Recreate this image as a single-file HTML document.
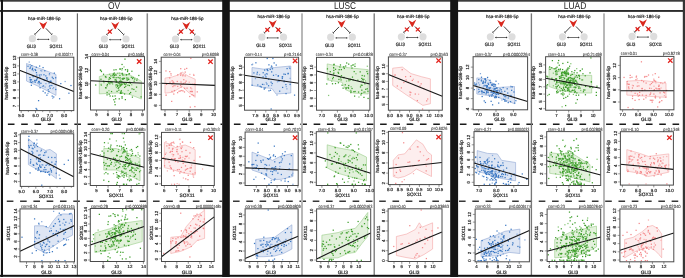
<!DOCTYPE html>
<html><head><meta charset="utf-8"><style>
html,body{margin:0;padding:0;background:#fff;}
svg{display:block;will-change:transform;}
text{font-family:"Liberation Sans",sans-serif;text-rendering:geometricPrecision;}
</style></head><body>
<svg width="685" height="278" viewBox="0 0 685 278" font-family="Liberation Sans, sans-serif">
<rect width="685" height="278" fill="#ffffff"/>
<text x="114.00" y="8.85" font-size="9.9" fill="#262626" text-anchor="middle" textLength="12.20" lengthAdjust="spacingAndGlyphs" >OV</text>
<text x="345.00" y="8.85" font-size="9.9" fill="#262626" text-anchor="middle" textLength="22.20" lengthAdjust="spacingAndGlyphs" >LUSC</text>
<text x="575.00" y="8.85" font-size="9.9" fill="#262626" text-anchor="middle" textLength="22.40" lengthAdjust="spacingAndGlyphs" >LUAD</text>
<rect x="0" y="10.1" width="685" height="1.7" fill="#151515"/>
<line x1="2.90" y1="124.3" x2="222.20" y2="124.3" stroke="#1a1a1a" stroke-width="1.5" stroke-dasharray="6.6 6.69" stroke-dashoffset="-5.0"/>
<line x1="2.90" y1="201.2" x2="222.20" y2="201.2" stroke="#383838" stroke-width="1.5" stroke-dasharray="6.6 6.69" stroke-dashoffset="-3.9"/>
<line x1="229.80" y1="124.3" x2="450.20" y2="124.3" stroke="#1a1a1a" stroke-width="1.5" stroke-dasharray="6.6 6.69" stroke-dashoffset="-4.1"/>
<line x1="229.80" y1="201.2" x2="450.20" y2="201.2" stroke="#383838" stroke-width="1.5" stroke-dasharray="6.6 6.69" stroke-dashoffset="-3.2"/>
<line x1="457.90" y1="124.3" x2="682.70" y2="124.3" stroke="#1a1a1a" stroke-width="1.5" stroke-dasharray="6.6 6.69" stroke-dashoffset="-2.0"/>
<line x1="457.90" y1="201.2" x2="682.70" y2="201.2" stroke="#383838" stroke-width="1.5" stroke-dasharray="6.6 6.69" stroke-dashoffset="-1.1"/>
<rect x="76.83" y="13.4" width="1.15" height="262" fill="#666"/>
<rect x="146.55" y="13.4" width="1.5" height="262" fill="#8c8c8c"/>
<rect x="301.00" y="13.4" width="2.0" height="262" fill="#b8b8b8"/>
<rect x="373.57" y="13.4" width="1.25" height="262" fill="#707070"/>
<rect x="530.73" y="13.4" width="1.35" height="262" fill="#777"/>
<rect x="603.00" y="13.4" width="2.0" height="262" fill="#b8b8b8"/>
<text x="44.30" y="19.80" font-size="4.5" fill="#222" text-anchor="middle" stroke="#222" stroke-width="0.18" textLength="32.50" lengthAdjust="spacingAndGlyphs" >hsa-miR-186-5p</text>
<path d="M39.20,22.00L43.30,24.10L47.30,21.50L43.90,28.40L43.30,29.00L42.70,28.40Z" fill="#d9281e"/>
<line x1="40.70" y1="28.40" x2="34.90" y2="34.40" stroke="#2a2a2a" stroke-width="0.9"/>
<line x1="35.69" y1="35.16" x2="34.11" y2="33.64" stroke="#333" stroke-width="0.8"/>
<line x1="45.90" y1="28.40" x2="51.70" y2="34.40" stroke="#2a2a2a" stroke-width="0.9"/>
<line x1="52.49" y1="33.64" x2="50.91" y2="35.16" stroke="#333" stroke-width="0.8"/>
<circle cx="32.40" cy="38.70" r="3.6" fill="#dddddd"/>
<circle cx="54.00" cy="38.70" r="3.6" fill="#dddddd"/>
<line x1="37.80" y1="39.40" x2="48.60" y2="39.40" stroke="#333" stroke-width="0.7"/>
<path d="M36.80,39.40l1.6,-0.9v1.8z M49.60,39.40l-1.6,-0.9v1.8z" fill="#333"/>
<text x="31.20" y="48.00" font-size="4.8" fill="#222" text-anchor="middle" stroke="#222" stroke-width="0.18" textLength="9.00" lengthAdjust="spacingAndGlyphs" >GLI3</text>
<text x="56.00" y="48.00" font-size="4.8" fill="#222" text-anchor="middle" stroke="#222" stroke-width="0.18" textLength="12.90" lengthAdjust="spacingAndGlyphs" >SOX11</text>
<text x="116.30" y="20.10" font-size="4.5" fill="#222" text-anchor="middle" stroke="#222" stroke-width="0.18" textLength="32.50" lengthAdjust="spacingAndGlyphs" >hsa-miR-186-5p</text>
<path d="M111.20,22.30L115.30,24.40L119.30,21.80L115.90,28.70L115.30,29.30L114.70,28.70Z" fill="#d9281e"/>
<line x1="112.70" y1="28.70" x2="106.90" y2="34.70" stroke="#2a2a2a" stroke-width="0.9"/>
<line x1="107.69" y1="35.46" x2="106.11" y2="33.94" stroke="#333" stroke-width="0.8"/>
<path d="M107.90,29.80L111.70,33.60M107.90,33.60L111.70,29.80" stroke="#e3211c" stroke-width="1.3" fill="none"/>
<line x1="117.90" y1="28.70" x2="123.70" y2="34.70" stroke="#2a2a2a" stroke-width="0.9"/>
<line x1="124.49" y1="33.94" x2="122.91" y2="35.46" stroke="#333" stroke-width="0.8"/>
<circle cx="104.40" cy="39.00" r="3.6" fill="#dddddd"/>
<circle cx="126.00" cy="39.00" r="3.6" fill="#dddddd"/>
<line x1="109.80" y1="39.70" x2="120.60" y2="39.70" stroke="#333" stroke-width="0.7"/>
<path d="M108.80,39.70l1.6,-0.9v1.8z M121.60,39.70l-1.6,-0.9v1.8z" fill="#333"/>
<text x="103.20" y="48.30" font-size="4.8" fill="#222" text-anchor="middle" stroke="#222" stroke-width="0.18" textLength="9.00" lengthAdjust="spacingAndGlyphs" >GLI3</text>
<text x="128.00" y="48.30" font-size="4.8" fill="#222" text-anchor="middle" stroke="#222" stroke-width="0.18" textLength="12.90" lengthAdjust="spacingAndGlyphs" >SOX11</text>
<text x="187.40" y="20.10" font-size="4.5" fill="#222" text-anchor="middle" stroke="#222" stroke-width="0.18" textLength="32.50" lengthAdjust="spacingAndGlyphs" >hsa-miR-186-5p</text>
<path d="M182.30,22.30L186.40,24.40L190.40,21.80L187.00,28.70L186.40,29.30L185.80,28.70Z" fill="#d9281e"/>
<line x1="183.80" y1="28.70" x2="178.00" y2="34.70" stroke="#2a2a2a" stroke-width="0.9"/>
<line x1="178.79" y1="35.46" x2="177.21" y2="33.94" stroke="#333" stroke-width="0.8"/>
<path d="M179.00,29.80L182.80,33.60M179.00,33.60L182.80,29.80" stroke="#e3211c" stroke-width="1.3" fill="none"/>
<line x1="189.00" y1="28.70" x2="194.80" y2="34.70" stroke="#2a2a2a" stroke-width="0.9"/>
<line x1="195.59" y1="33.94" x2="194.01" y2="35.46" stroke="#333" stroke-width="0.8"/>
<path d="M190.00,29.80L193.80,33.60M190.00,33.60L193.80,29.80" stroke="#e3211c" stroke-width="1.3" fill="none"/>
<circle cx="175.50" cy="39.00" r="3.6" fill="#dddddd"/>
<circle cx="197.10" cy="39.00" r="3.6" fill="#dddddd"/>
<line x1="180.90" y1="39.70" x2="191.70" y2="39.70" stroke="#333" stroke-width="0.7"/>
<path d="M179.90,39.70l1.6,-0.9v1.8z M192.70,39.70l-1.6,-0.9v1.8z" fill="#333"/>
<text x="174.30" y="48.30" font-size="4.8" fill="#222" text-anchor="middle" stroke="#222" stroke-width="0.18" textLength="9.00" lengthAdjust="spacingAndGlyphs" >GLI3</text>
<text x="199.10" y="48.30" font-size="4.8" fill="#222" text-anchor="middle" stroke="#222" stroke-width="0.18" textLength="12.90" lengthAdjust="spacingAndGlyphs" >SOX11</text>
<text x="273.80" y="18.30" font-size="4.5" fill="#222" text-anchor="middle" stroke="#222" stroke-width="0.18" textLength="32.50" lengthAdjust="spacingAndGlyphs" >hsa-miR-186-5p</text>
<path d="M268.70,20.50L272.80,22.60L276.80,20.00L273.40,26.90L272.80,27.50L272.20,26.90Z" fill="#d9281e"/>
<line x1="270.20" y1="26.90" x2="264.40" y2="32.90" stroke="#2a2a2a" stroke-width="0.9"/>
<line x1="265.19" y1="33.66" x2="263.61" y2="32.14" stroke="#333" stroke-width="0.8"/>
<path d="M265.40,28.00L269.20,31.80M265.40,31.80L269.20,28.00" stroke="#e3211c" stroke-width="1.3" fill="none"/>
<line x1="275.40" y1="26.90" x2="281.20" y2="32.90" stroke="#2a2a2a" stroke-width="0.9"/>
<line x1="281.99" y1="32.14" x2="280.41" y2="33.66" stroke="#333" stroke-width="0.8"/>
<path d="M276.40,28.00L280.20,31.80M276.40,31.80L280.20,28.00" stroke="#e3211c" stroke-width="1.3" fill="none"/>
<circle cx="261.90" cy="37.20" r="3.6" fill="#dddddd"/>
<circle cx="283.50" cy="37.20" r="3.6" fill="#dddddd"/>
<line x1="267.30" y1="37.90" x2="278.10" y2="37.90" stroke="#333" stroke-width="0.7"/>
<path d="M266.30,37.90l1.6,-0.9v1.8z M279.10,37.90l-1.6,-0.9v1.8z" fill="#333"/>
<text x="260.70" y="46.50" font-size="4.8" fill="#222" text-anchor="middle" stroke="#222" stroke-width="0.18" textLength="9.00" lengthAdjust="spacingAndGlyphs" >GLI3</text>
<text x="285.50" y="46.50" font-size="4.8" fill="#222" text-anchor="middle" stroke="#222" stroke-width="0.18" textLength="12.90" lengthAdjust="spacingAndGlyphs" >SOX11</text>
<text x="342.60" y="18.30" font-size="4.5" fill="#222" text-anchor="middle" stroke="#222" stroke-width="0.18" textLength="32.50" lengthAdjust="spacingAndGlyphs" >hsa-miR-186-5p</text>
<path d="M337.50,20.50L341.60,22.60L345.60,20.00L342.20,26.90L341.60,27.50L341.00,26.90Z" fill="#d9281e"/>
<line x1="339.00" y1="26.90" x2="333.20" y2="32.90" stroke="#2a2a2a" stroke-width="0.9"/>
<line x1="333.99" y1="33.66" x2="332.41" y2="32.14" stroke="#333" stroke-width="0.8"/>
<line x1="344.20" y1="26.90" x2="350.00" y2="32.90" stroke="#2a2a2a" stroke-width="0.9"/>
<line x1="350.79" y1="32.14" x2="349.21" y2="33.66" stroke="#333" stroke-width="0.8"/>
<circle cx="330.70" cy="37.20" r="3.6" fill="#dddddd"/>
<circle cx="352.30" cy="37.20" r="3.6" fill="#dddddd"/>
<line x1="336.10" y1="37.90" x2="346.90" y2="37.90" stroke="#333" stroke-width="0.7"/>
<path d="M335.10,37.90l1.6,-0.9v1.8z M347.90,37.90l-1.6,-0.9v1.8z" fill="#333"/>
<text x="329.50" y="46.50" font-size="4.8" fill="#222" text-anchor="middle" stroke="#222" stroke-width="0.18" textLength="9.00" lengthAdjust="spacingAndGlyphs" >GLI3</text>
<text x="354.30" y="46.50" font-size="4.8" fill="#222" text-anchor="middle" stroke="#222" stroke-width="0.18" textLength="12.90" lengthAdjust="spacingAndGlyphs" >SOX11</text>
<text x="413.30" y="17.90" font-size="4.5" fill="#222" text-anchor="middle" stroke="#222" stroke-width="0.18" textLength="32.50" lengthAdjust="spacingAndGlyphs" >hsa-miR-186-5p</text>
<path d="M408.20,20.10L412.30,22.20L416.30,19.60L412.90,26.50L412.30,27.10L411.70,26.50Z" fill="#d9281e"/>
<line x1="409.70" y1="26.50" x2="403.90" y2="32.50" stroke="#2a2a2a" stroke-width="0.9"/>
<line x1="404.69" y1="33.26" x2="403.11" y2="31.74" stroke="#333" stroke-width="0.8"/>
<path d="M404.90,27.60L408.70,31.40M404.90,31.40L408.70,27.60" stroke="#e3211c" stroke-width="1.3" fill="none"/>
<line x1="414.90" y1="26.50" x2="420.70" y2="32.50" stroke="#2a2a2a" stroke-width="0.9"/>
<line x1="421.49" y1="31.74" x2="419.91" y2="33.26" stroke="#333" stroke-width="0.8"/>
<path d="M415.90,27.60L419.70,31.40M415.90,31.40L419.70,27.60" stroke="#e3211c" stroke-width="1.3" fill="none"/>
<circle cx="401.40" cy="36.80" r="3.6" fill="#dddddd"/>
<circle cx="423.00" cy="36.80" r="3.6" fill="#dddddd"/>
<line x1="406.80" y1="37.50" x2="417.60" y2="37.50" stroke="#333" stroke-width="0.7"/>
<path d="M405.80,37.50l1.6,-0.9v1.8z M418.60,37.50l-1.6,-0.9v1.8z" fill="#333"/>
<text x="400.20" y="46.10" font-size="4.8" fill="#222" text-anchor="middle" stroke="#222" stroke-width="0.18" textLength="9.00" lengthAdjust="spacingAndGlyphs" >GLI3</text>
<text x="425.00" y="46.10" font-size="4.8" fill="#222" text-anchor="middle" stroke="#222" stroke-width="0.18" textLength="12.90" lengthAdjust="spacingAndGlyphs" >SOX11</text>
<text x="502.30" y="17.90" font-size="4.5" fill="#222" text-anchor="middle" stroke="#222" stroke-width="0.18" textLength="32.50" lengthAdjust="spacingAndGlyphs" >hsa-miR-186-5p</text>
<path d="M497.20,20.10L501.30,22.20L505.30,19.60L501.90,26.50L501.30,27.10L500.70,26.50Z" fill="#d9281e"/>
<line x1="498.70" y1="26.50" x2="492.90" y2="32.50" stroke="#2a2a2a" stroke-width="0.9"/>
<line x1="493.69" y1="33.26" x2="492.11" y2="31.74" stroke="#333" stroke-width="0.8"/>
<line x1="503.90" y1="26.50" x2="509.70" y2="32.50" stroke="#2a2a2a" stroke-width="0.9"/>
<line x1="510.49" y1="31.74" x2="508.91" y2="33.26" stroke="#333" stroke-width="0.8"/>
<circle cx="490.40" cy="36.80" r="3.6" fill="#dddddd"/>
<circle cx="512.00" cy="36.80" r="3.6" fill="#dddddd"/>
<line x1="495.80" y1="37.50" x2="506.60" y2="37.50" stroke="#333" stroke-width="0.7"/>
<path d="M494.80,37.50l1.6,-0.9v1.8z M507.60,37.50l-1.6,-0.9v1.8z" fill="#333"/>
<text x="489.20" y="46.10" font-size="4.8" fill="#222" text-anchor="middle" stroke="#222" stroke-width="0.18" textLength="9.00" lengthAdjust="spacingAndGlyphs" >GLI3</text>
<text x="514.00" y="46.10" font-size="4.8" fill="#222" text-anchor="middle" stroke="#222" stroke-width="0.18" textLength="12.90" lengthAdjust="spacingAndGlyphs" >SOX11</text>
<text x="574.40" y="17.90" font-size="4.5" fill="#222" text-anchor="middle" stroke="#222" stroke-width="0.18" textLength="32.50" lengthAdjust="spacingAndGlyphs" >hsa-miR-186-5p</text>
<path d="M569.30,20.10L573.40,22.20L577.40,19.60L574.00,26.50L573.40,27.10L572.80,26.50Z" fill="#d9281e"/>
<line x1="570.80" y1="26.50" x2="565.00" y2="32.50" stroke="#2a2a2a" stroke-width="0.9"/>
<line x1="565.79" y1="33.26" x2="564.21" y2="31.74" stroke="#333" stroke-width="0.8"/>
<line x1="576.00" y1="26.50" x2="581.80" y2="32.50" stroke="#2a2a2a" stroke-width="0.9"/>
<line x1="582.59" y1="31.74" x2="581.01" y2="33.26" stroke="#333" stroke-width="0.8"/>
<circle cx="562.50" cy="36.80" r="3.6" fill="#dddddd"/>
<circle cx="584.10" cy="36.80" r="3.6" fill="#dddddd"/>
<line x1="567.90" y1="37.50" x2="578.70" y2="37.50" stroke="#333" stroke-width="0.7"/>
<path d="M566.90,37.50l1.6,-0.9v1.8z M579.70,37.50l-1.6,-0.9v1.8z" fill="#333"/>
<text x="561.30" y="46.10" font-size="4.8" fill="#222" text-anchor="middle" stroke="#222" stroke-width="0.18" textLength="9.00" lengthAdjust="spacingAndGlyphs" >GLI3</text>
<text x="586.10" y="46.10" font-size="4.8" fill="#222" text-anchor="middle" stroke="#222" stroke-width="0.18" textLength="12.90" lengthAdjust="spacingAndGlyphs" >SOX11</text>
<text x="644.00" y="17.50" font-size="4.5" fill="#222" text-anchor="middle" stroke="#222" stroke-width="0.18" textLength="32.50" lengthAdjust="spacingAndGlyphs" >hsa-miR-186-5p</text>
<path d="M638.90,19.70L643.00,21.80L647.00,19.20L643.60,26.10L643.00,26.70L642.40,26.10Z" fill="#d9281e"/>
<line x1="640.40" y1="26.10" x2="634.60" y2="32.10" stroke="#2a2a2a" stroke-width="0.9"/>
<line x1="635.39" y1="32.86" x2="633.81" y2="31.34" stroke="#333" stroke-width="0.8"/>
<path d="M635.60,27.20L639.40,31.00M635.60,31.00L639.40,27.20" stroke="#e3211c" stroke-width="1.3" fill="none"/>
<line x1="645.60" y1="26.10" x2="651.40" y2="32.10" stroke="#2a2a2a" stroke-width="0.9"/>
<line x1="652.19" y1="31.34" x2="650.61" y2="32.86" stroke="#333" stroke-width="0.8"/>
<path d="M646.60,27.20L650.40,31.00M646.60,31.00L650.40,27.20" stroke="#e3211c" stroke-width="1.3" fill="none"/>
<circle cx="632.10" cy="36.40" r="3.6" fill="#dddddd"/>
<circle cx="653.70" cy="36.40" r="3.6" fill="#dddddd"/>
<line x1="637.50" y1="37.10" x2="648.30" y2="37.10" stroke="#333" stroke-width="0.7"/>
<path d="M636.50,37.10l1.6,-0.9v1.8z M649.30,37.10l-1.6,-0.9v1.8z" fill="#333"/>
<text x="630.90" y="45.70" font-size="4.8" fill="#222" text-anchor="middle" stroke="#222" stroke-width="0.18" textLength="9.00" lengthAdjust="spacingAndGlyphs" >GLI3</text>
<text x="655.70" y="45.70" font-size="4.8" fill="#222" text-anchor="middle" stroke="#222" stroke-width="0.18" textLength="12.90" lengthAdjust="spacingAndGlyphs" >SOX11</text>
<polygon points="26.50,63.50 40.00,68.50 56.00,74.50 56.00,95.40 40.00,87.00 26.50,81.00" fill="#dee6f4" stroke="#8ea6d3" stroke-width="0.6"/>
<rect x="39.18" y="76.43" width="1.25" height="1.25" fill="#3b78c3"/>
<rect x="38.01" y="81.01" width="1.25" height="1.25" fill="#3b78c3"/>
<rect x="31.87" y="67.68" width="1.25" height="1.25" fill="#3b78c3"/>
<rect x="70.36" y="84.91" width="1.25" height="1.25" fill="#3b78c3"/>
<rect x="52.08" y="97.54" width="1.25" height="1.25" fill="#86a9da"/>
<rect x="34.25" y="80.33" width="1.25" height="1.25" fill="#3b78c3"/>
<rect x="28.62" y="61.42" width="1.25" height="1.25" fill="#86a9da"/>
<rect x="48.89" y="73.20" width="1.25" height="1.25" fill="#3b78c3"/>
<rect x="45.31" y="83.00" width="1.25" height="1.25" fill="#86a9da"/>
<rect x="49.71" y="80.65" width="1.25" height="1.25" fill="#3b78c3"/>
<rect x="35.58" y="79.86" width="1.25" height="1.25" fill="#3b78c3"/>
<rect x="34.50" y="75.65" width="1.25" height="1.25" fill="#86a9da"/>
<rect x="31.94" y="68.52" width="1.25" height="1.25" fill="#3b78c3"/>
<rect x="34.51" y="68.91" width="1.25" height="1.25" fill="#3b78c3"/>
<rect x="51.59" y="95.46" width="1.25" height="1.25" fill="#3b78c3"/>
<rect x="29.38" y="67.81" width="1.25" height="1.25" fill="#3b78c3"/>
<rect x="30.76" y="84.66" width="1.25" height="1.25" fill="#3b78c3"/>
<rect x="52.98" y="86.95" width="1.25" height="1.25" fill="#86a9da"/>
<rect x="64.52" y="80.89" width="1.25" height="1.25" fill="#86a9da"/>
<rect x="29.81" y="66.47" width="1.25" height="1.25" fill="#3b78c3"/>
<rect x="44.52" y="86.46" width="1.25" height="1.25" fill="#86a9da"/>
<rect x="30.85" y="79.14" width="1.25" height="1.25" fill="#3b78c3"/>
<rect x="44.18" y="70.15" width="1.25" height="1.25" fill="#3b78c3"/>
<rect x="38.82" y="84.16" width="1.25" height="1.25" fill="#86a9da"/>
<rect x="48.72" y="85.97" width="1.25" height="1.25" fill="#86a9da"/>
<rect x="39.47" y="87.07" width="1.25" height="1.25" fill="#3b78c3"/>
<rect x="46.54" y="79.29" width="1.25" height="1.25" fill="#3b78c3"/>
<rect x="36.12" y="79.06" width="1.25" height="1.25" fill="#3b78c3"/>
<rect x="68.30" y="92.58" width="1.25" height="1.25" fill="#3b78c3"/>
<rect x="53.13" y="96.35" width="1.25" height="1.25" fill="#3b78c3"/>
<rect x="46.28" y="94.59" width="1.25" height="1.25" fill="#3b78c3"/>
<rect x="32.84" y="70.12" width="1.25" height="1.25" fill="#86a9da"/>
<rect x="31.59" y="69.09" width="1.25" height="1.25" fill="#3b78c3"/>
<rect x="48.45" y="82.25" width="1.25" height="1.25" fill="#3b78c3"/>
<rect x="30.88" y="81.75" width="1.25" height="1.25" fill="#3b78c3"/>
<rect x="47.64" y="89.20" width="1.25" height="1.25" fill="#3b78c3"/>
<rect x="38.83" y="82.17" width="1.25" height="1.25" fill="#3b78c3"/>
<rect x="53.74" y="72.52" width="1.25" height="1.25" fill="#3b78c3"/>
<rect x="50.47" y="80.62" width="1.25" height="1.25" fill="#3b78c3"/>
<rect x="32.20" y="81.19" width="1.25" height="1.25" fill="#3b78c3"/>
<rect x="46.42" y="77.27" width="1.25" height="1.25" fill="#3b78c3"/>
<rect x="36.61" y="77.73" width="1.25" height="1.25" fill="#3b78c3"/>
<rect x="49.55" y="87.62" width="1.25" height="1.25" fill="#3b78c3"/>
<rect x="58.96" y="98.11" width="1.25" height="1.25" fill="#3b78c3"/>
<rect x="42.51" y="90.59" width="1.25" height="1.25" fill="#3b78c3"/>
<rect x="40.46" y="74.24" width="1.25" height="1.25" fill="#3b78c3"/>
<rect x="42.44" y="66.96" width="1.25" height="1.25" fill="#3b78c3"/>
<rect x="36.19" y="74.41" width="1.25" height="1.25" fill="#3b78c3"/>
<rect x="47.28" y="92.85" width="1.25" height="1.25" fill="#86a9da"/>
<rect x="29.33" y="77.03" width="1.25" height="1.25" fill="#3b78c3"/>
<rect x="39.01" y="65.44" width="1.25" height="1.25" fill="#3b78c3"/>
<rect x="44.10" y="79.77" width="1.25" height="1.25" fill="#3b78c3"/>
<rect x="29.75" y="79.39" width="1.25" height="1.25" fill="#3b78c3"/>
<rect x="38.75" y="74.49" width="1.25" height="1.25" fill="#3b78c3"/>
<rect x="60.18" y="82.97" width="1.25" height="1.25" fill="#3b78c3"/>
<rect x="48.78" y="74.11" width="1.25" height="1.25" fill="#86a9da"/>
<rect x="52.61" y="77.87" width="1.25" height="1.25" fill="#3b78c3"/>
<rect x="38.55" y="80.79" width="1.25" height="1.25" fill="#3b78c3"/>
<rect x="44.54" y="92.22" width="1.25" height="1.25" fill="#3b78c3"/>
<rect x="29.72" y="78.99" width="1.25" height="1.25" fill="#3b78c3"/>
<rect x="49.37" y="84.95" width="1.25" height="1.25" fill="#3b78c3"/>
<rect x="51.16" y="84.90" width="1.25" height="1.25" fill="#3b78c3"/>
<rect x="34.19" y="79.77" width="1.25" height="1.25" fill="#3b78c3"/>
<rect x="42.91" y="79.32" width="1.25" height="1.25" fill="#86a9da"/>
<rect x="29.81" y="81.29" width="1.25" height="1.25" fill="#3b78c3"/>
<rect x="52.25" y="87.99" width="1.25" height="1.25" fill="#86a9da"/>
<rect x="55.03" y="77.15" width="1.25" height="1.25" fill="#3b78c3"/>
<rect x="35.83" y="72.00" width="1.25" height="1.25" fill="#3b78c3"/>
<rect x="40.16" y="69.92" width="1.25" height="1.25" fill="#86a9da"/>
<rect x="41.08" y="70.31" width="1.25" height="1.25" fill="#86a9da"/>
<rect x="41.83" y="85.79" width="1.25" height="1.25" fill="#86a9da"/>
<rect x="45.96" y="77.55" width="1.25" height="1.25" fill="#3b78c3"/>
<rect x="37.95" y="100.02" width="1.25" height="1.25" fill="#3b78c3"/>
<rect x="35.73" y="66.63" width="1.25" height="1.25" fill="#3b78c3"/>
<rect x="32.48" y="75.99" width="1.25" height="1.25" fill="#3b78c3"/>
<rect x="35.51" y="107.87" width="1.25" height="1.25" fill="#3b78c3"/>
<rect x="37.46" y="82.27" width="1.25" height="1.25" fill="#3b78c3"/>
<rect x="27.37" y="65.62" width="1.25" height="1.25" fill="#3b78c3"/>
<rect x="40.32" y="82.67" width="1.25" height="1.25" fill="#3b78c3"/>
<rect x="51.66" y="76.63" width="1.25" height="1.25" fill="#3b78c3"/>
<rect x="31.18" y="65.09" width="1.25" height="1.25" fill="#3b78c3"/>
<rect x="35.03" y="69.88" width="1.25" height="1.25" fill="#3b78c3"/>
<rect x="45.21" y="75.27" width="1.25" height="1.25" fill="#3b78c3"/>
<rect x="34.55" y="81.67" width="1.25" height="1.25" fill="#3b78c3"/>
<rect x="36.20" y="108.78" width="1.25" height="1.25" fill="#3b78c3"/>
<rect x="43.32" y="74.13" width="1.25" height="1.25" fill="#3b78c3"/>
<rect x="29.55" y="64.01" width="1.25" height="1.25" fill="#86a9da"/>
<rect x="48.29" y="90.94" width="1.25" height="1.25" fill="#3b78c3"/>
<rect x="55.15" y="88.88" width="1.25" height="1.25" fill="#3b78c3"/>
<rect x="42.87" y="85.31" width="1.25" height="1.25" fill="#3b78c3"/>
<line x1="19.50" y1="70.30" x2="73.80" y2="91.60" stroke="#161616" stroke-width="1.08"/>
<rect x="19.50" y="57.20" width="54.30" height="53.40" fill="none" stroke="#4a4a4a" stroke-width="1.0"/>
<line x1="21.20" y1="110.60" x2="21.20" y2="112.90" stroke="#444" stroke-width="0.6"/>
<text x="21.20" y="117.00" font-size="4.4" fill="#222" text-anchor="middle" stroke="#222" stroke-width="0.18" >5.0</text>
<line x1="35.53" y1="110.60" x2="35.53" y2="112.90" stroke="#444" stroke-width="0.6"/>
<text x="35.53" y="117.00" font-size="4.4" fill="#222" text-anchor="middle" stroke="#222" stroke-width="0.18" >6.0</text>
<line x1="49.86" y1="110.60" x2="49.86" y2="112.90" stroke="#444" stroke-width="0.6"/>
<text x="49.86" y="117.00" font-size="4.4" fill="#222" text-anchor="middle" stroke="#222" stroke-width="0.18" >7.0</text>
<line x1="64.19" y1="110.60" x2="64.19" y2="112.90" stroke="#444" stroke-width="0.6"/>
<text x="64.19" y="117.00" font-size="4.4" fill="#222" text-anchor="middle" stroke="#222" stroke-width="0.18" >8.0</text>
<line x1="28.37" y1="110.60" x2="28.37" y2="112.10" stroke="#555" stroke-width="0.6"/>
<line x1="42.70" y1="110.60" x2="42.70" y2="112.10" stroke="#555" stroke-width="0.6"/>
<line x1="57.02" y1="110.60" x2="57.02" y2="112.10" stroke="#555" stroke-width="0.6"/>
<line x1="71.35" y1="110.60" x2="71.35" y2="112.10" stroke="#555" stroke-width="0.6"/>
<line x1="17.20" y1="105.90" x2="19.50" y2="105.90" stroke="#555" stroke-width="0.6"/>
<text x="16.08" y="105.90" font-size="4.4" fill="#222" text-anchor="middle" stroke="#222" stroke-width="0.18" transform="rotate(-90 16.08 105.90)" >7</text>
<line x1="17.20" y1="97.90" x2="19.50" y2="97.90" stroke="#555" stroke-width="0.6"/>
<text x="16.08" y="97.90" font-size="4.4" fill="#222" text-anchor="middle" stroke="#222" stroke-width="0.18" transform="rotate(-90 16.08 97.90)" >8</text>
<line x1="17.20" y1="89.90" x2="19.50" y2="89.90" stroke="#555" stroke-width="0.6"/>
<text x="16.08" y="89.90" font-size="4.4" fill="#222" text-anchor="middle" stroke="#222" stroke-width="0.18" transform="rotate(-90 16.08 89.90)" >9</text>
<line x1="17.20" y1="81.90" x2="19.50" y2="81.90" stroke="#555" stroke-width="0.6"/>
<text x="16.08" y="81.90" font-size="4.4" fill="#222" text-anchor="middle" stroke="#222" stroke-width="0.18" transform="rotate(-90 16.08 81.90)" >10</text>
<line x1="17.20" y1="73.90" x2="19.50" y2="73.90" stroke="#555" stroke-width="0.6"/>
<text x="16.08" y="73.90" font-size="4.4" fill="#222" text-anchor="middle" stroke="#222" stroke-width="0.18" transform="rotate(-90 16.08 73.90)" >11</text>
<line x1="17.20" y1="65.90" x2="19.50" y2="65.90" stroke="#555" stroke-width="0.6"/>
<text x="16.08" y="65.90" font-size="4.4" fill="#222" text-anchor="middle" stroke="#222" stroke-width="0.18" transform="rotate(-90 16.08 65.90)" >12</text>
<line x1="17.20" y1="57.90" x2="19.50" y2="57.90" stroke="#555" stroke-width="0.6"/>
<text x="16.08" y="57.90" font-size="4.4" fill="#222" text-anchor="middle" stroke="#222" stroke-width="0.18" transform="rotate(-90 16.08 57.90)" >13</text>
<text x="45.85" y="121.30" font-size="4.8" fill="#222" text-anchor="middle" stroke="#222" stroke-width="0.18" >GLI3</text>
<text x="8.15" y="83.10" font-size="4.6" fill="#111" text-anchor="middle" stroke="#111" stroke-width="0.18" transform="rotate(-90 8.15 83.10)" >hsa-miR-186-5p</text>
<text x="21.10" y="56.20" font-size="4.5" fill="#2a2a2a" text-anchor="start" stroke="#2a2a2a" stroke-width="0.06" textLength="16.70" lengthAdjust="spacingAndGlyphs" >corr=-0.38</text>
<text x="55.30" y="56.20" font-size="4.5" fill="#2a2a2a" text-anchor="start" stroke="#2a2a2a" stroke-width="0.06" textLength="17.80" lengthAdjust="spacingAndGlyphs" >p=0.000277</text>
<polygon points="99.30,76.50 110.00,74.00 118.80,73.00 130.00,75.00 141.40,81.20 141.40,99.00 130.00,94.50 118.80,92.90 110.00,93.30 99.30,93.90" fill="#e3f1dc" stroke="#99cc88" stroke-width="0.6"/>
<rect x="131.78" y="96.52" width="1.25" height="1.25" fill="#3d9e2b"/>
<rect x="128.33" y="73.39" width="1.25" height="1.25" fill="#3d9e2b"/>
<rect x="128.97" y="93.08" width="1.25" height="1.25" fill="#3d9e2b"/>
<rect x="112.05" y="95.55" width="1.25" height="1.25" fill="#3d9e2b"/>
<rect x="106.48" y="91.79" width="1.25" height="1.25" fill="#3d9e2b"/>
<rect x="130.70" y="76.64" width="1.25" height="1.25" fill="#3d9e2b"/>
<rect x="135.92" y="86.51" width="1.25" height="1.25" fill="#3d9e2b"/>
<rect x="124.36" y="58.51" width="1.25" height="1.25" fill="#3d9e2b"/>
<rect x="110.27" y="75.28" width="1.25" height="1.25" fill="#3d9e2b"/>
<rect x="119.99" y="79.72" width="1.25" height="1.25" fill="#3d9e2b"/>
<rect x="125.58" y="83.15" width="1.25" height="1.25" fill="#3d9e2b"/>
<rect x="114.47" y="95.34" width="1.25" height="1.25" fill="#3d9e2b"/>
<rect x="128.76" y="84.91" width="1.25" height="1.25" fill="#3d9e2b"/>
<rect x="115.90" y="81.07" width="1.25" height="1.25" fill="#3d9e2b"/>
<rect x="136.67" y="78.24" width="1.25" height="1.25" fill="#86c777"/>
<rect x="103.31" y="82.00" width="1.25" height="1.25" fill="#86c777"/>
<rect x="112.03" y="83.47" width="1.25" height="1.25" fill="#86c777"/>
<rect x="118.61" y="98.23" width="1.25" height="1.25" fill="#3d9e2b"/>
<rect x="120.53" y="83.37" width="1.25" height="1.25" fill="#3d9e2b"/>
<rect x="108.56" y="93.64" width="1.25" height="1.25" fill="#3d9e2b"/>
<rect x="120.33" y="83.71" width="1.25" height="1.25" fill="#3d9e2b"/>
<rect x="127.13" y="77.69" width="1.25" height="1.25" fill="#86c777"/>
<rect x="125.95" y="76.99" width="1.25" height="1.25" fill="#86c777"/>
<rect x="119.26" y="74.80" width="1.25" height="1.25" fill="#3d9e2b"/>
<rect x="109.29" y="81.51" width="1.25" height="1.25" fill="#3d9e2b"/>
<rect x="115.00" y="98.14" width="1.25" height="1.25" fill="#3d9e2b"/>
<rect x="125.62" y="74.38" width="1.25" height="1.25" fill="#3d9e2b"/>
<rect x="126.07" y="74.13" width="1.25" height="1.25" fill="#3d9e2b"/>
<rect x="121.20" y="80.92" width="1.25" height="1.25" fill="#3d9e2b"/>
<rect x="112.84" y="73.70" width="1.25" height="1.25" fill="#3d9e2b"/>
<rect x="127.52" y="89.85" width="1.25" height="1.25" fill="#86c777"/>
<rect x="126.93" y="70.91" width="1.25" height="1.25" fill="#3d9e2b"/>
<rect x="100.83" y="70.91" width="1.25" height="1.25" fill="#3d9e2b"/>
<rect x="140.44" y="96.26" width="1.25" height="1.25" fill="#3d9e2b"/>
<rect x="128.78" y="73.12" width="1.25" height="1.25" fill="#3d9e2b"/>
<rect x="113.64" y="72.41" width="1.25" height="1.25" fill="#3d9e2b"/>
<rect x="119.01" y="83.30" width="1.25" height="1.25" fill="#3d9e2b"/>
<rect x="119.32" y="68.39" width="1.25" height="1.25" fill="#3d9e2b"/>
<rect x="121.75" y="81.96" width="1.25" height="1.25" fill="#86c777"/>
<rect x="133.54" y="80.59" width="1.25" height="1.25" fill="#3d9e2b"/>
<rect x="117.40" y="82.05" width="1.25" height="1.25" fill="#3d9e2b"/>
<rect x="121.67" y="77.98" width="1.25" height="1.25" fill="#3d9e2b"/>
<rect x="119.75" y="92.77" width="1.25" height="1.25" fill="#3d9e2b"/>
<rect x="127.85" y="78.90" width="1.25" height="1.25" fill="#3d9e2b"/>
<rect x="134.08" y="78.43" width="1.25" height="1.25" fill="#3d9e2b"/>
<rect x="131.44" y="88.26" width="1.25" height="1.25" fill="#3d9e2b"/>
<rect x="131.90" y="77.93" width="1.25" height="1.25" fill="#3d9e2b"/>
<rect x="107.92" y="80.76" width="1.25" height="1.25" fill="#3d9e2b"/>
<rect x="121.63" y="67.94" width="1.25" height="1.25" fill="#3d9e2b"/>
<rect x="120.67" y="92.72" width="1.25" height="1.25" fill="#3d9e2b"/>
<rect x="103.03" y="80.66" width="1.25" height="1.25" fill="#3d9e2b"/>
<rect x="112.82" y="73.38" width="1.25" height="1.25" fill="#3d9e2b"/>
<rect x="105.38" y="76.56" width="1.25" height="1.25" fill="#3d9e2b"/>
<rect x="95.07" y="84.38" width="1.25" height="1.25" fill="#3d9e2b"/>
<rect x="120.18" y="81.02" width="1.25" height="1.25" fill="#3d9e2b"/>
<rect x="122.03" y="92.23" width="1.25" height="1.25" fill="#86c777"/>
<rect x="109.23" y="83.14" width="1.25" height="1.25" fill="#3d9e2b"/>
<rect x="126.31" y="78.22" width="1.25" height="1.25" fill="#3d9e2b"/>
<rect x="119.42" y="85.20" width="1.25" height="1.25" fill="#3d9e2b"/>
<rect x="123.87" y="77.69" width="1.25" height="1.25" fill="#3d9e2b"/>
<rect x="106.43" y="85.22" width="1.25" height="1.25" fill="#3d9e2b"/>
<rect x="118.76" y="77.62" width="1.25" height="1.25" fill="#86c777"/>
<rect x="118.21" y="89.56" width="1.25" height="1.25" fill="#3d9e2b"/>
<rect x="108.95" y="73.72" width="1.25" height="1.25" fill="#86c777"/>
<rect x="119.28" y="85.82" width="1.25" height="1.25" fill="#86c777"/>
<rect x="121.22" y="69.37" width="1.25" height="1.25" fill="#86c777"/>
<rect x="122.57" y="82.11" width="1.25" height="1.25" fill="#86c777"/>
<rect x="112.26" y="74.72" width="1.25" height="1.25" fill="#3d9e2b"/>
<rect x="123.06" y="81.99" width="1.25" height="1.25" fill="#3d9e2b"/>
<rect x="106.43" y="94.25" width="1.25" height="1.25" fill="#3d9e2b"/>
<rect x="126.81" y="68.95" width="1.25" height="1.25" fill="#86c777"/>
<rect x="128.10" y="78.62" width="1.25" height="1.25" fill="#3d9e2b"/>
<rect x="129.03" y="81.29" width="1.25" height="1.25" fill="#86c777"/>
<rect x="121.63" y="73.50" width="1.25" height="1.25" fill="#3d9e2b"/>
<rect x="126.56" y="79.51" width="1.25" height="1.25" fill="#3d9e2b"/>
<rect x="113.38" y="75.44" width="1.25" height="1.25" fill="#86c777"/>
<rect x="120.85" y="84.38" width="1.25" height="1.25" fill="#3d9e2b"/>
<rect x="132.49" y="76.98" width="1.25" height="1.25" fill="#3d9e2b"/>
<rect x="114.56" y="79.04" width="1.25" height="1.25" fill="#3d9e2b"/>
<rect x="131.26" y="70.63" width="1.25" height="1.25" fill="#3d9e2b"/>
<rect x="125.10" y="85.64" width="1.25" height="1.25" fill="#3d9e2b"/>
<rect x="124.76" y="99.00" width="1.25" height="1.25" fill="#3d9e2b"/>
<rect x="115.52" y="77.11" width="1.25" height="1.25" fill="#3d9e2b"/>
<rect x="100.14" y="69.73" width="1.25" height="1.25" fill="#3d9e2b"/>
<rect x="100.67" y="84.39" width="1.25" height="1.25" fill="#3d9e2b"/>
<rect x="108.89" y="77.03" width="1.25" height="1.25" fill="#3d9e2b"/>
<rect x="127.28" y="84.55" width="1.25" height="1.25" fill="#3d9e2b"/>
<rect x="105.38" y="76.89" width="1.25" height="1.25" fill="#86c777"/>
<rect x="117.61" y="87.75" width="1.25" height="1.25" fill="#3d9e2b"/>
<rect x="138.19" y="74.86" width="1.25" height="1.25" fill="#3d9e2b"/>
<rect x="129.99" y="91.89" width="1.25" height="1.25" fill="#3d9e2b"/>
<rect x="119.06" y="72.53" width="1.25" height="1.25" fill="#86c777"/>
<rect x="113.31" y="76.98" width="1.25" height="1.25" fill="#3d9e2b"/>
<rect x="135.18" y="90.76" width="1.25" height="1.25" fill="#86c777"/>
<rect x="115.84" y="86.86" width="1.25" height="1.25" fill="#86c777"/>
<rect x="129.75" y="82.58" width="1.25" height="1.25" fill="#3d9e2b"/>
<rect x="112.43" y="76.58" width="1.25" height="1.25" fill="#3d9e2b"/>
<rect x="117.05" y="72.77" width="1.25" height="1.25" fill="#86c777"/>
<rect x="111.39" y="82.20" width="1.25" height="1.25" fill="#3d9e2b"/>
<rect x="116.61" y="84.48" width="1.25" height="1.25" fill="#3d9e2b"/>
<rect x="115.39" y="69.07" width="1.25" height="1.25" fill="#3d9e2b"/>
<rect x="120.05" y="91.68" width="1.25" height="1.25" fill="#3d9e2b"/>
<rect x="121.62" y="72.71" width="1.25" height="1.25" fill="#3d9e2b"/>
<rect x="123.96" y="86.79" width="1.25" height="1.25" fill="#3d9e2b"/>
<rect x="123.40" y="66.30" width="1.25" height="1.25" fill="#86c777"/>
<rect x="121.42" y="96.10" width="1.25" height="1.25" fill="#3d9e2b"/>
<rect x="123.32" y="74.48" width="1.25" height="1.25" fill="#86c777"/>
<rect x="116.43" y="90.70" width="1.25" height="1.25" fill="#3d9e2b"/>
<rect x="123.62" y="82.45" width="1.25" height="1.25" fill="#86c777"/>
<rect x="121.48" y="97.50" width="1.25" height="1.25" fill="#3d9e2b"/>
<rect x="107.52" y="81.11" width="1.25" height="1.25" fill="#3d9e2b"/>
<rect x="136.16" y="79.55" width="1.25" height="1.25" fill="#3d9e2b"/>
<rect x="108.01" y="82.31" width="1.25" height="1.25" fill="#3d9e2b"/>
<rect x="115.58" y="84.13" width="1.25" height="1.25" fill="#3d9e2b"/>
<rect x="114.48" y="74.16" width="1.25" height="1.25" fill="#3d9e2b"/>
<rect x="116.93" y="85.86" width="1.25" height="1.25" fill="#3d9e2b"/>
<rect x="100.53" y="83.67" width="1.25" height="1.25" fill="#86c777"/>
<rect x="123.95" y="93.35" width="1.25" height="1.25" fill="#3d9e2b"/>
<rect x="117.50" y="76.87" width="1.25" height="1.25" fill="#3d9e2b"/>
<rect x="121.55" y="83.58" width="1.25" height="1.25" fill="#3d9e2b"/>
<rect x="123.78" y="82.67" width="1.25" height="1.25" fill="#86c777"/>
<rect x="114.03" y="101.34" width="1.25" height="1.25" fill="#3d9e2b"/>
<rect x="123.73" y="83.36" width="1.25" height="1.25" fill="#3d9e2b"/>
<rect x="113.35" y="69.34" width="1.25" height="1.25" fill="#3d9e2b"/>
<rect x="119.53" y="77.14" width="1.25" height="1.25" fill="#3d9e2b"/>
<rect x="104.81" y="76.04" width="1.25" height="1.25" fill="#3d9e2b"/>
<rect x="121.43" y="63.85" width="1.25" height="1.25" fill="#3d9e2b"/>
<rect x="108.31" y="90.13" width="1.25" height="1.25" fill="#86c777"/>
<rect x="109.78" y="77.86" width="1.25" height="1.25" fill="#3d9e2b"/>
<rect x="121.88" y="78.08" width="1.25" height="1.25" fill="#86c777"/>
<rect x="114.62" y="80.01" width="1.25" height="1.25" fill="#86c777"/>
<rect x="128.49" y="82.42" width="1.25" height="1.25" fill="#86c777"/>
<rect x="115.69" y="79.55" width="1.25" height="1.25" fill="#3d9e2b"/>
<rect x="113.92" y="74.83" width="1.25" height="1.25" fill="#3d9e2b"/>
<rect x="127.23" y="77.30" width="1.25" height="1.25" fill="#86c777"/>
<rect x="118.28" y="86.88" width="1.25" height="1.25" fill="#3d9e2b"/>
<rect x="119.03" y="80.88" width="1.25" height="1.25" fill="#3d9e2b"/>
<rect x="113.24" y="99.11" width="1.25" height="1.25" fill="#3d9e2b"/>
<rect x="121.96" y="78.45" width="1.25" height="1.25" fill="#3d9e2b"/>
<rect x="119.57" y="68.42" width="1.25" height="1.25" fill="#3d9e2b"/>
<rect x="110.13" y="81.46" width="1.25" height="1.25" fill="#3d9e2b"/>
<rect x="133.23" y="88.81" width="1.25" height="1.25" fill="#3d9e2b"/>
<rect x="119.65" y="77.12" width="1.25" height="1.25" fill="#86c777"/>
<rect x="124.84" y="69.10" width="1.25" height="1.25" fill="#3d9e2b"/>
<rect x="115.03" y="85.22" width="1.25" height="1.25" fill="#86c777"/>
<rect x="119.71" y="79.58" width="1.25" height="1.25" fill="#86c777"/>
<rect x="115.57" y="74.45" width="1.25" height="1.25" fill="#3d9e2b"/>
<rect x="114.50" y="104.08" width="1.25" height="1.25" fill="#3d9e2b"/>
<rect x="100.34" y="78.65" width="1.25" height="1.25" fill="#3d9e2b"/>
<rect x="105.43" y="87.29" width="1.25" height="1.25" fill="#3d9e2b"/>
<rect x="108.42" y="78.65" width="1.25" height="1.25" fill="#3d9e2b"/>
<rect x="131.07" y="84.17" width="1.25" height="1.25" fill="#86c777"/>
<rect x="122.59" y="77.62" width="1.25" height="1.25" fill="#3d9e2b"/>
<rect x="127.03" y="69.55" width="1.25" height="1.25" fill="#3d9e2b"/>
<rect x="119.80" y="85.16" width="1.25" height="1.25" fill="#3d9e2b"/>
<rect x="110.92" y="90.91" width="1.25" height="1.25" fill="#3d9e2b"/>
<rect x="124.48" y="83.75" width="1.25" height="1.25" fill="#3d9e2b"/>
<rect x="122.91" y="78.35" width="1.25" height="1.25" fill="#3d9e2b"/>
<rect x="102.91" y="73.64" width="1.25" height="1.25" fill="#3d9e2b"/>
<rect x="111.19" y="81.46" width="1.25" height="1.25" fill="#3d9e2b"/>
<rect x="104.99" y="87.05" width="1.25" height="1.25" fill="#3d9e2b"/>
<rect x="120.69" y="90.18" width="1.25" height="1.25" fill="#3d9e2b"/>
<rect x="118.46" y="82.85" width="1.25" height="1.25" fill="#3d9e2b"/>
<rect x="115.58" y="81.81" width="1.25" height="1.25" fill="#3d9e2b"/>
<rect x="117.27" y="84.83" width="1.25" height="1.25" fill="#3d9e2b"/>
<rect x="109.52" y="95.38" width="1.25" height="1.25" fill="#3d9e2b"/>
<rect x="122.19" y="74.46" width="1.25" height="1.25" fill="#3d9e2b"/>
<rect x="99.75" y="69.48" width="1.25" height="1.25" fill="#3d9e2b"/>
<rect x="120.42" y="91.39" width="1.25" height="1.25" fill="#3d9e2b"/>
<rect x="106.79" y="83.84" width="1.25" height="1.25" fill="#3d9e2b"/>
<line x1="90.50" y1="80.70" x2="144.50" y2="83.20" stroke="#161616" stroke-width="1.08"/>
<rect x="90.50" y="56.60" width="54.00" height="53.40" fill="none" stroke="#4a4a4a" stroke-width="1.0"/>
<line x1="96.50" y1="110.00" x2="96.50" y2="112.30" stroke="#444" stroke-width="0.6"/>
<text x="96.50" y="116.40" font-size="4.4" fill="#222" text-anchor="middle" stroke="#222" stroke-width="0.18" >5</text>
<line x1="108.00" y1="110.00" x2="108.00" y2="112.30" stroke="#444" stroke-width="0.6"/>
<text x="108.00" y="116.40" font-size="4.4" fill="#222" text-anchor="middle" stroke="#222" stroke-width="0.18" >6</text>
<line x1="119.50" y1="110.00" x2="119.50" y2="112.30" stroke="#444" stroke-width="0.6"/>
<text x="119.50" y="116.40" font-size="4.4" fill="#222" text-anchor="middle" stroke="#222" stroke-width="0.18" >7</text>
<line x1="131.00" y1="110.00" x2="131.00" y2="112.30" stroke="#444" stroke-width="0.6"/>
<text x="131.00" y="116.40" font-size="4.4" fill="#222" text-anchor="middle" stroke="#222" stroke-width="0.18" >8</text>
<line x1="142.50" y1="110.00" x2="142.50" y2="112.30" stroke="#444" stroke-width="0.6"/>
<text x="142.50" y="116.40" font-size="4.4" fill="#222" text-anchor="middle" stroke="#222" stroke-width="0.18" >9</text>
<line x1="88.20" y1="97.60" x2="90.50" y2="97.60" stroke="#555" stroke-width="0.6"/>
<text x="87.58" y="97.60" font-size="4.4" fill="#222" text-anchor="middle" stroke="#222" stroke-width="0.18" transform="rotate(-90 87.58 97.60)" >8</text>
<line x1="88.20" y1="83.90" x2="90.50" y2="83.90" stroke="#555" stroke-width="0.6"/>
<text x="87.58" y="83.90" font-size="4.4" fill="#222" text-anchor="middle" stroke="#222" stroke-width="0.18" transform="rotate(-90 87.58 83.90)" >10</text>
<line x1="88.20" y1="70.20" x2="90.50" y2="70.20" stroke="#555" stroke-width="0.6"/>
<text x="87.58" y="70.20" font-size="4.4" fill="#222" text-anchor="middle" stroke="#222" stroke-width="0.18" transform="rotate(-90 87.58 70.20)" >12</text>
<line x1="88.20" y1="56.50" x2="90.50" y2="56.50" stroke="#555" stroke-width="0.6"/>
<text x="87.58" y="56.50" font-size="4.4" fill="#222" text-anchor="middle" stroke="#222" stroke-width="0.18" transform="rotate(-90 87.58 56.50)" >14</text>
<text x="116.70" y="120.70" font-size="4.8" fill="#222" text-anchor="middle" stroke="#222" stroke-width="0.18" >GLI3</text>
<text x="82.40" y="82.50" font-size="4.6" fill="#111" text-anchor="middle" stroke="#111" stroke-width="0.18" transform="rotate(-90 82.40 82.50)" >hsa-miR-186-5p</text>
<text x="91.60" y="55.60" font-size="4.5" fill="#2a2a2a" text-anchor="start" stroke="#2a2a2a" stroke-width="0.06" textLength="17.50" lengthAdjust="spacingAndGlyphs" >corr=-0.04</text>
<text x="128.10" y="55.60" font-size="4.5" fill="#2a2a2a" text-anchor="start" stroke="#2a2a2a" stroke-width="0.06" textLength="16.40" lengthAdjust="spacingAndGlyphs" >p=0.5584</text>
<path d="M137.00,59.30L141.40,63.70M137.00,63.70L141.40,59.30" stroke="#e3211c" stroke-width="1.3" fill="none"/>
<polygon points="165.00,78.10 172.00,77.00 178.00,75.00 182.20,72.10 188.20,76.10 195.20,79.20 195.20,97.30 188.00,92.00 182.20,86.50 178.00,89.00 173.00,92.20 165.00,93.20" fill="#fdeeee" stroke="#f4a6a6" stroke-width="0.6"/>
<rect x="177.10" y="74.23" width="1.25" height="1.25" fill="#f4898b"/>
<rect x="183.14" y="79.08" width="1.25" height="1.25" fill="#f4898b"/>
<rect x="177.10" y="85.77" width="1.25" height="1.25" fill="#f4898b"/>
<rect x="178.46" y="90.67" width="1.25" height="1.25" fill="#f4898b"/>
<rect x="180.31" y="72.31" width="1.25" height="1.25" fill="#f8b4b4"/>
<rect x="173.12" y="81.96" width="1.25" height="1.25" fill="#f4898b"/>
<rect x="183.86" y="91.33" width="1.25" height="1.25" fill="#f4898b"/>
<rect x="176.97" y="92.05" width="1.25" height="1.25" fill="#f4898b"/>
<rect x="192.20" y="83.62" width="1.25" height="1.25" fill="#f4898b"/>
<rect x="189.69" y="106.52" width="1.25" height="1.25" fill="#f4898b"/>
<rect x="189.15" y="95.89" width="1.25" height="1.25" fill="#f4898b"/>
<rect x="171.35" y="90.80" width="1.25" height="1.25" fill="#f4898b"/>
<rect x="169.12" y="71.02" width="1.25" height="1.25" fill="#f4898b"/>
<rect x="165.58" y="94.60" width="1.25" height="1.25" fill="#f4898b"/>
<rect x="181.15" y="89.92" width="1.25" height="1.25" fill="#f4898b"/>
<rect x="185.45" y="80.56" width="1.25" height="1.25" fill="#f4898b"/>
<rect x="190.54" y="90.91" width="1.25" height="1.25" fill="#f4898b"/>
<rect x="165.33" y="94.58" width="1.25" height="1.25" fill="#f8b4b4"/>
<rect x="189.72" y="90.88" width="1.25" height="1.25" fill="#f4898b"/>
<rect x="188.59" y="81.58" width="1.25" height="1.25" fill="#f8b4b4"/>
<rect x="191.69" y="90.98" width="1.25" height="1.25" fill="#f4898b"/>
<rect x="180.57" y="86.36" width="1.25" height="1.25" fill="#f4898b"/>
<rect x="189.24" y="73.80" width="1.25" height="1.25" fill="#f8b4b4"/>
<rect x="179.92" y="84.71" width="1.25" height="1.25" fill="#f4898b"/>
<rect x="172.27" y="85.97" width="1.25" height="1.25" fill="#f4898b"/>
<rect x="184.55" y="75.27" width="1.25" height="1.25" fill="#f4898b"/>
<rect x="193.10" y="94.84" width="1.25" height="1.25" fill="#f4898b"/>
<rect x="172.43" y="82.03" width="1.25" height="1.25" fill="#f4898b"/>
<rect x="196.64" y="91.26" width="1.25" height="1.25" fill="#f4898b"/>
<rect x="173.44" y="85.04" width="1.25" height="1.25" fill="#f4898b"/>
<rect x="176.66" y="80.86" width="1.25" height="1.25" fill="#f4898b"/>
<rect x="180.37" y="73.22" width="1.25" height="1.25" fill="#f4898b"/>
<rect x="171.08" y="100.75" width="1.25" height="1.25" fill="#f4898b"/>
<rect x="174.92" y="85.09" width="1.25" height="1.25" fill="#f8b4b4"/>
<rect x="190.09" y="87.23" width="1.25" height="1.25" fill="#f4898b"/>
<rect x="179.72" y="90.32" width="1.25" height="1.25" fill="#f4898b"/>
<rect x="172.69" y="80.82" width="1.25" height="1.25" fill="#f8b4b4"/>
<rect x="171.48" y="83.94" width="1.25" height="1.25" fill="#f8b4b4"/>
<rect x="182.46" y="74.23" width="1.25" height="1.25" fill="#f4898b"/>
<rect x="182.37" y="90.29" width="1.25" height="1.25" fill="#f4898b"/>
<rect x="180.11" y="68.06" width="1.25" height="1.25" fill="#f4898b"/>
<rect x="182.07" y="74.97" width="1.25" height="1.25" fill="#f4898b"/>
<rect x="165.32" y="70.33" width="1.25" height="1.25" fill="#f4898b"/>
<rect x="166.01" y="83.76" width="1.25" height="1.25" fill="#f4898b"/>
<rect x="186.08" y="67.80" width="1.25" height="1.25" fill="#f4898b"/>
<rect x="191.42" y="94.01" width="1.25" height="1.25" fill="#f4898b"/>
<rect x="190.21" y="57.78" width="1.25" height="1.25" fill="#f4898b"/>
<rect x="184.12" y="68.64" width="1.25" height="1.25" fill="#f4898b"/>
<rect x="180.40" y="81.46" width="1.25" height="1.25" fill="#f4898b"/>
<rect x="184.61" y="82.15" width="1.25" height="1.25" fill="#f4898b"/>
<rect x="170.50" y="74.69" width="1.25" height="1.25" fill="#f8b4b4"/>
<rect x="183.01" y="82.80" width="1.25" height="1.25" fill="#f4898b"/>
<rect x="184.01" y="87.66" width="1.25" height="1.25" fill="#f4898b"/>
<rect x="193.25" y="74.71" width="1.25" height="1.25" fill="#f4898b"/>
<rect x="173.72" y="89.93" width="1.25" height="1.25" fill="#f4898b"/>
<rect x="192.95" y="73.83" width="1.25" height="1.25" fill="#f8b4b4"/>
<rect x="180.01" y="74.57" width="1.25" height="1.25" fill="#f4898b"/>
<rect x="173.17" y="93.43" width="1.25" height="1.25" fill="#f4898b"/>
<rect x="171.53" y="80.19" width="1.25" height="1.25" fill="#f4898b"/>
<rect x="194.25" y="105.97" width="1.25" height="1.25" fill="#f4898b"/>
<rect x="181.34" y="83.63" width="1.25" height="1.25" fill="#f4898b"/>
<rect x="194.04" y="83.35" width="1.25" height="1.25" fill="#f4898b"/>
<rect x="170.33" y="73.14" width="1.25" height="1.25" fill="#f4898b"/>
<rect x="191.08" y="88.15" width="1.25" height="1.25" fill="#f8b4b4"/>
<rect x="191.29" y="90.75" width="1.25" height="1.25" fill="#f4898b"/>
<rect x="182.19" y="75.10" width="1.25" height="1.25" fill="#f8b4b4"/>
<rect x="169.35" y="81.60" width="1.25" height="1.25" fill="#f4898b"/>
<rect x="184.60" y="71.49" width="1.25" height="1.25" fill="#f4898b"/>
<rect x="186.42" y="87.54" width="1.25" height="1.25" fill="#f4898b"/>
<rect x="169.07" y="77.30" width="1.25" height="1.25" fill="#f4898b"/>
<line x1="161.20" y1="83.20" x2="215.00" y2="85.40" stroke="#161616" stroke-width="1.08"/>
<rect x="161.20" y="57.20" width="53.80" height="52.60" fill="none" stroke="#4a4a4a" stroke-width="1.0"/>
<line x1="165.00" y1="109.80" x2="165.00" y2="112.10" stroke="#444" stroke-width="0.6"/>
<text x="165.00" y="116.20" font-size="4.4" fill="#222" text-anchor="middle" stroke="#222" stroke-width="0.18" >6</text>
<line x1="177.10" y1="109.80" x2="177.10" y2="112.10" stroke="#444" stroke-width="0.6"/>
<text x="177.10" y="116.20" font-size="4.4" fill="#222" text-anchor="middle" stroke="#222" stroke-width="0.18" >7</text>
<line x1="189.20" y1="109.80" x2="189.20" y2="112.10" stroke="#444" stroke-width="0.6"/>
<text x="189.20" y="116.20" font-size="4.4" fill="#222" text-anchor="middle" stroke="#222" stroke-width="0.18" >8</text>
<line x1="201.30" y1="109.80" x2="201.30" y2="112.10" stroke="#444" stroke-width="0.6"/>
<text x="201.30" y="116.20" font-size="4.4" fill="#222" text-anchor="middle" stroke="#222" stroke-width="0.18" >9</text>
<line x1="213.40" y1="109.80" x2="213.40" y2="112.10" stroke="#444" stroke-width="0.6"/>
<text x="213.40" y="116.20" font-size="4.4" fill="#222" text-anchor="middle" stroke="#222" stroke-width="0.18" >10</text>
<line x1="158.90" y1="105.40" x2="161.20" y2="105.40" stroke="#555" stroke-width="0.6"/>
<text x="157.38" y="105.40" font-size="4.4" fill="#222" text-anchor="middle" stroke="#222" stroke-width="0.18" transform="rotate(-90 157.38 105.40)" >6</text>
<line x1="158.90" y1="94.40" x2="161.20" y2="94.40" stroke="#555" stroke-width="0.6"/>
<text x="157.38" y="94.40" font-size="4.4" fill="#222" text-anchor="middle" stroke="#222" stroke-width="0.18" transform="rotate(-90 157.38 94.40)" >8</text>
<line x1="158.90" y1="83.40" x2="161.20" y2="83.40" stroke="#555" stroke-width="0.6"/>
<text x="157.38" y="83.40" font-size="4.4" fill="#222" text-anchor="middle" stroke="#222" stroke-width="0.18" transform="rotate(-90 157.38 83.40)" >10</text>
<line x1="158.90" y1="72.40" x2="161.20" y2="72.40" stroke="#555" stroke-width="0.6"/>
<text x="157.38" y="72.40" font-size="4.4" fill="#222" text-anchor="middle" stroke="#222" stroke-width="0.18" transform="rotate(-90 157.38 72.40)" >12</text>
<line x1="158.90" y1="61.40" x2="161.20" y2="61.40" stroke="#555" stroke-width="0.6"/>
<text x="157.38" y="61.40" font-size="4.4" fill="#222" text-anchor="middle" stroke="#222" stroke-width="0.18" transform="rotate(-90 157.38 61.40)" >14</text>
<text x="187.30" y="120.50" font-size="4.8" fill="#222" text-anchor="middle" stroke="#222" stroke-width="0.18" >GLI3</text>
<text x="152.05" y="82.70" font-size="4.6" fill="#111" text-anchor="middle" stroke="#111" stroke-width="0.18" transform="rotate(-90 152.05 82.70)" >hsa-miR-186-5p</text>
<text x="163.50" y="56.20" font-size="4.5" fill="#2a2a2a" text-anchor="start" stroke="#2a2a2a" stroke-width="0.06" textLength="17.20" lengthAdjust="spacingAndGlyphs" >corr=-0.04</text>
<text x="201.80" y="56.20" font-size="4.5" fill="#2a2a2a" text-anchor="start" stroke="#2a2a2a" stroke-width="0.06" textLength="17.00" lengthAdjust="spacingAndGlyphs" >p=0.6098</text>
<path d="M208.30,59.50L212.70,63.90M208.30,63.90L212.70,59.50" stroke="#e3211c" stroke-width="1.3" fill="none"/>
<polygon points="252.00,67.50 264.00,69.20 274.60,67.50 290.80,66.00 290.80,93.00 276.00,94.00 272.00,88.50 264.00,87.60 252.00,85.40" fill="#dee6f4" stroke="#8ea6d3" stroke-width="0.6"/>
<rect x="265.35" y="76.36" width="1.25" height="1.25" fill="#3b78c3"/>
<rect x="262.49" y="76.32" width="1.25" height="1.25" fill="#3b78c3"/>
<rect x="264.52" y="74.32" width="1.25" height="1.25" fill="#3b78c3"/>
<rect x="272.26" y="57.88" width="1.25" height="1.25" fill="#3b78c3"/>
<rect x="251.41" y="64.08" width="1.25" height="1.25" fill="#3b78c3"/>
<rect x="265.63" y="81.90" width="1.25" height="1.25" fill="#86a9da"/>
<rect x="267.95" y="85.12" width="1.25" height="1.25" fill="#3b78c3"/>
<rect x="270.91" y="84.86" width="1.25" height="1.25" fill="#86a9da"/>
<rect x="284.68" y="73.76" width="1.25" height="1.25" fill="#3b78c3"/>
<rect x="271.20" y="66.36" width="1.25" height="1.25" fill="#3b78c3"/>
<rect x="270.88" y="65.44" width="1.25" height="1.25" fill="#3b78c3"/>
<rect x="266.18" y="73.06" width="1.25" height="1.25" fill="#3b78c3"/>
<rect x="273.50" y="62.32" width="1.25" height="1.25" fill="#3b78c3"/>
<rect x="253.27" y="72.27" width="1.25" height="1.25" fill="#3b78c3"/>
<rect x="266.25" y="83.38" width="1.25" height="1.25" fill="#3b78c3"/>
<rect x="263.50" y="87.37" width="1.25" height="1.25" fill="#86a9da"/>
<rect x="283.52" y="81.05" width="1.25" height="1.25" fill="#3b78c3"/>
<rect x="270.47" y="66.91" width="1.25" height="1.25" fill="#86a9da"/>
<rect x="286.47" y="67.93" width="1.25" height="1.25" fill="#3b78c3"/>
<rect x="271.04" y="71.25" width="1.25" height="1.25" fill="#3b78c3"/>
<rect x="289.46" y="83.80" width="1.25" height="1.25" fill="#3b78c3"/>
<rect x="279.06" y="90.55" width="1.25" height="1.25" fill="#3b78c3"/>
<rect x="255.28" y="62.17" width="1.25" height="1.25" fill="#3b78c3"/>
<rect x="266.60" y="57.88" width="1.25" height="1.25" fill="#3b78c3"/>
<rect x="272.88" y="74.74" width="1.25" height="1.25" fill="#3b78c3"/>
<rect x="260.70" y="86.41" width="1.25" height="1.25" fill="#3b78c3"/>
<rect x="293.94" y="94.50" width="1.25" height="1.25" fill="#3b78c3"/>
<rect x="266.54" y="68.85" width="1.25" height="1.25" fill="#3b78c3"/>
<rect x="266.76" y="69.35" width="1.25" height="1.25" fill="#3b78c3"/>
<rect x="289.08" y="67.67" width="1.25" height="1.25" fill="#3b78c3"/>
<rect x="282.00" y="86.80" width="1.25" height="1.25" fill="#3b78c3"/>
<rect x="267.19" y="69.93" width="1.25" height="1.25" fill="#3b78c3"/>
<rect x="251.43" y="84.60" width="1.25" height="1.25" fill="#3b78c3"/>
<rect x="275.40" y="74.01" width="1.25" height="1.25" fill="#86a9da"/>
<rect x="262.57" y="72.09" width="1.25" height="1.25" fill="#3b78c3"/>
<rect x="258.92" y="74.05" width="1.25" height="1.25" fill="#86a9da"/>
<rect x="276.84" y="81.14" width="1.25" height="1.25" fill="#86a9da"/>
<rect x="265.14" y="75.94" width="1.25" height="1.25" fill="#86a9da"/>
<rect x="281.92" y="76.13" width="1.25" height="1.25" fill="#3b78c3"/>
<rect x="286.27" y="88.20" width="1.25" height="1.25" fill="#86a9da"/>
<rect x="271.82" y="68.16" width="1.25" height="1.25" fill="#3b78c3"/>
<rect x="269.89" y="89.67" width="1.25" height="1.25" fill="#3b78c3"/>
<rect x="263.66" y="88.46" width="1.25" height="1.25" fill="#3b78c3"/>
<rect x="277.58" y="75.56" width="1.25" height="1.25" fill="#3b78c3"/>
<rect x="256.41" y="73.44" width="1.25" height="1.25" fill="#3b78c3"/>
<rect x="278.06" y="79.82" width="1.25" height="1.25" fill="#3b78c3"/>
<rect x="263.36" y="83.88" width="1.25" height="1.25" fill="#86a9da"/>
<rect x="264.48" y="87.35" width="1.25" height="1.25" fill="#3b78c3"/>
<rect x="281.68" y="77.90" width="1.25" height="1.25" fill="#3b78c3"/>
<rect x="289.53" y="77.79" width="1.25" height="1.25" fill="#86a9da"/>
<rect x="270.56" y="108.38" width="1.25" height="1.25" fill="#3b78c3"/>
<rect x="289.45" y="67.97" width="1.25" height="1.25" fill="#86a9da"/>
<rect x="285.42" y="92.97" width="1.25" height="1.25" fill="#3b78c3"/>
<rect x="269.62" y="68.79" width="1.25" height="1.25" fill="#3b78c3"/>
<rect x="283.53" y="80.18" width="1.25" height="1.25" fill="#86a9da"/>
<rect x="276.39" y="94.40" width="1.25" height="1.25" fill="#86a9da"/>
<rect x="285.63" y="86.03" width="1.25" height="1.25" fill="#86a9da"/>
<rect x="281.66" y="76.33" width="1.25" height="1.25" fill="#3b78c3"/>
<rect x="259.51" y="85.70" width="1.25" height="1.25" fill="#3b78c3"/>
<rect x="271.61" y="82.91" width="1.25" height="1.25" fill="#3b78c3"/>
<rect x="277.80" y="75.12" width="1.25" height="1.25" fill="#3b78c3"/>
<rect x="268.00" y="78.57" width="1.25" height="1.25" fill="#3b78c3"/>
<rect x="283.26" y="73.49" width="1.25" height="1.25" fill="#3b78c3"/>
<rect x="268.31" y="64.22" width="1.25" height="1.25" fill="#3b78c3"/>
<rect x="268.34" y="90.16" width="1.25" height="1.25" fill="#3b78c3"/>
<rect x="270.48" y="81.56" width="1.25" height="1.25" fill="#3b78c3"/>
<rect x="254.81" y="77.98" width="1.25" height="1.25" fill="#86a9da"/>
<rect x="278.39" y="80.45" width="1.25" height="1.25" fill="#3b78c3"/>
<rect x="261.85" y="83.76" width="1.25" height="1.25" fill="#3b78c3"/>
<rect x="285.26" y="83.97" width="1.25" height="1.25" fill="#3b78c3"/>
<rect x="252.00" y="63.59" width="1.25" height="1.25" fill="#86a9da"/>
<rect x="264.75" y="73.71" width="1.25" height="1.25" fill="#86a9da"/>
<rect x="256.77" y="71.64" width="1.25" height="1.25" fill="#3b78c3"/>
<rect x="288.58" y="66.32" width="1.25" height="1.25" fill="#86a9da"/>
<rect x="287.45" y="73.20" width="1.25" height="1.25" fill="#3b78c3"/>
<rect x="275.60" y="64.43" width="1.25" height="1.25" fill="#3b78c3"/>
<rect x="266.69" y="73.72" width="1.25" height="1.25" fill="#86a9da"/>
<rect x="257.17" y="84.40" width="1.25" height="1.25" fill="#3b78c3"/>
<rect x="264.02" y="69.44" width="1.25" height="1.25" fill="#3b78c3"/>
<rect x="287.57" y="72.73" width="1.25" height="1.25" fill="#3b78c3"/>
<line x1="244.50" y1="75.30" x2="298.60" y2="83.30" stroke="#161616" stroke-width="1.08"/>
<rect x="244.50" y="57.30" width="54.10" height="52.90" fill="none" stroke="#4a4a4a" stroke-width="1.0"/>
<line x1="255.40" y1="110.20" x2="255.40" y2="112.50" stroke="#444" stroke-width="0.6"/>
<text x="255.40" y="116.60" font-size="4.4" fill="#222" text-anchor="middle" stroke="#222" stroke-width="0.18" >7.5</text>
<line x1="265.80" y1="110.20" x2="265.80" y2="112.50" stroke="#444" stroke-width="0.6"/>
<text x="265.80" y="116.60" font-size="4.4" fill="#222" text-anchor="middle" stroke="#222" stroke-width="0.18" >8.0</text>
<line x1="276.20" y1="110.20" x2="276.20" y2="112.50" stroke="#444" stroke-width="0.6"/>
<text x="276.20" y="116.60" font-size="4.4" fill="#222" text-anchor="middle" stroke="#222" stroke-width="0.18" >8.5</text>
<line x1="286.60" y1="110.20" x2="286.60" y2="112.50" stroke="#444" stroke-width="0.6"/>
<text x="286.60" y="116.60" font-size="4.4" fill="#222" text-anchor="middle" stroke="#222" stroke-width="0.18" >9.0</text>
<line x1="297.00" y1="110.20" x2="297.00" y2="112.50" stroke="#444" stroke-width="0.6"/>
<text x="297.00" y="116.60" font-size="4.4" fill="#222" text-anchor="middle" stroke="#222" stroke-width="0.18" >9.5</text>
<line x1="242.20" y1="105.60" x2="244.50" y2="105.60" stroke="#555" stroke-width="0.6"/>
<text x="241.78" y="105.60" font-size="4.4" fill="#222" text-anchor="middle" stroke="#222" stroke-width="0.18" transform="rotate(-90 241.78 105.60)" >5</text>
<line x1="242.20" y1="97.90" x2="244.50" y2="97.90" stroke="#555" stroke-width="0.6"/>
<text x="241.78" y="97.90" font-size="4.4" fill="#222" text-anchor="middle" stroke="#222" stroke-width="0.18" transform="rotate(-90 241.78 97.90)" >6</text>
<line x1="242.20" y1="90.20" x2="244.50" y2="90.20" stroke="#555" stroke-width="0.6"/>
<text x="241.78" y="90.20" font-size="4.4" fill="#222" text-anchor="middle" stroke="#222" stroke-width="0.18" transform="rotate(-90 241.78 90.20)" >7</text>
<line x1="242.20" y1="82.50" x2="244.50" y2="82.50" stroke="#555" stroke-width="0.6"/>
<text x="241.78" y="82.50" font-size="4.4" fill="#222" text-anchor="middle" stroke="#222" stroke-width="0.18" transform="rotate(-90 241.78 82.50)" >8</text>
<line x1="242.20" y1="74.80" x2="244.50" y2="74.80" stroke="#555" stroke-width="0.6"/>
<text x="241.78" y="74.80" font-size="4.4" fill="#222" text-anchor="middle" stroke="#222" stroke-width="0.18" transform="rotate(-90 241.78 74.80)" >9</text>
<line x1="242.20" y1="67.10" x2="244.50" y2="67.10" stroke="#555" stroke-width="0.6"/>
<text x="241.78" y="67.10" font-size="4.4" fill="#222" text-anchor="middle" stroke="#222" stroke-width="0.18" transform="rotate(-90 241.78 67.10)" >10</text>
<text x="270.75" y="120.90" font-size="4.8" fill="#222" text-anchor="middle" stroke="#222" stroke-width="0.18" >GLI3</text>
<text x="233.95" y="82.95" font-size="4.6" fill="#111" text-anchor="middle" stroke="#111" stroke-width="0.18" transform="rotate(-90 233.95 82.95)" >hsa-miR-186-5p</text>
<text x="245.40" y="56.30" font-size="4.5" fill="#2a2a2a" text-anchor="start" stroke="#2a2a2a" stroke-width="0.06" textLength="16.40" lengthAdjust="spacingAndGlyphs" >corr=-0.14</text>
<text x="284.10" y="56.30" font-size="4.5" fill="#2a2a2a" text-anchor="start" stroke="#2a2a2a" stroke-width="0.06" textLength="17.40" lengthAdjust="spacingAndGlyphs" >p=0.2164</text>
<path d="M292.90,58.60L297.30,63.00M292.90,63.00L297.30,58.60" stroke="#e3211c" stroke-width="1.3" fill="none"/>
<polygon points="327.20,63.90 342.30,67.10 368.20,69.70 368.20,94.00 353.10,93.00 345.60,89.70 342.00,82.20 327.20,80.00" fill="#e3f1dc" stroke="#99cc88" stroke-width="0.6"/>
<rect x="366.60" y="88.17" width="1.25" height="1.25" fill="#3d9e2b"/>
<rect x="360.61" y="84.56" width="1.25" height="1.25" fill="#3d9e2b"/>
<rect x="359.87" y="86.29" width="1.25" height="1.25" fill="#3d9e2b"/>
<rect x="339.85" y="64.34" width="1.25" height="1.25" fill="#3d9e2b"/>
<rect x="343.58" y="66.27" width="1.25" height="1.25" fill="#86c777"/>
<rect x="366.96" y="73.04" width="1.25" height="1.25" fill="#3d9e2b"/>
<rect x="353.98" y="95.49" width="1.25" height="1.25" fill="#3d9e2b"/>
<rect x="338.28" y="78.84" width="1.25" height="1.25" fill="#3d9e2b"/>
<rect x="331.98" y="78.11" width="1.25" height="1.25" fill="#3d9e2b"/>
<rect x="364.24" y="83.15" width="1.25" height="1.25" fill="#3d9e2b"/>
<rect x="344.64" y="84.18" width="1.25" height="1.25" fill="#3d9e2b"/>
<rect x="364.25" y="91.45" width="1.25" height="1.25" fill="#3d9e2b"/>
<rect x="333.04" y="67.58" width="1.25" height="1.25" fill="#86c777"/>
<rect x="352.41" y="64.24" width="1.25" height="1.25" fill="#3d9e2b"/>
<rect x="331.10" y="80.57" width="1.25" height="1.25" fill="#86c777"/>
<rect x="340.45" y="79.30" width="1.25" height="1.25" fill="#3d9e2b"/>
<rect x="341.49" y="84.62" width="1.25" height="1.25" fill="#3d9e2b"/>
<rect x="348.11" y="84.92" width="1.25" height="1.25" fill="#3d9e2b"/>
<rect x="348.07" y="63.52" width="1.25" height="1.25" fill="#3d9e2b"/>
<rect x="360.74" y="80.43" width="1.25" height="1.25" fill="#86c777"/>
<rect x="350.51" y="86.13" width="1.25" height="1.25" fill="#86c777"/>
<rect x="348.31" y="80.40" width="1.25" height="1.25" fill="#86c777"/>
<rect x="351.42" y="87.88" width="1.25" height="1.25" fill="#3d9e2b"/>
<rect x="363.80" y="75.37" width="1.25" height="1.25" fill="#3d9e2b"/>
<rect x="362.91" y="91.63" width="1.25" height="1.25" fill="#86c777"/>
<rect x="354.44" y="90.90" width="1.25" height="1.25" fill="#3d9e2b"/>
<rect x="345.06" y="65.42" width="1.25" height="1.25" fill="#3d9e2b"/>
<rect x="351.86" y="76.46" width="1.25" height="1.25" fill="#3d9e2b"/>
<rect x="366.71" y="65.64" width="1.25" height="1.25" fill="#86c777"/>
<rect x="361.46" y="84.68" width="1.25" height="1.25" fill="#3d9e2b"/>
<rect x="340.85" y="75.05" width="1.25" height="1.25" fill="#3d9e2b"/>
<rect x="340.72" y="68.98" width="1.25" height="1.25" fill="#3d9e2b"/>
<rect x="339.31" y="66.44" width="1.25" height="1.25" fill="#3d9e2b"/>
<rect x="349.65" y="78.51" width="1.25" height="1.25" fill="#86c777"/>
<rect x="338.55" y="69.04" width="1.25" height="1.25" fill="#3d9e2b"/>
<rect x="326.82" y="68.26" width="1.25" height="1.25" fill="#3d9e2b"/>
<rect x="354.56" y="63.23" width="1.25" height="1.25" fill="#86c777"/>
<rect x="350.38" y="90.55" width="1.25" height="1.25" fill="#3d9e2b"/>
<rect x="327.74" y="78.28" width="1.25" height="1.25" fill="#86c777"/>
<rect x="354.31" y="65.75" width="1.25" height="1.25" fill="#3d9e2b"/>
<rect x="349.49" y="79.27" width="1.25" height="1.25" fill="#3d9e2b"/>
<rect x="364.99" y="80.34" width="1.25" height="1.25" fill="#86c777"/>
<rect x="327.97" y="94.82" width="1.25" height="1.25" fill="#86c777"/>
<rect x="342.48" y="87.53" width="1.25" height="1.25" fill="#3d9e2b"/>
<rect x="334.91" y="68.69" width="1.25" height="1.25" fill="#3d9e2b"/>
<rect x="357.95" y="91.44" width="1.25" height="1.25" fill="#3d9e2b"/>
<rect x="367.31" y="90.67" width="1.25" height="1.25" fill="#3d9e2b"/>
<rect x="349.86" y="89.78" width="1.25" height="1.25" fill="#86c777"/>
<rect x="357.20" y="79.63" width="1.25" height="1.25" fill="#3d9e2b"/>
<rect x="366.30" y="70.91" width="1.25" height="1.25" fill="#3d9e2b"/>
<rect x="345.45" y="87.01" width="1.25" height="1.25" fill="#3d9e2b"/>
<rect x="329.68" y="71.07" width="1.25" height="1.25" fill="#3d9e2b"/>
<rect x="350.61" y="65.28" width="1.25" height="1.25" fill="#3d9e2b"/>
<rect x="353.57" y="70.94" width="1.25" height="1.25" fill="#3d9e2b"/>
<rect x="360.99" y="92.77" width="1.25" height="1.25" fill="#3d9e2b"/>
<rect x="347.47" y="86.93" width="1.25" height="1.25" fill="#3d9e2b"/>
<rect x="345.94" y="80.50" width="1.25" height="1.25" fill="#86c777"/>
<rect x="345.51" y="87.91" width="1.25" height="1.25" fill="#3d9e2b"/>
<rect x="362.12" y="78.73" width="1.25" height="1.25" fill="#3d9e2b"/>
<rect x="342.81" y="76.99" width="1.25" height="1.25" fill="#3d9e2b"/>
<rect x="360.35" y="94.29" width="1.25" height="1.25" fill="#3d9e2b"/>
<rect x="333.20" y="69.82" width="1.25" height="1.25" fill="#3d9e2b"/>
<rect x="338.41" y="76.13" width="1.25" height="1.25" fill="#86c777"/>
<rect x="326.14" y="83.33" width="1.25" height="1.25" fill="#3d9e2b"/>
<rect x="343.67" y="67.82" width="1.25" height="1.25" fill="#3d9e2b"/>
<rect x="332.85" y="73.34" width="1.25" height="1.25" fill="#3d9e2b"/>
<rect x="340.09" y="77.19" width="1.25" height="1.25" fill="#3d9e2b"/>
<rect x="348.25" y="79.17" width="1.25" height="1.25" fill="#3d9e2b"/>
<rect x="333.21" y="64.20" width="1.25" height="1.25" fill="#3d9e2b"/>
<rect x="337.54" y="71.72" width="1.25" height="1.25" fill="#3d9e2b"/>
<rect x="342.85" y="66.32" width="1.25" height="1.25" fill="#3d9e2b"/>
<rect x="333.25" y="72.42" width="1.25" height="1.25" fill="#3d9e2b"/>
<rect x="363.32" y="96.75" width="1.25" height="1.25" fill="#3d9e2b"/>
<rect x="361.11" y="77.79" width="1.25" height="1.25" fill="#3d9e2b"/>
<rect x="337.91" y="72.65" width="1.25" height="1.25" fill="#3d9e2b"/>
<rect x="337.79" y="82.12" width="1.25" height="1.25" fill="#3d9e2b"/>
<rect x="365.13" y="88.73" width="1.25" height="1.25" fill="#3d9e2b"/>
<rect x="333.44" y="63.66" width="1.25" height="1.25" fill="#3d9e2b"/>
<rect x="346.07" y="62.38" width="1.25" height="1.25" fill="#3d9e2b"/>
<rect x="347.92" y="87.59" width="1.25" height="1.25" fill="#3d9e2b"/>
<rect x="331.88" y="83.13" width="1.25" height="1.25" fill="#3d9e2b"/>
<rect x="349.01" y="79.05" width="1.25" height="1.25" fill="#86c777"/>
<rect x="362.53" y="80.44" width="1.25" height="1.25" fill="#3d9e2b"/>
<rect x="361.18" y="89.55" width="1.25" height="1.25" fill="#3d9e2b"/>
<rect x="332.99" y="66.93" width="1.25" height="1.25" fill="#3d9e2b"/>
<rect x="353.22" y="64.16" width="1.25" height="1.25" fill="#86c777"/>
<rect x="361.57" y="74.89" width="1.25" height="1.25" fill="#3d9e2b"/>
<rect x="352.52" y="79.23" width="1.25" height="1.25" fill="#3d9e2b"/>
<rect x="334.87" y="82.92" width="1.25" height="1.25" fill="#3d9e2b"/>
<rect x="363.27" y="78.77" width="1.25" height="1.25" fill="#3d9e2b"/>
<rect x="332.75" y="76.77" width="1.25" height="1.25" fill="#3d9e2b"/>
<rect x="367.46" y="97.83" width="1.25" height="1.25" fill="#3d9e2b"/>
<rect x="353.24" y="91.03" width="1.25" height="1.25" fill="#3d9e2b"/>
<rect x="355.34" y="73.11" width="1.25" height="1.25" fill="#86c777"/>
<rect x="359.57" y="71.25" width="1.25" height="1.25" fill="#3d9e2b"/>
<rect x="351.35" y="67.43" width="1.25" height="1.25" fill="#3d9e2b"/>
<rect x="352.01" y="64.69" width="1.25" height="1.25" fill="#86c777"/>
<rect x="358.34" y="96.40" width="1.25" height="1.25" fill="#86c777"/>
<rect x="350.29" y="92.00" width="1.25" height="1.25" fill="#3d9e2b"/>
<rect x="343.42" y="76.81" width="1.25" height="1.25" fill="#3d9e2b"/>
<line x1="316.50" y1="71.00" x2="369.90" y2="83.90" stroke="#161616" stroke-width="1.08"/>
<rect x="316.50" y="57.40" width="53.40" height="52.80" fill="none" stroke="#4a4a4a" stroke-width="1.0"/>
<line x1="321.80" y1="110.20" x2="321.80" y2="112.50" stroke="#444" stroke-width="0.6"/>
<text x="321.80" y="116.60" font-size="4.4" fill="#222" text-anchor="middle" stroke="#222" stroke-width="0.18" >7.0</text>
<line x1="337.40" y1="110.20" x2="337.40" y2="112.50" stroke="#444" stroke-width="0.6"/>
<text x="337.40" y="116.60" font-size="4.4" fill="#222" text-anchor="middle" stroke="#222" stroke-width="0.18" >8.0</text>
<line x1="353.00" y1="110.20" x2="353.00" y2="112.50" stroke="#444" stroke-width="0.6"/>
<text x="353.00" y="116.60" font-size="4.4" fill="#222" text-anchor="middle" stroke="#222" stroke-width="0.18" >9.0</text>
<line x1="368.60" y1="110.20" x2="368.60" y2="112.50" stroke="#444" stroke-width="0.6"/>
<text x="368.60" y="116.60" font-size="4.4" fill="#222" text-anchor="middle" stroke="#222" stroke-width="0.18" >10.0</text>
<line x1="314.20" y1="106.10" x2="316.50" y2="106.10" stroke="#555" stroke-width="0.6"/>
<text x="313.18" y="106.10" font-size="4.4" fill="#222" text-anchor="middle" stroke="#222" stroke-width="0.18" transform="rotate(-90 313.18 106.10)" >5</text>
<line x1="314.20" y1="98.30" x2="316.50" y2="98.30" stroke="#555" stroke-width="0.6"/>
<text x="313.18" y="98.30" font-size="4.4" fill="#222" text-anchor="middle" stroke="#222" stroke-width="0.18" transform="rotate(-90 313.18 98.30)" >6</text>
<line x1="314.20" y1="90.50" x2="316.50" y2="90.50" stroke="#555" stroke-width="0.6"/>
<text x="313.18" y="90.50" font-size="4.4" fill="#222" text-anchor="middle" stroke="#222" stroke-width="0.18" transform="rotate(-90 313.18 90.50)" >7</text>
<line x1="314.20" y1="82.70" x2="316.50" y2="82.70" stroke="#555" stroke-width="0.6"/>
<text x="313.18" y="82.70" font-size="4.4" fill="#222" text-anchor="middle" stroke="#222" stroke-width="0.18" transform="rotate(-90 313.18 82.70)" >8</text>
<line x1="314.20" y1="74.90" x2="316.50" y2="74.90" stroke="#555" stroke-width="0.6"/>
<text x="313.18" y="74.90" font-size="4.4" fill="#222" text-anchor="middle" stroke="#222" stroke-width="0.18" transform="rotate(-90 313.18 74.90)" >9</text>
<line x1="314.20" y1="67.10" x2="316.50" y2="67.10" stroke="#555" stroke-width="0.6"/>
<text x="313.18" y="67.10" font-size="4.4" fill="#222" text-anchor="middle" stroke="#222" stroke-width="0.18" transform="rotate(-90 313.18 67.10)" >10</text>
<text x="342.40" y="120.90" font-size="4.8" fill="#222" text-anchor="middle" stroke="#222" stroke-width="0.18" >GLI3</text>
<text x="306.15" y="83.00" font-size="4.6" fill="#111" text-anchor="middle" stroke="#111" stroke-width="0.18" transform="rotate(-90 306.15 83.00)" >hsa-miR-186-5p</text>
<text x="315.80" y="56.40" font-size="4.5" fill="#2a2a2a" text-anchor="start" stroke="#2a2a2a" stroke-width="0.06" textLength="17.10" lengthAdjust="spacingAndGlyphs" >corr=-0.34</text>
<text x="353.20" y="56.40" font-size="4.5" fill="#2a2a2a" text-anchor="start" stroke="#2a2a2a" stroke-width="0.06" textLength="19.70" lengthAdjust="spacingAndGlyphs" >p=0.01828</text>
<polygon points="392.70,68.20 402.40,67.10 411.00,73.60 421.80,76.80 430.40,78.90 430.40,103.70 422.90,105.40 415.30,100.50 406.70,95.10 392.70,85.40" fill="#fdeeee" stroke="#f4a6a6" stroke-width="0.6"/>
<rect x="426.09" y="100.23" width="1.25" height="1.25" fill="#f4898b"/>
<rect x="403.22" y="81.89" width="1.25" height="1.25" fill="#f4898b"/>
<rect x="420.56" y="83.21" width="1.25" height="1.25" fill="#f4898b"/>
<rect x="401.58" y="69.04" width="1.25" height="1.25" fill="#f4898b"/>
<rect x="396.71" y="85.36" width="1.25" height="1.25" fill="#f4898b"/>
<rect x="405.51" y="79.42" width="1.25" height="1.25" fill="#f4898b"/>
<rect x="400.74" y="87.25" width="1.25" height="1.25" fill="#f4898b"/>
<rect x="409.31" y="91.43" width="1.25" height="1.25" fill="#f4898b"/>
<rect x="411.70" y="79.82" width="1.25" height="1.25" fill="#f4898b"/>
<rect x="409.51" y="94.28" width="1.25" height="1.25" fill="#f4898b"/>
<rect x="407.68" y="81.81" width="1.25" height="1.25" fill="#f4898b"/>
<rect x="394.56" y="74.40" width="1.25" height="1.25" fill="#f4898b"/>
<rect x="404.99" y="76.06" width="1.25" height="1.25" fill="#f4898b"/>
<rect x="410.16" y="91.93" width="1.25" height="1.25" fill="#f4898b"/>
<rect x="412.75" y="78.62" width="1.25" height="1.25" fill="#f8b4b4"/>
<rect x="414.67" y="93.42" width="1.25" height="1.25" fill="#f4898b"/>
<rect x="393.85" y="74.49" width="1.25" height="1.25" fill="#f8b4b4"/>
<rect x="421.94" y="108.38" width="1.25" height="1.25" fill="#f4898b"/>
<rect x="416.74" y="99.95" width="1.25" height="1.25" fill="#f4898b"/>
<rect x="423.15" y="87.95" width="1.25" height="1.25" fill="#f8b4b4"/>
<rect x="417.98" y="93.62" width="1.25" height="1.25" fill="#f8b4b4"/>
<rect x="419.34" y="85.40" width="1.25" height="1.25" fill="#f4898b"/>
<rect x="409.88" y="75.80" width="1.25" height="1.25" fill="#f4898b"/>
<rect x="427.10" y="98.39" width="1.25" height="1.25" fill="#f4898b"/>
<rect x="417.61" y="81.33" width="1.25" height="1.25" fill="#f4898b"/>
<line x1="388.40" y1="74.60" x2="442.30" y2="96.20" stroke="#161616" stroke-width="1.08"/>
<rect x="388.40" y="56.90" width="53.90" height="53.30" fill="none" stroke="#4a4a4a" stroke-width="1.0"/>
<line x1="390.00" y1="110.20" x2="390.00" y2="112.50" stroke="#444" stroke-width="0.6"/>
<text x="390.00" y="116.60" font-size="4.4" fill="#222" text-anchor="middle" stroke="#222" stroke-width="0.18" >8.0</text>
<line x1="399.76" y1="110.20" x2="399.76" y2="112.50" stroke="#444" stroke-width="0.6"/>
<text x="399.76" y="116.60" font-size="4.4" fill="#222" text-anchor="middle" stroke="#222" stroke-width="0.18" >8.5</text>
<line x1="409.52" y1="110.20" x2="409.52" y2="112.50" stroke="#444" stroke-width="0.6"/>
<text x="409.52" y="116.60" font-size="4.4" fill="#222" text-anchor="middle" stroke="#222" stroke-width="0.18" >9.0</text>
<line x1="419.28" y1="110.20" x2="419.28" y2="112.50" stroke="#444" stroke-width="0.6"/>
<text x="419.28" y="116.60" font-size="4.4" fill="#222" text-anchor="middle" stroke="#222" stroke-width="0.18" >9.5</text>
<line x1="429.04" y1="110.20" x2="429.04" y2="112.50" stroke="#444" stroke-width="0.6"/>
<text x="429.04" y="116.60" font-size="4.4" fill="#222" text-anchor="middle" stroke="#222" stroke-width="0.18" >10</text>
<line x1="438.80" y1="110.20" x2="438.80" y2="112.50" stroke="#444" stroke-width="0.6"/>
<text x="438.80" y="116.60" font-size="4.4" fill="#222" text-anchor="middle" stroke="#222" stroke-width="0.18" >10.5</text>
<line x1="386.10" y1="104.50" x2="388.40" y2="104.50" stroke="#555" stroke-width="0.6"/>
<text x="384.98" y="104.50" font-size="4.4" fill="#222" text-anchor="middle" stroke="#222" stroke-width="0.18" transform="rotate(-90 384.98 104.50)" >5</text>
<line x1="386.10" y1="96.80" x2="388.40" y2="96.80" stroke="#555" stroke-width="0.6"/>
<text x="384.98" y="96.80" font-size="4.4" fill="#222" text-anchor="middle" stroke="#222" stroke-width="0.18" transform="rotate(-90 384.98 96.80)" >6</text>
<line x1="386.10" y1="89.10" x2="388.40" y2="89.10" stroke="#555" stroke-width="0.6"/>
<text x="384.98" y="89.10" font-size="4.4" fill="#222" text-anchor="middle" stroke="#222" stroke-width="0.18" transform="rotate(-90 384.98 89.10)" >7</text>
<line x1="386.10" y1="81.40" x2="388.40" y2="81.40" stroke="#555" stroke-width="0.6"/>
<text x="384.98" y="81.40" font-size="4.4" fill="#222" text-anchor="middle" stroke="#222" stroke-width="0.18" transform="rotate(-90 384.98 81.40)" >8</text>
<line x1="386.10" y1="73.70" x2="388.40" y2="73.70" stroke="#555" stroke-width="0.6"/>
<text x="384.98" y="73.70" font-size="4.4" fill="#222" text-anchor="middle" stroke="#222" stroke-width="0.18" transform="rotate(-90 384.98 73.70)" >9</text>
<line x1="386.10" y1="66.00" x2="388.40" y2="66.00" stroke="#555" stroke-width="0.6"/>
<text x="384.98" y="66.00" font-size="4.4" fill="#222" text-anchor="middle" stroke="#222" stroke-width="0.18" transform="rotate(-90 384.98 66.00)" >10</text>
<text x="414.55" y="120.90" font-size="4.8" fill="#222" text-anchor="middle" stroke="#222" stroke-width="0.18" >GLI3</text>
<text x="378.85" y="82.75" font-size="4.6" fill="#111" text-anchor="middle" stroke="#111" stroke-width="0.18" transform="rotate(-90 378.85 82.75)" >hsa-miR-186-5p</text>
<text x="389.20" y="55.90" font-size="4.5" fill="#2a2a2a" text-anchor="start" stroke="#2a2a2a" stroke-width="0.06" textLength="17.70" lengthAdjust="spacingAndGlyphs" >corr=-0.37</text>
<text x="430.60" y="55.90" font-size="4.5" fill="#2a2a2a" text-anchor="start" stroke="#2a2a2a" stroke-width="0.06" textLength="17.50" lengthAdjust="spacingAndGlyphs" >p=0.0563</text>
<path d="M436.40,58.40L440.80,62.80M436.40,62.80L440.80,58.40" stroke="#e3211c" stroke-width="1.3" fill="none"/>
<polygon points="476.80,77.90 487.50,79.00 494.00,84.30 496.00,87.60 514.50,86.50 514.50,103.70 496.00,96.50 476.80,94.00" fill="#dee6f4" stroke="#8ea6d3" stroke-width="0.6"/>
<rect x="484.80" y="101.86" width="1.25" height="1.25" fill="#3b78c3"/>
<rect x="495.71" y="90.31" width="1.25" height="1.25" fill="#3b78c3"/>
<rect x="478.84" y="84.30" width="1.25" height="1.25" fill="#86a9da"/>
<rect x="496.35" y="91.56" width="1.25" height="1.25" fill="#3b78c3"/>
<rect x="488.10" y="94.33" width="1.25" height="1.25" fill="#86a9da"/>
<rect x="496.41" y="90.03" width="1.25" height="1.25" fill="#3b78c3"/>
<rect x="480.70" y="90.52" width="1.25" height="1.25" fill="#3b78c3"/>
<rect x="496.46" y="91.91" width="1.25" height="1.25" fill="#86a9da"/>
<rect x="482.17" y="82.58" width="1.25" height="1.25" fill="#3b78c3"/>
<rect x="489.76" y="94.39" width="1.25" height="1.25" fill="#86a9da"/>
<rect x="478.53" y="90.79" width="1.25" height="1.25" fill="#3b78c3"/>
<rect x="510.21" y="85.97" width="1.25" height="1.25" fill="#3b78c3"/>
<rect x="497.23" y="89.66" width="1.25" height="1.25" fill="#3b78c3"/>
<rect x="490.82" y="91.25" width="1.25" height="1.25" fill="#3b78c3"/>
<rect x="498.95" y="90.40" width="1.25" height="1.25" fill="#3b78c3"/>
<rect x="496.37" y="87.51" width="1.25" height="1.25" fill="#3b78c3"/>
<rect x="504.20" y="100.17" width="1.25" height="1.25" fill="#86a9da"/>
<rect x="505.57" y="100.50" width="1.25" height="1.25" fill="#3b78c3"/>
<rect x="486.03" y="86.46" width="1.25" height="1.25" fill="#3b78c3"/>
<rect x="481.54" y="95.90" width="1.25" height="1.25" fill="#3b78c3"/>
<rect x="492.85" y="89.73" width="1.25" height="1.25" fill="#3b78c3"/>
<rect x="497.89" y="83.13" width="1.25" height="1.25" fill="#86a9da"/>
<rect x="494.98" y="96.09" width="1.25" height="1.25" fill="#3b78c3"/>
<rect x="505.22" y="97.24" width="1.25" height="1.25" fill="#86a9da"/>
<rect x="495.75" y="96.32" width="1.25" height="1.25" fill="#3b78c3"/>
<rect x="494.21" y="87.88" width="1.25" height="1.25" fill="#3b78c3"/>
<rect x="484.65" y="78.76" width="1.25" height="1.25" fill="#3b78c3"/>
<rect x="493.43" y="89.52" width="1.25" height="1.25" fill="#86a9da"/>
<rect x="474.34" y="83.99" width="1.25" height="1.25" fill="#3b78c3"/>
<rect x="488.95" y="88.06" width="1.25" height="1.25" fill="#3b78c3"/>
<rect x="489.94" y="87.24" width="1.25" height="1.25" fill="#3b78c3"/>
<rect x="485.65" y="85.34" width="1.25" height="1.25" fill="#3b78c3"/>
<rect x="474.04" y="82.38" width="1.25" height="1.25" fill="#3b78c3"/>
<rect x="483.65" y="91.91" width="1.25" height="1.25" fill="#3b78c3"/>
<rect x="494.93" y="87.90" width="1.25" height="1.25" fill="#3b78c3"/>
<rect x="481.50" y="90.57" width="1.25" height="1.25" fill="#3b78c3"/>
<rect x="484.83" y="84.92" width="1.25" height="1.25" fill="#86a9da"/>
<rect x="482.79" y="80.61" width="1.25" height="1.25" fill="#3b78c3"/>
<rect x="485.93" y="91.07" width="1.25" height="1.25" fill="#3b78c3"/>
<rect x="499.82" y="92.00" width="1.25" height="1.25" fill="#86a9da"/>
<rect x="495.96" y="92.25" width="1.25" height="1.25" fill="#3b78c3"/>
<rect x="493.94" y="96.62" width="1.25" height="1.25" fill="#3b78c3"/>
<rect x="491.34" y="91.88" width="1.25" height="1.25" fill="#3b78c3"/>
<rect x="497.98" y="93.58" width="1.25" height="1.25" fill="#3b78c3"/>
<rect x="482.61" y="86.51" width="1.25" height="1.25" fill="#86a9da"/>
<rect x="491.46" y="94.44" width="1.25" height="1.25" fill="#3b78c3"/>
<rect x="483.63" y="84.81" width="1.25" height="1.25" fill="#3b78c3"/>
<rect x="493.66" y="88.42" width="1.25" height="1.25" fill="#3b78c3"/>
<rect x="510.05" y="85.73" width="1.25" height="1.25" fill="#86a9da"/>
<rect x="492.73" y="95.01" width="1.25" height="1.25" fill="#86a9da"/>
<rect x="482.44" y="82.64" width="1.25" height="1.25" fill="#3b78c3"/>
<rect x="486.36" y="89.60" width="1.25" height="1.25" fill="#3b78c3"/>
<rect x="484.58" y="82.05" width="1.25" height="1.25" fill="#3b78c3"/>
<rect x="494.91" y="85.56" width="1.25" height="1.25" fill="#86a9da"/>
<rect x="505.19" y="95.57" width="1.25" height="1.25" fill="#3b78c3"/>
<rect x="480.82" y="79.48" width="1.25" height="1.25" fill="#3b78c3"/>
<rect x="485.83" y="92.15" width="1.25" height="1.25" fill="#3b78c3"/>
<rect x="495.39" y="80.58" width="1.25" height="1.25" fill="#3b78c3"/>
<rect x="484.50" y="89.38" width="1.25" height="1.25" fill="#3b78c3"/>
<rect x="487.58" y="92.04" width="1.25" height="1.25" fill="#3b78c3"/>
<rect x="507.62" y="97.39" width="1.25" height="1.25" fill="#3b78c3"/>
<rect x="491.42" y="83.35" width="1.25" height="1.25" fill="#86a9da"/>
<rect x="496.77" y="93.23" width="1.25" height="1.25" fill="#3b78c3"/>
<rect x="490.11" y="91.68" width="1.25" height="1.25" fill="#86a9da"/>
<rect x="475.64" y="83.41" width="1.25" height="1.25" fill="#3b78c3"/>
<rect x="491.61" y="93.93" width="1.25" height="1.25" fill="#3b78c3"/>
<rect x="490.13" y="81.98" width="1.25" height="1.25" fill="#86a9da"/>
<rect x="487.89" y="87.02" width="1.25" height="1.25" fill="#86a9da"/>
<rect x="487.50" y="82.66" width="1.25" height="1.25" fill="#3b78c3"/>
<rect x="494.87" y="84.11" width="1.25" height="1.25" fill="#3b78c3"/>
<rect x="495.61" y="90.30" width="1.25" height="1.25" fill="#3b78c3"/>
<rect x="473.68" y="88.99" width="1.25" height="1.25" fill="#3b78c3"/>
<rect x="495.69" y="93.89" width="1.25" height="1.25" fill="#3b78c3"/>
<rect x="486.36" y="91.72" width="1.25" height="1.25" fill="#3b78c3"/>
<rect x="483.62" y="100.30" width="1.25" height="1.25" fill="#3b78c3"/>
<rect x="488.47" y="87.54" width="1.25" height="1.25" fill="#3b78c3"/>
<rect x="492.13" y="84.77" width="1.25" height="1.25" fill="#3b78c3"/>
<rect x="503.65" y="96.13" width="1.25" height="1.25" fill="#86a9da"/>
<rect x="480.79" y="80.25" width="1.25" height="1.25" fill="#3b78c3"/>
<rect x="486.44" y="87.39" width="1.25" height="1.25" fill="#3b78c3"/>
<rect x="491.04" y="95.48" width="1.25" height="1.25" fill="#3b78c3"/>
<rect x="492.71" y="92.36" width="1.25" height="1.25" fill="#3b78c3"/>
<rect x="495.70" y="96.91" width="1.25" height="1.25" fill="#3b78c3"/>
<rect x="502.52" y="86.97" width="1.25" height="1.25" fill="#3b78c3"/>
<rect x="481.22" y="90.83" width="1.25" height="1.25" fill="#3b78c3"/>
<rect x="514.15" y="102.48" width="1.25" height="1.25" fill="#3b78c3"/>
<rect x="480.88" y="76.62" width="1.25" height="1.25" fill="#3b78c3"/>
<rect x="482.58" y="81.68" width="1.25" height="1.25" fill="#3b78c3"/>
<rect x="492.71" y="92.78" width="1.25" height="1.25" fill="#3b78c3"/>
<rect x="494.23" y="85.55" width="1.25" height="1.25" fill="#86a9da"/>
<rect x="494.39" y="97.12" width="1.25" height="1.25" fill="#3b78c3"/>
<rect x="495.97" y="87.48" width="1.25" height="1.25" fill="#3b78c3"/>
<rect x="496.91" y="91.41" width="1.25" height="1.25" fill="#3b78c3"/>
<rect x="504.17" y="98.99" width="1.25" height="1.25" fill="#3b78c3"/>
<rect x="501.16" y="91.25" width="1.25" height="1.25" fill="#3b78c3"/>
<rect x="497.24" y="92.51" width="1.25" height="1.25" fill="#3b78c3"/>
<rect x="492.53" y="87.85" width="1.25" height="1.25" fill="#86a9da"/>
<rect x="491.47" y="84.11" width="1.25" height="1.25" fill="#3b78c3"/>
<rect x="504.34" y="100.51" width="1.25" height="1.25" fill="#3b78c3"/>
<rect x="494.42" y="89.44" width="1.25" height="1.25" fill="#3b78c3"/>
<rect x="494.85" y="95.52" width="1.25" height="1.25" fill="#3b78c3"/>
<rect x="487.64" y="87.62" width="1.25" height="1.25" fill="#86a9da"/>
<rect x="504.17" y="90.72" width="1.25" height="1.25" fill="#3b78c3"/>
<rect x="485.44" y="93.29" width="1.25" height="1.25" fill="#3b78c3"/>
<rect x="498.07" y="102.44" width="1.25" height="1.25" fill="#3b78c3"/>
<rect x="475.17" y="84.52" width="1.25" height="1.25" fill="#3b78c3"/>
<rect x="513.30" y="91.36" width="1.25" height="1.25" fill="#3b78c3"/>
<rect x="484.78" y="81.37" width="1.25" height="1.25" fill="#3b78c3"/>
<rect x="485.59" y="89.05" width="1.25" height="1.25" fill="#3b78c3"/>
<rect x="492.68" y="83.54" width="1.25" height="1.25" fill="#3b78c3"/>
<rect x="485.27" y="80.07" width="1.25" height="1.25" fill="#3b78c3"/>
<rect x="486.82" y="85.84" width="1.25" height="1.25" fill="#3b78c3"/>
<rect x="485.40" y="84.85" width="1.25" height="1.25" fill="#3b78c3"/>
<rect x="484.66" y="78.61" width="1.25" height="1.25" fill="#3b78c3"/>
<rect x="502.94" y="98.59" width="1.25" height="1.25" fill="#3b78c3"/>
<rect x="487.17" y="90.44" width="1.25" height="1.25" fill="#3b78c3"/>
<rect x="490.51" y="100.70" width="1.25" height="1.25" fill="#3b78c3"/>
<rect x="498.12" y="96.83" width="1.25" height="1.25" fill="#3b78c3"/>
<rect x="481.36" y="92.37" width="1.25" height="1.25" fill="#3b78c3"/>
<rect x="487.29" y="90.75" width="1.25" height="1.25" fill="#86a9da"/>
<rect x="479.82" y="73.01" width="1.25" height="1.25" fill="#86a9da"/>
<rect x="504.39" y="95.57" width="1.25" height="1.25" fill="#3b78c3"/>
<rect x="488.93" y="95.53" width="1.25" height="1.25" fill="#3b78c3"/>
<rect x="483.68" y="85.32" width="1.25" height="1.25" fill="#86a9da"/>
<rect x="510.35" y="94.85" width="1.25" height="1.25" fill="#3b78c3"/>
<rect x="489.89" y="87.41" width="1.25" height="1.25" fill="#86a9da"/>
<rect x="496.50" y="92.36" width="1.25" height="1.25" fill="#86a9da"/>
<rect x="493.70" y="92.06" width="1.25" height="1.25" fill="#3b78c3"/>
<rect x="489.74" y="82.01" width="1.25" height="1.25" fill="#3b78c3"/>
<rect x="493.20" y="85.94" width="1.25" height="1.25" fill="#3b78c3"/>
<rect x="511.62" y="86.26" width="1.25" height="1.25" fill="#3b78c3"/>
<rect x="490.50" y="89.73" width="1.25" height="1.25" fill="#3b78c3"/>
<rect x="507.60" y="101.94" width="1.25" height="1.25" fill="#3b78c3"/>
<rect x="507.10" y="92.41" width="1.25" height="1.25" fill="#3b78c3"/>
<rect x="515.23" y="100.08" width="1.25" height="1.25" fill="#3b78c3"/>
<rect x="491.97" y="104.18" width="1.25" height="1.25" fill="#3b78c3"/>
<rect x="503.19" y="94.73" width="1.25" height="1.25" fill="#3b78c3"/>
<rect x="501.27" y="99.39" width="1.25" height="1.25" fill="#86a9da"/>
<rect x="478.00" y="82.28" width="1.25" height="1.25" fill="#86a9da"/>
<rect x="486.51" y="84.95" width="1.25" height="1.25" fill="#3b78c3"/>
<rect x="490.94" y="84.39" width="1.25" height="1.25" fill="#3b78c3"/>
<rect x="478.17" y="88.71" width="1.25" height="1.25" fill="#3b78c3"/>
<rect x="477.87" y="91.84" width="1.25" height="1.25" fill="#86a9da"/>
<rect x="489.35" y="86.95" width="1.25" height="1.25" fill="#3b78c3"/>
<rect x="500.68" y="89.20" width="1.25" height="1.25" fill="#3b78c3"/>
<rect x="507.77" y="95.18" width="1.25" height="1.25" fill="#3b78c3"/>
<rect x="494.56" y="93.06" width="1.25" height="1.25" fill="#3b78c3"/>
<rect x="487.89" y="83.80" width="1.25" height="1.25" fill="#3b78c3"/>
<rect x="482.67" y="91.74" width="1.25" height="1.25" fill="#3b78c3"/>
<rect x="486.44" y="85.31" width="1.25" height="1.25" fill="#3b78c3"/>
<rect x="484.44" y="78.16" width="1.25" height="1.25" fill="#3b78c3"/>
<rect x="511.01" y="89.69" width="1.25" height="1.25" fill="#3b78c3"/>
<rect x="499.46" y="88.25" width="1.25" height="1.25" fill="#3b78c3"/>
<rect x="486.95" y="76.82" width="1.25" height="1.25" fill="#3b78c3"/>
<rect x="509.95" y="100.98" width="1.25" height="1.25" fill="#3b78c3"/>
<rect x="489.32" y="79.71" width="1.25" height="1.25" fill="#3b78c3"/>
<rect x="506.57" y="88.17" width="1.25" height="1.25" fill="#3b78c3"/>
<rect x="493.93" y="83.59" width="1.25" height="1.25" fill="#3b78c3"/>
<rect x="478.17" y="78.98" width="1.25" height="1.25" fill="#3b78c3"/>
<rect x="483.38" y="91.88" width="1.25" height="1.25" fill="#3b78c3"/>
<line x1="473.10" y1="85.40" x2="527.60" y2="101.40" stroke="#161616" stroke-width="1.08"/>
<rect x="473.10" y="56.70" width="54.50" height="53.10" fill="none" stroke="#4a4a4a" stroke-width="1.0"/>
<line x1="478.60" y1="109.80" x2="478.60" y2="112.10" stroke="#444" stroke-width="0.6"/>
<text x="478.60" y="116.20" font-size="4.4" fill="#222" text-anchor="middle" stroke="#222" stroke-width="0.18" >7.0</text>
<line x1="496.00" y1="109.80" x2="496.00" y2="112.10" stroke="#444" stroke-width="0.6"/>
<text x="496.00" y="116.20" font-size="4.4" fill="#222" text-anchor="middle" stroke="#222" stroke-width="0.18" >8.0</text>
<line x1="513.40" y1="109.80" x2="513.40" y2="112.10" stroke="#444" stroke-width="0.6"/>
<text x="513.40" y="116.20" font-size="4.4" fill="#222" text-anchor="middle" stroke="#222" stroke-width="0.18" >9.0</text>
<line x1="470.80" y1="109.10" x2="473.10" y2="109.10" stroke="#555" stroke-width="0.6"/>
<text x="469.08" y="109.10" font-size="4.4" fill="#222" text-anchor="middle" stroke="#222" stroke-width="0.18" transform="rotate(-90 469.08 109.10)" >4</text>
<line x1="470.80" y1="98.60" x2="473.10" y2="98.60" stroke="#555" stroke-width="0.6"/>
<text x="469.08" y="98.60" font-size="4.4" fill="#222" text-anchor="middle" stroke="#222" stroke-width="0.18" transform="rotate(-90 469.08 98.60)" >6</text>
<line x1="470.80" y1="88.10" x2="473.10" y2="88.10" stroke="#555" stroke-width="0.6"/>
<text x="469.08" y="88.10" font-size="4.4" fill="#222" text-anchor="middle" stroke="#222" stroke-width="0.18" transform="rotate(-90 469.08 88.10)" >8</text>
<line x1="470.80" y1="77.60" x2="473.10" y2="77.60" stroke="#555" stroke-width="0.6"/>
<text x="469.08" y="77.60" font-size="4.4" fill="#222" text-anchor="middle" stroke="#222" stroke-width="0.18" transform="rotate(-90 469.08 77.60)" >10</text>
<line x1="470.80" y1="67.10" x2="473.10" y2="67.10" stroke="#555" stroke-width="0.6"/>
<text x="469.08" y="67.10" font-size="4.4" fill="#222" text-anchor="middle" stroke="#222" stroke-width="0.18" transform="rotate(-90 469.08 67.10)" >12</text>
<text x="499.55" y="120.50" font-size="4.8" fill="#222" text-anchor="middle" stroke="#222" stroke-width="0.18" >GLI3</text>
<text x="462.15" y="82.45" font-size="4.6" fill="#111" text-anchor="middle" stroke="#111" stroke-width="0.18" transform="rotate(-90 462.15 82.45)" >hsa-miR-186-5p</text>
<text x="474.90" y="55.70" font-size="4.5" fill="#2a2a2a" text-anchor="start" stroke="#2a2a2a" stroke-width="0.06" textLength="17.00" lengthAdjust="spacingAndGlyphs" >corr=-0.37</text>
<text x="503.10" y="55.70" font-size="4.5" fill="#2a2a2a" text-anchor="start" stroke="#2a2a2a" stroke-width="0.06" textLength="26.90" lengthAdjust="spacingAndGlyphs" >p=0.00002264</text>
<polygon points="549.00,67.10 568.00,73.60 578.80,75.30 591.70,75.30 591.70,93.00 578.80,93.00 561.60,90.80 549.00,86.50" fill="#e3f1dc" stroke="#99cc88" stroke-width="0.6"/>
<rect x="569.52" y="81.27" width="1.25" height="1.25" fill="#3d9e2b"/>
<rect x="552.74" y="72.53" width="1.25" height="1.25" fill="#86c777"/>
<rect x="569.21" y="84.33" width="1.25" height="1.25" fill="#86c777"/>
<rect x="575.61" y="94.67" width="1.25" height="1.25" fill="#3d9e2b"/>
<rect x="562.57" y="79.24" width="1.25" height="1.25" fill="#86c777"/>
<rect x="589.01" y="86.06" width="1.25" height="1.25" fill="#3d9e2b"/>
<rect x="560.48" y="76.78" width="1.25" height="1.25" fill="#3d9e2b"/>
<rect x="556.12" y="81.75" width="1.25" height="1.25" fill="#3d9e2b"/>
<rect x="561.99" y="68.93" width="1.25" height="1.25" fill="#3d9e2b"/>
<rect x="565.03" y="86.18" width="1.25" height="1.25" fill="#3d9e2b"/>
<rect x="561.97" y="82.42" width="1.25" height="1.25" fill="#3d9e2b"/>
<rect x="564.62" y="83.39" width="1.25" height="1.25" fill="#3d9e2b"/>
<rect x="568.79" y="93.54" width="1.25" height="1.25" fill="#86c777"/>
<rect x="575.67" y="84.50" width="1.25" height="1.25" fill="#3d9e2b"/>
<rect x="555.02" y="78.06" width="1.25" height="1.25" fill="#3d9e2b"/>
<rect x="562.10" y="71.55" width="1.25" height="1.25" fill="#3d9e2b"/>
<rect x="569.55" y="76.78" width="1.25" height="1.25" fill="#3d9e2b"/>
<rect x="573.87" y="81.27" width="1.25" height="1.25" fill="#3d9e2b"/>
<rect x="565.88" y="84.56" width="1.25" height="1.25" fill="#3d9e2b"/>
<rect x="574.76" y="80.26" width="1.25" height="1.25" fill="#86c777"/>
<rect x="570.17" y="86.42" width="1.25" height="1.25" fill="#3d9e2b"/>
<rect x="565.98" y="79.05" width="1.25" height="1.25" fill="#86c777"/>
<rect x="568.16" y="88.95" width="1.25" height="1.25" fill="#86c777"/>
<rect x="555.21" y="83.53" width="1.25" height="1.25" fill="#3d9e2b"/>
<rect x="570.05" y="79.68" width="1.25" height="1.25" fill="#3d9e2b"/>
<rect x="572.77" y="93.77" width="1.25" height="1.25" fill="#86c777"/>
<rect x="584.22" y="89.35" width="1.25" height="1.25" fill="#3d9e2b"/>
<rect x="578.00" y="94.51" width="1.25" height="1.25" fill="#3d9e2b"/>
<rect x="579.40" y="87.51" width="1.25" height="1.25" fill="#3d9e2b"/>
<rect x="565.91" y="79.88" width="1.25" height="1.25" fill="#3d9e2b"/>
<rect x="556.54" y="73.57" width="1.25" height="1.25" fill="#3d9e2b"/>
<rect x="567.42" y="72.24" width="1.25" height="1.25" fill="#3d9e2b"/>
<rect x="555.41" y="67.19" width="1.25" height="1.25" fill="#86c777"/>
<rect x="567.75" y="77.47" width="1.25" height="1.25" fill="#3d9e2b"/>
<rect x="589.36" y="72.26" width="1.25" height="1.25" fill="#3d9e2b"/>
<rect x="572.32" y="81.31" width="1.25" height="1.25" fill="#3d9e2b"/>
<rect x="568.33" y="90.22" width="1.25" height="1.25" fill="#86c777"/>
<rect x="553.85" y="80.25" width="1.25" height="1.25" fill="#3d9e2b"/>
<rect x="563.88" y="78.09" width="1.25" height="1.25" fill="#3d9e2b"/>
<rect x="547.01" y="94.86" width="1.25" height="1.25" fill="#86c777"/>
<rect x="564.44" y="83.62" width="1.25" height="1.25" fill="#3d9e2b"/>
<rect x="565.22" y="73.20" width="1.25" height="1.25" fill="#3d9e2b"/>
<rect x="563.95" y="77.52" width="1.25" height="1.25" fill="#3d9e2b"/>
<rect x="568.73" y="82.74" width="1.25" height="1.25" fill="#3d9e2b"/>
<rect x="574.09" y="80.17" width="1.25" height="1.25" fill="#86c777"/>
<rect x="562.26" y="74.71" width="1.25" height="1.25" fill="#3d9e2b"/>
<rect x="573.68" y="77.68" width="1.25" height="1.25" fill="#3d9e2b"/>
<rect x="558.41" y="81.72" width="1.25" height="1.25" fill="#3d9e2b"/>
<rect x="562.47" y="94.89" width="1.25" height="1.25" fill="#86c777"/>
<rect x="552.75" y="85.18" width="1.25" height="1.25" fill="#86c777"/>
<rect x="590.72" y="81.31" width="1.25" height="1.25" fill="#3d9e2b"/>
<rect x="567.76" y="88.97" width="1.25" height="1.25" fill="#3d9e2b"/>
<rect x="572.01" y="89.61" width="1.25" height="1.25" fill="#3d9e2b"/>
<rect x="574.53" y="76.42" width="1.25" height="1.25" fill="#3d9e2b"/>
<rect x="567.80" y="77.76" width="1.25" height="1.25" fill="#3d9e2b"/>
<rect x="565.81" y="75.56" width="1.25" height="1.25" fill="#3d9e2b"/>
<rect x="571.42" y="83.26" width="1.25" height="1.25" fill="#3d9e2b"/>
<rect x="551.29" y="77.68" width="1.25" height="1.25" fill="#3d9e2b"/>
<rect x="562.19" y="89.86" width="1.25" height="1.25" fill="#3d9e2b"/>
<rect x="555.77" y="78.20" width="1.25" height="1.25" fill="#3d9e2b"/>
<rect x="576.62" y="76.64" width="1.25" height="1.25" fill="#3d9e2b"/>
<rect x="569.20" y="84.11" width="1.25" height="1.25" fill="#3d9e2b"/>
<rect x="546.85" y="84.05" width="1.25" height="1.25" fill="#3d9e2b"/>
<rect x="567.30" y="67.37" width="1.25" height="1.25" fill="#3d9e2b"/>
<rect x="571.32" y="84.58" width="1.25" height="1.25" fill="#3d9e2b"/>
<rect x="554.89" y="70.76" width="1.25" height="1.25" fill="#3d9e2b"/>
<rect x="562.56" y="81.29" width="1.25" height="1.25" fill="#3d9e2b"/>
<rect x="566.68" y="84.59" width="1.25" height="1.25" fill="#3d9e2b"/>
<rect x="565.01" y="104.93" width="1.25" height="1.25" fill="#3d9e2b"/>
<rect x="589.47" y="86.77" width="1.25" height="1.25" fill="#3d9e2b"/>
<rect x="570.24" y="80.06" width="1.25" height="1.25" fill="#3d9e2b"/>
<rect x="596.33" y="85.61" width="1.25" height="1.25" fill="#3d9e2b"/>
<rect x="578.37" y="85.69" width="1.25" height="1.25" fill="#3d9e2b"/>
<rect x="560.42" y="80.28" width="1.25" height="1.25" fill="#3d9e2b"/>
<rect x="567.06" y="95.62" width="1.25" height="1.25" fill="#3d9e2b"/>
<rect x="561.07" y="72.22" width="1.25" height="1.25" fill="#3d9e2b"/>
<rect x="562.96" y="86.60" width="1.25" height="1.25" fill="#3d9e2b"/>
<rect x="568.52" y="86.13" width="1.25" height="1.25" fill="#86c777"/>
<rect x="558.66" y="64.62" width="1.25" height="1.25" fill="#3d9e2b"/>
<rect x="568.97" y="83.62" width="1.25" height="1.25" fill="#86c777"/>
<rect x="563.14" y="72.14" width="1.25" height="1.25" fill="#3d9e2b"/>
<rect x="567.65" y="71.79" width="1.25" height="1.25" fill="#86c777"/>
<rect x="566.20" y="72.41" width="1.25" height="1.25" fill="#3d9e2b"/>
<rect x="546.18" y="85.30" width="1.25" height="1.25" fill="#3d9e2b"/>
<rect x="560.37" y="77.39" width="1.25" height="1.25" fill="#3d9e2b"/>
<rect x="577.16" y="83.33" width="1.25" height="1.25" fill="#3d9e2b"/>
<rect x="578.03" y="74.74" width="1.25" height="1.25" fill="#3d9e2b"/>
<rect x="567.13" y="61.71" width="1.25" height="1.25" fill="#3d9e2b"/>
<rect x="575.56" y="80.60" width="1.25" height="1.25" fill="#3d9e2b"/>
<rect x="573.90" y="86.50" width="1.25" height="1.25" fill="#3d9e2b"/>
<rect x="578.42" y="86.62" width="1.25" height="1.25" fill="#86c777"/>
<rect x="551.15" y="67.08" width="1.25" height="1.25" fill="#3d9e2b"/>
<rect x="556.28" y="80.47" width="1.25" height="1.25" fill="#3d9e2b"/>
<rect x="557.98" y="59.90" width="1.25" height="1.25" fill="#3d9e2b"/>
<rect x="559.76" y="82.75" width="1.25" height="1.25" fill="#86c777"/>
<rect x="556.71" y="70.95" width="1.25" height="1.25" fill="#3d9e2b"/>
<rect x="556.68" y="85.81" width="1.25" height="1.25" fill="#3d9e2b"/>
<rect x="571.43" y="89.91" width="1.25" height="1.25" fill="#3d9e2b"/>
<rect x="555.92" y="87.41" width="1.25" height="1.25" fill="#3d9e2b"/>
<rect x="557.29" y="91.82" width="1.25" height="1.25" fill="#3d9e2b"/>
<rect x="568.31" y="87.10" width="1.25" height="1.25" fill="#3d9e2b"/>
<rect x="569.94" y="83.50" width="1.25" height="1.25" fill="#3d9e2b"/>
<rect x="564.98" y="70.76" width="1.25" height="1.25" fill="#86c777"/>
<rect x="556.84" y="89.91" width="1.25" height="1.25" fill="#86c777"/>
<rect x="565.81" y="74.27" width="1.25" height="1.25" fill="#3d9e2b"/>
<rect x="567.88" y="79.26" width="1.25" height="1.25" fill="#3d9e2b"/>
<rect x="566.50" y="78.47" width="1.25" height="1.25" fill="#3d9e2b"/>
<rect x="567.57" y="69.22" width="1.25" height="1.25" fill="#86c777"/>
<rect x="578.71" y="76.13" width="1.25" height="1.25" fill="#3d9e2b"/>
<rect x="564.25" y="83.30" width="1.25" height="1.25" fill="#3d9e2b"/>
<rect x="573.60" y="78.14" width="1.25" height="1.25" fill="#3d9e2b"/>
<rect x="561.22" y="74.32" width="1.25" height="1.25" fill="#3d9e2b"/>
<rect x="569.87" y="77.28" width="1.25" height="1.25" fill="#3d9e2b"/>
<rect x="561.72" y="82.15" width="1.25" height="1.25" fill="#86c777"/>
<rect x="567.45" y="87.39" width="1.25" height="1.25" fill="#3d9e2b"/>
<rect x="568.85" y="91.12" width="1.25" height="1.25" fill="#86c777"/>
<rect x="564.75" y="74.73" width="1.25" height="1.25" fill="#3d9e2b"/>
<rect x="559.02" y="77.85" width="1.25" height="1.25" fill="#3d9e2b"/>
<rect x="573.02" y="81.78" width="1.25" height="1.25" fill="#3d9e2b"/>
<rect x="560.38" y="81.98" width="1.25" height="1.25" fill="#3d9e2b"/>
<rect x="568.42" y="77.32" width="1.25" height="1.25" fill="#3d9e2b"/>
<rect x="566.13" y="70.96" width="1.25" height="1.25" fill="#3d9e2b"/>
<rect x="590.28" y="57.28" width="1.25" height="1.25" fill="#3d9e2b"/>
<rect x="568.97" y="90.49" width="1.25" height="1.25" fill="#3d9e2b"/>
<rect x="576.73" y="98.95" width="1.25" height="1.25" fill="#3d9e2b"/>
<rect x="559.12" y="75.89" width="1.25" height="1.25" fill="#86c777"/>
<rect x="559.81" y="68.45" width="1.25" height="1.25" fill="#3d9e2b"/>
<rect x="564.28" y="80.65" width="1.25" height="1.25" fill="#3d9e2b"/>
<rect x="595.70" y="94.77" width="1.25" height="1.25" fill="#3d9e2b"/>
<rect x="556.03" y="90.91" width="1.25" height="1.25" fill="#3d9e2b"/>
<rect x="557.67" y="90.99" width="1.25" height="1.25" fill="#86c777"/>
<rect x="566.06" y="83.83" width="1.25" height="1.25" fill="#3d9e2b"/>
<rect x="579.03" y="78.00" width="1.25" height="1.25" fill="#3d9e2b"/>
<rect x="561.46" y="82.82" width="1.25" height="1.25" fill="#86c777"/>
<rect x="570.35" y="79.44" width="1.25" height="1.25" fill="#3d9e2b"/>
<rect x="561.75" y="89.88" width="1.25" height="1.25" fill="#3d9e2b"/>
<rect x="567.35" y="79.15" width="1.25" height="1.25" fill="#3d9e2b"/>
<rect x="568.27" y="84.22" width="1.25" height="1.25" fill="#3d9e2b"/>
<rect x="569.16" y="81.89" width="1.25" height="1.25" fill="#3d9e2b"/>
<rect x="556.76" y="71.02" width="1.25" height="1.25" fill="#86c777"/>
<rect x="562.80" y="83.01" width="1.25" height="1.25" fill="#3d9e2b"/>
<rect x="555.40" y="86.09" width="1.25" height="1.25" fill="#3d9e2b"/>
<rect x="570.17" y="74.76" width="1.25" height="1.25" fill="#3d9e2b"/>
<rect x="564.89" y="74.90" width="1.25" height="1.25" fill="#3d9e2b"/>
<rect x="562.23" y="93.85" width="1.25" height="1.25" fill="#3d9e2b"/>
<rect x="576.30" y="81.68" width="1.25" height="1.25" fill="#3d9e2b"/>
<rect x="565.24" y="75.25" width="1.25" height="1.25" fill="#86c777"/>
<rect x="574.19" y="69.92" width="1.25" height="1.25" fill="#3d9e2b"/>
<rect x="561.44" y="72.18" width="1.25" height="1.25" fill="#3d9e2b"/>
<rect x="574.63" y="90.69" width="1.25" height="1.25" fill="#86c777"/>
<rect x="549.02" y="66.31" width="1.25" height="1.25" fill="#3d9e2b"/>
<rect x="576.42" y="72.19" width="1.25" height="1.25" fill="#3d9e2b"/>
<rect x="548.58" y="93.80" width="1.25" height="1.25" fill="#3d9e2b"/>
<rect x="564.47" y="73.14" width="1.25" height="1.25" fill="#3d9e2b"/>
<rect x="563.59" y="71.92" width="1.25" height="1.25" fill="#3d9e2b"/>
<rect x="565.68" y="69.67" width="1.25" height="1.25" fill="#3d9e2b"/>
<rect x="567.85" y="89.43" width="1.25" height="1.25" fill="#3d9e2b"/>
<rect x="583.06" y="89.38" width="1.25" height="1.25" fill="#3d9e2b"/>
<rect x="563.81" y="88.97" width="1.25" height="1.25" fill="#3d9e2b"/>
<rect x="575.07" y="86.92" width="1.25" height="1.25" fill="#86c777"/>
<rect x="569.53" y="85.02" width="1.25" height="1.25" fill="#3d9e2b"/>
<rect x="570.31" y="91.23" width="1.25" height="1.25" fill="#3d9e2b"/>
<rect x="580.63" y="84.20" width="1.25" height="1.25" fill="#86c777"/>
<rect x="575.85" y="75.03" width="1.25" height="1.25" fill="#3d9e2b"/>
<rect x="565.43" y="83.84" width="1.25" height="1.25" fill="#86c777"/>
<rect x="556.27" y="82.20" width="1.25" height="1.25" fill="#3d9e2b"/>
<rect x="565.79" y="81.92" width="1.25" height="1.25" fill="#3d9e2b"/>
<rect x="573.52" y="72.18" width="1.25" height="1.25" fill="#3d9e2b"/>
<rect x="567.72" y="82.41" width="1.25" height="1.25" fill="#3d9e2b"/>
<rect x="568.37" y="67.57" width="1.25" height="1.25" fill="#3d9e2b"/>
<rect x="566.85" y="88.02" width="1.25" height="1.25" fill="#3d9e2b"/>
<rect x="568.61" y="80.64" width="1.25" height="1.25" fill="#3d9e2b"/>
<rect x="559.06" y="86.49" width="1.25" height="1.25" fill="#3d9e2b"/>
<rect x="580.11" y="89.85" width="1.25" height="1.25" fill="#86c777"/>
<rect x="569.00" y="65.64" width="1.25" height="1.25" fill="#3d9e2b"/>
<rect x="584.93" y="85.79" width="1.25" height="1.25" fill="#3d9e2b"/>
<rect x="572.20" y="77.85" width="1.25" height="1.25" fill="#3d9e2b"/>
<rect x="560.38" y="83.22" width="1.25" height="1.25" fill="#3d9e2b"/>
<rect x="557.68" y="84.68" width="1.25" height="1.25" fill="#3d9e2b"/>
<rect x="571.01" y="77.65" width="1.25" height="1.25" fill="#3d9e2b"/>
<rect x="556.25" y="92.21" width="1.25" height="1.25" fill="#3d9e2b"/>
<rect x="570.18" y="63.08" width="1.25" height="1.25" fill="#86c777"/>
<rect x="563.08" y="97.77" width="1.25" height="1.25" fill="#3d9e2b"/>
<rect x="555.20" y="67.90" width="1.25" height="1.25" fill="#3d9e2b"/>
<rect x="562.27" y="92.30" width="1.25" height="1.25" fill="#3d9e2b"/>
<rect x="555.49" y="78.26" width="1.25" height="1.25" fill="#86c777"/>
<rect x="546.18" y="87.41" width="1.25" height="1.25" fill="#3d9e2b"/>
<rect x="576.22" y="92.33" width="1.25" height="1.25" fill="#3d9e2b"/>
<rect x="579.29" y="70.25" width="1.25" height="1.25" fill="#86c777"/>
<rect x="564.58" y="72.10" width="1.25" height="1.25" fill="#3d9e2b"/>
<rect x="557.40" y="62.34" width="1.25" height="1.25" fill="#3d9e2b"/>
<rect x="576.09" y="68.02" width="1.25" height="1.25" fill="#86c777"/>
<rect x="565.84" y="72.58" width="1.25" height="1.25" fill="#3d9e2b"/>
<rect x="579.81" y="70.02" width="1.25" height="1.25" fill="#3d9e2b"/>
<rect x="578.48" y="74.76" width="1.25" height="1.25" fill="#3d9e2b"/>
<rect x="582.09" y="79.24" width="1.25" height="1.25" fill="#86c777"/>
<rect x="582.83" y="91.10" width="1.25" height="1.25" fill="#3d9e2b"/>
<rect x="572.04" y="79.44" width="1.25" height="1.25" fill="#3d9e2b"/>
<rect x="573.99" y="88.80" width="1.25" height="1.25" fill="#86c777"/>
<rect x="564.04" y="72.77" width="1.25" height="1.25" fill="#3d9e2b"/>
<rect x="569.82" y="81.49" width="1.25" height="1.25" fill="#3d9e2b"/>
<rect x="560.35" y="75.45" width="1.25" height="1.25" fill="#3d9e2b"/>
<rect x="564.91" y="72.37" width="1.25" height="1.25" fill="#3d9e2b"/>
<rect x="561.44" y="78.99" width="1.25" height="1.25" fill="#86c777"/>
<rect x="565.04" y="86.77" width="1.25" height="1.25" fill="#3d9e2b"/>
<rect x="571.21" y="71.09" width="1.25" height="1.25" fill="#3d9e2b"/>
<rect x="563.77" y="93.39" width="1.25" height="1.25" fill="#86c777"/>
<rect x="556.40" y="66.60" width="1.25" height="1.25" fill="#3d9e2b"/>
<rect x="547.05" y="76.32" width="1.25" height="1.25" fill="#3d9e2b"/>
<rect x="566.05" y="80.41" width="1.25" height="1.25" fill="#3d9e2b"/>
<rect x="573.60" y="81.93" width="1.25" height="1.25" fill="#3d9e2b"/>
<rect x="563.81" y="70.73" width="1.25" height="1.25" fill="#3d9e2b"/>
<rect x="564.55" y="90.43" width="1.25" height="1.25" fill="#3d9e2b"/>
<rect x="556.48" y="70.85" width="1.25" height="1.25" fill="#86c777"/>
<rect x="566.68" y="69.54" width="1.25" height="1.25" fill="#86c777"/>
<rect x="567.76" y="73.76" width="1.25" height="1.25" fill="#3d9e2b"/>
<rect x="556.03" y="80.60" width="1.25" height="1.25" fill="#3d9e2b"/>
<rect x="573.09" y="82.20" width="1.25" height="1.25" fill="#3d9e2b"/>
<rect x="574.17" y="91.95" width="1.25" height="1.25" fill="#3d9e2b"/>
<rect x="581.33" y="79.33" width="1.25" height="1.25" fill="#3d9e2b"/>
<rect x="574.54" y="90.91" width="1.25" height="1.25" fill="#3d9e2b"/>
<rect x="561.50" y="106.15" width="1.25" height="1.25" fill="#86c777"/>
<rect x="568.54" y="88.68" width="1.25" height="1.25" fill="#86c777"/>
<rect x="575.30" y="102.50" width="1.25" height="1.25" fill="#3d9e2b"/>
<rect x="553.57" y="68.10" width="1.25" height="1.25" fill="#3d9e2b"/>
<rect x="573.18" y="79.38" width="1.25" height="1.25" fill="#3d9e2b"/>
<rect x="567.38" y="73.18" width="1.25" height="1.25" fill="#3d9e2b"/>
<rect x="584.62" y="75.15" width="1.25" height="1.25" fill="#3d9e2b"/>
<rect x="555.68" y="70.10" width="1.25" height="1.25" fill="#3d9e2b"/>
<rect x="566.48" y="84.56" width="1.25" height="1.25" fill="#3d9e2b"/>
<rect x="573.38" y="89.91" width="1.25" height="1.25" fill="#3d9e2b"/>
<rect x="560.70" y="87.95" width="1.25" height="1.25" fill="#3d9e2b"/>
<rect x="562.01" y="74.67" width="1.25" height="1.25" fill="#3d9e2b"/>
<rect x="575.07" y="79.43" width="1.25" height="1.25" fill="#86c777"/>
<rect x="546.18" y="75.60" width="1.25" height="1.25" fill="#3d9e2b"/>
<rect x="592.16" y="86.90" width="1.25" height="1.25" fill="#3d9e2b"/>
<rect x="575.07" y="86.61" width="1.25" height="1.25" fill="#3d9e2b"/>
<rect x="582.32" y="73.12" width="1.25" height="1.25" fill="#3d9e2b"/>
<rect x="559.15" y="77.63" width="1.25" height="1.25" fill="#3d9e2b"/>
<rect x="549.42" y="68.75" width="1.25" height="1.25" fill="#3d9e2b"/>
<rect x="565.34" y="81.52" width="1.25" height="1.25" fill="#3d9e2b"/>
<rect x="560.95" y="72.89" width="1.25" height="1.25" fill="#3d9e2b"/>
<rect x="566.68" y="68.50" width="1.25" height="1.25" fill="#3d9e2b"/>
<rect x="558.82" y="76.00" width="1.25" height="1.25" fill="#3d9e2b"/>
<rect x="595.72" y="91.80" width="1.25" height="1.25" fill="#3d9e2b"/>
<rect x="584.82" y="94.15" width="1.25" height="1.25" fill="#3d9e2b"/>
<rect x="562.90" y="87.57" width="1.25" height="1.25" fill="#3d9e2b"/>
<rect x="560.66" y="93.24" width="1.25" height="1.25" fill="#3d9e2b"/>
<rect x="567.57" y="73.25" width="1.25" height="1.25" fill="#3d9e2b"/>
<rect x="561.89" y="80.89" width="1.25" height="1.25" fill="#3d9e2b"/>
<rect x="557.92" y="68.75" width="1.25" height="1.25" fill="#3d9e2b"/>
<rect x="567.14" y="88.08" width="1.25" height="1.25" fill="#3d9e2b"/>
<rect x="576.71" y="85.37" width="1.25" height="1.25" fill="#86c777"/>
<rect x="571.39" y="73.74" width="1.25" height="1.25" fill="#86c777"/>
<rect x="572.72" y="86.68" width="1.25" height="1.25" fill="#86c777"/>
<rect x="558.88" y="80.13" width="1.25" height="1.25" fill="#3d9e2b"/>
<rect x="562.47" y="83.78" width="1.25" height="1.25" fill="#86c777"/>
<rect x="575.01" y="80.03" width="1.25" height="1.25" fill="#3d9e2b"/>
<rect x="566.14" y="86.57" width="1.25" height="1.25" fill="#3d9e2b"/>
<rect x="562.23" y="62.83" width="1.25" height="1.25" fill="#3d9e2b"/>
<rect x="562.34" y="93.04" width="1.25" height="1.25" fill="#86c777"/>
<rect x="590.78" y="81.16" width="1.25" height="1.25" fill="#3d9e2b"/>
<rect x="574.89" y="83.45" width="1.25" height="1.25" fill="#86c777"/>
<rect x="581.71" y="68.42" width="1.25" height="1.25" fill="#3d9e2b"/>
<rect x="559.56" y="68.94" width="1.25" height="1.25" fill="#3d9e2b"/>
<rect x="555.43" y="74.11" width="1.25" height="1.25" fill="#3d9e2b"/>
<rect x="561.03" y="74.76" width="1.25" height="1.25" fill="#3d9e2b"/>
<rect x="562.01" y="89.31" width="1.25" height="1.25" fill="#3d9e2b"/>
<rect x="564.42" y="82.56" width="1.25" height="1.25" fill="#3d9e2b"/>
<rect x="574.94" y="87.03" width="1.25" height="1.25" fill="#3d9e2b"/>
<rect x="555.38" y="72.43" width="1.25" height="1.25" fill="#3d9e2b"/>
<rect x="572.60" y="79.21" width="1.25" height="1.25" fill="#3d9e2b"/>
<rect x="567.29" y="81.63" width="1.25" height="1.25" fill="#3d9e2b"/>
<rect x="572.48" y="81.44" width="1.25" height="1.25" fill="#3d9e2b"/>
<rect x="566.78" y="89.87" width="1.25" height="1.25" fill="#3d9e2b"/>
<rect x="559.53" y="90.41" width="1.25" height="1.25" fill="#3d9e2b"/>
<rect x="558.07" y="70.52" width="1.25" height="1.25" fill="#86c777"/>
<rect x="571.66" y="73.77" width="1.25" height="1.25" fill="#3d9e2b"/>
<rect x="563.59" y="84.82" width="1.25" height="1.25" fill="#86c777"/>
<rect x="551.77" y="60.00" width="1.25" height="1.25" fill="#3d9e2b"/>
<rect x="555.80" y="78.05" width="1.25" height="1.25" fill="#3d9e2b"/>
<rect x="562.43" y="76.81" width="1.25" height="1.25" fill="#3d9e2b"/>
<rect x="574.14" y="83.75" width="1.25" height="1.25" fill="#3d9e2b"/>
<rect x="577.96" y="87.51" width="1.25" height="1.25" fill="#3d9e2b"/>
<rect x="562.91" y="82.26" width="1.25" height="1.25" fill="#3d9e2b"/>
<rect x="563.92" y="81.27" width="1.25" height="1.25" fill="#3d9e2b"/>
<rect x="571.27" y="81.91" width="1.25" height="1.25" fill="#3d9e2b"/>
<rect x="567.29" y="79.02" width="1.25" height="1.25" fill="#3d9e2b"/>
<rect x="569.11" y="80.20" width="1.25" height="1.25" fill="#3d9e2b"/>
<rect x="565.18" y="96.83" width="1.25" height="1.25" fill="#3d9e2b"/>
<line x1="545.60" y1="78.30" x2="600.70" y2="88.20" stroke="#161616" stroke-width="1.08"/>
<rect x="545.60" y="56.70" width="55.10" height="53.50" fill="none" stroke="#4a4a4a" stroke-width="1.0"/>
<line x1="556.50" y1="110.20" x2="556.50" y2="112.50" stroke="#444" stroke-width="0.6"/>
<text x="556.50" y="116.60" font-size="4.4" fill="#222" text-anchor="middle" stroke="#222" stroke-width="0.18" >7</text>
<line x1="568.70" y1="110.20" x2="568.70" y2="112.50" stroke="#444" stroke-width="0.6"/>
<text x="568.70" y="116.60" font-size="4.4" fill="#222" text-anchor="middle" stroke="#222" stroke-width="0.18" >8</text>
<line x1="580.90" y1="110.20" x2="580.90" y2="112.50" stroke="#444" stroke-width="0.6"/>
<text x="580.90" y="116.60" font-size="4.4" fill="#222" text-anchor="middle" stroke="#222" stroke-width="0.18" >9</text>
<line x1="593.10" y1="110.20" x2="593.10" y2="112.50" stroke="#444" stroke-width="0.6"/>
<text x="593.10" y="116.60" font-size="4.4" fill="#222" text-anchor="middle" stroke="#222" stroke-width="0.18" >10</text>
<line x1="543.30" y1="108.70" x2="545.60" y2="108.70" stroke="#555" stroke-width="0.6"/>
<text x="541.88" y="108.70" font-size="4.4" fill="#222" text-anchor="middle" stroke="#222" stroke-width="0.18" transform="rotate(-90 541.88 108.70)" >4</text>
<line x1="543.30" y1="101.40" x2="545.60" y2="101.40" stroke="#555" stroke-width="0.6"/>
<text x="541.88" y="101.40" font-size="4.4" fill="#222" text-anchor="middle" stroke="#222" stroke-width="0.18" transform="rotate(-90 541.88 101.40)" >5</text>
<line x1="543.30" y1="94.10" x2="545.60" y2="94.10" stroke="#555" stroke-width="0.6"/>
<text x="541.88" y="94.10" font-size="4.4" fill="#222" text-anchor="middle" stroke="#222" stroke-width="0.18" transform="rotate(-90 541.88 94.10)" >6</text>
<line x1="543.30" y1="86.80" x2="545.60" y2="86.80" stroke="#555" stroke-width="0.6"/>
<text x="541.88" y="86.80" font-size="4.4" fill="#222" text-anchor="middle" stroke="#222" stroke-width="0.18" transform="rotate(-90 541.88 86.80)" >7</text>
<line x1="543.30" y1="79.50" x2="545.60" y2="79.50" stroke="#555" stroke-width="0.6"/>
<text x="541.88" y="79.50" font-size="4.4" fill="#222" text-anchor="middle" stroke="#222" stroke-width="0.18" transform="rotate(-90 541.88 79.50)" >8</text>
<line x1="543.30" y1="72.20" x2="545.60" y2="72.20" stroke="#555" stroke-width="0.6"/>
<text x="541.88" y="72.20" font-size="4.4" fill="#222" text-anchor="middle" stroke="#222" stroke-width="0.18" transform="rotate(-90 541.88 72.20)" >9</text>
<line x1="543.30" y1="64.90" x2="545.60" y2="64.90" stroke="#555" stroke-width="0.6"/>
<text x="541.88" y="64.90" font-size="4.4" fill="#222" text-anchor="middle" stroke="#222" stroke-width="0.18" transform="rotate(-90 541.88 64.90)" >10</text>
<text x="572.35" y="120.90" font-size="4.8" fill="#222" text-anchor="middle" stroke="#222" stroke-width="0.18" >GLI3</text>
<text x="535.05" y="82.65" font-size="4.6" fill="#111" text-anchor="middle" stroke="#111" stroke-width="0.18" transform="rotate(-90 535.05 82.65)" >hsa-miR-186-5p</text>
<text x="547.90" y="55.70" font-size="4.5" fill="#2a2a2a" text-anchor="start" stroke="#2a2a2a" stroke-width="0.06" textLength="17.10" lengthAdjust="spacingAndGlyphs" >corr=-0.15</text>
<text x="582.70" y="55.70" font-size="4.5" fill="#2a2a2a" text-anchor="start" stroke="#2a2a2a" stroke-width="0.06" textLength="19.10" lengthAdjust="spacingAndGlyphs" >p=0.21498</text>
<polygon points="626.80,81.10 641.90,80.40 666.00,83.20 666.00,97.30 626.80,95.10" fill="#fdeeee" stroke="#f4a6a6" stroke-width="0.6"/>
<rect x="663.75" y="95.02" width="1.25" height="1.25" fill="#f8b4b4"/>
<rect x="654.61" y="96.61" width="1.25" height="1.25" fill="#f4898b"/>
<rect x="626.63" y="81.05" width="1.25" height="1.25" fill="#f4898b"/>
<rect x="631.93" y="95.56" width="1.25" height="1.25" fill="#f4898b"/>
<rect x="660.16" y="82.32" width="1.25" height="1.25" fill="#f4898b"/>
<rect x="658.69" y="88.08" width="1.25" height="1.25" fill="#f4898b"/>
<rect x="648.97" y="87.65" width="1.25" height="1.25" fill="#f4898b"/>
<rect x="652.04" y="81.60" width="1.25" height="1.25" fill="#f4898b"/>
<rect x="635.64" y="76.45" width="1.25" height="1.25" fill="#f4898b"/>
<rect x="656.36" y="88.27" width="1.25" height="1.25" fill="#f4898b"/>
<rect x="641.60" y="87.86" width="1.25" height="1.25" fill="#f4898b"/>
<rect x="629.52" y="77.04" width="1.25" height="1.25" fill="#f4898b"/>
<rect x="651.00" y="99.67" width="1.25" height="1.25" fill="#f4898b"/>
<rect x="632.67" y="85.11" width="1.25" height="1.25" fill="#f4898b"/>
<rect x="653.41" y="79.56" width="1.25" height="1.25" fill="#f4898b"/>
<rect x="659.20" y="101.15" width="1.25" height="1.25" fill="#f4898b"/>
<rect x="649.05" y="94.34" width="1.25" height="1.25" fill="#f8b4b4"/>
<rect x="654.84" y="97.27" width="1.25" height="1.25" fill="#f4898b"/>
<rect x="658.10" y="76.61" width="1.25" height="1.25" fill="#f4898b"/>
<rect x="642.96" y="81.10" width="1.25" height="1.25" fill="#f4898b"/>
<rect x="632.31" y="107.98" width="1.25" height="1.25" fill="#f8b4b4"/>
<rect x="653.26" y="93.43" width="1.25" height="1.25" fill="#f4898b"/>
<rect x="657.86" y="88.20" width="1.25" height="1.25" fill="#f8b4b4"/>
<rect x="649.69" y="99.62" width="1.25" height="1.25" fill="#f4898b"/>
<rect x="630.69" y="90.94" width="1.25" height="1.25" fill="#f8b4b4"/>
<rect x="649.51" y="84.05" width="1.25" height="1.25" fill="#f4898b"/>
<rect x="641.85" y="94.46" width="1.25" height="1.25" fill="#f4898b"/>
<rect x="646.16" y="75.86" width="1.25" height="1.25" fill="#f4898b"/>
<rect x="666.00" y="89.83" width="1.25" height="1.25" fill="#f4898b"/>
<rect x="636.62" y="78.23" width="1.25" height="1.25" fill="#f8b4b4"/>
<rect x="658.08" y="85.76" width="1.25" height="1.25" fill="#f8b4b4"/>
<rect x="664.30" y="81.62" width="1.25" height="1.25" fill="#f4898b"/>
<rect x="652.20" y="99.68" width="1.25" height="1.25" fill="#f4898b"/>
<rect x="636.63" y="85.56" width="1.25" height="1.25" fill="#f4898b"/>
<rect x="631.34" y="76.64" width="1.25" height="1.25" fill="#f4898b"/>
<rect x="643.94" y="76.43" width="1.25" height="1.25" fill="#f4898b"/>
<rect x="631.81" y="87.37" width="1.25" height="1.25" fill="#f4898b"/>
<rect x="634.49" y="92.71" width="1.25" height="1.25" fill="#f4898b"/>
<rect x="628.31" y="88.12" width="1.25" height="1.25" fill="#f4898b"/>
<rect x="638.47" y="98.92" width="1.25" height="1.25" fill="#f4898b"/>
<rect x="637.63" y="95.44" width="1.25" height="1.25" fill="#f4898b"/>
<rect x="655.37" y="87.64" width="1.25" height="1.25" fill="#f4898b"/>
<rect x="627.93" y="86.59" width="1.25" height="1.25" fill="#f8b4b4"/>
<rect x="628.08" y="83.66" width="1.25" height="1.25" fill="#f4898b"/>
<rect x="655.24" y="82.22" width="1.25" height="1.25" fill="#f8b4b4"/>
<rect x="658.24" y="88.22" width="1.25" height="1.25" fill="#f4898b"/>
<rect x="659.26" y="97.30" width="1.25" height="1.25" fill="#f4898b"/>
<rect x="654.84" y="95.51" width="1.25" height="1.25" fill="#f4898b"/>
<rect x="628.48" y="83.78" width="1.25" height="1.25" fill="#f4898b"/>
<rect x="653.78" y="89.13" width="1.25" height="1.25" fill="#f4898b"/>
<rect x="635.32" y="79.08" width="1.25" height="1.25" fill="#f4898b"/>
<rect x="628.02" y="86.46" width="1.25" height="1.25" fill="#f4898b"/>
<rect x="637.17" y="81.96" width="1.25" height="1.25" fill="#f8b4b4"/>
<rect x="653.13" y="78.49" width="1.25" height="1.25" fill="#f8b4b4"/>
<rect x="636.87" y="93.42" width="1.25" height="1.25" fill="#f4898b"/>
<rect x="649.62" y="93.70" width="1.25" height="1.25" fill="#f4898b"/>
<rect x="660.51" y="87.35" width="1.25" height="1.25" fill="#f8b4b4"/>
<rect x="651.57" y="101.48" width="1.25" height="1.25" fill="#f4898b"/>
<rect x="655.03" y="80.67" width="1.25" height="1.25" fill="#f4898b"/>
<rect x="665.27" y="96.55" width="1.25" height="1.25" fill="#f4898b"/>
<rect x="650.84" y="82.87" width="1.25" height="1.25" fill="#f4898b"/>
<rect x="641.10" y="79.91" width="1.25" height="1.25" fill="#f4898b"/>
<rect x="645.50" y="82.44" width="1.25" height="1.25" fill="#f4898b"/>
<rect x="659.20" y="88.43" width="1.25" height="1.25" fill="#f4898b"/>
<rect x="626.75" y="83.32" width="1.25" height="1.25" fill="#f4898b"/>
<rect x="658.15" y="85.81" width="1.25" height="1.25" fill="#f4898b"/>
<rect x="639.05" y="91.74" width="1.25" height="1.25" fill="#f4898b"/>
<rect x="631.89" y="97.91" width="1.25" height="1.25" fill="#f4898b"/>
<rect x="653.36" y="85.61" width="1.25" height="1.25" fill="#f8b4b4"/>
<rect x="650.09" y="92.41" width="1.25" height="1.25" fill="#f4898b"/>
<rect x="653.91" y="80.20" width="1.25" height="1.25" fill="#f4898b"/>
<rect x="644.22" y="89.28" width="1.25" height="1.25" fill="#f4898b"/>
<rect x="654.62" y="73.04" width="1.25" height="1.25" fill="#f4898b"/>
<rect x="644.43" y="75.85" width="1.25" height="1.25" fill="#f4898b"/>
<rect x="623.43" y="76.82" width="1.25" height="1.25" fill="#f4898b"/>
<rect x="631.83" y="84.70" width="1.25" height="1.25" fill="#f8b4b4"/>
<rect x="641.38" y="87.95" width="1.25" height="1.25" fill="#f4898b"/>
<rect x="661.16" y="100.02" width="1.25" height="1.25" fill="#f4898b"/>
<rect x="659.42" y="92.24" width="1.25" height="1.25" fill="#f4898b"/>
<rect x="641.55" y="89.90" width="1.25" height="1.25" fill="#f4898b"/>
<rect x="635.84" y="75.54" width="1.25" height="1.25" fill="#f4898b"/>
<rect x="627.46" y="106.88" width="1.25" height="1.25" fill="#f4898b"/>
<rect x="638.85" y="94.70" width="1.25" height="1.25" fill="#f4898b"/>
<rect x="640.80" y="61.19" width="1.25" height="1.25" fill="#f4898b"/>
<rect x="629.58" y="74.74" width="1.25" height="1.25" fill="#f4898b"/>
<rect x="634.44" y="99.73" width="1.25" height="1.25" fill="#f4898b"/>
<rect x="658.43" y="84.62" width="1.25" height="1.25" fill="#f4898b"/>
<rect x="647.89" y="74.38" width="1.25" height="1.25" fill="#f4898b"/>
<rect x="663.02" y="91.61" width="1.25" height="1.25" fill="#f4898b"/>
<rect x="662.10" y="82.92" width="1.25" height="1.25" fill="#f8b4b4"/>
<rect x="638.27" y="85.29" width="1.25" height="1.25" fill="#f4898b"/>
<rect x="643.14" y="98.62" width="1.25" height="1.25" fill="#f4898b"/>
<rect x="652.06" y="74.31" width="1.25" height="1.25" fill="#f8b4b4"/>
<rect x="645.56" y="94.74" width="1.25" height="1.25" fill="#f4898b"/>
<rect x="650.79" y="87.82" width="1.25" height="1.25" fill="#f8b4b4"/>
<rect x="657.07" y="106.32" width="1.25" height="1.25" fill="#f4898b"/>
<rect x="658.71" y="101.84" width="1.25" height="1.25" fill="#f4898b"/>
<rect x="663.95" y="92.20" width="1.25" height="1.25" fill="#f4898b"/>
<rect x="645.29" y="97.11" width="1.25" height="1.25" fill="#f4898b"/>
<rect x="653.54" y="89.72" width="1.25" height="1.25" fill="#f4898b"/>
<line x1="620.20" y1="90.80" x2="673.90" y2="90.80" stroke="#161616" stroke-width="1.08"/>
<rect x="620.20" y="56.40" width="53.70" height="53.40" fill="none" stroke="#4a4a4a" stroke-width="1.0"/>
<line x1="622.60" y1="109.80" x2="622.60" y2="112.10" stroke="#444" stroke-width="0.6"/>
<text x="622.60" y="116.20" font-size="4.4" fill="#222" text-anchor="middle" stroke="#222" stroke-width="0.18" >7.0</text>
<line x1="638.10" y1="109.80" x2="638.10" y2="112.10" stroke="#444" stroke-width="0.6"/>
<text x="638.10" y="116.20" font-size="4.4" fill="#222" text-anchor="middle" stroke="#222" stroke-width="0.18" >8.0</text>
<line x1="653.60" y1="109.80" x2="653.60" y2="112.10" stroke="#444" stroke-width="0.6"/>
<text x="653.60" y="116.20" font-size="4.4" fill="#222" text-anchor="middle" stroke="#222" stroke-width="0.18" >9.0</text>
<line x1="669.10" y1="109.80" x2="669.10" y2="112.10" stroke="#444" stroke-width="0.6"/>
<text x="669.10" y="116.20" font-size="4.4" fill="#222" text-anchor="middle" stroke="#222" stroke-width="0.18" >10.0</text>
<line x1="617.90" y1="102.00" x2="620.20" y2="102.00" stroke="#555" stroke-width="0.6"/>
<text x="616.48" y="102.00" font-size="4.4" fill="#222" text-anchor="middle" stroke="#222" stroke-width="0.18" transform="rotate(-90 616.48 102.00)" >6</text>
<line x1="617.90" y1="89.80" x2="620.20" y2="89.80" stroke="#555" stroke-width="0.6"/>
<text x="616.48" y="89.80" font-size="4.4" fill="#222" text-anchor="middle" stroke="#222" stroke-width="0.18" transform="rotate(-90 616.48 89.80)" >8</text>
<line x1="617.90" y1="77.60" x2="620.20" y2="77.60" stroke="#555" stroke-width="0.6"/>
<text x="616.48" y="77.60" font-size="4.4" fill="#222" text-anchor="middle" stroke="#222" stroke-width="0.18" transform="rotate(-90 616.48 77.60)" >10</text>
<line x1="617.90" y1="65.40" x2="620.20" y2="65.40" stroke="#555" stroke-width="0.6"/>
<text x="616.48" y="65.40" font-size="4.4" fill="#222" text-anchor="middle" stroke="#222" stroke-width="0.18" transform="rotate(-90 616.48 65.40)" >12</text>
<text x="646.25" y="120.50" font-size="4.8" fill="#222" text-anchor="middle" stroke="#222" stroke-width="0.18" >GLI3</text>
<text x="609.55" y="82.30" font-size="4.6" fill="#111" text-anchor="middle" stroke="#111" stroke-width="0.18" transform="rotate(-90 609.55 82.30)" >hsa-miR-186-5p</text>
<text x="620.80" y="55.40" font-size="4.5" fill="#2a2a2a" text-anchor="start" stroke="#2a2a2a" stroke-width="0.06" textLength="16.30" lengthAdjust="spacingAndGlyphs" >corr=0.01</text>
<text x="662.80" y="55.40" font-size="4.5" fill="#2a2a2a" text-anchor="start" stroke="#2a2a2a" stroke-width="0.06" textLength="17.00" lengthAdjust="spacingAndGlyphs" >p=0.9278</text>
<path d="M668.10,58.40L672.50,62.80M668.10,62.80L672.50,58.40" stroke="#e3211c" stroke-width="1.3" fill="none"/>
<polygon points="28.40,138.60 37.00,146.20 45.60,150.50 50.00,149.40 56.40,153.80 56.40,178.60 47.80,172.10 38.10,170.00 28.40,164.60" fill="#dee6f4" stroke="#8ea6d3" stroke-width="0.6"/>
<rect x="41.43" y="159.84" width="1.25" height="1.25" fill="#86a9da"/>
<rect x="30.33" y="144.80" width="1.25" height="1.25" fill="#3b78c3"/>
<rect x="44.12" y="152.03" width="1.25" height="1.25" fill="#3b78c3"/>
<rect x="40.77" y="149.61" width="1.25" height="1.25" fill="#3b78c3"/>
<rect x="41.57" y="164.19" width="1.25" height="1.25" fill="#3b78c3"/>
<rect x="39.79" y="157.39" width="1.25" height="1.25" fill="#3b78c3"/>
<rect x="39.37" y="154.22" width="1.25" height="1.25" fill="#3b78c3"/>
<rect x="33.13" y="144.59" width="1.25" height="1.25" fill="#3b78c3"/>
<rect x="36.55" y="163.77" width="1.25" height="1.25" fill="#3b78c3"/>
<rect x="59.39" y="177.89" width="1.25" height="1.25" fill="#3b78c3"/>
<rect x="33.08" y="164.71" width="1.25" height="1.25" fill="#3b78c3"/>
<rect x="38.11" y="168.83" width="1.25" height="1.25" fill="#3b78c3"/>
<rect x="50.64" y="169.90" width="1.25" height="1.25" fill="#86a9da"/>
<rect x="47.81" y="156.65" width="1.25" height="1.25" fill="#3b78c3"/>
<rect x="42.47" y="170.92" width="1.25" height="1.25" fill="#3b78c3"/>
<rect x="29.47" y="172.26" width="1.25" height="1.25" fill="#3b78c3"/>
<rect x="40.50" y="170.78" width="1.25" height="1.25" fill="#3b78c3"/>
<rect x="36.21" y="139.26" width="1.25" height="1.25" fill="#86a9da"/>
<rect x="67.72" y="159.60" width="1.25" height="1.25" fill="#3b78c3"/>
<rect x="28.81" y="147.00" width="1.25" height="1.25" fill="#86a9da"/>
<rect x="41.14" y="184.58" width="1.25" height="1.25" fill="#3b78c3"/>
<rect x="58.64" y="174.42" width="1.25" height="1.25" fill="#86a9da"/>
<rect x="45.46" y="164.72" width="1.25" height="1.25" fill="#3b78c3"/>
<rect x="38.47" y="160.63" width="1.25" height="1.25" fill="#3b78c3"/>
<rect x="43.40" y="169.12" width="1.25" height="1.25" fill="#3b78c3"/>
<rect x="45.41" y="151.33" width="1.25" height="1.25" fill="#3b78c3"/>
<rect x="51.13" y="156.86" width="1.25" height="1.25" fill="#3b78c3"/>
<rect x="35.66" y="144.35" width="1.25" height="1.25" fill="#3b78c3"/>
<rect x="37.71" y="167.76" width="1.25" height="1.25" fill="#3b78c3"/>
<rect x="28.15" y="145.12" width="1.25" height="1.25" fill="#3b78c3"/>
<rect x="36.49" y="150.33" width="1.25" height="1.25" fill="#3b78c3"/>
<rect x="44.13" y="154.60" width="1.25" height="1.25" fill="#86a9da"/>
<rect x="35.91" y="162.62" width="1.25" height="1.25" fill="#3b78c3"/>
<rect x="31.83" y="153.40" width="1.25" height="1.25" fill="#3b78c3"/>
<rect x="54.35" y="156.91" width="1.25" height="1.25" fill="#3b78c3"/>
<rect x="31.37" y="150.81" width="1.25" height="1.25" fill="#3b78c3"/>
<rect x="46.99" y="171.79" width="1.25" height="1.25" fill="#3b78c3"/>
<rect x="54.40" y="163.48" width="1.25" height="1.25" fill="#86a9da"/>
<rect x="38.09" y="159.21" width="1.25" height="1.25" fill="#3b78c3"/>
<rect x="48.60" y="164.43" width="1.25" height="1.25" fill="#3b78c3"/>
<rect x="50.77" y="170.10" width="1.25" height="1.25" fill="#3b78c3"/>
<rect x="44.37" y="171.45" width="1.25" height="1.25" fill="#3b78c3"/>
<rect x="39.60" y="161.00" width="1.25" height="1.25" fill="#3b78c3"/>
<rect x="48.43" y="173.83" width="1.25" height="1.25" fill="#3b78c3"/>
<rect x="33.68" y="142.74" width="1.25" height="1.25" fill="#3b78c3"/>
<rect x="40.03" y="170.94" width="1.25" height="1.25" fill="#3b78c3"/>
<rect x="28.08" y="139.54" width="1.25" height="1.25" fill="#3b78c3"/>
<rect x="51.19" y="161.56" width="1.25" height="1.25" fill="#3b78c3"/>
<rect x="63.62" y="163.78" width="1.25" height="1.25" fill="#3b78c3"/>
<rect x="35.89" y="158.22" width="1.25" height="1.25" fill="#3b78c3"/>
<rect x="35.20" y="168.31" width="1.25" height="1.25" fill="#3b78c3"/>
<rect x="48.30" y="170.90" width="1.25" height="1.25" fill="#3b78c3"/>
<rect x="36.83" y="145.89" width="1.25" height="1.25" fill="#3b78c3"/>
<rect x="46.62" y="163.35" width="1.25" height="1.25" fill="#3b78c3"/>
<rect x="42.26" y="164.33" width="1.25" height="1.25" fill="#86a9da"/>
<rect x="39.15" y="165.57" width="1.25" height="1.25" fill="#3b78c3"/>
<rect x="28.78" y="152.47" width="1.25" height="1.25" fill="#86a9da"/>
<rect x="45.03" y="171.71" width="1.25" height="1.25" fill="#3b78c3"/>
<rect x="29.76" y="162.48" width="1.25" height="1.25" fill="#3b78c3"/>
<rect x="42.90" y="154.70" width="1.25" height="1.25" fill="#3b78c3"/>
<rect x="40.29" y="166.44" width="1.25" height="1.25" fill="#3b78c3"/>
<rect x="32.55" y="164.14" width="1.25" height="1.25" fill="#3b78c3"/>
<rect x="37.38" y="169.79" width="1.25" height="1.25" fill="#3b78c3"/>
<rect x="50.85" y="171.41" width="1.25" height="1.25" fill="#3b78c3"/>
<rect x="52.88" y="166.58" width="1.25" height="1.25" fill="#3b78c3"/>
<rect x="28.29" y="135.78" width="1.25" height="1.25" fill="#3b78c3"/>
<rect x="37.98" y="166.99" width="1.25" height="1.25" fill="#3b78c3"/>
<rect x="32.44" y="148.14" width="1.25" height="1.25" fill="#3b78c3"/>
<rect x="29.98" y="161.31" width="1.25" height="1.25" fill="#3b78c3"/>
<rect x="38.11" y="154.62" width="1.25" height="1.25" fill="#3b78c3"/>
<rect x="40.11" y="166.67" width="1.25" height="1.25" fill="#3b78c3"/>
<rect x="39.01" y="164.54" width="1.25" height="1.25" fill="#3b78c3"/>
<rect x="55.59" y="172.60" width="1.25" height="1.25" fill="#3b78c3"/>
<rect x="45.27" y="169.01" width="1.25" height="1.25" fill="#3b78c3"/>
<rect x="28.75" y="146.58" width="1.25" height="1.25" fill="#3b78c3"/>
<rect x="34.08" y="146.41" width="1.25" height="1.25" fill="#3b78c3"/>
<rect x="30.00" y="159.07" width="1.25" height="1.25" fill="#3b78c3"/>
<rect x="38.35" y="169.62" width="1.25" height="1.25" fill="#86a9da"/>
<rect x="37.99" y="160.57" width="1.25" height="1.25" fill="#3b78c3"/>
<rect x="31.67" y="147.64" width="1.25" height="1.25" fill="#3b78c3"/>
<rect x="49.93" y="168.37" width="1.25" height="1.25" fill="#3b78c3"/>
<rect x="44.06" y="166.90" width="1.25" height="1.25" fill="#3b78c3"/>
<rect x="33.60" y="142.63" width="1.25" height="1.25" fill="#3b78c3"/>
<rect x="40.11" y="150.68" width="1.25" height="1.25" fill="#86a9da"/>
<rect x="36.37" y="142.77" width="1.25" height="1.25" fill="#86a9da"/>
<rect x="55.46" y="161.11" width="1.25" height="1.25" fill="#3b78c3"/>
<rect x="42.04" y="159.82" width="1.25" height="1.25" fill="#3b78c3"/>
<rect x="32.18" y="152.21" width="1.25" height="1.25" fill="#3b78c3"/>
<rect x="54.60" y="163.64" width="1.25" height="1.25" fill="#3b78c3"/>
<rect x="48.98" y="174.43" width="1.25" height="1.25" fill="#3b78c3"/>
<line x1="20.30" y1="148.70" x2="73.70" y2="176.70" stroke="#161616" stroke-width="1.08"/>
<rect x="20.30" y="133.80" width="53.40" height="52.60" fill="none" stroke="#4a4a4a" stroke-width="1.0"/>
<line x1="21.60" y1="186.40" x2="21.60" y2="188.70" stroke="#444" stroke-width="0.6"/>
<text x="21.60" y="192.80" font-size="4.4" fill="#222" text-anchor="middle" stroke="#222" stroke-width="0.18" >5.0</text>
<line x1="35.80" y1="186.40" x2="35.80" y2="188.70" stroke="#444" stroke-width="0.6"/>
<text x="35.80" y="192.80" font-size="4.4" fill="#222" text-anchor="middle" stroke="#222" stroke-width="0.18" >6.0</text>
<line x1="50.00" y1="186.40" x2="50.00" y2="188.70" stroke="#444" stroke-width="0.6"/>
<text x="50.00" y="192.80" font-size="4.4" fill="#222" text-anchor="middle" stroke="#222" stroke-width="0.18" >7.0</text>
<line x1="64.20" y1="186.40" x2="64.20" y2="188.70" stroke="#444" stroke-width="0.6"/>
<text x="64.20" y="192.80" font-size="4.4" fill="#222" text-anchor="middle" stroke="#222" stroke-width="0.18" >8.0</text>
<line x1="28.70" y1="186.40" x2="28.70" y2="187.90" stroke="#555" stroke-width="0.6"/>
<line x1="42.90" y1="186.40" x2="42.90" y2="187.90" stroke="#555" stroke-width="0.6"/>
<line x1="57.10" y1="186.40" x2="57.10" y2="187.90" stroke="#555" stroke-width="0.6"/>
<line x1="71.30" y1="186.40" x2="71.30" y2="187.90" stroke="#555" stroke-width="0.6"/>
<line x1="18.00" y1="181.60" x2="20.30" y2="181.60" stroke="#555" stroke-width="0.6"/>
<text x="16.88" y="181.60" font-size="4.4" fill="#222" text-anchor="middle" stroke="#222" stroke-width="0.18" transform="rotate(-90 16.88 181.60)" >2</text>
<line x1="18.00" y1="173.80" x2="20.30" y2="173.80" stroke="#555" stroke-width="0.6"/>
<text x="16.88" y="173.80" font-size="4.4" fill="#222" text-anchor="middle" stroke="#222" stroke-width="0.18" transform="rotate(-90 16.88 173.80)" >4</text>
<line x1="18.00" y1="166.00" x2="20.30" y2="166.00" stroke="#555" stroke-width="0.6"/>
<text x="16.88" y="166.00" font-size="4.4" fill="#222" text-anchor="middle" stroke="#222" stroke-width="0.18" transform="rotate(-90 16.88 166.00)" >6</text>
<line x1="18.00" y1="158.20" x2="20.30" y2="158.20" stroke="#555" stroke-width="0.6"/>
<text x="16.88" y="158.20" font-size="4.4" fill="#222" text-anchor="middle" stroke="#222" stroke-width="0.18" transform="rotate(-90 16.88 158.20)" >8</text>
<line x1="18.00" y1="150.40" x2="20.30" y2="150.40" stroke="#555" stroke-width="0.6"/>
<text x="16.88" y="150.40" font-size="4.4" fill="#222" text-anchor="middle" stroke="#222" stroke-width="0.18" transform="rotate(-90 16.88 150.40)" >10</text>
<line x1="18.00" y1="142.60" x2="20.30" y2="142.60" stroke="#555" stroke-width="0.6"/>
<text x="16.88" y="142.60" font-size="4.4" fill="#222" text-anchor="middle" stroke="#222" stroke-width="0.18" transform="rotate(-90 16.88 142.60)" >12</text>
<line x1="18.00" y1="134.80" x2="20.30" y2="134.80" stroke="#555" stroke-width="0.6"/>
<text x="16.88" y="134.80" font-size="4.4" fill="#222" text-anchor="middle" stroke="#222" stroke-width="0.18" transform="rotate(-90 16.88 134.80)" >14</text>
<text x="46.20" y="197.60" font-size="4.8" fill="#222" text-anchor="middle" stroke="#222" stroke-width="0.18" >SOX11</text>
<text x="8.95" y="158.10" font-size="4.6" fill="#111" text-anchor="middle" stroke="#111" stroke-width="0.18" transform="rotate(-90 8.95 158.10)" >hsa-miR-186-5p</text>
<text x="21.00" y="132.80" font-size="4.5" fill="#2a2a2a" text-anchor="start" stroke="#2a2a2a" stroke-width="0.06" textLength="17.10" lengthAdjust="spacingAndGlyphs" >corr=-0.37</text>
<text x="50.60" y="132.80" font-size="4.5" fill="#2a2a2a" text-anchor="start" stroke="#2a2a2a" stroke-width="0.06" textLength="23.60" lengthAdjust="spacingAndGlyphs" >p=0.0005084</text>
<polygon points="103.80,148.50 116.30,148.50 127.10,152.80 140.00,158.20 140.00,180.80 127.10,174.30 116.30,170.00 103.80,170.00" fill="#e3f1dc" stroke="#99cc88" stroke-width="0.6"/>
<rect x="125.04" y="160.01" width="1.25" height="1.25" fill="#3d9e2b"/>
<rect x="129.56" y="175.22" width="1.25" height="1.25" fill="#3d9e2b"/>
<rect x="139.26" y="155.44" width="1.25" height="1.25" fill="#3d9e2b"/>
<rect x="116.53" y="145.06" width="1.25" height="1.25" fill="#3d9e2b"/>
<rect x="113.51" y="165.79" width="1.25" height="1.25" fill="#86c777"/>
<rect x="128.94" y="180.13" width="1.25" height="1.25" fill="#3d9e2b"/>
<rect x="128.53" y="163.19" width="1.25" height="1.25" fill="#86c777"/>
<rect x="131.17" y="166.93" width="1.25" height="1.25" fill="#3d9e2b"/>
<rect x="123.04" y="146.93" width="1.25" height="1.25" fill="#3d9e2b"/>
<rect x="111.80" y="148.72" width="1.25" height="1.25" fill="#3d9e2b"/>
<rect x="129.08" y="169.89" width="1.25" height="1.25" fill="#3d9e2b"/>
<rect x="125.79" y="174.46" width="1.25" height="1.25" fill="#3d9e2b"/>
<rect x="122.76" y="173.60" width="1.25" height="1.25" fill="#86c777"/>
<rect x="108.10" y="180.89" width="1.25" height="1.25" fill="#3d9e2b"/>
<rect x="136.15" y="183.68" width="1.25" height="1.25" fill="#3d9e2b"/>
<rect x="103.18" y="179.56" width="1.25" height="1.25" fill="#3d9e2b"/>
<rect x="103.86" y="142.05" width="1.25" height="1.25" fill="#3d9e2b"/>
<rect x="126.10" y="175.85" width="1.25" height="1.25" fill="#86c777"/>
<rect x="122.73" y="161.13" width="1.25" height="1.25" fill="#3d9e2b"/>
<rect x="125.98" y="156.97" width="1.25" height="1.25" fill="#3d9e2b"/>
<rect x="135.75" y="169.76" width="1.25" height="1.25" fill="#3d9e2b"/>
<rect x="123.28" y="176.62" width="1.25" height="1.25" fill="#3d9e2b"/>
<rect x="112.97" y="157.53" width="1.25" height="1.25" fill="#3d9e2b"/>
<rect x="126.39" y="150.48" width="1.25" height="1.25" fill="#86c777"/>
<rect x="119.98" y="160.51" width="1.25" height="1.25" fill="#3d9e2b"/>
<rect x="130.43" y="169.70" width="1.25" height="1.25" fill="#3d9e2b"/>
<rect x="136.43" y="163.53" width="1.25" height="1.25" fill="#3d9e2b"/>
<rect x="106.77" y="158.59" width="1.25" height="1.25" fill="#3d9e2b"/>
<rect x="123.65" y="167.84" width="1.25" height="1.25" fill="#3d9e2b"/>
<rect x="112.82" y="149.55" width="1.25" height="1.25" fill="#3d9e2b"/>
<rect x="128.54" y="163.46" width="1.25" height="1.25" fill="#3d9e2b"/>
<rect x="126.08" y="151.27" width="1.25" height="1.25" fill="#86c777"/>
<rect x="130.20" y="178.66" width="1.25" height="1.25" fill="#3d9e2b"/>
<rect x="110.54" y="151.27" width="1.25" height="1.25" fill="#86c777"/>
<rect x="125.34" y="168.09" width="1.25" height="1.25" fill="#3d9e2b"/>
<rect x="102.65" y="155.70" width="1.25" height="1.25" fill="#3d9e2b"/>
<rect x="122.24" y="165.95" width="1.25" height="1.25" fill="#3d9e2b"/>
<rect x="112.91" y="173.02" width="1.25" height="1.25" fill="#86c777"/>
<rect x="123.40" y="183.68" width="1.25" height="1.25" fill="#3d9e2b"/>
<rect x="132.51" y="167.48" width="1.25" height="1.25" fill="#3d9e2b"/>
<rect x="110.10" y="163.27" width="1.25" height="1.25" fill="#86c777"/>
<rect x="137.64" y="154.21" width="1.25" height="1.25" fill="#86c777"/>
<rect x="103.14" y="161.92" width="1.25" height="1.25" fill="#3d9e2b"/>
<rect x="114.27" y="162.14" width="1.25" height="1.25" fill="#86c777"/>
<rect x="127.06" y="179.15" width="1.25" height="1.25" fill="#3d9e2b"/>
<rect x="124.96" y="156.23" width="1.25" height="1.25" fill="#3d9e2b"/>
<rect x="128.42" y="176.36" width="1.25" height="1.25" fill="#86c777"/>
<rect x="138.47" y="164.41" width="1.25" height="1.25" fill="#3d9e2b"/>
<rect x="139.96" y="169.92" width="1.25" height="1.25" fill="#86c777"/>
<rect x="134.27" y="167.77" width="1.25" height="1.25" fill="#86c777"/>
<rect x="107.24" y="150.47" width="1.25" height="1.25" fill="#3d9e2b"/>
<rect x="131.53" y="150.50" width="1.25" height="1.25" fill="#3d9e2b"/>
<rect x="129.07" y="164.38" width="1.25" height="1.25" fill="#3d9e2b"/>
<rect x="124.02" y="151.75" width="1.25" height="1.25" fill="#86c777"/>
<rect x="121.09" y="170.49" width="1.25" height="1.25" fill="#3d9e2b"/>
<rect x="124.09" y="172.95" width="1.25" height="1.25" fill="#3d9e2b"/>
<rect x="105.27" y="171.95" width="1.25" height="1.25" fill="#3d9e2b"/>
<rect x="122.34" y="171.41" width="1.25" height="1.25" fill="#3d9e2b"/>
<rect x="138.48" y="133.24" width="1.25" height="1.25" fill="#86c777"/>
<rect x="122.44" y="151.93" width="1.25" height="1.25" fill="#3d9e2b"/>
<rect x="121.65" y="132.98" width="1.25" height="1.25" fill="#86c777"/>
<rect x="137.37" y="167.91" width="1.25" height="1.25" fill="#3d9e2b"/>
<rect x="133.44" y="175.90" width="1.25" height="1.25" fill="#86c777"/>
<rect x="114.61" y="159.93" width="1.25" height="1.25" fill="#3d9e2b"/>
<rect x="117.85" y="150.92" width="1.25" height="1.25" fill="#3d9e2b"/>
<rect x="124.72" y="144.30" width="1.25" height="1.25" fill="#3d9e2b"/>
<rect x="121.34" y="147.51" width="1.25" height="1.25" fill="#3d9e2b"/>
<rect x="130.25" y="155.58" width="1.25" height="1.25" fill="#86c777"/>
<rect x="106.21" y="165.27" width="1.25" height="1.25" fill="#86c777"/>
<rect x="111.32" y="150.55" width="1.25" height="1.25" fill="#3d9e2b"/>
<rect x="124.93" y="157.15" width="1.25" height="1.25" fill="#3d9e2b"/>
<rect x="107.28" y="173.21" width="1.25" height="1.25" fill="#3d9e2b"/>
<rect x="125.91" y="183.68" width="1.25" height="1.25" fill="#3d9e2b"/>
<rect x="128.52" y="178.40" width="1.25" height="1.25" fill="#86c777"/>
<rect x="136.03" y="178.01" width="1.25" height="1.25" fill="#86c777"/>
<rect x="121.55" y="175.23" width="1.25" height="1.25" fill="#3d9e2b"/>
<rect x="107.62" y="142.50" width="1.25" height="1.25" fill="#86c777"/>
<rect x="129.46" y="161.90" width="1.25" height="1.25" fill="#3d9e2b"/>
<rect x="123.11" y="150.64" width="1.25" height="1.25" fill="#3d9e2b"/>
<rect x="120.96" y="155.62" width="1.25" height="1.25" fill="#3d9e2b"/>
<rect x="116.02" y="168.05" width="1.25" height="1.25" fill="#3d9e2b"/>
<rect x="123.94" y="149.42" width="1.25" height="1.25" fill="#3d9e2b"/>
<rect x="134.33" y="169.45" width="1.25" height="1.25" fill="#3d9e2b"/>
<rect x="109.92" y="146.36" width="1.25" height="1.25" fill="#3d9e2b"/>
<rect x="131.48" y="167.72" width="1.25" height="1.25" fill="#3d9e2b"/>
<rect x="127.36" y="166.02" width="1.25" height="1.25" fill="#3d9e2b"/>
<rect x="116.49" y="174.04" width="1.25" height="1.25" fill="#86c777"/>
<rect x="123.46" y="166.10" width="1.25" height="1.25" fill="#86c777"/>
<rect x="116.01" y="183.68" width="1.25" height="1.25" fill="#3d9e2b"/>
<rect x="120.45" y="173.10" width="1.25" height="1.25" fill="#86c777"/>
<rect x="131.06" y="163.81" width="1.25" height="1.25" fill="#3d9e2b"/>
<rect x="110.27" y="132.98" width="1.25" height="1.25" fill="#3d9e2b"/>
<rect x="117.61" y="174.97" width="1.25" height="1.25" fill="#3d9e2b"/>
<rect x="127.16" y="162.55" width="1.25" height="1.25" fill="#3d9e2b"/>
<rect x="101.53" y="150.52" width="1.25" height="1.25" fill="#3d9e2b"/>
<rect x="105.82" y="168.23" width="1.25" height="1.25" fill="#3d9e2b"/>
<rect x="130.80" y="162.05" width="1.25" height="1.25" fill="#3d9e2b"/>
<rect x="128.26" y="159.00" width="1.25" height="1.25" fill="#3d9e2b"/>
<rect x="110.40" y="163.66" width="1.25" height="1.25" fill="#3d9e2b"/>
<rect x="115.94" y="154.96" width="1.25" height="1.25" fill="#3d9e2b"/>
<rect x="139.12" y="164.54" width="1.25" height="1.25" fill="#3d9e2b"/>
<rect x="116.54" y="155.03" width="1.25" height="1.25" fill="#3d9e2b"/>
<rect x="138.31" y="161.47" width="1.25" height="1.25" fill="#86c777"/>
<rect x="116.14" y="154.63" width="1.25" height="1.25" fill="#3d9e2b"/>
<rect x="129.40" y="161.78" width="1.25" height="1.25" fill="#3d9e2b"/>
<rect x="131.17" y="160.87" width="1.25" height="1.25" fill="#86c777"/>
<rect x="123.53" y="141.31" width="1.25" height="1.25" fill="#86c777"/>
<rect x="125.83" y="158.83" width="1.25" height="1.25" fill="#86c777"/>
<rect x="115.77" y="140.28" width="1.25" height="1.25" fill="#86c777"/>
<rect x="131.92" y="152.90" width="1.25" height="1.25" fill="#3d9e2b"/>
<rect x="110.91" y="161.76" width="1.25" height="1.25" fill="#3d9e2b"/>
<rect x="104.06" y="164.70" width="1.25" height="1.25" fill="#3d9e2b"/>
<rect x="124.74" y="150.59" width="1.25" height="1.25" fill="#3d9e2b"/>
<rect x="134.61" y="162.31" width="1.25" height="1.25" fill="#86c777"/>
<rect x="137.40" y="152.13" width="1.25" height="1.25" fill="#86c777"/>
<rect x="131.48" y="171.23" width="1.25" height="1.25" fill="#3d9e2b"/>
<rect x="107.08" y="165.29" width="1.25" height="1.25" fill="#3d9e2b"/>
<rect x="128.04" y="160.44" width="1.25" height="1.25" fill="#86c777"/>
<rect x="121.10" y="148.90" width="1.25" height="1.25" fill="#86c777"/>
<rect x="109.68" y="148.77" width="1.25" height="1.25" fill="#3d9e2b"/>
<rect x="117.98" y="148.83" width="1.25" height="1.25" fill="#86c777"/>
<rect x="131.22" y="166.59" width="1.25" height="1.25" fill="#3d9e2b"/>
<rect x="124.60" y="168.72" width="1.25" height="1.25" fill="#86c777"/>
<rect x="126.43" y="153.33" width="1.25" height="1.25" fill="#3d9e2b"/>
<rect x="139.35" y="132.98" width="1.25" height="1.25" fill="#86c777"/>
<rect x="103.44" y="152.43" width="1.25" height="1.25" fill="#3d9e2b"/>
<rect x="121.43" y="171.82" width="1.25" height="1.25" fill="#3d9e2b"/>
<rect x="109.82" y="159.65" width="1.25" height="1.25" fill="#3d9e2b"/>
<rect x="126.92" y="157.97" width="1.25" height="1.25" fill="#3d9e2b"/>
<rect x="116.50" y="176.58" width="1.25" height="1.25" fill="#3d9e2b"/>
<rect x="127.77" y="155.12" width="1.25" height="1.25" fill="#3d9e2b"/>
<rect x="115.08" y="164.44" width="1.25" height="1.25" fill="#3d9e2b"/>
<rect x="133.37" y="172.21" width="1.25" height="1.25" fill="#3d9e2b"/>
<rect x="123.83" y="150.35" width="1.25" height="1.25" fill="#3d9e2b"/>
<rect x="130.60" y="169.18" width="1.25" height="1.25" fill="#3d9e2b"/>
<rect x="138.26" y="182.92" width="1.25" height="1.25" fill="#3d9e2b"/>
<rect x="123.04" y="171.60" width="1.25" height="1.25" fill="#86c777"/>
<rect x="116.73" y="181.83" width="1.25" height="1.25" fill="#3d9e2b"/>
<rect x="124.21" y="164.49" width="1.25" height="1.25" fill="#3d9e2b"/>
<rect x="126.53" y="154.92" width="1.25" height="1.25" fill="#3d9e2b"/>
<rect x="115.92" y="171.88" width="1.25" height="1.25" fill="#3d9e2b"/>
<rect x="117.73" y="175.50" width="1.25" height="1.25" fill="#3d9e2b"/>
<rect x="109.15" y="138.42" width="1.25" height="1.25" fill="#3d9e2b"/>
<rect x="132.21" y="163.34" width="1.25" height="1.25" fill="#3d9e2b"/>
<rect x="129.31" y="158.30" width="1.25" height="1.25" fill="#3d9e2b"/>
<rect x="130.00" y="160.34" width="1.25" height="1.25" fill="#3d9e2b"/>
<rect x="117.75" y="167.10" width="1.25" height="1.25" fill="#3d9e2b"/>
<rect x="114.62" y="157.99" width="1.25" height="1.25" fill="#3d9e2b"/>
<rect x="136.33" y="167.05" width="1.25" height="1.25" fill="#3d9e2b"/>
<rect x="116.90" y="161.21" width="1.25" height="1.25" fill="#86c777"/>
<rect x="107.95" y="147.55" width="1.25" height="1.25" fill="#3d9e2b"/>
<rect x="125.95" y="147.92" width="1.25" height="1.25" fill="#3d9e2b"/>
<rect x="118.19" y="162.13" width="1.25" height="1.25" fill="#3d9e2b"/>
<rect x="124.81" y="165.79" width="1.25" height="1.25" fill="#3d9e2b"/>
<rect x="99.69" y="154.06" width="1.25" height="1.25" fill="#86c777"/>
<rect x="122.82" y="137.58" width="1.25" height="1.25" fill="#3d9e2b"/>
<rect x="126.23" y="162.79" width="1.25" height="1.25" fill="#3d9e2b"/>
<rect x="118.98" y="166.27" width="1.25" height="1.25" fill="#3d9e2b"/>
<rect x="122.85" y="146.96" width="1.25" height="1.25" fill="#3d9e2b"/>
<rect x="126.86" y="159.58" width="1.25" height="1.25" fill="#3d9e2b"/>
<rect x="137.03" y="145.92" width="1.25" height="1.25" fill="#3d9e2b"/>
<rect x="131.05" y="154.88" width="1.25" height="1.25" fill="#3d9e2b"/>
<rect x="110.34" y="144.52" width="1.25" height="1.25" fill="#3d9e2b"/>
<rect x="115.72" y="161.62" width="1.25" height="1.25" fill="#86c777"/>
<rect x="118.88" y="145.50" width="1.25" height="1.25" fill="#3d9e2b"/>
<rect x="117.84" y="177.59" width="1.25" height="1.25" fill="#3d9e2b"/>
<rect x="119.56" y="163.49" width="1.25" height="1.25" fill="#3d9e2b"/>
<rect x="125.05" y="163.71" width="1.25" height="1.25" fill="#3d9e2b"/>
<rect x="116.39" y="161.08" width="1.25" height="1.25" fill="#3d9e2b"/>
<rect x="122.84" y="183.68" width="1.25" height="1.25" fill="#3d9e2b"/>
<rect x="105.34" y="162.87" width="1.25" height="1.25" fill="#3d9e2b"/>
<rect x="129.50" y="149.71" width="1.25" height="1.25" fill="#86c777"/>
<rect x="134.87" y="174.09" width="1.25" height="1.25" fill="#3d9e2b"/>
<rect x="121.84" y="152.76" width="1.25" height="1.25" fill="#86c777"/>
<rect x="120.76" y="145.78" width="1.25" height="1.25" fill="#3d9e2b"/>
<rect x="138.83" y="165.56" width="1.25" height="1.25" fill="#3d9e2b"/>
<rect x="123.53" y="174.98" width="1.25" height="1.25" fill="#3d9e2b"/>
<rect x="111.69" y="132.98" width="1.25" height="1.25" fill="#3d9e2b"/>
<rect x="127.94" y="164.68" width="1.25" height="1.25" fill="#3d9e2b"/>
<rect x="133.90" y="175.72" width="1.25" height="1.25" fill="#3d9e2b"/>
<rect x="134.76" y="163.49" width="1.25" height="1.25" fill="#3d9e2b"/>
<rect x="108.57" y="165.15" width="1.25" height="1.25" fill="#3d9e2b"/>
<rect x="119.29" y="176.10" width="1.25" height="1.25" fill="#3d9e2b"/>
<rect x="135.81" y="146.86" width="1.25" height="1.25" fill="#3d9e2b"/>
<rect x="130.51" y="179.52" width="1.25" height="1.25" fill="#3d9e2b"/>
<rect x="130.87" y="148.89" width="1.25" height="1.25" fill="#3d9e2b"/>
<rect x="123.68" y="132.98" width="1.25" height="1.25" fill="#3d9e2b"/>
<rect x="138.94" y="171.09" width="1.25" height="1.25" fill="#3d9e2b"/>
<rect x="119.44" y="156.15" width="1.25" height="1.25" fill="#3d9e2b"/>
<rect x="116.26" y="160.20" width="1.25" height="1.25" fill="#3d9e2b"/>
<rect x="103.63" y="154.53" width="1.25" height="1.25" fill="#86c777"/>
<rect x="125.42" y="172.33" width="1.25" height="1.25" fill="#3d9e2b"/>
<rect x="123.34" y="164.27" width="1.25" height="1.25" fill="#3d9e2b"/>
<rect x="118.75" y="158.85" width="1.25" height="1.25" fill="#86c777"/>
<rect x="123.22" y="148.68" width="1.25" height="1.25" fill="#3d9e2b"/>
<rect x="135.08" y="154.86" width="1.25" height="1.25" fill="#3d9e2b"/>
<rect x="103.75" y="173.16" width="1.25" height="1.25" fill="#86c777"/>
<rect x="103.63" y="146.11" width="1.25" height="1.25" fill="#86c777"/>
<rect x="118.77" y="175.52" width="1.25" height="1.25" fill="#3d9e2b"/>
<rect x="108.77" y="165.13" width="1.25" height="1.25" fill="#3d9e2b"/>
<line x1="90.30" y1="153.40" x2="144.10" y2="167.20" stroke="#161616" stroke-width="1.08"/>
<rect x="90.30" y="132.40" width="53.80" height="53.10" fill="none" stroke="#4a4a4a" stroke-width="1.0"/>
<line x1="96.50" y1="185.50" x2="96.50" y2="187.80" stroke="#444" stroke-width="0.6"/>
<text x="96.50" y="191.90" font-size="4.4" fill="#222" text-anchor="middle" stroke="#222" stroke-width="0.18" >5</text>
<line x1="108.10" y1="185.50" x2="108.10" y2="187.80" stroke="#444" stroke-width="0.6"/>
<text x="108.10" y="191.90" font-size="4.4" fill="#222" text-anchor="middle" stroke="#222" stroke-width="0.18" >6</text>
<line x1="119.70" y1="185.50" x2="119.70" y2="187.80" stroke="#444" stroke-width="0.6"/>
<text x="119.70" y="191.90" font-size="4.4" fill="#222" text-anchor="middle" stroke="#222" stroke-width="0.18" >7</text>
<line x1="131.30" y1="185.50" x2="131.30" y2="187.80" stroke="#444" stroke-width="0.6"/>
<text x="131.30" y="191.90" font-size="4.4" fill="#222" text-anchor="middle" stroke="#222" stroke-width="0.18" >8</text>
<line x1="142.90" y1="185.50" x2="142.90" y2="187.80" stroke="#444" stroke-width="0.6"/>
<text x="142.90" y="191.90" font-size="4.4" fill="#222" text-anchor="middle" stroke="#222" stroke-width="0.18" >9</text>
<line x1="88.00" y1="183.70" x2="90.30" y2="183.70" stroke="#555" stroke-width="0.6"/>
<text x="87.38" y="183.70" font-size="4.4" fill="#222" text-anchor="middle" stroke="#222" stroke-width="0.18" transform="rotate(-90 87.38 183.70)" >0</text>
<line x1="88.00" y1="176.67" x2="90.30" y2="176.67" stroke="#555" stroke-width="0.6"/>
<text x="87.38" y="176.67" font-size="4.4" fill="#222" text-anchor="middle" stroke="#222" stroke-width="0.18" transform="rotate(-90 87.38 176.67)" >2</text>
<line x1="88.00" y1="169.64" x2="90.30" y2="169.64" stroke="#555" stroke-width="0.6"/>
<text x="87.38" y="169.64" font-size="4.4" fill="#222" text-anchor="middle" stroke="#222" stroke-width="0.18" transform="rotate(-90 87.38 169.64)" >4</text>
<line x1="88.00" y1="162.61" x2="90.30" y2="162.61" stroke="#555" stroke-width="0.6"/>
<text x="87.38" y="162.61" font-size="4.4" fill="#222" text-anchor="middle" stroke="#222" stroke-width="0.18" transform="rotate(-90 87.38 162.61)" >6</text>
<line x1="88.00" y1="155.58" x2="90.30" y2="155.58" stroke="#555" stroke-width="0.6"/>
<text x="87.38" y="155.58" font-size="4.4" fill="#222" text-anchor="middle" stroke="#222" stroke-width="0.18" transform="rotate(-90 87.38 155.58)" >8</text>
<line x1="88.00" y1="148.55" x2="90.30" y2="148.55" stroke="#555" stroke-width="0.6"/>
<text x="87.38" y="148.55" font-size="4.4" fill="#222" text-anchor="middle" stroke="#222" stroke-width="0.18" transform="rotate(-90 87.38 148.55)" >10</text>
<line x1="88.00" y1="141.52" x2="90.30" y2="141.52" stroke="#555" stroke-width="0.6"/>
<text x="87.38" y="141.52" font-size="4.4" fill="#222" text-anchor="middle" stroke="#222" stroke-width="0.18" transform="rotate(-90 87.38 141.52)" >12</text>
<line x1="88.00" y1="134.49" x2="90.30" y2="134.49" stroke="#555" stroke-width="0.6"/>
<text x="87.38" y="134.49" font-size="4.4" fill="#222" text-anchor="middle" stroke="#222" stroke-width="0.18" transform="rotate(-90 87.38 134.49)" >14</text>
<text x="116.40" y="196.70" font-size="4.8" fill="#222" text-anchor="middle" stroke="#222" stroke-width="0.18" >SOX11</text>
<text x="82.20" y="156.95" font-size="4.6" fill="#111" text-anchor="middle" stroke="#111" stroke-width="0.18" transform="rotate(-90 82.20 156.95)" >hsa-miR-186-5p</text>
<text x="91.60" y="131.40" font-size="4.5" fill="#2a2a2a" text-anchor="start" stroke="#2a2a2a" stroke-width="0.06" textLength="17.70" lengthAdjust="spacingAndGlyphs" >corr=-0.20</text>
<text x="125.70" y="131.40" font-size="4.5" fill="#2a2a2a" text-anchor="start" stroke="#2a2a2a" stroke-width="0.06" textLength="20.00" lengthAdjust="spacingAndGlyphs" >p=0.00685</text>
<polygon points="164.40,142.50 170.60,144.20 175.80,147.70 181.00,145.70 185.20,145.00 190.00,147.00 195.20,149.80 195.20,174.90 183.10,172.80 172.70,169.70 164.40,167.60" fill="#fdeeee" stroke="#f4a6a6" stroke-width="0.6"/>
<rect x="164.73" y="153.62" width="1.25" height="1.25" fill="#f4898b"/>
<rect x="179.34" y="157.69" width="1.25" height="1.25" fill="#f4898b"/>
<rect x="172.27" y="147.76" width="1.25" height="1.25" fill="#f4898b"/>
<rect x="178.49" y="183.68" width="1.25" height="1.25" fill="#f8b4b4"/>
<rect x="169.05" y="144.60" width="1.25" height="1.25" fill="#f4898b"/>
<rect x="192.58" y="175.23" width="1.25" height="1.25" fill="#f8b4b4"/>
<rect x="185.70" y="155.98" width="1.25" height="1.25" fill="#f4898b"/>
<rect x="179.56" y="155.23" width="1.25" height="1.25" fill="#f4898b"/>
<rect x="170.64" y="144.48" width="1.25" height="1.25" fill="#f4898b"/>
<rect x="180.09" y="147.17" width="1.25" height="1.25" fill="#f8b4b4"/>
<rect x="184.81" y="169.44" width="1.25" height="1.25" fill="#f4898b"/>
<rect x="177.42" y="153.34" width="1.25" height="1.25" fill="#f4898b"/>
<rect x="187.33" y="179.06" width="1.25" height="1.25" fill="#f4898b"/>
<rect x="166.20" y="145.29" width="1.25" height="1.25" fill="#f4898b"/>
<rect x="184.78" y="155.73" width="1.25" height="1.25" fill="#f4898b"/>
<rect x="179.88" y="156.93" width="1.25" height="1.25" fill="#f4898b"/>
<rect x="189.57" y="170.65" width="1.25" height="1.25" fill="#f4898b"/>
<rect x="168.47" y="144.47" width="1.25" height="1.25" fill="#f4898b"/>
<rect x="193.08" y="147.09" width="1.25" height="1.25" fill="#f4898b"/>
<rect x="181.68" y="141.44" width="1.25" height="1.25" fill="#f8b4b4"/>
<rect x="172.90" y="141.56" width="1.25" height="1.25" fill="#f4898b"/>
<rect x="176.53" y="183.04" width="1.25" height="1.25" fill="#f8b4b4"/>
<rect x="169.41" y="165.29" width="1.25" height="1.25" fill="#f4898b"/>
<rect x="173.67" y="158.42" width="1.25" height="1.25" fill="#f4898b"/>
<rect x="182.76" y="177.37" width="1.25" height="1.25" fill="#f8b4b4"/>
<rect x="184.44" y="160.94" width="1.25" height="1.25" fill="#f8b4b4"/>
<rect x="182.01" y="141.50" width="1.25" height="1.25" fill="#f4898b"/>
<rect x="172.35" y="155.45" width="1.25" height="1.25" fill="#f8b4b4"/>
<rect x="179.36" y="138.58" width="1.25" height="1.25" fill="#f8b4b4"/>
<rect x="168.50" y="147.40" width="1.25" height="1.25" fill="#f4898b"/>
<rect x="162.83" y="157.19" width="1.25" height="1.25" fill="#f4898b"/>
<rect x="183.56" y="171.89" width="1.25" height="1.25" fill="#f4898b"/>
<rect x="182.21" y="156.75" width="1.25" height="1.25" fill="#f8b4b4"/>
<rect x="185.88" y="168.60" width="1.25" height="1.25" fill="#f4898b"/>
<rect x="186.61" y="155.54" width="1.25" height="1.25" fill="#f4898b"/>
<rect x="181.37" y="151.11" width="1.25" height="1.25" fill="#f4898b"/>
<rect x="163.94" y="165.18" width="1.25" height="1.25" fill="#f4898b"/>
<rect x="171.40" y="141.95" width="1.25" height="1.25" fill="#f4898b"/>
<rect x="181.36" y="146.39" width="1.25" height="1.25" fill="#f4898b"/>
<rect x="183.13" y="160.04" width="1.25" height="1.25" fill="#f4898b"/>
<rect x="166.77" y="170.28" width="1.25" height="1.25" fill="#f8b4b4"/>
<rect x="189.85" y="141.83" width="1.25" height="1.25" fill="#f4898b"/>
<rect x="178.26" y="157.78" width="1.25" height="1.25" fill="#f4898b"/>
<rect x="182.54" y="162.81" width="1.25" height="1.25" fill="#f4898b"/>
<rect x="193.45" y="159.86" width="1.25" height="1.25" fill="#f4898b"/>
<rect x="176.57" y="151.35" width="1.25" height="1.25" fill="#f8b4b4"/>
<rect x="179.15" y="172.44" width="1.25" height="1.25" fill="#f4898b"/>
<rect x="184.27" y="158.19" width="1.25" height="1.25" fill="#f4898b"/>
<rect x="184.88" y="165.25" width="1.25" height="1.25" fill="#f4898b"/>
<rect x="190.62" y="167.29" width="1.25" height="1.25" fill="#f4898b"/>
<rect x="187.09" y="167.99" width="1.25" height="1.25" fill="#f4898b"/>
<rect x="173.56" y="175.05" width="1.25" height="1.25" fill="#f4898b"/>
<rect x="185.36" y="149.78" width="1.25" height="1.25" fill="#f4898b"/>
<rect x="190.44" y="166.78" width="1.25" height="1.25" fill="#f4898b"/>
<rect x="167.55" y="158.98" width="1.25" height="1.25" fill="#f4898b"/>
<rect x="171.59" y="153.63" width="1.25" height="1.25" fill="#f8b4b4"/>
<rect x="199.24" y="156.29" width="1.25" height="1.25" fill="#f4898b"/>
<rect x="173.87" y="183.68" width="1.25" height="1.25" fill="#f4898b"/>
<rect x="176.18" y="150.78" width="1.25" height="1.25" fill="#f4898b"/>
<rect x="192.23" y="173.27" width="1.25" height="1.25" fill="#f4898b"/>
<rect x="173.71" y="158.58" width="1.25" height="1.25" fill="#f4898b"/>
<rect x="176.66" y="145.84" width="1.25" height="1.25" fill="#f4898b"/>
<rect x="187.60" y="174.69" width="1.25" height="1.25" fill="#f4898b"/>
<rect x="164.83" y="158.96" width="1.25" height="1.25" fill="#f4898b"/>
<rect x="172.88" y="170.30" width="1.25" height="1.25" fill="#f4898b"/>
<rect x="189.29" y="152.34" width="1.25" height="1.25" fill="#f4898b"/>
<rect x="171.92" y="148.53" width="1.25" height="1.25" fill="#f4898b"/>
<rect x="176.86" y="169.14" width="1.25" height="1.25" fill="#f4898b"/>
<rect x="185.11" y="178.23" width="1.25" height="1.25" fill="#f4898b"/>
<rect x="171.37" y="158.36" width="1.25" height="1.25" fill="#f4898b"/>
<rect x="189.43" y="167.37" width="1.25" height="1.25" fill="#f4898b"/>
<rect x="170.37" y="142.74" width="1.25" height="1.25" fill="#f4898b"/>
<rect x="170.75" y="167.90" width="1.25" height="1.25" fill="#f4898b"/>
<rect x="177.32" y="161.39" width="1.25" height="1.25" fill="#f4898b"/>
<rect x="191.00" y="164.50" width="1.25" height="1.25" fill="#f8b4b4"/>
<rect x="194.53" y="172.27" width="1.25" height="1.25" fill="#f4898b"/>
<rect x="188.37" y="157.46" width="1.25" height="1.25" fill="#f8b4b4"/>
<rect x="181.76" y="159.60" width="1.25" height="1.25" fill="#f4898b"/>
<rect x="176.45" y="148.86" width="1.25" height="1.25" fill="#f4898b"/>
<rect x="171.75" y="150.77" width="1.25" height="1.25" fill="#f4898b"/>
<rect x="173.43" y="142.77" width="1.25" height="1.25" fill="#f8b4b4"/>
<rect x="192.94" y="176.58" width="1.25" height="1.25" fill="#f8b4b4"/>
<rect x="179.66" y="143.28" width="1.25" height="1.25" fill="#f4898b"/>
<rect x="172.97" y="154.09" width="1.25" height="1.25" fill="#f4898b"/>
<rect x="170.89" y="158.24" width="1.25" height="1.25" fill="#f4898b"/>
<rect x="178.57" y="168.92" width="1.25" height="1.25" fill="#f4898b"/>
<rect x="180.70" y="147.92" width="1.25" height="1.25" fill="#f4898b"/>
<rect x="170.96" y="183.68" width="1.25" height="1.25" fill="#f8b4b4"/>
<rect x="201.91" y="168.37" width="1.25" height="1.25" fill="#f8b4b4"/>
<rect x="178.93" y="138.90" width="1.25" height="1.25" fill="#f8b4b4"/>
<rect x="168.46" y="161.54" width="1.25" height="1.25" fill="#f4898b"/>
<rect x="165.38" y="141.08" width="1.25" height="1.25" fill="#f8b4b4"/>
<rect x="180.22" y="170.90" width="1.25" height="1.25" fill="#f4898b"/>
<rect x="180.85" y="166.81" width="1.25" height="1.25" fill="#f4898b"/>
<rect x="174.58" y="158.07" width="1.25" height="1.25" fill="#f4898b"/>
<rect x="170.18" y="150.82" width="1.25" height="1.25" fill="#f4898b"/>
<rect x="174.91" y="160.76" width="1.25" height="1.25" fill="#f4898b"/>
<rect x="165.55" y="152.35" width="1.25" height="1.25" fill="#f8b4b4"/>
<rect x="169.44" y="151.76" width="1.25" height="1.25" fill="#f4898b"/>
<rect x="170.16" y="166.99" width="1.25" height="1.25" fill="#f4898b"/>
<line x1="161.50" y1="158.20" x2="214.30" y2="166.40" stroke="#161616" stroke-width="1.08"/>
<rect x="161.50" y="132.40" width="52.80" height="53.10" fill="none" stroke="#4a4a4a" stroke-width="1.0"/>
<line x1="164.30" y1="185.50" x2="164.30" y2="187.80" stroke="#444" stroke-width="0.6"/>
<text x="164.30" y="191.90" font-size="4.4" fill="#222" text-anchor="middle" stroke="#222" stroke-width="0.18" >6</text>
<line x1="176.60" y1="185.50" x2="176.60" y2="187.80" stroke="#444" stroke-width="0.6"/>
<text x="176.60" y="191.90" font-size="4.4" fill="#222" text-anchor="middle" stroke="#222" stroke-width="0.18" >7</text>
<line x1="188.90" y1="185.50" x2="188.90" y2="187.80" stroke="#444" stroke-width="0.6"/>
<text x="188.90" y="191.90" font-size="4.4" fill="#222" text-anchor="middle" stroke="#222" stroke-width="0.18" >8</text>
<line x1="201.20" y1="185.50" x2="201.20" y2="187.80" stroke="#444" stroke-width="0.6"/>
<text x="201.20" y="191.90" font-size="4.4" fill="#222" text-anchor="middle" stroke="#222" stroke-width="0.18" >9</text>
<line x1="213.50" y1="185.50" x2="213.50" y2="187.80" stroke="#444" stroke-width="0.6"/>
<text x="213.50" y="191.90" font-size="4.4" fill="#222" text-anchor="middle" stroke="#222" stroke-width="0.18" >10</text>
<line x1="159.20" y1="183.80" x2="161.50" y2="183.80" stroke="#555" stroke-width="0.6"/>
<text x="157.68" y="183.80" font-size="4.4" fill="#222" text-anchor="middle" stroke="#222" stroke-width="0.18" transform="rotate(-90 157.68 183.80)" >0</text>
<line x1="159.20" y1="176.00" x2="161.50" y2="176.00" stroke="#555" stroke-width="0.6"/>
<text x="157.68" y="176.00" font-size="4.4" fill="#222" text-anchor="middle" stroke="#222" stroke-width="0.18" transform="rotate(-90 157.68 176.00)" >2</text>
<line x1="159.20" y1="168.20" x2="161.50" y2="168.20" stroke="#555" stroke-width="0.6"/>
<text x="157.68" y="168.20" font-size="4.4" fill="#222" text-anchor="middle" stroke="#222" stroke-width="0.18" transform="rotate(-90 157.68 168.20)" >4</text>
<line x1="159.20" y1="160.40" x2="161.50" y2="160.40" stroke="#555" stroke-width="0.6"/>
<text x="157.68" y="160.40" font-size="4.4" fill="#222" text-anchor="middle" stroke="#222" stroke-width="0.18" transform="rotate(-90 157.68 160.40)" >6</text>
<line x1="159.20" y1="152.60" x2="161.50" y2="152.60" stroke="#555" stroke-width="0.6"/>
<text x="157.68" y="152.60" font-size="4.4" fill="#222" text-anchor="middle" stroke="#222" stroke-width="0.18" transform="rotate(-90 157.68 152.60)" >8</text>
<line x1="159.20" y1="144.80" x2="161.50" y2="144.80" stroke="#555" stroke-width="0.6"/>
<text x="157.68" y="144.80" font-size="4.4" fill="#222" text-anchor="middle" stroke="#222" stroke-width="0.18" transform="rotate(-90 157.68 144.80)" >10</text>
<line x1="159.20" y1="137.00" x2="161.50" y2="137.00" stroke="#555" stroke-width="0.6"/>
<text x="157.68" y="137.00" font-size="4.4" fill="#222" text-anchor="middle" stroke="#222" stroke-width="0.18" transform="rotate(-90 157.68 137.00)" >12</text>
<text x="187.10" y="196.70" font-size="4.8" fill="#222" text-anchor="middle" stroke="#222" stroke-width="0.18" >SOX11</text>
<text x="152.35" y="156.95" font-size="4.6" fill="#111" text-anchor="middle" stroke="#111" stroke-width="0.18" transform="rotate(-90 152.35 156.95)" >hsa-miR-186-5p</text>
<text x="164.90" y="131.40" font-size="4.5" fill="#2a2a2a" text-anchor="start" stroke="#2a2a2a" stroke-width="0.06" textLength="17.00" lengthAdjust="spacingAndGlyphs" >corr=-0.11</text>
<text x="203.00" y="131.40" font-size="4.5" fill="#2a2a2a" text-anchor="start" stroke="#2a2a2a" stroke-width="0.06" textLength="16.70" lengthAdjust="spacingAndGlyphs" >p=0.3053</text>
<path d="M208.30,135.50L212.70,139.90M208.30,139.90L212.70,135.50" stroke="#e3211c" stroke-width="1.3" fill="none"/>
<polygon points="252.00,152.10 261.70,156.00 272.50,160.30 281.10,156.00 293.00,153.40 293.00,176.50 281.10,179.30 272.50,179.70 261.70,173.30 252.00,170.00" fill="#dee6f4" stroke="#8ea6d3" stroke-width="0.6"/>
<rect x="257.32" y="151.81" width="1.25" height="1.25" fill="#3b78c3"/>
<rect x="265.95" y="164.64" width="1.25" height="1.25" fill="#3b78c3"/>
<rect x="270.63" y="179.87" width="1.25" height="1.25" fill="#86a9da"/>
<rect x="266.16" y="170.13" width="1.25" height="1.25" fill="#86a9da"/>
<rect x="256.55" y="165.10" width="1.25" height="1.25" fill="#3b78c3"/>
<rect x="292.30" y="183.68" width="1.25" height="1.25" fill="#86a9da"/>
<rect x="260.63" y="161.58" width="1.25" height="1.25" fill="#3b78c3"/>
<rect x="266.21" y="168.41" width="1.25" height="1.25" fill="#3b78c3"/>
<rect x="255.97" y="164.44" width="1.25" height="1.25" fill="#86a9da"/>
<rect x="278.92" y="168.32" width="1.25" height="1.25" fill="#3b78c3"/>
<rect x="283.78" y="154.94" width="1.25" height="1.25" fill="#3b78c3"/>
<rect x="252.53" y="167.74" width="1.25" height="1.25" fill="#3b78c3"/>
<rect x="268.34" y="183.68" width="1.25" height="1.25" fill="#3b78c3"/>
<rect x="281.27" y="159.96" width="1.25" height="1.25" fill="#86a9da"/>
<rect x="254.40" y="167.15" width="1.25" height="1.25" fill="#3b78c3"/>
<rect x="256.54" y="154.99" width="1.25" height="1.25" fill="#3b78c3"/>
<rect x="281.73" y="158.31" width="1.25" height="1.25" fill="#3b78c3"/>
<rect x="248.23" y="161.18" width="1.25" height="1.25" fill="#3b78c3"/>
<rect x="292.11" y="172.64" width="1.25" height="1.25" fill="#86a9da"/>
<rect x="275.08" y="167.84" width="1.25" height="1.25" fill="#3b78c3"/>
<rect x="265.96" y="174.53" width="1.25" height="1.25" fill="#3b78c3"/>
<rect x="271.14" y="167.77" width="1.25" height="1.25" fill="#3b78c3"/>
<rect x="278.86" y="162.14" width="1.25" height="1.25" fill="#3b78c3"/>
<rect x="262.54" y="159.43" width="1.25" height="1.25" fill="#3b78c3"/>
<rect x="291.28" y="174.37" width="1.25" height="1.25" fill="#3b78c3"/>
<rect x="290.68" y="154.98" width="1.25" height="1.25" fill="#3b78c3"/>
<rect x="287.61" y="180.95" width="1.25" height="1.25" fill="#3b78c3"/>
<rect x="251.69" y="163.86" width="1.25" height="1.25" fill="#3b78c3"/>
<rect x="274.11" y="161.16" width="1.25" height="1.25" fill="#3b78c3"/>
<rect x="271.80" y="173.82" width="1.25" height="1.25" fill="#3b78c3"/>
<rect x="251.44" y="164.16" width="1.25" height="1.25" fill="#3b78c3"/>
<rect x="271.97" y="171.12" width="1.25" height="1.25" fill="#3b78c3"/>
<rect x="273.33" y="168.31" width="1.25" height="1.25" fill="#3b78c3"/>
<rect x="268.84" y="154.13" width="1.25" height="1.25" fill="#86a9da"/>
<rect x="277.27" y="172.54" width="1.25" height="1.25" fill="#3b78c3"/>
<rect x="270.56" y="181.94" width="1.25" height="1.25" fill="#3b78c3"/>
<rect x="288.63" y="168.39" width="1.25" height="1.25" fill="#3b78c3"/>
<rect x="260.14" y="160.07" width="1.25" height="1.25" fill="#3b78c3"/>
<rect x="264.50" y="163.89" width="1.25" height="1.25" fill="#3b78c3"/>
<rect x="280.53" y="180.03" width="1.25" height="1.25" fill="#86a9da"/>
<rect x="266.98" y="157.99" width="1.25" height="1.25" fill="#3b78c3"/>
<rect x="284.51" y="151.12" width="1.25" height="1.25" fill="#3b78c3"/>
<rect x="289.08" y="163.36" width="1.25" height="1.25" fill="#3b78c3"/>
<rect x="263.74" y="167.46" width="1.25" height="1.25" fill="#86a9da"/>
<rect x="281.88" y="153.21" width="1.25" height="1.25" fill="#3b78c3"/>
<rect x="271.59" y="167.15" width="1.25" height="1.25" fill="#3b78c3"/>
<rect x="265.56" y="173.57" width="1.25" height="1.25" fill="#3b78c3"/>
<rect x="280.44" y="161.62" width="1.25" height="1.25" fill="#3b78c3"/>
<rect x="273.02" y="154.29" width="1.25" height="1.25" fill="#3b78c3"/>
<rect x="253.11" y="163.83" width="1.25" height="1.25" fill="#3b78c3"/>
<rect x="275.44" y="170.13" width="1.25" height="1.25" fill="#3b78c3"/>
<rect x="273.63" y="179.39" width="1.25" height="1.25" fill="#3b78c3"/>
<rect x="265.31" y="173.23" width="1.25" height="1.25" fill="#3b78c3"/>
<rect x="253.28" y="178.78" width="1.25" height="1.25" fill="#3b78c3"/>
<rect x="268.73" y="164.53" width="1.25" height="1.25" fill="#86a9da"/>
<rect x="288.59" y="176.04" width="1.25" height="1.25" fill="#3b78c3"/>
<rect x="280.58" y="156.34" width="1.25" height="1.25" fill="#3b78c3"/>
<rect x="274.93" y="166.03" width="1.25" height="1.25" fill="#3b78c3"/>
<rect x="268.00" y="158.68" width="1.25" height="1.25" fill="#3b78c3"/>
<rect x="274.33" y="178.30" width="1.25" height="1.25" fill="#3b78c3"/>
<rect x="258.05" y="169.17" width="1.25" height="1.25" fill="#3b78c3"/>
<rect x="273.48" y="167.25" width="1.25" height="1.25" fill="#3b78c3"/>
<rect x="273.72" y="145.55" width="1.25" height="1.25" fill="#3b78c3"/>
<rect x="279.28" y="165.88" width="1.25" height="1.25" fill="#86a9da"/>
<rect x="273.46" y="169.83" width="1.25" height="1.25" fill="#3b78c3"/>
<rect x="270.21" y="170.74" width="1.25" height="1.25" fill="#3b78c3"/>
<rect x="255.19" y="159.85" width="1.25" height="1.25" fill="#3b78c3"/>
<rect x="263.90" y="178.10" width="1.25" height="1.25" fill="#3b78c3"/>
<rect x="280.75" y="173.87" width="1.25" height="1.25" fill="#3b78c3"/>
<rect x="284.52" y="178.11" width="1.25" height="1.25" fill="#3b78c3"/>
<rect x="260.94" y="172.62" width="1.25" height="1.25" fill="#3b78c3"/>
<rect x="269.90" y="156.67" width="1.25" height="1.25" fill="#3b78c3"/>
<rect x="284.42" y="180.49" width="1.25" height="1.25" fill="#3b78c3"/>
<rect x="255.21" y="176.43" width="1.25" height="1.25" fill="#86a9da"/>
<rect x="264.30" y="167.69" width="1.25" height="1.25" fill="#3b78c3"/>
<rect x="274.75" y="155.91" width="1.25" height="1.25" fill="#3b78c3"/>
<rect x="257.57" y="142.45" width="1.25" height="1.25" fill="#3b78c3"/>
<rect x="255.74" y="166.95" width="1.25" height="1.25" fill="#3b78c3"/>
<rect x="269.30" y="157.79" width="1.25" height="1.25" fill="#3b78c3"/>
<rect x="272.70" y="155.22" width="1.25" height="1.25" fill="#3b78c3"/>
<line x1="245.10" y1="167.90" x2="298.20" y2="170.00" stroke="#161616" stroke-width="1.08"/>
<rect x="245.10" y="132.00" width="53.10" height="53.50" fill="none" stroke="#4a4a4a" stroke-width="1.0"/>
<line x1="256.30" y1="185.50" x2="256.30" y2="187.80" stroke="#444" stroke-width="0.6"/>
<text x="256.30" y="191.90" font-size="4.4" fill="#222" text-anchor="middle" stroke="#222" stroke-width="0.18" >7.5</text>
<line x1="266.70" y1="185.50" x2="266.70" y2="187.80" stroke="#444" stroke-width="0.6"/>
<text x="266.70" y="191.90" font-size="4.4" fill="#222" text-anchor="middle" stroke="#222" stroke-width="0.18" >8.0</text>
<line x1="277.10" y1="185.50" x2="277.10" y2="187.80" stroke="#444" stroke-width="0.6"/>
<text x="277.10" y="191.90" font-size="4.4" fill="#222" text-anchor="middle" stroke="#222" stroke-width="0.18" >8.5</text>
<line x1="287.50" y1="185.50" x2="287.50" y2="187.80" stroke="#444" stroke-width="0.6"/>
<text x="287.50" y="191.90" font-size="4.4" fill="#222" text-anchor="middle" stroke="#222" stroke-width="0.18" >9.0</text>
<line x1="297.90" y1="185.50" x2="297.90" y2="187.80" stroke="#444" stroke-width="0.6"/>
<text x="297.90" y="191.90" font-size="4.4" fill="#222" text-anchor="middle" stroke="#222" stroke-width="0.18" >9.5</text>
<line x1="242.80" y1="183.00" x2="245.10" y2="183.00" stroke="#555" stroke-width="0.6"/>
<text x="242.38" y="183.00" font-size="4.4" fill="#222" text-anchor="middle" stroke="#222" stroke-width="0.18" transform="rotate(-90 242.38 183.00)" >0</text>
<line x1="242.80" y1="174.10" x2="245.10" y2="174.10" stroke="#555" stroke-width="0.6"/>
<text x="242.38" y="174.10" font-size="4.4" fill="#222" text-anchor="middle" stroke="#222" stroke-width="0.18" transform="rotate(-90 242.38 174.10)" >2</text>
<line x1="242.80" y1="165.20" x2="245.10" y2="165.20" stroke="#555" stroke-width="0.6"/>
<text x="242.38" y="165.20" font-size="4.4" fill="#222" text-anchor="middle" stroke="#222" stroke-width="0.18" transform="rotate(-90 242.38 165.20)" >4</text>
<line x1="242.80" y1="156.30" x2="245.10" y2="156.30" stroke="#555" stroke-width="0.6"/>
<text x="242.38" y="156.30" font-size="4.4" fill="#222" text-anchor="middle" stroke="#222" stroke-width="0.18" transform="rotate(-90 242.38 156.30)" >6</text>
<line x1="242.80" y1="147.40" x2="245.10" y2="147.40" stroke="#555" stroke-width="0.6"/>
<text x="242.38" y="147.40" font-size="4.4" fill="#222" text-anchor="middle" stroke="#222" stroke-width="0.18" transform="rotate(-90 242.38 147.40)" >8</text>
<line x1="242.80" y1="138.50" x2="245.10" y2="138.50" stroke="#555" stroke-width="0.6"/>
<text x="242.38" y="138.50" font-size="4.4" fill="#222" text-anchor="middle" stroke="#222" stroke-width="0.18" transform="rotate(-90 242.38 138.50)" >10</text>
<text x="270.85" y="196.70" font-size="4.8" fill="#222" text-anchor="middle" stroke="#222" stroke-width="0.18" >SOX11</text>
<text x="234.55" y="156.75" font-size="4.6" fill="#111" text-anchor="middle" stroke="#111" stroke-width="0.18" transform="rotate(-90 234.55 156.75)" >hsa-miR-186-5p</text>
<text x="245.50" y="131.00" font-size="4.5" fill="#2a2a2a" text-anchor="start" stroke="#2a2a2a" stroke-width="0.06" textLength="17.80" lengthAdjust="spacingAndGlyphs" >corr=-0.04</text>
<text x="283.60" y="131.00" font-size="4.5" fill="#2a2a2a" text-anchor="start" stroke="#2a2a2a" stroke-width="0.06" textLength="17.10" lengthAdjust="spacingAndGlyphs" >p=0.7070</text>
<path d="M292.90,135.50L297.30,139.90M292.90,139.90L297.30,135.50" stroke="#e3211c" stroke-width="1.3" fill="none"/>
<polygon points="327.20,144.80 338.00,147.80 353.10,150.60 366.50,157.10 366.50,180.80 353.10,177.60 338.00,173.30 327.20,167.90" fill="#e3f1dc" stroke="#99cc88" stroke-width="0.6"/>
<rect x="347.53" y="145.15" width="1.25" height="1.25" fill="#86c777"/>
<rect x="348.90" y="172.15" width="1.25" height="1.25" fill="#3d9e2b"/>
<rect x="351.60" y="162.15" width="1.25" height="1.25" fill="#3d9e2b"/>
<rect x="338.23" y="157.94" width="1.25" height="1.25" fill="#3d9e2b"/>
<rect x="336.67" y="183.68" width="1.25" height="1.25" fill="#3d9e2b"/>
<rect x="341.97" y="178.49" width="1.25" height="1.25" fill="#3d9e2b"/>
<rect x="329.35" y="153.86" width="1.25" height="1.25" fill="#3d9e2b"/>
<rect x="339.24" y="167.60" width="1.25" height="1.25" fill="#3d9e2b"/>
<rect x="344.12" y="155.47" width="1.25" height="1.25" fill="#3d9e2b"/>
<rect x="345.16" y="154.38" width="1.25" height="1.25" fill="#3d9e2b"/>
<rect x="355.62" y="132.28" width="1.25" height="1.25" fill="#3d9e2b"/>
<rect x="333.62" y="155.82" width="1.25" height="1.25" fill="#3d9e2b"/>
<rect x="344.68" y="170.45" width="1.25" height="1.25" fill="#3d9e2b"/>
<rect x="338.37" y="162.57" width="1.25" height="1.25" fill="#86c777"/>
<rect x="361.33" y="174.83" width="1.25" height="1.25" fill="#3d9e2b"/>
<rect x="349.28" y="169.20" width="1.25" height="1.25" fill="#3d9e2b"/>
<rect x="349.38" y="154.82" width="1.25" height="1.25" fill="#86c777"/>
<rect x="343.73" y="181.73" width="1.25" height="1.25" fill="#3d9e2b"/>
<rect x="354.75" y="183.68" width="1.25" height="1.25" fill="#3d9e2b"/>
<rect x="358.03" y="172.15" width="1.25" height="1.25" fill="#3d9e2b"/>
<rect x="348.36" y="177.75" width="1.25" height="1.25" fill="#3d9e2b"/>
<rect x="351.52" y="183.68" width="1.25" height="1.25" fill="#3d9e2b"/>
<rect x="343.14" y="144.76" width="1.25" height="1.25" fill="#3d9e2b"/>
<rect x="355.75" y="156.97" width="1.25" height="1.25" fill="#3d9e2b"/>
<rect x="343.09" y="163.37" width="1.25" height="1.25" fill="#3d9e2b"/>
<rect x="361.72" y="183.26" width="1.25" height="1.25" fill="#3d9e2b"/>
<rect x="363.02" y="180.01" width="1.25" height="1.25" fill="#3d9e2b"/>
<rect x="333.60" y="176.05" width="1.25" height="1.25" fill="#3d9e2b"/>
<rect x="351.40" y="158.20" width="1.25" height="1.25" fill="#3d9e2b"/>
<rect x="347.19" y="146.90" width="1.25" height="1.25" fill="#3d9e2b"/>
<rect x="362.84" y="164.30" width="1.25" height="1.25" fill="#3d9e2b"/>
<rect x="347.68" y="161.66" width="1.25" height="1.25" fill="#3d9e2b"/>
<rect x="340.50" y="160.96" width="1.25" height="1.25" fill="#86c777"/>
<rect x="339.59" y="142.29" width="1.25" height="1.25" fill="#3d9e2b"/>
<rect x="336.00" y="162.64" width="1.25" height="1.25" fill="#3d9e2b"/>
<rect x="363.93" y="183.68" width="1.25" height="1.25" fill="#3d9e2b"/>
<rect x="344.71" y="167.78" width="1.25" height="1.25" fill="#86c777"/>
<rect x="334.87" y="151.79" width="1.25" height="1.25" fill="#3d9e2b"/>
<rect x="336.03" y="183.07" width="1.25" height="1.25" fill="#3d9e2b"/>
<rect x="337.95" y="159.39" width="1.25" height="1.25" fill="#3d9e2b"/>
<rect x="345.60" y="146.42" width="1.25" height="1.25" fill="#3d9e2b"/>
<rect x="343.32" y="164.78" width="1.25" height="1.25" fill="#3d9e2b"/>
<rect x="347.39" y="167.35" width="1.25" height="1.25" fill="#3d9e2b"/>
<rect x="357.94" y="181.69" width="1.25" height="1.25" fill="#3d9e2b"/>
<rect x="351.59" y="168.80" width="1.25" height="1.25" fill="#3d9e2b"/>
<rect x="333.93" y="175.38" width="1.25" height="1.25" fill="#3d9e2b"/>
<rect x="356.61" y="159.16" width="1.25" height="1.25" fill="#3d9e2b"/>
<rect x="349.58" y="160.44" width="1.25" height="1.25" fill="#3d9e2b"/>
<rect x="355.22" y="165.11" width="1.25" height="1.25" fill="#3d9e2b"/>
<rect x="337.99" y="162.37" width="1.25" height="1.25" fill="#3d9e2b"/>
<rect x="350.18" y="143.85" width="1.25" height="1.25" fill="#3d9e2b"/>
<rect x="330.88" y="163.54" width="1.25" height="1.25" fill="#3d9e2b"/>
<rect x="334.67" y="147.04" width="1.25" height="1.25" fill="#3d9e2b"/>
<rect x="363.83" y="178.83" width="1.25" height="1.25" fill="#3d9e2b"/>
<rect x="353.96" y="151.09" width="1.25" height="1.25" fill="#3d9e2b"/>
<rect x="360.98" y="168.09" width="1.25" height="1.25" fill="#3d9e2b"/>
<rect x="360.35" y="169.29" width="1.25" height="1.25" fill="#86c777"/>
<rect x="364.51" y="171.20" width="1.25" height="1.25" fill="#3d9e2b"/>
<rect x="355.33" y="167.16" width="1.25" height="1.25" fill="#3d9e2b"/>
<rect x="348.61" y="145.53" width="1.25" height="1.25" fill="#3d9e2b"/>
<rect x="325.67" y="166.69" width="1.25" height="1.25" fill="#3d9e2b"/>
<rect x="336.54" y="153.16" width="1.25" height="1.25" fill="#3d9e2b"/>
<rect x="353.65" y="157.73" width="1.25" height="1.25" fill="#3d9e2b"/>
<rect x="344.24" y="166.55" width="1.25" height="1.25" fill="#86c777"/>
<rect x="344.96" y="162.87" width="1.25" height="1.25" fill="#3d9e2b"/>
<rect x="352.42" y="156.78" width="1.25" height="1.25" fill="#86c777"/>
<rect x="335.07" y="171.31" width="1.25" height="1.25" fill="#3d9e2b"/>
<rect x="352.78" y="149.78" width="1.25" height="1.25" fill="#3d9e2b"/>
<rect x="334.06" y="146.80" width="1.25" height="1.25" fill="#86c777"/>
<rect x="352.56" y="171.30" width="1.25" height="1.25" fill="#86c777"/>
<rect x="358.09" y="148.35" width="1.25" height="1.25" fill="#3d9e2b"/>
<rect x="342.64" y="162.57" width="1.25" height="1.25" fill="#86c777"/>
<rect x="331.87" y="163.21" width="1.25" height="1.25" fill="#3d9e2b"/>
<rect x="348.41" y="159.89" width="1.25" height="1.25" fill="#3d9e2b"/>
<rect x="354.06" y="177.37" width="1.25" height="1.25" fill="#3d9e2b"/>
<rect x="357.69" y="144.20" width="1.25" height="1.25" fill="#3d9e2b"/>
<rect x="353.32" y="180.39" width="1.25" height="1.25" fill="#86c777"/>
<rect x="351.47" y="149.30" width="1.25" height="1.25" fill="#3d9e2b"/>
<rect x="356.17" y="177.73" width="1.25" height="1.25" fill="#3d9e2b"/>
<rect x="327.01" y="183.68" width="1.25" height="1.25" fill="#3d9e2b"/>
<rect x="359.77" y="173.24" width="1.25" height="1.25" fill="#3d9e2b"/>
<rect x="364.78" y="164.33" width="1.25" height="1.25" fill="#3d9e2b"/>
<rect x="351.98" y="183.68" width="1.25" height="1.25" fill="#3d9e2b"/>
<rect x="324.74" y="160.28" width="1.25" height="1.25" fill="#3d9e2b"/>
<rect x="364.72" y="183.68" width="1.25" height="1.25" fill="#3d9e2b"/>
<rect x="347.46" y="159.35" width="1.25" height="1.25" fill="#3d9e2b"/>
<rect x="351.88" y="176.91" width="1.25" height="1.25" fill="#86c777"/>
<rect x="347.35" y="181.14" width="1.25" height="1.25" fill="#86c777"/>
<rect x="356.85" y="171.06" width="1.25" height="1.25" fill="#3d9e2b"/>
<rect x="347.73" y="175.55" width="1.25" height="1.25" fill="#3d9e2b"/>
<rect x="348.01" y="156.06" width="1.25" height="1.25" fill="#86c777"/>
<rect x="356.97" y="154.26" width="1.25" height="1.25" fill="#3d9e2b"/>
<rect x="340.14" y="142.57" width="1.25" height="1.25" fill="#3d9e2b"/>
<rect x="337.69" y="172.60" width="1.25" height="1.25" fill="#3d9e2b"/>
<rect x="338.81" y="155.54" width="1.25" height="1.25" fill="#86c777"/>
<rect x="331.21" y="157.29" width="1.25" height="1.25" fill="#3d9e2b"/>
<rect x="327.15" y="132.28" width="1.25" height="1.25" fill="#3d9e2b"/>
<rect x="343.34" y="156.08" width="1.25" height="1.25" fill="#3d9e2b"/>
<rect x="358.12" y="167.59" width="1.25" height="1.25" fill="#3d9e2b"/>
<rect x="355.44" y="170.26" width="1.25" height="1.25" fill="#3d9e2b"/>
<line x1="316.30" y1="156.00" x2="370.70" y2="173.30" stroke="#161616" stroke-width="1.08"/>
<rect x="316.30" y="131.70" width="54.40" height="53.80" fill="none" stroke="#4a4a4a" stroke-width="1.0"/>
<line x1="321.90" y1="185.50" x2="321.90" y2="187.80" stroke="#444" stroke-width="0.6"/>
<text x="321.90" y="191.90" font-size="4.4" fill="#222" text-anchor="middle" stroke="#222" stroke-width="0.18" >7.0</text>
<line x1="337.80" y1="185.50" x2="337.80" y2="187.80" stroke="#444" stroke-width="0.6"/>
<text x="337.80" y="191.90" font-size="4.4" fill="#222" text-anchor="middle" stroke="#222" stroke-width="0.18" >8.0</text>
<line x1="353.70" y1="185.50" x2="353.70" y2="187.80" stroke="#444" stroke-width="0.6"/>
<text x="353.70" y="191.90" font-size="4.4" fill="#222" text-anchor="middle" stroke="#222" stroke-width="0.18" >9.0</text>
<line x1="369.60" y1="185.50" x2="369.60" y2="187.80" stroke="#444" stroke-width="0.6"/>
<text x="369.60" y="191.90" font-size="4.4" fill="#222" text-anchor="middle" stroke="#222" stroke-width="0.18" >10.0</text>
<line x1="314.00" y1="182.30" x2="316.30" y2="182.30" stroke="#555" stroke-width="0.6"/>
<text x="312.98" y="182.30" font-size="4.4" fill="#222" text-anchor="middle" stroke="#222" stroke-width="0.18" transform="rotate(-90 312.98 182.30)" >2</text>
<line x1="314.00" y1="172.50" x2="316.30" y2="172.50" stroke="#555" stroke-width="0.6"/>
<text x="312.98" y="172.50" font-size="4.4" fill="#222" text-anchor="middle" stroke="#222" stroke-width="0.18" transform="rotate(-90 312.98 172.50)" >4</text>
<line x1="314.00" y1="162.70" x2="316.30" y2="162.70" stroke="#555" stroke-width="0.6"/>
<text x="312.98" y="162.70" font-size="4.4" fill="#222" text-anchor="middle" stroke="#222" stroke-width="0.18" transform="rotate(-90 312.98 162.70)" >6</text>
<line x1="314.00" y1="152.90" x2="316.30" y2="152.90" stroke="#555" stroke-width="0.6"/>
<text x="312.98" y="152.90" font-size="4.4" fill="#222" text-anchor="middle" stroke="#222" stroke-width="0.18" transform="rotate(-90 312.98 152.90)" >8</text>
<line x1="314.00" y1="143.10" x2="316.30" y2="143.10" stroke="#555" stroke-width="0.6"/>
<text x="312.98" y="143.10" font-size="4.4" fill="#222" text-anchor="middle" stroke="#222" stroke-width="0.18" transform="rotate(-90 312.98 143.10)" >10</text>
<line x1="314.00" y1="133.30" x2="316.30" y2="133.30" stroke="#555" stroke-width="0.6"/>
<text x="312.98" y="133.30" font-size="4.4" fill="#222" text-anchor="middle" stroke="#222" stroke-width="0.18" transform="rotate(-90 312.98 133.30)" >12</text>
<text x="342.70" y="196.70" font-size="4.8" fill="#222" text-anchor="middle" stroke="#222" stroke-width="0.18" >SOX11</text>
<text x="305.95" y="156.60" font-size="4.6" fill="#111" text-anchor="middle" stroke="#111" stroke-width="0.18" transform="rotate(-90 305.95 156.60)" >hsa-miR-186-5p</text>
<text x="317.90" y="130.70" font-size="4.5" fill="#2a2a2a" text-anchor="start" stroke="#2a2a2a" stroke-width="0.06" textLength="17.70" lengthAdjust="spacingAndGlyphs" >corr=-0.35</text>
<text x="354.00" y="130.70" font-size="4.5" fill="#2a2a2a" text-anchor="start" stroke="#2a2a2a" stroke-width="0.06" textLength="19.10" lengthAdjust="spacingAndGlyphs" >p=0.01307</text>
<polygon points="393.30,160.30 398.10,154.90 404.60,153.90 411.00,146.30 416.40,139.90 422.90,144.20 427.20,151.70 431.50,154.90 431.50,176.50 422.90,172.20 416.40,169.00 411.00,173.30 404.60,176.50 398.10,178.00 393.30,176.50" fill="#fdeeee" stroke="#f4a6a6" stroke-width="0.6"/>
<rect x="401.82" y="131.98" width="1.25" height="1.25" fill="#f4898b"/>
<rect x="412.27" y="165.22" width="1.25" height="1.25" fill="#f4898b"/>
<rect x="425.57" y="170.27" width="1.25" height="1.25" fill="#f4898b"/>
<rect x="426.53" y="158.87" width="1.25" height="1.25" fill="#f4898b"/>
<rect x="427.84" y="158.03" width="1.25" height="1.25" fill="#f4898b"/>
<rect x="393.98" y="174.83" width="1.25" height="1.25" fill="#f8b4b4"/>
<rect x="416.82" y="146.23" width="1.25" height="1.25" fill="#f4898b"/>
<rect x="395.12" y="182.78" width="1.25" height="1.25" fill="#f4898b"/>
<rect x="425.74" y="165.65" width="1.25" height="1.25" fill="#f8b4b4"/>
<rect x="409.64" y="165.34" width="1.25" height="1.25" fill="#f8b4b4"/>
<rect x="403.08" y="142.17" width="1.25" height="1.25" fill="#f4898b"/>
<rect x="395.49" y="163.89" width="1.25" height="1.25" fill="#f4898b"/>
<rect x="409.56" y="148.55" width="1.25" height="1.25" fill="#f4898b"/>
<rect x="399.31" y="169.29" width="1.25" height="1.25" fill="#f4898b"/>
<rect x="414.17" y="164.79" width="1.25" height="1.25" fill="#f4898b"/>
<rect x="418.74" y="159.90" width="1.25" height="1.25" fill="#f4898b"/>
<rect x="397.86" y="157.43" width="1.25" height="1.25" fill="#f4898b"/>
<rect x="399.92" y="170.69" width="1.25" height="1.25" fill="#f4898b"/>
<rect x="419.62" y="151.19" width="1.25" height="1.25" fill="#f4898b"/>
<rect x="407.44" y="161.75" width="1.25" height="1.25" fill="#f4898b"/>
<rect x="424.95" y="163.88" width="1.25" height="1.25" fill="#f4898b"/>
<rect x="401.48" y="181.15" width="1.25" height="1.25" fill="#f4898b"/>
<rect x="417.72" y="146.30" width="1.25" height="1.25" fill="#f8b4b4"/>
<rect x="425.80" y="159.61" width="1.25" height="1.25" fill="#f8b4b4"/>
<rect x="422.94" y="154.91" width="1.25" height="1.25" fill="#f8b4b4"/>
<rect x="395.79" y="171.85" width="1.25" height="1.25" fill="#f4898b"/>
<rect x="409.05" y="161.35" width="1.25" height="1.25" fill="#f4898b"/>
<rect x="412.89" y="173.04" width="1.25" height="1.25" fill="#f8b4b4"/>
<rect x="417.78" y="160.23" width="1.25" height="1.25" fill="#f4898b"/>
<rect x="403.74" y="179.00" width="1.25" height="1.25" fill="#f8b4b4"/>
<line x1="388.40" y1="168.50" x2="441.90" y2="162.50" stroke="#161616" stroke-width="1.08"/>
<rect x="388.40" y="131.40" width="53.50" height="53.20" fill="none" stroke="#4a4a4a" stroke-width="1.0"/>
<line x1="390.00" y1="184.60" x2="390.00" y2="186.90" stroke="#444" stroke-width="0.6"/>
<text x="390.00" y="191.00" font-size="4.4" fill="#222" text-anchor="middle" stroke="#222" stroke-width="0.18" >8.0</text>
<line x1="399.80" y1="184.60" x2="399.80" y2="186.90" stroke="#444" stroke-width="0.6"/>
<text x="399.80" y="191.00" font-size="4.4" fill="#222" text-anchor="middle" stroke="#222" stroke-width="0.18" >8.5</text>
<line x1="409.60" y1="184.60" x2="409.60" y2="186.90" stroke="#444" stroke-width="0.6"/>
<text x="409.60" y="191.00" font-size="4.4" fill="#222" text-anchor="middle" stroke="#222" stroke-width="0.18" >9.0</text>
<line x1="419.40" y1="184.60" x2="419.40" y2="186.90" stroke="#444" stroke-width="0.6"/>
<text x="419.40" y="191.00" font-size="4.4" fill="#222" text-anchor="middle" stroke="#222" stroke-width="0.18" >9.5</text>
<line x1="429.20" y1="184.60" x2="429.20" y2="186.90" stroke="#444" stroke-width="0.6"/>
<text x="429.20" y="191.00" font-size="4.4" fill="#222" text-anchor="middle" stroke="#222" stroke-width="0.18" >10</text>
<line x1="439.00" y1="184.60" x2="439.00" y2="186.90" stroke="#444" stroke-width="0.6"/>
<text x="439.00" y="191.00" font-size="4.4" fill="#222" text-anchor="middle" stroke="#222" stroke-width="0.18" >10.5</text>
<line x1="386.10" y1="183.30" x2="388.40" y2="183.30" stroke="#555" stroke-width="0.6"/>
<text x="384.98" y="183.30" font-size="4.4" fill="#222" text-anchor="middle" stroke="#222" stroke-width="0.18" transform="rotate(-90 384.98 183.30)" >2</text>
<line x1="386.10" y1="173.10" x2="388.40" y2="173.10" stroke="#555" stroke-width="0.6"/>
<text x="384.98" y="173.10" font-size="4.4" fill="#222" text-anchor="middle" stroke="#222" stroke-width="0.18" transform="rotate(-90 384.98 173.10)" >4</text>
<line x1="386.10" y1="162.90" x2="388.40" y2="162.90" stroke="#555" stroke-width="0.6"/>
<text x="384.98" y="162.90" font-size="4.4" fill="#222" text-anchor="middle" stroke="#222" stroke-width="0.18" transform="rotate(-90 384.98 162.90)" >6</text>
<line x1="386.10" y1="152.70" x2="388.40" y2="152.70" stroke="#555" stroke-width="0.6"/>
<text x="384.98" y="152.70" font-size="4.4" fill="#222" text-anchor="middle" stroke="#222" stroke-width="0.18" transform="rotate(-90 384.98 152.70)" >8</text>
<line x1="386.10" y1="142.50" x2="388.40" y2="142.50" stroke="#555" stroke-width="0.6"/>
<text x="384.98" y="142.50" font-size="4.4" fill="#222" text-anchor="middle" stroke="#222" stroke-width="0.18" transform="rotate(-90 384.98 142.50)" >10</text>
<line x1="386.10" y1="132.30" x2="388.40" y2="132.30" stroke="#555" stroke-width="0.6"/>
<text x="384.98" y="132.30" font-size="4.4" fill="#222" text-anchor="middle" stroke="#222" stroke-width="0.18" transform="rotate(-90 384.98 132.30)" >12</text>
<text x="414.35" y="195.80" font-size="4.8" fill="#222" text-anchor="middle" stroke="#222" stroke-width="0.18" >SOX11</text>
<text x="378.85" y="156.00" font-size="4.6" fill="#111" text-anchor="middle" stroke="#111" stroke-width="0.18" transform="rotate(-90 378.85 156.00)" >hsa-miR-186-5p</text>
<text x="390.20" y="130.40" font-size="4.5" fill="#2a2a2a" text-anchor="start" stroke="#2a2a2a" stroke-width="0.06" textLength="16.10" lengthAdjust="spacingAndGlyphs" >corr=0.09</text>
<text x="431.20" y="130.40" font-size="4.5" fill="#2a2a2a" text-anchor="start" stroke="#2a2a2a" stroke-width="0.06" textLength="16.10" lengthAdjust="spacingAndGlyphs" >p=0.6026</text>
<path d="M436.40,134.90L440.80,139.30M436.40,139.30L440.80,134.90" stroke="#e3211c" stroke-width="1.3" fill="none"/>
<polygon points="477.20,150.60 487.60,153.40 497.30,153.90 501.60,160.30 515.60,162.50 515.60,180.80 501.60,178.60 487.60,174.30 477.20,171.10" fill="#dee6f4" stroke="#8ea6d3" stroke-width="0.6"/>
<rect x="488.14" y="171.00" width="1.25" height="1.25" fill="#3b78c3"/>
<rect x="479.15" y="171.21" width="1.25" height="1.25" fill="#3b78c3"/>
<rect x="521.66" y="173.33" width="1.25" height="1.25" fill="#3b78c3"/>
<rect x="491.64" y="179.74" width="1.25" height="1.25" fill="#86a9da"/>
<rect x="494.86" y="176.05" width="1.25" height="1.25" fill="#86a9da"/>
<rect x="488.08" y="173.33" width="1.25" height="1.25" fill="#3b78c3"/>
<rect x="494.90" y="172.97" width="1.25" height="1.25" fill="#3b78c3"/>
<rect x="498.06" y="174.75" width="1.25" height="1.25" fill="#3b78c3"/>
<rect x="487.65" y="168.32" width="1.25" height="1.25" fill="#3b78c3"/>
<rect x="491.10" y="170.67" width="1.25" height="1.25" fill="#3b78c3"/>
<rect x="491.59" y="164.30" width="1.25" height="1.25" fill="#86a9da"/>
<rect x="491.53" y="170.15" width="1.25" height="1.25" fill="#3b78c3"/>
<rect x="492.41" y="176.30" width="1.25" height="1.25" fill="#3b78c3"/>
<rect x="502.88" y="173.88" width="1.25" height="1.25" fill="#3b78c3"/>
<rect x="496.01" y="176.11" width="1.25" height="1.25" fill="#3b78c3"/>
<rect x="492.17" y="170.44" width="1.25" height="1.25" fill="#3b78c3"/>
<rect x="502.23" y="162.29" width="1.25" height="1.25" fill="#3b78c3"/>
<rect x="480.03" y="162.80" width="1.25" height="1.25" fill="#3b78c3"/>
<rect x="495.53" y="181.59" width="1.25" height="1.25" fill="#3b78c3"/>
<rect x="486.21" y="159.58" width="1.25" height="1.25" fill="#3b78c3"/>
<rect x="486.10" y="173.40" width="1.25" height="1.25" fill="#3b78c3"/>
<rect x="476.42" y="166.05" width="1.25" height="1.25" fill="#3b78c3"/>
<rect x="510.79" y="175.42" width="1.25" height="1.25" fill="#3b78c3"/>
<rect x="474.58" y="167.82" width="1.25" height="1.25" fill="#86a9da"/>
<rect x="484.62" y="167.95" width="1.25" height="1.25" fill="#3b78c3"/>
<rect x="489.54" y="170.87" width="1.25" height="1.25" fill="#3b78c3"/>
<rect x="499.17" y="176.70" width="1.25" height="1.25" fill="#86a9da"/>
<rect x="489.36" y="171.80" width="1.25" height="1.25" fill="#3b78c3"/>
<rect x="501.96" y="176.08" width="1.25" height="1.25" fill="#3b78c3"/>
<rect x="501.17" y="176.20" width="1.25" height="1.25" fill="#86a9da"/>
<rect x="484.10" y="171.52" width="1.25" height="1.25" fill="#86a9da"/>
<rect x="486.24" y="163.39" width="1.25" height="1.25" fill="#3b78c3"/>
<rect x="499.93" y="165.02" width="1.25" height="1.25" fill="#3b78c3"/>
<rect x="494.31" y="166.83" width="1.25" height="1.25" fill="#3b78c3"/>
<rect x="502.79" y="182.85" width="1.25" height="1.25" fill="#3b78c3"/>
<rect x="479.74" y="160.96" width="1.25" height="1.25" fill="#3b78c3"/>
<rect x="485.23" y="173.27" width="1.25" height="1.25" fill="#86a9da"/>
<rect x="497.02" y="164.49" width="1.25" height="1.25" fill="#3b78c3"/>
<rect x="490.65" y="175.57" width="1.25" height="1.25" fill="#3b78c3"/>
<rect x="502.52" y="164.81" width="1.25" height="1.25" fill="#3b78c3"/>
<rect x="494.17" y="183.68" width="1.25" height="1.25" fill="#3b78c3"/>
<rect x="482.62" y="163.33" width="1.25" height="1.25" fill="#3b78c3"/>
<rect x="497.61" y="161.65" width="1.25" height="1.25" fill="#3b78c3"/>
<rect x="495.57" y="170.56" width="1.25" height="1.25" fill="#86a9da"/>
<rect x="509.97" y="181.96" width="1.25" height="1.25" fill="#3b78c3"/>
<rect x="491.72" y="173.33" width="1.25" height="1.25" fill="#3b78c3"/>
<rect x="513.50" y="173.36" width="1.25" height="1.25" fill="#3b78c3"/>
<rect x="497.64" y="177.01" width="1.25" height="1.25" fill="#3b78c3"/>
<rect x="517.43" y="183.68" width="1.25" height="1.25" fill="#86a9da"/>
<rect x="505.98" y="167.47" width="1.25" height="1.25" fill="#3b78c3"/>
<rect x="483.38" y="170.24" width="1.25" height="1.25" fill="#86a9da"/>
<rect x="491.19" y="164.74" width="1.25" height="1.25" fill="#3b78c3"/>
<rect x="482.23" y="167.01" width="1.25" height="1.25" fill="#3b78c3"/>
<rect x="502.97" y="169.62" width="1.25" height="1.25" fill="#3b78c3"/>
<rect x="481.84" y="175.37" width="1.25" height="1.25" fill="#86a9da"/>
<rect x="487.56" y="168.61" width="1.25" height="1.25" fill="#3b78c3"/>
<rect x="485.12" y="164.94" width="1.25" height="1.25" fill="#86a9da"/>
<rect x="495.07" y="178.97" width="1.25" height="1.25" fill="#3b78c3"/>
<rect x="474.58" y="167.91" width="1.25" height="1.25" fill="#3b78c3"/>
<rect x="486.85" y="171.27" width="1.25" height="1.25" fill="#86a9da"/>
<rect x="474.58" y="162.63" width="1.25" height="1.25" fill="#3b78c3"/>
<rect x="492.80" y="174.99" width="1.25" height="1.25" fill="#3b78c3"/>
<rect x="490.47" y="172.93" width="1.25" height="1.25" fill="#3b78c3"/>
<rect x="495.70" y="175.15" width="1.25" height="1.25" fill="#3b78c3"/>
<rect x="495.33" y="173.95" width="1.25" height="1.25" fill="#86a9da"/>
<rect x="475.96" y="172.20" width="1.25" height="1.25" fill="#3b78c3"/>
<rect x="500.45" y="164.75" width="1.25" height="1.25" fill="#3b78c3"/>
<rect x="491.63" y="182.40" width="1.25" height="1.25" fill="#86a9da"/>
<rect x="494.34" y="183.14" width="1.25" height="1.25" fill="#3b78c3"/>
<rect x="491.30" y="161.20" width="1.25" height="1.25" fill="#3b78c3"/>
<rect x="499.05" y="170.78" width="1.25" height="1.25" fill="#3b78c3"/>
<rect x="488.34" y="157.25" width="1.25" height="1.25" fill="#86a9da"/>
<rect x="488.71" y="166.96" width="1.25" height="1.25" fill="#3b78c3"/>
<rect x="492.18" y="175.79" width="1.25" height="1.25" fill="#3b78c3"/>
<rect x="491.18" y="167.26" width="1.25" height="1.25" fill="#3b78c3"/>
<rect x="485.94" y="173.81" width="1.25" height="1.25" fill="#3b78c3"/>
<rect x="505.27" y="183.68" width="1.25" height="1.25" fill="#3b78c3"/>
<rect x="480.72" y="165.52" width="1.25" height="1.25" fill="#3b78c3"/>
<rect x="489.47" y="179.29" width="1.25" height="1.25" fill="#3b78c3"/>
<rect x="526.08" y="178.65" width="1.25" height="1.25" fill="#3b78c3"/>
<rect x="481.26" y="167.43" width="1.25" height="1.25" fill="#86a9da"/>
<rect x="493.58" y="166.75" width="1.25" height="1.25" fill="#86a9da"/>
<rect x="475.79" y="164.91" width="1.25" height="1.25" fill="#3b78c3"/>
<rect x="504.47" y="183.68" width="1.25" height="1.25" fill="#86a9da"/>
<rect x="481.40" y="165.15" width="1.25" height="1.25" fill="#3b78c3"/>
<rect x="504.83" y="172.32" width="1.25" height="1.25" fill="#3b78c3"/>
<rect x="474.58" y="161.44" width="1.25" height="1.25" fill="#86a9da"/>
<rect x="518.43" y="181.91" width="1.25" height="1.25" fill="#3b78c3"/>
<rect x="480.14" y="163.21" width="1.25" height="1.25" fill="#3b78c3"/>
<rect x="488.40" y="170.80" width="1.25" height="1.25" fill="#86a9da"/>
<rect x="495.75" y="180.07" width="1.25" height="1.25" fill="#86a9da"/>
<rect x="506.92" y="174.61" width="1.25" height="1.25" fill="#86a9da"/>
<rect x="475.22" y="171.64" width="1.25" height="1.25" fill="#3b78c3"/>
<rect x="500.00" y="175.86" width="1.25" height="1.25" fill="#3b78c3"/>
<rect x="491.19" y="170.99" width="1.25" height="1.25" fill="#3b78c3"/>
<rect x="486.24" y="179.16" width="1.25" height="1.25" fill="#3b78c3"/>
<rect x="488.24" y="165.30" width="1.25" height="1.25" fill="#3b78c3"/>
<rect x="495.67" y="174.55" width="1.25" height="1.25" fill="#3b78c3"/>
<rect x="487.33" y="171.04" width="1.25" height="1.25" fill="#3b78c3"/>
<rect x="481.29" y="166.62" width="1.25" height="1.25" fill="#86a9da"/>
<rect x="491.84" y="167.94" width="1.25" height="1.25" fill="#3b78c3"/>
<rect x="504.96" y="174.02" width="1.25" height="1.25" fill="#3b78c3"/>
<rect x="491.52" y="172.33" width="1.25" height="1.25" fill="#3b78c3"/>
<rect x="505.92" y="183.68" width="1.25" height="1.25" fill="#3b78c3"/>
<rect x="493.46" y="173.56" width="1.25" height="1.25" fill="#3b78c3"/>
<rect x="501.57" y="172.87" width="1.25" height="1.25" fill="#3b78c3"/>
<rect x="484.84" y="170.54" width="1.25" height="1.25" fill="#3b78c3"/>
<rect x="507.70" y="180.98" width="1.25" height="1.25" fill="#3b78c3"/>
<rect x="494.40" y="171.34" width="1.25" height="1.25" fill="#3b78c3"/>
<rect x="509.47" y="178.33" width="1.25" height="1.25" fill="#3b78c3"/>
<rect x="485.10" y="172.87" width="1.25" height="1.25" fill="#3b78c3"/>
<rect x="496.54" y="172.51" width="1.25" height="1.25" fill="#86a9da"/>
<rect x="489.10" y="183.68" width="1.25" height="1.25" fill="#3b78c3"/>
<rect x="484.65" y="162.67" width="1.25" height="1.25" fill="#3b78c3"/>
<rect x="495.86" y="174.98" width="1.25" height="1.25" fill="#3b78c3"/>
<rect x="483.21" y="169.60" width="1.25" height="1.25" fill="#3b78c3"/>
<rect x="498.35" y="171.47" width="1.25" height="1.25" fill="#3b78c3"/>
<rect x="488.75" y="173.89" width="1.25" height="1.25" fill="#3b78c3"/>
<rect x="483.59" y="161.12" width="1.25" height="1.25" fill="#3b78c3"/>
<rect x="487.01" y="158.57" width="1.25" height="1.25" fill="#3b78c3"/>
<rect x="490.82" y="177.88" width="1.25" height="1.25" fill="#3b78c3"/>
<rect x="477.63" y="166.30" width="1.25" height="1.25" fill="#3b78c3"/>
<rect x="492.24" y="178.79" width="1.25" height="1.25" fill="#3b78c3"/>
<rect x="475.11" y="156.33" width="1.25" height="1.25" fill="#3b78c3"/>
<rect x="498.57" y="166.54" width="1.25" height="1.25" fill="#3b78c3"/>
<rect x="495.84" y="179.22" width="1.25" height="1.25" fill="#86a9da"/>
<rect x="497.72" y="175.89" width="1.25" height="1.25" fill="#3b78c3"/>
<rect x="494.73" y="169.20" width="1.25" height="1.25" fill="#86a9da"/>
<rect x="495.56" y="181.86" width="1.25" height="1.25" fill="#86a9da"/>
<rect x="487.21" y="177.57" width="1.25" height="1.25" fill="#86a9da"/>
<rect x="508.46" y="178.96" width="1.25" height="1.25" fill="#86a9da"/>
<rect x="483.93" y="171.21" width="1.25" height="1.25" fill="#3b78c3"/>
<rect x="488.46" y="160.77" width="1.25" height="1.25" fill="#3b78c3"/>
<rect x="489.30" y="168.07" width="1.25" height="1.25" fill="#3b78c3"/>
<rect x="484.19" y="161.37" width="1.25" height="1.25" fill="#3b78c3"/>
<rect x="486.32" y="171.95" width="1.25" height="1.25" fill="#3b78c3"/>
<rect x="483.13" y="175.97" width="1.25" height="1.25" fill="#3b78c3"/>
<rect x="495.46" y="174.02" width="1.25" height="1.25" fill="#3b78c3"/>
<rect x="508.11" y="183.68" width="1.25" height="1.25" fill="#3b78c3"/>
<rect x="484.37" y="160.96" width="1.25" height="1.25" fill="#3b78c3"/>
<rect x="493.40" y="179.82" width="1.25" height="1.25" fill="#86a9da"/>
<rect x="491.01" y="165.30" width="1.25" height="1.25" fill="#3b78c3"/>
<rect x="495.46" y="181.97" width="1.25" height="1.25" fill="#3b78c3"/>
<rect x="510.26" y="177.91" width="1.25" height="1.25" fill="#3b78c3"/>
<rect x="485.40" y="168.08" width="1.25" height="1.25" fill="#3b78c3"/>
<rect x="486.77" y="160.35" width="1.25" height="1.25" fill="#3b78c3"/>
<rect x="483.59" y="167.43" width="1.25" height="1.25" fill="#3b78c3"/>
<rect x="501.10" y="173.99" width="1.25" height="1.25" fill="#3b78c3"/>
<rect x="474.92" y="156.89" width="1.25" height="1.25" fill="#3b78c3"/>
<rect x="487.07" y="161.95" width="1.25" height="1.25" fill="#3b78c3"/>
<rect x="495.56" y="175.51" width="1.25" height="1.25" fill="#3b78c3"/>
<rect x="497.17" y="165.80" width="1.25" height="1.25" fill="#3b78c3"/>
<rect x="493.89" y="177.51" width="1.25" height="1.25" fill="#3b78c3"/>
<rect x="497.52" y="165.89" width="1.25" height="1.25" fill="#3b78c3"/>
<rect x="494.61" y="177.05" width="1.25" height="1.25" fill="#3b78c3"/>
<rect x="510.87" y="179.19" width="1.25" height="1.25" fill="#86a9da"/>
<rect x="483.62" y="183.68" width="1.25" height="1.25" fill="#3b78c3"/>
<rect x="479.37" y="156.80" width="1.25" height="1.25" fill="#3b78c3"/>
<rect x="494.02" y="158.11" width="1.25" height="1.25" fill="#3b78c3"/>
<rect x="486.00" y="176.85" width="1.25" height="1.25" fill="#3b78c3"/>
<rect x="491.50" y="170.32" width="1.25" height="1.25" fill="#3b78c3"/>
<rect x="491.90" y="154.88" width="1.25" height="1.25" fill="#86a9da"/>
<rect x="481.11" y="169.67" width="1.25" height="1.25" fill="#3b78c3"/>
<rect x="490.71" y="171.12" width="1.25" height="1.25" fill="#3b78c3"/>
<rect x="493.23" y="174.60" width="1.25" height="1.25" fill="#3b78c3"/>
<rect x="498.26" y="169.80" width="1.25" height="1.25" fill="#3b78c3"/>
<rect x="478.17" y="173.39" width="1.25" height="1.25" fill="#3b78c3"/>
<rect x="491.65" y="167.60" width="1.25" height="1.25" fill="#3b78c3"/>
<rect x="485.37" y="172.03" width="1.25" height="1.25" fill="#3b78c3"/>
<rect x="504.47" y="176.90" width="1.25" height="1.25" fill="#3b78c3"/>
<line x1="474.00" y1="162.90" x2="528.60" y2="179.00" stroke="#161616" stroke-width="1.08"/>
<rect x="474.00" y="131.60" width="54.60" height="53.90" fill="none" stroke="#4a4a4a" stroke-width="1.0"/>
<line x1="479.00" y1="185.50" x2="479.00" y2="187.80" stroke="#444" stroke-width="0.6"/>
<text x="479.00" y="191.90" font-size="4.4" fill="#222" text-anchor="middle" stroke="#222" stroke-width="0.18" >7.0</text>
<line x1="496.40" y1="185.50" x2="496.40" y2="187.80" stroke="#444" stroke-width="0.6"/>
<text x="496.40" y="191.90" font-size="4.4" fill="#222" text-anchor="middle" stroke="#222" stroke-width="0.18" >8.0</text>
<line x1="513.80" y1="185.50" x2="513.80" y2="187.80" stroke="#444" stroke-width="0.6"/>
<text x="513.80" y="191.90" font-size="4.4" fill="#222" text-anchor="middle" stroke="#222" stroke-width="0.18" >9.0</text>
<line x1="471.70" y1="182.30" x2="474.00" y2="182.30" stroke="#555" stroke-width="0.6"/>
<text x="469.98" y="182.30" font-size="4.4" fill="#222" text-anchor="middle" stroke="#222" stroke-width="0.18" transform="rotate(-90 469.98 182.30)" >0</text>
<line x1="471.70" y1="174.80" x2="474.00" y2="174.80" stroke="#555" stroke-width="0.6"/>
<text x="469.98" y="174.80" font-size="4.4" fill="#222" text-anchor="middle" stroke="#222" stroke-width="0.18" transform="rotate(-90 469.98 174.80)" >2</text>
<line x1="471.70" y1="167.30" x2="474.00" y2="167.30" stroke="#555" stroke-width="0.6"/>
<text x="469.98" y="167.30" font-size="4.4" fill="#222" text-anchor="middle" stroke="#222" stroke-width="0.18" transform="rotate(-90 469.98 167.30)" >4</text>
<line x1="471.70" y1="159.80" x2="474.00" y2="159.80" stroke="#555" stroke-width="0.6"/>
<text x="469.98" y="159.80" font-size="4.4" fill="#222" text-anchor="middle" stroke="#222" stroke-width="0.18" transform="rotate(-90 469.98 159.80)" >6</text>
<line x1="471.70" y1="152.30" x2="474.00" y2="152.30" stroke="#555" stroke-width="0.6"/>
<text x="469.98" y="152.30" font-size="4.4" fill="#222" text-anchor="middle" stroke="#222" stroke-width="0.18" transform="rotate(-90 469.98 152.30)" >8</text>
<line x1="471.70" y1="144.80" x2="474.00" y2="144.80" stroke="#555" stroke-width="0.6"/>
<text x="469.98" y="144.80" font-size="4.4" fill="#222" text-anchor="middle" stroke="#222" stroke-width="0.18" transform="rotate(-90 469.98 144.80)" >10</text>
<line x1="471.70" y1="137.30" x2="474.00" y2="137.30" stroke="#555" stroke-width="0.6"/>
<text x="469.98" y="137.30" font-size="4.4" fill="#222" text-anchor="middle" stroke="#222" stroke-width="0.18" transform="rotate(-90 469.98 137.30)" >12</text>
<text x="500.50" y="196.70" font-size="4.8" fill="#222" text-anchor="middle" stroke="#222" stroke-width="0.18" >SOX11</text>
<text x="463.05" y="156.55" font-size="4.6" fill="#111" text-anchor="middle" stroke="#111" stroke-width="0.18" transform="rotate(-90 463.05 156.55)" >hsa-miR-186-5p</text>
<text x="474.20" y="130.60" font-size="4.5" fill="#2a2a2a" text-anchor="start" stroke="#2a2a2a" stroke-width="0.06" textLength="17.10" lengthAdjust="spacingAndGlyphs" >corr=-0.27</text>
<text x="507.70" y="130.60" font-size="4.5" fill="#2a2a2a" text-anchor="start" stroke="#2a2a2a" stroke-width="0.06" textLength="21.70" lengthAdjust="spacingAndGlyphs" >p=0.0000033</text>
<polygon points="549.70,152.80 561.60,153.90 572.30,153.40 590.00,164.60 590.00,181.90 561.60,175.00 549.70,173.30" fill="#e3f1dc" stroke="#99cc88" stroke-width="0.6"/>
<rect x="563.66" y="170.39" width="1.25" height="1.25" fill="#3d9e2b"/>
<rect x="560.39" y="152.74" width="1.25" height="1.25" fill="#3d9e2b"/>
<rect x="570.73" y="162.57" width="1.25" height="1.25" fill="#86c777"/>
<rect x="576.13" y="174.08" width="1.25" height="1.25" fill="#3d9e2b"/>
<rect x="557.21" y="153.97" width="1.25" height="1.25" fill="#3d9e2b"/>
<rect x="580.61" y="182.55" width="1.25" height="1.25" fill="#3d9e2b"/>
<rect x="557.68" y="155.12" width="1.25" height="1.25" fill="#3d9e2b"/>
<rect x="587.33" y="165.82" width="1.25" height="1.25" fill="#3d9e2b"/>
<rect x="571.25" y="170.39" width="1.25" height="1.25" fill="#3d9e2b"/>
<rect x="555.00" y="164.83" width="1.25" height="1.25" fill="#3d9e2b"/>
<rect x="550.43" y="154.30" width="1.25" height="1.25" fill="#3d9e2b"/>
<rect x="572.74" y="173.24" width="1.25" height="1.25" fill="#3d9e2b"/>
<rect x="561.86" y="175.30" width="1.25" height="1.25" fill="#3d9e2b"/>
<rect x="568.44" y="154.91" width="1.25" height="1.25" fill="#86c777"/>
<rect x="562.47" y="172.87" width="1.25" height="1.25" fill="#3d9e2b"/>
<rect x="562.94" y="153.32" width="1.25" height="1.25" fill="#3d9e2b"/>
<rect x="579.42" y="181.41" width="1.25" height="1.25" fill="#86c777"/>
<rect x="551.74" y="156.12" width="1.25" height="1.25" fill="#3d9e2b"/>
<rect x="571.66" y="168.62" width="1.25" height="1.25" fill="#3d9e2b"/>
<rect x="559.60" y="162.34" width="1.25" height="1.25" fill="#3d9e2b"/>
<rect x="554.51" y="162.21" width="1.25" height="1.25" fill="#3d9e2b"/>
<rect x="572.65" y="163.47" width="1.25" height="1.25" fill="#3d9e2b"/>
<rect x="547.64" y="166.05" width="1.25" height="1.25" fill="#3d9e2b"/>
<rect x="574.10" y="169.81" width="1.25" height="1.25" fill="#3d9e2b"/>
<rect x="583.02" y="168.15" width="1.25" height="1.25" fill="#3d9e2b"/>
<rect x="562.01" y="171.64" width="1.25" height="1.25" fill="#3d9e2b"/>
<rect x="586.76" y="166.70" width="1.25" height="1.25" fill="#3d9e2b"/>
<rect x="549.99" y="165.82" width="1.25" height="1.25" fill="#3d9e2b"/>
<rect x="567.61" y="168.34" width="1.25" height="1.25" fill="#3d9e2b"/>
<rect x="575.70" y="168.42" width="1.25" height="1.25" fill="#3d9e2b"/>
<rect x="555.77" y="176.81" width="1.25" height="1.25" fill="#86c777"/>
<rect x="565.02" y="160.61" width="1.25" height="1.25" fill="#3d9e2b"/>
<rect x="568.28" y="169.57" width="1.25" height="1.25" fill="#3d9e2b"/>
<rect x="572.35" y="153.63" width="1.25" height="1.25" fill="#3d9e2b"/>
<rect x="573.60" y="180.39" width="1.25" height="1.25" fill="#86c777"/>
<rect x="573.79" y="168.51" width="1.25" height="1.25" fill="#3d9e2b"/>
<rect x="573.97" y="169.22" width="1.25" height="1.25" fill="#3d9e2b"/>
<rect x="575.97" y="170.57" width="1.25" height="1.25" fill="#86c777"/>
<rect x="577.99" y="159.65" width="1.25" height="1.25" fill="#3d9e2b"/>
<rect x="570.27" y="146.79" width="1.25" height="1.25" fill="#3d9e2b"/>
<rect x="559.69" y="176.71" width="1.25" height="1.25" fill="#3d9e2b"/>
<rect x="569.97" y="179.22" width="1.25" height="1.25" fill="#86c777"/>
<rect x="577.53" y="144.73" width="1.25" height="1.25" fill="#3d9e2b"/>
<rect x="591.73" y="182.14" width="1.25" height="1.25" fill="#3d9e2b"/>
<rect x="560.08" y="151.34" width="1.25" height="1.25" fill="#3d9e2b"/>
<rect x="562.96" y="168.50" width="1.25" height="1.25" fill="#3d9e2b"/>
<rect x="581.56" y="178.99" width="1.25" height="1.25" fill="#3d9e2b"/>
<rect x="576.33" y="177.89" width="1.25" height="1.25" fill="#3d9e2b"/>
<rect x="575.01" y="162.87" width="1.25" height="1.25" fill="#3d9e2b"/>
<rect x="556.15" y="161.43" width="1.25" height="1.25" fill="#3d9e2b"/>
<rect x="558.71" y="167.55" width="1.25" height="1.25" fill="#3d9e2b"/>
<rect x="577.19" y="166.83" width="1.25" height="1.25" fill="#3d9e2b"/>
<rect x="586.53" y="156.74" width="1.25" height="1.25" fill="#3d9e2b"/>
<rect x="550.81" y="151.72" width="1.25" height="1.25" fill="#3d9e2b"/>
<rect x="580.96" y="168.76" width="1.25" height="1.25" fill="#3d9e2b"/>
<rect x="555.73" y="157.00" width="1.25" height="1.25" fill="#3d9e2b"/>
<rect x="572.41" y="163.47" width="1.25" height="1.25" fill="#3d9e2b"/>
<rect x="573.16" y="183.68" width="1.25" height="1.25" fill="#3d9e2b"/>
<rect x="565.69" y="175.10" width="1.25" height="1.25" fill="#3d9e2b"/>
<rect x="572.49" y="180.79" width="1.25" height="1.25" fill="#3d9e2b"/>
<rect x="567.15" y="160.97" width="1.25" height="1.25" fill="#3d9e2b"/>
<rect x="569.38" y="160.94" width="1.25" height="1.25" fill="#3d9e2b"/>
<rect x="560.95" y="159.57" width="1.25" height="1.25" fill="#3d9e2b"/>
<rect x="564.08" y="163.88" width="1.25" height="1.25" fill="#3d9e2b"/>
<rect x="575.49" y="147.09" width="1.25" height="1.25" fill="#3d9e2b"/>
<rect x="573.22" y="170.28" width="1.25" height="1.25" fill="#3d9e2b"/>
<rect x="555.32" y="164.41" width="1.25" height="1.25" fill="#3d9e2b"/>
<rect x="579.83" y="175.83" width="1.25" height="1.25" fill="#3d9e2b"/>
<rect x="562.80" y="168.73" width="1.25" height="1.25" fill="#3d9e2b"/>
<rect x="564.61" y="157.90" width="1.25" height="1.25" fill="#3d9e2b"/>
<rect x="571.12" y="181.86" width="1.25" height="1.25" fill="#3d9e2b"/>
<rect x="579.38" y="177.08" width="1.25" height="1.25" fill="#3d9e2b"/>
<rect x="570.88" y="168.80" width="1.25" height="1.25" fill="#3d9e2b"/>
<rect x="568.18" y="157.24" width="1.25" height="1.25" fill="#86c777"/>
<rect x="559.46" y="158.54" width="1.25" height="1.25" fill="#3d9e2b"/>
<rect x="570.89" y="155.31" width="1.25" height="1.25" fill="#3d9e2b"/>
<rect x="580.38" y="183.68" width="1.25" height="1.25" fill="#3d9e2b"/>
<rect x="571.49" y="167.68" width="1.25" height="1.25" fill="#3d9e2b"/>
<rect x="565.53" y="161.95" width="1.25" height="1.25" fill="#3d9e2b"/>
<rect x="562.04" y="170.91" width="1.25" height="1.25" fill="#3d9e2b"/>
<rect x="569.25" y="178.21" width="1.25" height="1.25" fill="#3d9e2b"/>
<rect x="567.09" y="155.49" width="1.25" height="1.25" fill="#3d9e2b"/>
<rect x="595.53" y="169.06" width="1.25" height="1.25" fill="#3d9e2b"/>
<rect x="577.35" y="183.68" width="1.25" height="1.25" fill="#3d9e2b"/>
<rect x="561.81" y="182.04" width="1.25" height="1.25" fill="#3d9e2b"/>
<rect x="569.45" y="156.36" width="1.25" height="1.25" fill="#86c777"/>
<rect x="574.50" y="183.53" width="1.25" height="1.25" fill="#3d9e2b"/>
<rect x="564.48" y="155.99" width="1.25" height="1.25" fill="#3d9e2b"/>
<rect x="572.53" y="158.01" width="1.25" height="1.25" fill="#3d9e2b"/>
<rect x="582.63" y="166.23" width="1.25" height="1.25" fill="#3d9e2b"/>
<rect x="558.91" y="158.10" width="1.25" height="1.25" fill="#3d9e2b"/>
<rect x="578.19" y="171.72" width="1.25" height="1.25" fill="#3d9e2b"/>
<rect x="571.57" y="164.26" width="1.25" height="1.25" fill="#3d9e2b"/>
<rect x="572.32" y="156.83" width="1.25" height="1.25" fill="#3d9e2b"/>
<rect x="558.10" y="159.58" width="1.25" height="1.25" fill="#3d9e2b"/>
<rect x="568.41" y="163.27" width="1.25" height="1.25" fill="#3d9e2b"/>
<rect x="561.91" y="158.23" width="1.25" height="1.25" fill="#3d9e2b"/>
<rect x="570.50" y="175.45" width="1.25" height="1.25" fill="#3d9e2b"/>
<rect x="576.88" y="169.24" width="1.25" height="1.25" fill="#3d9e2b"/>
<rect x="574.76" y="164.93" width="1.25" height="1.25" fill="#3d9e2b"/>
<rect x="570.26" y="166.61" width="1.25" height="1.25" fill="#3d9e2b"/>
<rect x="568.69" y="166.52" width="1.25" height="1.25" fill="#3d9e2b"/>
<rect x="578.99" y="159.87" width="1.25" height="1.25" fill="#3d9e2b"/>
<rect x="574.41" y="158.02" width="1.25" height="1.25" fill="#3d9e2b"/>
<rect x="578.33" y="183.68" width="1.25" height="1.25" fill="#3d9e2b"/>
<rect x="573.10" y="164.85" width="1.25" height="1.25" fill="#86c777"/>
<rect x="566.42" y="164.30" width="1.25" height="1.25" fill="#3d9e2b"/>
<rect x="576.06" y="167.09" width="1.25" height="1.25" fill="#86c777"/>
<rect x="573.89" y="165.15" width="1.25" height="1.25" fill="#3d9e2b"/>
<rect x="576.29" y="180.83" width="1.25" height="1.25" fill="#3d9e2b"/>
<rect x="567.72" y="154.57" width="1.25" height="1.25" fill="#3d9e2b"/>
<rect x="566.46" y="165.62" width="1.25" height="1.25" fill="#3d9e2b"/>
<rect x="577.96" y="172.82" width="1.25" height="1.25" fill="#3d9e2b"/>
<rect x="580.37" y="178.89" width="1.25" height="1.25" fill="#3d9e2b"/>
<rect x="560.65" y="164.28" width="1.25" height="1.25" fill="#86c777"/>
<rect x="579.22" y="162.27" width="1.25" height="1.25" fill="#3d9e2b"/>
<rect x="581.65" y="162.67" width="1.25" height="1.25" fill="#86c777"/>
<rect x="567.70" y="180.07" width="1.25" height="1.25" fill="#3d9e2b"/>
<rect x="574.35" y="159.13" width="1.25" height="1.25" fill="#86c777"/>
<rect x="576.59" y="164.15" width="1.25" height="1.25" fill="#3d9e2b"/>
<rect x="570.99" y="172.34" width="1.25" height="1.25" fill="#3d9e2b"/>
<rect x="570.65" y="148.16" width="1.25" height="1.25" fill="#3d9e2b"/>
<rect x="568.36" y="150.41" width="1.25" height="1.25" fill="#3d9e2b"/>
<rect x="584.98" y="169.09" width="1.25" height="1.25" fill="#3d9e2b"/>
<rect x="588.85" y="174.25" width="1.25" height="1.25" fill="#3d9e2b"/>
<rect x="561.00" y="154.21" width="1.25" height="1.25" fill="#3d9e2b"/>
<rect x="562.62" y="170.55" width="1.25" height="1.25" fill="#3d9e2b"/>
<rect x="580.14" y="163.26" width="1.25" height="1.25" fill="#3d9e2b"/>
<rect x="566.40" y="152.57" width="1.25" height="1.25" fill="#86c777"/>
<rect x="571.65" y="152.32" width="1.25" height="1.25" fill="#3d9e2b"/>
<rect x="575.88" y="180.30" width="1.25" height="1.25" fill="#3d9e2b"/>
<rect x="567.96" y="177.44" width="1.25" height="1.25" fill="#86c777"/>
<rect x="569.17" y="150.57" width="1.25" height="1.25" fill="#86c777"/>
<rect x="585.66" y="169.90" width="1.25" height="1.25" fill="#3d9e2b"/>
<rect x="568.44" y="168.98" width="1.25" height="1.25" fill="#3d9e2b"/>
<rect x="580.78" y="183.45" width="1.25" height="1.25" fill="#3d9e2b"/>
<rect x="564.60" y="155.22" width="1.25" height="1.25" fill="#3d9e2b"/>
<rect x="583.83" y="178.78" width="1.25" height="1.25" fill="#3d9e2b"/>
<rect x="570.69" y="156.87" width="1.25" height="1.25" fill="#3d9e2b"/>
<rect x="570.28" y="151.16" width="1.25" height="1.25" fill="#3d9e2b"/>
<rect x="565.21" y="172.24" width="1.25" height="1.25" fill="#3d9e2b"/>
<rect x="558.21" y="157.86" width="1.25" height="1.25" fill="#3d9e2b"/>
<rect x="572.79" y="170.78" width="1.25" height="1.25" fill="#3d9e2b"/>
<rect x="563.37" y="162.15" width="1.25" height="1.25" fill="#3d9e2b"/>
<rect x="562.09" y="167.87" width="1.25" height="1.25" fill="#3d9e2b"/>
<rect x="568.07" y="155.19" width="1.25" height="1.25" fill="#86c777"/>
<rect x="568.96" y="171.38" width="1.25" height="1.25" fill="#3d9e2b"/>
<rect x="569.72" y="172.59" width="1.25" height="1.25" fill="#3d9e2b"/>
<rect x="558.51" y="166.05" width="1.25" height="1.25" fill="#3d9e2b"/>
<rect x="570.18" y="171.68" width="1.25" height="1.25" fill="#86c777"/>
<rect x="572.11" y="155.24" width="1.25" height="1.25" fill="#3d9e2b"/>
<rect x="575.80" y="166.05" width="1.25" height="1.25" fill="#3d9e2b"/>
<rect x="564.64" y="160.21" width="1.25" height="1.25" fill="#86c777"/>
<rect x="580.81" y="161.51" width="1.25" height="1.25" fill="#3d9e2b"/>
<rect x="576.19" y="167.19" width="1.25" height="1.25" fill="#86c777"/>
<rect x="552.71" y="164.87" width="1.25" height="1.25" fill="#3d9e2b"/>
<rect x="579.21" y="159.92" width="1.25" height="1.25" fill="#3d9e2b"/>
<rect x="575.87" y="138.28" width="1.25" height="1.25" fill="#3d9e2b"/>
<rect x="562.39" y="158.18" width="1.25" height="1.25" fill="#3d9e2b"/>
<rect x="579.45" y="183.68" width="1.25" height="1.25" fill="#3d9e2b"/>
<rect x="569.84" y="162.43" width="1.25" height="1.25" fill="#3d9e2b"/>
<rect x="567.66" y="166.11" width="1.25" height="1.25" fill="#86c777"/>
<rect x="569.04" y="158.49" width="1.25" height="1.25" fill="#3d9e2b"/>
<rect x="572.50" y="164.10" width="1.25" height="1.25" fill="#86c777"/>
<rect x="572.16" y="162.27" width="1.25" height="1.25" fill="#86c777"/>
<rect x="579.27" y="183.68" width="1.25" height="1.25" fill="#3d9e2b"/>
<rect x="561.46" y="162.54" width="1.25" height="1.25" fill="#3d9e2b"/>
<rect x="567.73" y="171.55" width="1.25" height="1.25" fill="#86c777"/>
<rect x="570.16" y="176.11" width="1.25" height="1.25" fill="#3d9e2b"/>
<rect x="568.49" y="167.15" width="1.25" height="1.25" fill="#86c777"/>
<rect x="561.27" y="150.85" width="1.25" height="1.25" fill="#3d9e2b"/>
<rect x="574.49" y="171.71" width="1.25" height="1.25" fill="#3d9e2b"/>
<rect x="547.72" y="156.85" width="1.25" height="1.25" fill="#3d9e2b"/>
<rect x="575.46" y="163.63" width="1.25" height="1.25" fill="#3d9e2b"/>
<rect x="583.62" y="183.68" width="1.25" height="1.25" fill="#3d9e2b"/>
<rect x="566.84" y="171.60" width="1.25" height="1.25" fill="#3d9e2b"/>
<rect x="596.45" y="158.65" width="1.25" height="1.25" fill="#86c777"/>
<rect x="555.66" y="158.90" width="1.25" height="1.25" fill="#86c777"/>
<rect x="572.65" y="169.22" width="1.25" height="1.25" fill="#3d9e2b"/>
<rect x="571.68" y="167.95" width="1.25" height="1.25" fill="#3d9e2b"/>
<rect x="548.12" y="177.86" width="1.25" height="1.25" fill="#3d9e2b"/>
<rect x="566.25" y="179.78" width="1.25" height="1.25" fill="#3d9e2b"/>
<rect x="564.61" y="165.34" width="1.25" height="1.25" fill="#86c777"/>
<rect x="567.41" y="158.74" width="1.25" height="1.25" fill="#3d9e2b"/>
<rect x="558.80" y="165.51" width="1.25" height="1.25" fill="#3d9e2b"/>
<rect x="591.70" y="166.40" width="1.25" height="1.25" fill="#3d9e2b"/>
<rect x="564.45" y="156.28" width="1.25" height="1.25" fill="#3d9e2b"/>
<rect x="566.28" y="161.97" width="1.25" height="1.25" fill="#3d9e2b"/>
<rect x="562.06" y="157.76" width="1.25" height="1.25" fill="#3d9e2b"/>
<rect x="568.60" y="170.91" width="1.25" height="1.25" fill="#3d9e2b"/>
<rect x="566.46" y="170.34" width="1.25" height="1.25" fill="#3d9e2b"/>
<rect x="560.25" y="172.19" width="1.25" height="1.25" fill="#3d9e2b"/>
<rect x="580.88" y="173.72" width="1.25" height="1.25" fill="#86c777"/>
<rect x="559.91" y="161.40" width="1.25" height="1.25" fill="#3d9e2b"/>
<rect x="566.41" y="159.74" width="1.25" height="1.25" fill="#3d9e2b"/>
<rect x="572.23" y="160.33" width="1.25" height="1.25" fill="#3d9e2b"/>
<rect x="555.80" y="156.18" width="1.25" height="1.25" fill="#86c777"/>
<rect x="562.94" y="161.03" width="1.25" height="1.25" fill="#3d9e2b"/>
<rect x="559.67" y="161.40" width="1.25" height="1.25" fill="#86c777"/>
<rect x="560.21" y="157.88" width="1.25" height="1.25" fill="#3d9e2b"/>
<rect x="574.38" y="177.74" width="1.25" height="1.25" fill="#3d9e2b"/>
<rect x="565.57" y="177.80" width="1.25" height="1.25" fill="#3d9e2b"/>
<rect x="577.11" y="168.61" width="1.25" height="1.25" fill="#3d9e2b"/>
<rect x="575.03" y="183.68" width="1.25" height="1.25" fill="#3d9e2b"/>
<rect x="556.12" y="164.92" width="1.25" height="1.25" fill="#3d9e2b"/>
<rect x="579.98" y="162.47" width="1.25" height="1.25" fill="#3d9e2b"/>
<rect x="560.09" y="165.57" width="1.25" height="1.25" fill="#3d9e2b"/>
<rect x="571.06" y="162.07" width="1.25" height="1.25" fill="#3d9e2b"/>
<rect x="562.26" y="139.57" width="1.25" height="1.25" fill="#3d9e2b"/>
<rect x="585.45" y="162.45" width="1.25" height="1.25" fill="#3d9e2b"/>
<rect x="561.13" y="165.86" width="1.25" height="1.25" fill="#3d9e2b"/>
<rect x="563.24" y="160.93" width="1.25" height="1.25" fill="#3d9e2b"/>
<rect x="566.36" y="171.40" width="1.25" height="1.25" fill="#3d9e2b"/>
<rect x="567.04" y="150.57" width="1.25" height="1.25" fill="#86c777"/>
<rect x="573.28" y="175.36" width="1.25" height="1.25" fill="#3d9e2b"/>
<rect x="563.08" y="165.83" width="1.25" height="1.25" fill="#3d9e2b"/>
<rect x="579.57" y="175.43" width="1.25" height="1.25" fill="#3d9e2b"/>
<rect x="565.30" y="175.19" width="1.25" height="1.25" fill="#3d9e2b"/>
<rect x="565.71" y="158.50" width="1.25" height="1.25" fill="#3d9e2b"/>
<rect x="576.07" y="165.25" width="1.25" height="1.25" fill="#3d9e2b"/>
<rect x="562.22" y="163.36" width="1.25" height="1.25" fill="#3d9e2b"/>
<rect x="579.11" y="166.65" width="1.25" height="1.25" fill="#3d9e2b"/>
<rect x="577.40" y="147.15" width="1.25" height="1.25" fill="#3d9e2b"/>
<rect x="585.96" y="163.23" width="1.25" height="1.25" fill="#3d9e2b"/>
<rect x="569.56" y="183.68" width="1.25" height="1.25" fill="#3d9e2b"/>
<rect x="567.82" y="164.52" width="1.25" height="1.25" fill="#3d9e2b"/>
<rect x="575.95" y="177.14" width="1.25" height="1.25" fill="#3d9e2b"/>
<rect x="568.46" y="159.63" width="1.25" height="1.25" fill="#3d9e2b"/>
<rect x="566.53" y="169.37" width="1.25" height="1.25" fill="#3d9e2b"/>
<rect x="563.50" y="155.25" width="1.25" height="1.25" fill="#3d9e2b"/>
<rect x="567.31" y="179.33" width="1.25" height="1.25" fill="#3d9e2b"/>
<rect x="572.31" y="161.99" width="1.25" height="1.25" fill="#3d9e2b"/>
<rect x="572.70" y="165.73" width="1.25" height="1.25" fill="#86c777"/>
<rect x="560.00" y="165.74" width="1.25" height="1.25" fill="#3d9e2b"/>
<rect x="572.08" y="152.43" width="1.25" height="1.25" fill="#3d9e2b"/>
<rect x="556.33" y="145.24" width="1.25" height="1.25" fill="#3d9e2b"/>
<rect x="572.04" y="168.78" width="1.25" height="1.25" fill="#86c777"/>
<rect x="575.27" y="169.69" width="1.25" height="1.25" fill="#3d9e2b"/>
<rect x="574.61" y="161.93" width="1.25" height="1.25" fill="#3d9e2b"/>
<rect x="559.60" y="150.03" width="1.25" height="1.25" fill="#3d9e2b"/>
<rect x="559.53" y="171.41" width="1.25" height="1.25" fill="#3d9e2b"/>
<rect x="567.27" y="154.63" width="1.25" height="1.25" fill="#86c777"/>
<rect x="571.46" y="164.95" width="1.25" height="1.25" fill="#3d9e2b"/>
<rect x="562.72" y="174.45" width="1.25" height="1.25" fill="#86c777"/>
<rect x="564.35" y="165.42" width="1.25" height="1.25" fill="#3d9e2b"/>
<rect x="554.02" y="161.34" width="1.25" height="1.25" fill="#86c777"/>
<rect x="575.64" y="161.61" width="1.25" height="1.25" fill="#86c777"/>
<rect x="568.19" y="175.70" width="1.25" height="1.25" fill="#3d9e2b"/>
<rect x="565.33" y="152.50" width="1.25" height="1.25" fill="#86c777"/>
<rect x="567.09" y="178.69" width="1.25" height="1.25" fill="#3d9e2b"/>
<rect x="564.93" y="169.17" width="1.25" height="1.25" fill="#3d9e2b"/>
<rect x="566.87" y="160.63" width="1.25" height="1.25" fill="#86c777"/>
<rect x="568.92" y="158.05" width="1.25" height="1.25" fill="#3d9e2b"/>
<rect x="577.42" y="174.89" width="1.25" height="1.25" fill="#3d9e2b"/>
<rect x="579.94" y="165.24" width="1.25" height="1.25" fill="#3d9e2b"/>
<rect x="576.27" y="181.60" width="1.25" height="1.25" fill="#3d9e2b"/>
<rect x="562.50" y="158.41" width="1.25" height="1.25" fill="#3d9e2b"/>
<rect x="576.52" y="175.01" width="1.25" height="1.25" fill="#3d9e2b"/>
<rect x="574.22" y="150.55" width="1.25" height="1.25" fill="#3d9e2b"/>
<rect x="577.33" y="182.64" width="1.25" height="1.25" fill="#3d9e2b"/>
<rect x="564.65" y="161.36" width="1.25" height="1.25" fill="#86c777"/>
<rect x="577.13" y="164.37" width="1.25" height="1.25" fill="#3d9e2b"/>
<rect x="564.15" y="145.98" width="1.25" height="1.25" fill="#3d9e2b"/>
<rect x="577.80" y="149.66" width="1.25" height="1.25" fill="#3d9e2b"/>
<rect x="562.07" y="171.57" width="1.25" height="1.25" fill="#3d9e2b"/>
<rect x="564.64" y="156.46" width="1.25" height="1.25" fill="#3d9e2b"/>
<rect x="566.97" y="167.24" width="1.25" height="1.25" fill="#3d9e2b"/>
<rect x="567.68" y="151.92" width="1.25" height="1.25" fill="#3d9e2b"/>
<rect x="568.93" y="164.49" width="1.25" height="1.25" fill="#3d9e2b"/>
<rect x="554.98" y="173.17" width="1.25" height="1.25" fill="#86c777"/>
<rect x="567.92" y="166.52" width="1.25" height="1.25" fill="#3d9e2b"/>
<rect x="562.70" y="183.68" width="1.25" height="1.25" fill="#3d9e2b"/>
<rect x="566.12" y="171.57" width="1.25" height="1.25" fill="#86c777"/>
<rect x="577.22" y="181.90" width="1.25" height="1.25" fill="#3d9e2b"/>
<rect x="578.10" y="164.10" width="1.25" height="1.25" fill="#86c777"/>
<rect x="574.77" y="166.09" width="1.25" height="1.25" fill="#3d9e2b"/>
<rect x="587.02" y="161.61" width="1.25" height="1.25" fill="#3d9e2b"/>
<rect x="567.38" y="170.01" width="1.25" height="1.25" fill="#86c777"/>
<rect x="567.14" y="174.65" width="1.25" height="1.25" fill="#3d9e2b"/>
<rect x="570.20" y="159.63" width="1.25" height="1.25" fill="#86c777"/>
<rect x="583.47" y="162.66" width="1.25" height="1.25" fill="#3d9e2b"/>
<rect x="566.83" y="159.12" width="1.25" height="1.25" fill="#3d9e2b"/>
<rect x="578.29" y="159.15" width="1.25" height="1.25" fill="#3d9e2b"/>
<rect x="573.09" y="182.49" width="1.25" height="1.25" fill="#3d9e2b"/>
<rect x="568.94" y="154.45" width="1.25" height="1.25" fill="#3d9e2b"/>
<rect x="562.08" y="165.70" width="1.25" height="1.25" fill="#86c777"/>
<rect x="564.86" y="161.52" width="1.25" height="1.25" fill="#86c777"/>
<rect x="567.04" y="179.19" width="1.25" height="1.25" fill="#3d9e2b"/>
<rect x="558.61" y="148.12" width="1.25" height="1.25" fill="#3d9e2b"/>
<rect x="573.28" y="139.86" width="1.25" height="1.25" fill="#3d9e2b"/>
<rect x="573.98" y="164.35" width="1.25" height="1.25" fill="#3d9e2b"/>
<rect x="581.48" y="162.81" width="1.25" height="1.25" fill="#3d9e2b"/>
<rect x="578.02" y="162.38" width="1.25" height="1.25" fill="#3d9e2b"/>
<rect x="564.82" y="144.87" width="1.25" height="1.25" fill="#86c777"/>
<rect x="575.84" y="167.28" width="1.25" height="1.25" fill="#3d9e2b"/>
<rect x="553.48" y="162.68" width="1.25" height="1.25" fill="#86c777"/>
<rect x="585.53" y="160.91" width="1.25" height="1.25" fill="#3d9e2b"/>
<rect x="579.16" y="163.87" width="1.25" height="1.25" fill="#86c777"/>
<rect x="574.51" y="168.18" width="1.25" height="1.25" fill="#3d9e2b"/>
<rect x="580.22" y="166.19" width="1.25" height="1.25" fill="#3d9e2b"/>
<line x1="546.70" y1="160.80" x2="600.70" y2="175.00" stroke="#161616" stroke-width="1.08"/>
<rect x="546.70" y="131.60" width="54.00" height="53.90" fill="none" stroke="#4a4a4a" stroke-width="1.0"/>
<line x1="556.60" y1="185.50" x2="556.60" y2="187.80" stroke="#444" stroke-width="0.6"/>
<text x="556.60" y="191.90" font-size="4.4" fill="#222" text-anchor="middle" stroke="#222" stroke-width="0.18" >7</text>
<line x1="568.90" y1="185.50" x2="568.90" y2="187.80" stroke="#444" stroke-width="0.6"/>
<text x="568.90" y="191.90" font-size="4.4" fill="#222" text-anchor="middle" stroke="#222" stroke-width="0.18" >8</text>
<line x1="581.20" y1="185.50" x2="581.20" y2="187.80" stroke="#444" stroke-width="0.6"/>
<text x="581.20" y="191.90" font-size="4.4" fill="#222" text-anchor="middle" stroke="#222" stroke-width="0.18" >9</text>
<line x1="593.50" y1="185.50" x2="593.50" y2="187.80" stroke="#444" stroke-width="0.6"/>
<text x="593.50" y="191.90" font-size="4.4" fill="#222" text-anchor="middle" stroke="#222" stroke-width="0.18" >10</text>
<line x1="544.40" y1="183.00" x2="546.70" y2="183.00" stroke="#555" stroke-width="0.6"/>
<text x="542.98" y="183.00" font-size="4.4" fill="#222" text-anchor="middle" stroke="#222" stroke-width="0.18" transform="rotate(-90 542.98 183.00)" >0</text>
<line x1="544.40" y1="173.80" x2="546.70" y2="173.80" stroke="#555" stroke-width="0.6"/>
<text x="542.98" y="173.80" font-size="4.4" fill="#222" text-anchor="middle" stroke="#222" stroke-width="0.18" transform="rotate(-90 542.98 173.80)" >2</text>
<line x1="544.40" y1="164.60" x2="546.70" y2="164.60" stroke="#555" stroke-width="0.6"/>
<text x="542.98" y="164.60" font-size="4.4" fill="#222" text-anchor="middle" stroke="#222" stroke-width="0.18" transform="rotate(-90 542.98 164.60)" >4</text>
<line x1="544.40" y1="155.40" x2="546.70" y2="155.40" stroke="#555" stroke-width="0.6"/>
<text x="542.98" y="155.40" font-size="4.4" fill="#222" text-anchor="middle" stroke="#222" stroke-width="0.18" transform="rotate(-90 542.98 155.40)" >6</text>
<line x1="544.40" y1="146.20" x2="546.70" y2="146.20" stroke="#555" stroke-width="0.6"/>
<text x="542.98" y="146.20" font-size="4.4" fill="#222" text-anchor="middle" stroke="#222" stroke-width="0.18" transform="rotate(-90 542.98 146.20)" >8</text>
<line x1="544.40" y1="137.00" x2="546.70" y2="137.00" stroke="#555" stroke-width="0.6"/>
<text x="542.98" y="137.00" font-size="4.4" fill="#222" text-anchor="middle" stroke="#222" stroke-width="0.18" transform="rotate(-90 542.98 137.00)" >10</text>
<text x="572.90" y="196.70" font-size="4.8" fill="#222" text-anchor="middle" stroke="#222" stroke-width="0.18" >SOX11</text>
<text x="536.15" y="156.55" font-size="4.6" fill="#111" text-anchor="middle" stroke="#111" stroke-width="0.18" transform="rotate(-90 536.15 156.55)" >hsa-miR-186-5p</text>
<text x="547.90" y="130.60" font-size="4.5" fill="#2a2a2a" text-anchor="start" stroke="#2a2a2a" stroke-width="0.06" textLength="17.10" lengthAdjust="spacingAndGlyphs" >corr=-0.18</text>
<text x="581.40" y="130.60" font-size="4.5" fill="#2a2a2a" text-anchor="start" stroke="#2a2a2a" stroke-width="0.06" textLength="21.00" lengthAdjust="spacingAndGlyphs" >p=0.002808</text>
<polygon points="626.80,149.60 639.70,153.40 648.30,156.40 668.80,153.90 668.80,172.20 648.30,176.50 639.70,173.30 626.80,171.10" fill="#fdeeee" stroke="#f4a6a6" stroke-width="0.6"/>
<rect x="652.86" y="157.55" width="1.25" height="1.25" fill="#f4898b"/>
<rect x="658.27" y="169.76" width="1.25" height="1.25" fill="#f4898b"/>
<rect x="647.64" y="168.45" width="1.25" height="1.25" fill="#f4898b"/>
<rect x="656.88" y="156.97" width="1.25" height="1.25" fill="#f8b4b4"/>
<rect x="636.79" y="171.40" width="1.25" height="1.25" fill="#f4898b"/>
<rect x="637.93" y="156.24" width="1.25" height="1.25" fill="#f4898b"/>
<rect x="628.92" y="157.58" width="1.25" height="1.25" fill="#f4898b"/>
<rect x="627.99" y="162.28" width="1.25" height="1.25" fill="#f4898b"/>
<rect x="643.20" y="167.19" width="1.25" height="1.25" fill="#f4898b"/>
<rect x="632.75" y="163.75" width="1.25" height="1.25" fill="#f8b4b4"/>
<rect x="657.11" y="161.08" width="1.25" height="1.25" fill="#f4898b"/>
<rect x="649.15" y="171.77" width="1.25" height="1.25" fill="#f4898b"/>
<rect x="640.74" y="171.35" width="1.25" height="1.25" fill="#f4898b"/>
<rect x="658.65" y="171.38" width="1.25" height="1.25" fill="#f4898b"/>
<rect x="664.31" y="165.53" width="1.25" height="1.25" fill="#f4898b"/>
<rect x="646.06" y="166.47" width="1.25" height="1.25" fill="#f8b4b4"/>
<rect x="662.82" y="156.26" width="1.25" height="1.25" fill="#f8b4b4"/>
<rect x="654.18" y="172.15" width="1.25" height="1.25" fill="#f8b4b4"/>
<rect x="630.43" y="150.47" width="1.25" height="1.25" fill="#f4898b"/>
<rect x="645.23" y="171.20" width="1.25" height="1.25" fill="#f8b4b4"/>
<rect x="640.71" y="172.12" width="1.25" height="1.25" fill="#f4898b"/>
<rect x="657.44" y="159.70" width="1.25" height="1.25" fill="#f4898b"/>
<rect x="642.24" y="166.87" width="1.25" height="1.25" fill="#f8b4b4"/>
<rect x="630.55" y="160.69" width="1.25" height="1.25" fill="#f8b4b4"/>
<rect x="638.58" y="154.19" width="1.25" height="1.25" fill="#f4898b"/>
<rect x="657.38" y="173.52" width="1.25" height="1.25" fill="#f4898b"/>
<rect x="657.76" y="158.94" width="1.25" height="1.25" fill="#f8b4b4"/>
<rect x="638.59" y="162.75" width="1.25" height="1.25" fill="#f8b4b4"/>
<rect x="655.13" y="166.69" width="1.25" height="1.25" fill="#f4898b"/>
<rect x="655.67" y="153.12" width="1.25" height="1.25" fill="#f4898b"/>
<rect x="632.18" y="158.93" width="1.25" height="1.25" fill="#f8b4b4"/>
<rect x="646.84" y="173.08" width="1.25" height="1.25" fill="#f8b4b4"/>
<rect x="644.20" y="174.13" width="1.25" height="1.25" fill="#f4898b"/>
<rect x="658.18" y="165.14" width="1.25" height="1.25" fill="#f4898b"/>
<rect x="667.65" y="168.31" width="1.25" height="1.25" fill="#f8b4b4"/>
<rect x="627.19" y="170.90" width="1.25" height="1.25" fill="#f4898b"/>
<rect x="660.49" y="174.23" width="1.25" height="1.25" fill="#f4898b"/>
<rect x="633.43" y="156.64" width="1.25" height="1.25" fill="#f4898b"/>
<rect x="654.04" y="158.52" width="1.25" height="1.25" fill="#f4898b"/>
<rect x="631.33" y="159.33" width="1.25" height="1.25" fill="#f4898b"/>
<rect x="629.87" y="155.45" width="1.25" height="1.25" fill="#f4898b"/>
<rect x="666.15" y="155.89" width="1.25" height="1.25" fill="#f8b4b4"/>
<rect x="638.08" y="154.27" width="1.25" height="1.25" fill="#f4898b"/>
<rect x="628.58" y="183.28" width="1.25" height="1.25" fill="#f8b4b4"/>
<rect x="650.16" y="165.44" width="1.25" height="1.25" fill="#f4898b"/>
<rect x="646.08" y="169.31" width="1.25" height="1.25" fill="#f4898b"/>
<rect x="647.38" y="167.92" width="1.25" height="1.25" fill="#f8b4b4"/>
<rect x="653.52" y="175.24" width="1.25" height="1.25" fill="#f4898b"/>
<rect x="658.79" y="163.40" width="1.25" height="1.25" fill="#f8b4b4"/>
<rect x="628.54" y="155.79" width="1.25" height="1.25" fill="#f4898b"/>
<rect x="659.45" y="157.22" width="1.25" height="1.25" fill="#f4898b"/>
<rect x="668.12" y="164.33" width="1.25" height="1.25" fill="#f8b4b4"/>
<rect x="653.68" y="163.16" width="1.25" height="1.25" fill="#f4898b"/>
<rect x="658.59" y="171.58" width="1.25" height="1.25" fill="#f4898b"/>
<rect x="646.78" y="167.77" width="1.25" height="1.25" fill="#f8b4b4"/>
<rect x="656.91" y="167.74" width="1.25" height="1.25" fill="#f4898b"/>
<rect x="644.84" y="164.00" width="1.25" height="1.25" fill="#f4898b"/>
<rect x="660.03" y="157.77" width="1.25" height="1.25" fill="#f8b4b4"/>
<rect x="650.14" y="170.98" width="1.25" height="1.25" fill="#f4898b"/>
<rect x="659.67" y="164.43" width="1.25" height="1.25" fill="#f8b4b4"/>
<rect x="639.85" y="170.93" width="1.25" height="1.25" fill="#f4898b"/>
<rect x="665.55" y="164.42" width="1.25" height="1.25" fill="#f4898b"/>
<rect x="632.46" y="164.63" width="1.25" height="1.25" fill="#f4898b"/>
<rect x="646.48" y="172.71" width="1.25" height="1.25" fill="#f4898b"/>
<rect x="661.43" y="162.45" width="1.25" height="1.25" fill="#f8b4b4"/>
<rect x="635.18" y="170.46" width="1.25" height="1.25" fill="#f4898b"/>
<rect x="637.42" y="161.89" width="1.25" height="1.25" fill="#f4898b"/>
<rect x="629.26" y="158.62" width="1.25" height="1.25" fill="#f4898b"/>
<rect x="645.43" y="175.31" width="1.25" height="1.25" fill="#f4898b"/>
<rect x="627.11" y="169.13" width="1.25" height="1.25" fill="#f8b4b4"/>
<rect x="628.21" y="157.23" width="1.25" height="1.25" fill="#f8b4b4"/>
<rect x="661.00" y="165.96" width="1.25" height="1.25" fill="#f4898b"/>
<rect x="627.98" y="161.65" width="1.25" height="1.25" fill="#f8b4b4"/>
<rect x="659.66" y="166.81" width="1.25" height="1.25" fill="#f8b4b4"/>
<rect x="662.17" y="162.67" width="1.25" height="1.25" fill="#f4898b"/>
<rect x="646.54" y="172.20" width="1.25" height="1.25" fill="#f4898b"/>
<rect x="649.71" y="155.98" width="1.25" height="1.25" fill="#f4898b"/>
<rect x="649.32" y="172.14" width="1.25" height="1.25" fill="#f4898b"/>
<rect x="628.96" y="161.18" width="1.25" height="1.25" fill="#f4898b"/>
<rect x="650.85" y="162.35" width="1.25" height="1.25" fill="#f4898b"/>
<rect x="662.54" y="159.37" width="1.25" height="1.25" fill="#f8b4b4"/>
<rect x="660.20" y="160.53" width="1.25" height="1.25" fill="#f4898b"/>
<rect x="654.33" y="172.58" width="1.25" height="1.25" fill="#f4898b"/>
<rect x="660.03" y="160.28" width="1.25" height="1.25" fill="#f4898b"/>
<rect x="644.34" y="160.88" width="1.25" height="1.25" fill="#f4898b"/>
<rect x="639.62" y="157.53" width="1.25" height="1.25" fill="#f4898b"/>
<rect x="649.34" y="158.01" width="1.25" height="1.25" fill="#f4898b"/>
<rect x="632.89" y="168.19" width="1.25" height="1.25" fill="#f8b4b4"/>
<rect x="639.54" y="172.59" width="1.25" height="1.25" fill="#f4898b"/>
<rect x="664.87" y="166.95" width="1.25" height="1.25" fill="#f4898b"/>
<rect x="653.08" y="162.07" width="1.25" height="1.25" fill="#f4898b"/>
<rect x="641.03" y="156.84" width="1.25" height="1.25" fill="#f4898b"/>
<rect x="653.67" y="162.51" width="1.25" height="1.25" fill="#f4898b"/>
<rect x="647.56" y="166.02" width="1.25" height="1.25" fill="#f4898b"/>
<rect x="667.02" y="170.15" width="1.25" height="1.25" fill="#f8b4b4"/>
<rect x="649.98" y="163.98" width="1.25" height="1.25" fill="#f4898b"/>
<rect x="644.12" y="155.63" width="1.25" height="1.25" fill="#f4898b"/>
<rect x="664.54" y="165.20" width="1.25" height="1.25" fill="#f4898b"/>
<rect x="648.10" y="170.80" width="1.25" height="1.25" fill="#f4898b"/>
<rect x="628.22" y="158.43" width="1.25" height="1.25" fill="#f8b4b4"/>
<rect x="636.32" y="172.89" width="1.25" height="1.25" fill="#f4898b"/>
<rect x="645.71" y="168.01" width="1.25" height="1.25" fill="#f4898b"/>
<rect x="627.45" y="170.37" width="1.25" height="1.25" fill="#f4898b"/>
<rect x="631.24" y="155.67" width="1.25" height="1.25" fill="#f4898b"/>
<rect x="658.65" y="170.82" width="1.25" height="1.25" fill="#f4898b"/>
<rect x="641.15" y="159.45" width="1.25" height="1.25" fill="#f8b4b4"/>
<rect x="664.55" y="167.65" width="1.25" height="1.25" fill="#f4898b"/>
<rect x="661.69" y="162.95" width="1.25" height="1.25" fill="#f8b4b4"/>
<rect x="645.41" y="183.28" width="1.25" height="1.25" fill="#f8b4b4"/>
<rect x="644.41" y="167.59" width="1.25" height="1.25" fill="#f4898b"/>
<rect x="638.04" y="164.93" width="1.25" height="1.25" fill="#f8b4b4"/>
<rect x="637.33" y="159.29" width="1.25" height="1.25" fill="#f4898b"/>
<rect x="637.47" y="162.99" width="1.25" height="1.25" fill="#f8b4b4"/>
<rect x="636.87" y="159.52" width="1.25" height="1.25" fill="#f4898b"/>
<rect x="642.12" y="161.05" width="1.25" height="1.25" fill="#f4898b"/>
<rect x="666.27" y="183.28" width="1.25" height="1.25" fill="#f4898b"/>
<rect x="646.26" y="165.71" width="1.25" height="1.25" fill="#f4898b"/>
<rect x="655.51" y="170.28" width="1.25" height="1.25" fill="#f4898b"/>
<rect x="634.51" y="153.20" width="1.25" height="1.25" fill="#f8b4b4"/>
<rect x="638.87" y="167.11" width="1.25" height="1.25" fill="#f4898b"/>
<line x1="620.40" y1="164.20" x2="673.40" y2="169.40" stroke="#161616" stroke-width="1.08"/>
<rect x="620.40" y="131.70" width="53.00" height="53.40" fill="none" stroke="#4a4a4a" stroke-width="1.0"/>
<line x1="622.40" y1="185.10" x2="622.40" y2="187.40" stroke="#444" stroke-width="0.6"/>
<text x="622.40" y="191.50" font-size="4.4" fill="#222" text-anchor="middle" stroke="#222" stroke-width="0.18" >7.0</text>
<line x1="638.10" y1="185.10" x2="638.10" y2="187.40" stroke="#444" stroke-width="0.6"/>
<text x="638.10" y="191.50" font-size="4.4" fill="#222" text-anchor="middle" stroke="#222" stroke-width="0.18" >8.0</text>
<line x1="653.80" y1="185.10" x2="653.80" y2="187.40" stroke="#444" stroke-width="0.6"/>
<text x="653.80" y="191.50" font-size="4.4" fill="#222" text-anchor="middle" stroke="#222" stroke-width="0.18" >9.0</text>
<line x1="669.50" y1="185.10" x2="669.50" y2="187.40" stroke="#444" stroke-width="0.6"/>
<text x="669.50" y="191.50" font-size="4.4" fill="#222" text-anchor="middle" stroke="#222" stroke-width="0.18" >10.0</text>
<line x1="618.10" y1="181.90" x2="620.40" y2="181.90" stroke="#555" stroke-width="0.6"/>
<text x="616.68" y="181.90" font-size="4.4" fill="#222" text-anchor="middle" stroke="#222" stroke-width="0.18" transform="rotate(-90 616.68 181.90)" >0</text>
<line x1="618.10" y1="173.80" x2="620.40" y2="173.80" stroke="#555" stroke-width="0.6"/>
<text x="616.68" y="173.80" font-size="4.4" fill="#222" text-anchor="middle" stroke="#222" stroke-width="0.18" transform="rotate(-90 616.68 173.80)" >2</text>
<line x1="618.10" y1="165.70" x2="620.40" y2="165.70" stroke="#555" stroke-width="0.6"/>
<text x="616.68" y="165.70" font-size="4.4" fill="#222" text-anchor="middle" stroke="#222" stroke-width="0.18" transform="rotate(-90 616.68 165.70)" >4</text>
<line x1="618.10" y1="157.60" x2="620.40" y2="157.60" stroke="#555" stroke-width="0.6"/>
<text x="616.68" y="157.60" font-size="4.4" fill="#222" text-anchor="middle" stroke="#222" stroke-width="0.18" transform="rotate(-90 616.68 157.60)" >6</text>
<line x1="618.10" y1="149.50" x2="620.40" y2="149.50" stroke="#555" stroke-width="0.6"/>
<text x="616.68" y="149.50" font-size="4.4" fill="#222" text-anchor="middle" stroke="#222" stroke-width="0.18" transform="rotate(-90 616.68 149.50)" >8</text>
<line x1="618.10" y1="141.40" x2="620.40" y2="141.40" stroke="#555" stroke-width="0.6"/>
<text x="616.68" y="141.40" font-size="4.4" fill="#222" text-anchor="middle" stroke="#222" stroke-width="0.18" transform="rotate(-90 616.68 141.40)" >10</text>
<line x1="618.10" y1="133.30" x2="620.40" y2="133.30" stroke="#555" stroke-width="0.6"/>
<text x="616.68" y="133.30" font-size="4.4" fill="#222" text-anchor="middle" stroke="#222" stroke-width="0.18" transform="rotate(-90 616.68 133.30)" >12</text>
<text x="646.10" y="196.30" font-size="4.8" fill="#222" text-anchor="middle" stroke="#222" stroke-width="0.18" >SOX11</text>
<text x="609.75" y="156.40" font-size="4.6" fill="#111" text-anchor="middle" stroke="#111" stroke-width="0.18" transform="rotate(-90 609.75 156.40)" >hsa-miR-186-5p</text>
<text x="621.10" y="130.70" font-size="4.5" fill="#2a2a2a" text-anchor="start" stroke="#2a2a2a" stroke-width="0.06" textLength="17.40" lengthAdjust="spacingAndGlyphs" >corr=-0.10</text>
<text x="663.30" y="130.70" font-size="4.5" fill="#2a2a2a" text-anchor="start" stroke="#2a2a2a" stroke-width="0.06" textLength="16.10" lengthAdjust="spacingAndGlyphs" >p=0.1348</text>
<path d="M667.20,135.50L671.60,139.90M667.20,139.90L671.60,135.50" stroke="#e3211c" stroke-width="1.3" fill="none"/>
<polygon points="34.50,225.80 43.30,225.80 48.50,227.90 52.70,221.60 57.90,215.40 63.10,213.90 72.50,214.30 72.50,235.20 62.00,240.40 52.70,246.70 43.30,251.90 34.50,247.70" fill="#dee6f4" stroke="#8ea6d3" stroke-width="0.6"/>
<rect x="63.18" y="218.86" width="1.25" height="1.25" fill="#3b78c3"/>
<rect x="40.98" y="247.28" width="1.25" height="1.25" fill="#3b78c3"/>
<rect x="38.18" y="222.71" width="1.25" height="1.25" fill="#3b78c3"/>
<rect x="59.42" y="224.54" width="1.25" height="1.25" fill="#3b78c3"/>
<rect x="63.91" y="244.04" width="1.25" height="1.25" fill="#3b78c3"/>
<rect x="52.87" y="232.97" width="1.25" height="1.25" fill="#3b78c3"/>
<rect x="68.70" y="222.65" width="1.25" height="1.25" fill="#86a9da"/>
<rect x="63.21" y="233.43" width="1.25" height="1.25" fill="#3b78c3"/>
<rect x="55.16" y="259.98" width="1.25" height="1.25" fill="#3b78c3"/>
<rect x="52.40" y="245.29" width="1.25" height="1.25" fill="#3b78c3"/>
<rect x="64.39" y="259.98" width="1.25" height="1.25" fill="#3b78c3"/>
<rect x="70.27" y="218.96" width="1.25" height="1.25" fill="#3b78c3"/>
<rect x="36.73" y="230.97" width="1.25" height="1.25" fill="#3b78c3"/>
<rect x="50.74" y="230.06" width="1.25" height="1.25" fill="#3b78c3"/>
<rect x="42.93" y="254.44" width="1.25" height="1.25" fill="#3b78c3"/>
<rect x="58.78" y="221.10" width="1.25" height="1.25" fill="#3b78c3"/>
<rect x="52.99" y="210.77" width="1.25" height="1.25" fill="#86a9da"/>
<rect x="70.29" y="228.57" width="1.25" height="1.25" fill="#86a9da"/>
<rect x="38.37" y="237.61" width="1.25" height="1.25" fill="#3b78c3"/>
<rect x="62.59" y="229.23" width="1.25" height="1.25" fill="#3b78c3"/>
<rect x="34.81" y="236.94" width="1.25" height="1.25" fill="#3b78c3"/>
<rect x="62.25" y="222.63" width="1.25" height="1.25" fill="#86a9da"/>
<rect x="53.06" y="225.44" width="1.25" height="1.25" fill="#3b78c3"/>
<rect x="57.52" y="240.66" width="1.25" height="1.25" fill="#3b78c3"/>
<rect x="59.79" y="228.30" width="1.25" height="1.25" fill="#3b78c3"/>
<rect x="70.75" y="220.51" width="1.25" height="1.25" fill="#3b78c3"/>
<rect x="58.68" y="212.60" width="1.25" height="1.25" fill="#3b78c3"/>
<rect x="51.78" y="251.01" width="1.25" height="1.25" fill="#3b78c3"/>
<rect x="35.67" y="249.96" width="1.25" height="1.25" fill="#3b78c3"/>
<rect x="48.94" y="251.78" width="1.25" height="1.25" fill="#3b78c3"/>
<rect x="50.35" y="227.75" width="1.25" height="1.25" fill="#86a9da"/>
<rect x="64.15" y="224.29" width="1.25" height="1.25" fill="#3b78c3"/>
<rect x="45.58" y="225.95" width="1.25" height="1.25" fill="#3b78c3"/>
<rect x="55.27" y="232.93" width="1.25" height="1.25" fill="#3b78c3"/>
<rect x="63.09" y="238.06" width="1.25" height="1.25" fill="#3b78c3"/>
<rect x="60.30" y="214.33" width="1.25" height="1.25" fill="#3b78c3"/>
<rect x="47.37" y="240.38" width="1.25" height="1.25" fill="#3b78c3"/>
<rect x="64.99" y="243.59" width="1.25" height="1.25" fill="#3b78c3"/>
<rect x="52.08" y="233.36" width="1.25" height="1.25" fill="#86a9da"/>
<rect x="36.36" y="232.33" width="1.25" height="1.25" fill="#3b78c3"/>
<rect x="63.10" y="244.82" width="1.25" height="1.25" fill="#3b78c3"/>
<rect x="56.80" y="235.06" width="1.25" height="1.25" fill="#3b78c3"/>
<rect x="57.89" y="218.61" width="1.25" height="1.25" fill="#3b78c3"/>
<rect x="47.23" y="238.71" width="1.25" height="1.25" fill="#3b78c3"/>
<rect x="42.81" y="241.74" width="1.25" height="1.25" fill="#3b78c3"/>
<rect x="57.67" y="231.43" width="1.25" height="1.25" fill="#3b78c3"/>
<rect x="70.86" y="226.97" width="1.25" height="1.25" fill="#3b78c3"/>
<rect x="46.87" y="252.01" width="1.25" height="1.25" fill="#86a9da"/>
<rect x="40.10" y="245.65" width="1.25" height="1.25" fill="#3b78c3"/>
<rect x="48.55" y="245.86" width="1.25" height="1.25" fill="#3b78c3"/>
<rect x="68.91" y="213.27" width="1.25" height="1.25" fill="#3b78c3"/>
<rect x="55.77" y="230.25" width="1.25" height="1.25" fill="#3b78c3"/>
<rect x="54.62" y="223.00" width="1.25" height="1.25" fill="#3b78c3"/>
<rect x="65.86" y="239.35" width="1.25" height="1.25" fill="#3b78c3"/>
<rect x="43.83" y="249.55" width="1.25" height="1.25" fill="#3b78c3"/>
<rect x="63.75" y="232.45" width="1.25" height="1.25" fill="#86a9da"/>
<rect x="38.41" y="223.78" width="1.25" height="1.25" fill="#86a9da"/>
<rect x="57.91" y="259.98" width="1.25" height="1.25" fill="#3b78c3"/>
<rect x="64.59" y="228.70" width="1.25" height="1.25" fill="#3b78c3"/>
<rect x="44.73" y="245.92" width="1.25" height="1.25" fill="#3b78c3"/>
<rect x="31.63" y="252.50" width="1.25" height="1.25" fill="#3b78c3"/>
<rect x="36.03" y="238.01" width="1.25" height="1.25" fill="#86a9da"/>
<rect x="52.84" y="225.71" width="1.25" height="1.25" fill="#3b78c3"/>
<rect x="39.59" y="243.35" width="1.25" height="1.25" fill="#3b78c3"/>
<rect x="41.31" y="259.98" width="1.25" height="1.25" fill="#3b78c3"/>
<rect x="48.59" y="249.38" width="1.25" height="1.25" fill="#3b78c3"/>
<rect x="63.60" y="209.48" width="1.25" height="1.25" fill="#3b78c3"/>
<rect x="64.80" y="231.73" width="1.25" height="1.25" fill="#3b78c3"/>
<rect x="58.98" y="220.63" width="1.25" height="1.25" fill="#3b78c3"/>
<rect x="21.38" y="236.59" width="1.25" height="1.25" fill="#3b78c3"/>
<rect x="43.58" y="252.11" width="1.25" height="1.25" fill="#86a9da"/>
<rect x="41.62" y="244.56" width="1.25" height="1.25" fill="#3b78c3"/>
<rect x="45.66" y="244.12" width="1.25" height="1.25" fill="#3b78c3"/>
<rect x="45.67" y="236.36" width="1.25" height="1.25" fill="#86a9da"/>
<rect x="41.13" y="221.04" width="1.25" height="1.25" fill="#86a9da"/>
<rect x="33.95" y="218.26" width="1.25" height="1.25" fill="#3b78c3"/>
<rect x="38.88" y="234.18" width="1.25" height="1.25" fill="#3b78c3"/>
<rect x="43.41" y="242.56" width="1.25" height="1.25" fill="#3b78c3"/>
<rect x="45.54" y="252.25" width="1.25" height="1.25" fill="#3b78c3"/>
<rect x="70.34" y="212.86" width="1.25" height="1.25" fill="#3b78c3"/>
<rect x="37.41" y="242.50" width="1.25" height="1.25" fill="#3b78c3"/>
<rect x="41.48" y="249.07" width="1.25" height="1.25" fill="#3b78c3"/>
<rect x="48.96" y="241.29" width="1.25" height="1.25" fill="#3b78c3"/>
<rect x="46.31" y="243.56" width="1.25" height="1.25" fill="#3b78c3"/>
<rect x="34.09" y="240.99" width="1.25" height="1.25" fill="#3b78c3"/>
<rect x="49.01" y="230.57" width="1.25" height="1.25" fill="#3b78c3"/>
<rect x="56.48" y="247.40" width="1.25" height="1.25" fill="#3b78c3"/>
<rect x="42.77" y="251.36" width="1.25" height="1.25" fill="#3b78c3"/>
<rect x="65.23" y="221.60" width="1.25" height="1.25" fill="#3b78c3"/>
<rect x="67.87" y="239.09" width="1.25" height="1.25" fill="#86a9da"/>
<line x1="20.00" y1="251.30" x2="74.50" y2="225.50" stroke="#161616" stroke-width="1.08"/>
<rect x="20.00" y="208.90" width="54.50" height="52.90" fill="none" stroke="#4a4a4a" stroke-width="1.0"/>
<line x1="26.50" y1="261.80" x2="26.50" y2="264.10" stroke="#444" stroke-width="0.6"/>
<text x="26.50" y="268.20" font-size="4.4" fill="#222" text-anchor="middle" stroke="#222" stroke-width="0.18" >7</text>
<line x1="34.40" y1="261.80" x2="34.40" y2="264.10" stroke="#444" stroke-width="0.6"/>
<text x="34.40" y="268.20" font-size="4.4" fill="#222" text-anchor="middle" stroke="#222" stroke-width="0.18" >8</text>
<line x1="42.30" y1="261.80" x2="42.30" y2="264.10" stroke="#444" stroke-width="0.6"/>
<text x="42.30" y="268.20" font-size="4.4" fill="#222" text-anchor="middle" stroke="#222" stroke-width="0.18" >9</text>
<line x1="50.20" y1="261.80" x2="50.20" y2="264.10" stroke="#444" stroke-width="0.6"/>
<text x="50.20" y="268.20" font-size="4.4" fill="#222" text-anchor="middle" stroke="#222" stroke-width="0.18" >10</text>
<line x1="58.10" y1="261.80" x2="58.10" y2="264.10" stroke="#444" stroke-width="0.6"/>
<text x="58.10" y="268.20" font-size="4.4" fill="#222" text-anchor="middle" stroke="#222" stroke-width="0.18" >11</text>
<line x1="66.00" y1="261.80" x2="66.00" y2="264.10" stroke="#444" stroke-width="0.6"/>
<text x="66.00" y="268.20" font-size="4.4" fill="#222" text-anchor="middle" stroke="#222" stroke-width="0.18" >12</text>
<line x1="73.90" y1="261.80" x2="73.90" y2="264.10" stroke="#444" stroke-width="0.6"/>
<text x="73.90" y="268.20" font-size="4.4" fill="#222" text-anchor="middle" stroke="#222" stroke-width="0.18" >13</text>
<line x1="17.70" y1="256.60" x2="20.00" y2="256.60" stroke="#555" stroke-width="0.6"/>
<text x="16.58" y="256.60" font-size="4.4" fill="#222" text-anchor="middle" stroke="#222" stroke-width="0.18" transform="rotate(-90 16.58 256.60)" >2</text>
<line x1="17.70" y1="249.00" x2="20.00" y2="249.00" stroke="#555" stroke-width="0.6"/>
<text x="16.58" y="249.00" font-size="4.4" fill="#222" text-anchor="middle" stroke="#222" stroke-width="0.18" transform="rotate(-90 16.58 249.00)" >4</text>
<line x1="17.70" y1="241.40" x2="20.00" y2="241.40" stroke="#555" stroke-width="0.6"/>
<text x="16.58" y="241.40" font-size="4.4" fill="#222" text-anchor="middle" stroke="#222" stroke-width="0.18" transform="rotate(-90 16.58 241.40)" >6</text>
<line x1="17.70" y1="233.80" x2="20.00" y2="233.80" stroke="#555" stroke-width="0.6"/>
<text x="16.58" y="233.80" font-size="4.4" fill="#222" text-anchor="middle" stroke="#222" stroke-width="0.18" transform="rotate(-90 16.58 233.80)" >8</text>
<line x1="17.70" y1="226.20" x2="20.00" y2="226.20" stroke="#555" stroke-width="0.6"/>
<text x="16.58" y="226.20" font-size="4.4" fill="#222" text-anchor="middle" stroke="#222" stroke-width="0.18" transform="rotate(-90 16.58 226.20)" >10</text>
<line x1="17.70" y1="218.60" x2="20.00" y2="218.60" stroke="#555" stroke-width="0.6"/>
<text x="16.58" y="218.60" font-size="4.4" fill="#222" text-anchor="middle" stroke="#222" stroke-width="0.18" transform="rotate(-90 16.58 218.60)" >12</text>
<line x1="17.70" y1="211.00" x2="20.00" y2="211.00" stroke="#555" stroke-width="0.6"/>
<text x="16.58" y="211.00" font-size="4.4" fill="#222" text-anchor="middle" stroke="#222" stroke-width="0.18" transform="rotate(-90 16.58 211.00)" >14</text>
<text x="46.45" y="273.90" font-size="4.8" fill="#222" text-anchor="middle" stroke="#222" stroke-width="0.18" >GLI3</text>
<text x="9.75" y="233.15" font-size="4.6" fill="#111" text-anchor="middle" stroke="#111" stroke-width="0.18" transform="rotate(-90 9.75 233.15)" >SOX11</text>
<text x="21.00" y="207.90" font-size="4.5" fill="#2a2a2a" text-anchor="start" stroke="#2a2a2a" stroke-width="0.06" textLength="16.50" lengthAdjust="spacingAndGlyphs" >corr=0.34</text>
<text x="53.20" y="207.90" font-size="4.5" fill="#2a2a2a" text-anchor="start" stroke="#2a2a2a" stroke-width="0.06" textLength="21.70" lengthAdjust="spacingAndGlyphs" >p=0.001145</text>
<polygon points="94.80,233.00 109.90,228.70 121.70,223.30 142.20,220.50 142.20,241.60 122.80,247.00 109.90,250.30 94.80,252.40" fill="#e3f1dc" stroke="#99cc88" stroke-width="0.6"/>
<rect x="102.06" y="250.17" width="1.25" height="1.25" fill="#86c777"/>
<rect x="120.11" y="225.45" width="1.25" height="1.25" fill="#3d9e2b"/>
<rect x="125.12" y="214.25" width="1.25" height="1.25" fill="#3d9e2b"/>
<rect x="123.35" y="233.35" width="1.25" height="1.25" fill="#3d9e2b"/>
<rect x="110.83" y="244.39" width="1.25" height="1.25" fill="#3d9e2b"/>
<rect x="124.66" y="216.49" width="1.25" height="1.25" fill="#3d9e2b"/>
<rect x="117.85" y="231.88" width="1.25" height="1.25" fill="#3d9e2b"/>
<rect x="127.07" y="231.52" width="1.25" height="1.25" fill="#86c777"/>
<rect x="123.76" y="244.53" width="1.25" height="1.25" fill="#3d9e2b"/>
<rect x="128.51" y="240.75" width="1.25" height="1.25" fill="#3d9e2b"/>
<rect x="117.68" y="240.23" width="1.25" height="1.25" fill="#3d9e2b"/>
<rect x="107.44" y="256.01" width="1.25" height="1.25" fill="#3d9e2b"/>
<rect x="108.38" y="232.46" width="1.25" height="1.25" fill="#3d9e2b"/>
<rect x="122.00" y="209.08" width="1.25" height="1.25" fill="#3d9e2b"/>
<rect x="119.18" y="231.92" width="1.25" height="1.25" fill="#3d9e2b"/>
<rect x="125.91" y="209.08" width="1.25" height="1.25" fill="#86c777"/>
<rect x="130.73" y="231.62" width="1.25" height="1.25" fill="#3d9e2b"/>
<rect x="128.93" y="229.72" width="1.25" height="1.25" fill="#86c777"/>
<rect x="123.91" y="219.11" width="1.25" height="1.25" fill="#3d9e2b"/>
<rect x="115.05" y="238.64" width="1.25" height="1.25" fill="#3d9e2b"/>
<rect x="106.02" y="236.41" width="1.25" height="1.25" fill="#3d9e2b"/>
<rect x="115.58" y="227.82" width="1.25" height="1.25" fill="#3d9e2b"/>
<rect x="129.27" y="256.44" width="1.25" height="1.25" fill="#3d9e2b"/>
<rect x="123.19" y="230.45" width="1.25" height="1.25" fill="#3d9e2b"/>
<rect x="117.75" y="240.68" width="1.25" height="1.25" fill="#86c777"/>
<rect x="101.81" y="241.72" width="1.25" height="1.25" fill="#3d9e2b"/>
<rect x="113.50" y="236.25" width="1.25" height="1.25" fill="#3d9e2b"/>
<rect x="113.07" y="236.39" width="1.25" height="1.25" fill="#3d9e2b"/>
<rect x="112.65" y="236.95" width="1.25" height="1.25" fill="#86c777"/>
<rect x="100.15" y="241.79" width="1.25" height="1.25" fill="#3d9e2b"/>
<rect x="119.15" y="233.44" width="1.25" height="1.25" fill="#3d9e2b"/>
<rect x="114.89" y="237.07" width="1.25" height="1.25" fill="#3d9e2b"/>
<rect x="107.85" y="244.01" width="1.25" height="1.25" fill="#3d9e2b"/>
<rect x="112.37" y="228.55" width="1.25" height="1.25" fill="#3d9e2b"/>
<rect x="115.73" y="230.28" width="1.25" height="1.25" fill="#3d9e2b"/>
<rect x="120.77" y="234.00" width="1.25" height="1.25" fill="#86c777"/>
<rect x="132.10" y="235.51" width="1.25" height="1.25" fill="#3d9e2b"/>
<rect x="103.62" y="250.24" width="1.25" height="1.25" fill="#3d9e2b"/>
<rect x="109.48" y="257.19" width="1.25" height="1.25" fill="#3d9e2b"/>
<rect x="121.68" y="215.56" width="1.25" height="1.25" fill="#86c777"/>
<rect x="117.17" y="230.41" width="1.25" height="1.25" fill="#3d9e2b"/>
<rect x="108.96" y="233.82" width="1.25" height="1.25" fill="#3d9e2b"/>
<rect x="121.60" y="224.24" width="1.25" height="1.25" fill="#86c777"/>
<rect x="134.82" y="238.74" width="1.25" height="1.25" fill="#3d9e2b"/>
<rect x="117.05" y="250.66" width="1.25" height="1.25" fill="#86c777"/>
<rect x="104.31" y="242.92" width="1.25" height="1.25" fill="#86c777"/>
<rect x="106.05" y="240.83" width="1.25" height="1.25" fill="#3d9e2b"/>
<rect x="114.44" y="237.69" width="1.25" height="1.25" fill="#86c777"/>
<rect x="105.04" y="240.43" width="1.25" height="1.25" fill="#3d9e2b"/>
<rect x="115.24" y="235.21" width="1.25" height="1.25" fill="#3d9e2b"/>
<rect x="95.54" y="250.95" width="1.25" height="1.25" fill="#3d9e2b"/>
<rect x="128.06" y="244.88" width="1.25" height="1.25" fill="#3d9e2b"/>
<rect x="118.53" y="220.62" width="1.25" height="1.25" fill="#3d9e2b"/>
<rect x="136.29" y="216.99" width="1.25" height="1.25" fill="#3d9e2b"/>
<rect x="117.94" y="226.44" width="1.25" height="1.25" fill="#3d9e2b"/>
<rect x="112.02" y="234.03" width="1.25" height="1.25" fill="#3d9e2b"/>
<rect x="126.46" y="218.78" width="1.25" height="1.25" fill="#3d9e2b"/>
<rect x="113.31" y="237.63" width="1.25" height="1.25" fill="#3d9e2b"/>
<rect x="127.16" y="229.70" width="1.25" height="1.25" fill="#3d9e2b"/>
<rect x="131.52" y="209.08" width="1.25" height="1.25" fill="#3d9e2b"/>
<rect x="127.59" y="235.77" width="1.25" height="1.25" fill="#3d9e2b"/>
<rect x="120.66" y="219.49" width="1.25" height="1.25" fill="#3d9e2b"/>
<rect x="119.36" y="231.54" width="1.25" height="1.25" fill="#3d9e2b"/>
<rect x="117.53" y="214.95" width="1.25" height="1.25" fill="#86c777"/>
<rect x="120.66" y="224.07" width="1.25" height="1.25" fill="#3d9e2b"/>
<rect x="122.25" y="226.68" width="1.25" height="1.25" fill="#3d9e2b"/>
<rect x="136.18" y="223.29" width="1.25" height="1.25" fill="#3d9e2b"/>
<rect x="115.14" y="225.15" width="1.25" height="1.25" fill="#3d9e2b"/>
<rect x="113.90" y="233.11" width="1.25" height="1.25" fill="#3d9e2b"/>
<rect x="112.01" y="240.69" width="1.25" height="1.25" fill="#3d9e2b"/>
<rect x="110.33" y="230.03" width="1.25" height="1.25" fill="#86c777"/>
<rect x="115.92" y="245.32" width="1.25" height="1.25" fill="#3d9e2b"/>
<rect x="114.12" y="240.40" width="1.25" height="1.25" fill="#3d9e2b"/>
<rect x="104.73" y="250.12" width="1.25" height="1.25" fill="#3d9e2b"/>
<rect x="117.21" y="214.45" width="1.25" height="1.25" fill="#3d9e2b"/>
<rect x="111.88" y="231.96" width="1.25" height="1.25" fill="#3d9e2b"/>
<rect x="100.35" y="245.44" width="1.25" height="1.25" fill="#3d9e2b"/>
<rect x="105.11" y="248.11" width="1.25" height="1.25" fill="#3d9e2b"/>
<rect x="107.35" y="223.84" width="1.25" height="1.25" fill="#3d9e2b"/>
<rect x="133.10" y="231.31" width="1.25" height="1.25" fill="#3d9e2b"/>
<rect x="116.41" y="251.75" width="1.25" height="1.25" fill="#3d9e2b"/>
<rect x="109.62" y="240.21" width="1.25" height="1.25" fill="#86c777"/>
<rect x="122.36" y="251.76" width="1.25" height="1.25" fill="#3d9e2b"/>
<rect x="114.73" y="227.07" width="1.25" height="1.25" fill="#86c777"/>
<rect x="133.42" y="228.78" width="1.25" height="1.25" fill="#86c777"/>
<rect x="119.85" y="239.51" width="1.25" height="1.25" fill="#3d9e2b"/>
<rect x="114.51" y="232.00" width="1.25" height="1.25" fill="#3d9e2b"/>
<rect x="104.50" y="245.34" width="1.25" height="1.25" fill="#3d9e2b"/>
<rect x="108.36" y="215.55" width="1.25" height="1.25" fill="#3d9e2b"/>
<rect x="107.49" y="233.04" width="1.25" height="1.25" fill="#3d9e2b"/>
<rect x="127.34" y="227.75" width="1.25" height="1.25" fill="#3d9e2b"/>
<rect x="122.61" y="231.08" width="1.25" height="1.25" fill="#3d9e2b"/>
<rect x="127.18" y="231.06" width="1.25" height="1.25" fill="#3d9e2b"/>
<rect x="114.45" y="233.11" width="1.25" height="1.25" fill="#3d9e2b"/>
<rect x="125.41" y="258.27" width="1.25" height="1.25" fill="#3d9e2b"/>
<rect x="115.17" y="232.78" width="1.25" height="1.25" fill="#3d9e2b"/>
<rect x="113.52" y="232.06" width="1.25" height="1.25" fill="#3d9e2b"/>
<rect x="110.82" y="245.48" width="1.25" height="1.25" fill="#86c777"/>
<rect x="114.34" y="234.29" width="1.25" height="1.25" fill="#3d9e2b"/>
<rect x="115.48" y="235.51" width="1.25" height="1.25" fill="#3d9e2b"/>
<rect x="118.60" y="232.45" width="1.25" height="1.25" fill="#86c777"/>
<rect x="130.76" y="227.86" width="1.25" height="1.25" fill="#3d9e2b"/>
<rect x="115.20" y="230.25" width="1.25" height="1.25" fill="#3d9e2b"/>
<rect x="120.39" y="234.99" width="1.25" height="1.25" fill="#3d9e2b"/>
<rect x="114.10" y="233.07" width="1.25" height="1.25" fill="#3d9e2b"/>
<rect x="125.54" y="245.22" width="1.25" height="1.25" fill="#86c777"/>
<rect x="121.43" y="223.94" width="1.25" height="1.25" fill="#3d9e2b"/>
<rect x="112.40" y="241.31" width="1.25" height="1.25" fill="#3d9e2b"/>
<rect x="120.73" y="239.56" width="1.25" height="1.25" fill="#3d9e2b"/>
<rect x="108.58" y="252.63" width="1.25" height="1.25" fill="#86c777"/>
<rect x="119.29" y="226.74" width="1.25" height="1.25" fill="#3d9e2b"/>
<rect x="120.08" y="239.99" width="1.25" height="1.25" fill="#3d9e2b"/>
<rect x="111.60" y="245.45" width="1.25" height="1.25" fill="#3d9e2b"/>
<rect x="123.85" y="224.91" width="1.25" height="1.25" fill="#3d9e2b"/>
<rect x="121.32" y="232.78" width="1.25" height="1.25" fill="#3d9e2b"/>
<rect x="116.98" y="239.44" width="1.25" height="1.25" fill="#3d9e2b"/>
<rect x="118.97" y="230.12" width="1.25" height="1.25" fill="#3d9e2b"/>
<rect x="131.64" y="229.08" width="1.25" height="1.25" fill="#86c777"/>
<rect x="126.87" y="239.85" width="1.25" height="1.25" fill="#86c777"/>
<rect x="112.56" y="213.08" width="1.25" height="1.25" fill="#3d9e2b"/>
<rect x="93.00" y="238.16" width="1.25" height="1.25" fill="#86c777"/>
<rect x="127.35" y="240.89" width="1.25" height="1.25" fill="#3d9e2b"/>
<rect x="132.55" y="209.08" width="1.25" height="1.25" fill="#3d9e2b"/>
<rect x="119.69" y="254.81" width="1.25" height="1.25" fill="#86c777"/>
<rect x="112.18" y="236.88" width="1.25" height="1.25" fill="#3d9e2b"/>
<rect x="127.14" y="235.28" width="1.25" height="1.25" fill="#86c777"/>
<rect x="108.96" y="230.69" width="1.25" height="1.25" fill="#86c777"/>
<rect x="117.96" y="220.11" width="1.25" height="1.25" fill="#3d9e2b"/>
<rect x="99.88" y="249.87" width="1.25" height="1.25" fill="#3d9e2b"/>
<rect x="94.73" y="245.37" width="1.25" height="1.25" fill="#86c777"/>
<rect x="134.74" y="233.65" width="1.25" height="1.25" fill="#3d9e2b"/>
<rect x="137.86" y="227.03" width="1.25" height="1.25" fill="#86c777"/>
<rect x="120.01" y="251.60" width="1.25" height="1.25" fill="#3d9e2b"/>
<rect x="116.27" y="240.23" width="1.25" height="1.25" fill="#3d9e2b"/>
<rect x="112.66" y="243.53" width="1.25" height="1.25" fill="#3d9e2b"/>
<rect x="108.78" y="233.89" width="1.25" height="1.25" fill="#3d9e2b"/>
<rect x="120.90" y="234.41" width="1.25" height="1.25" fill="#3d9e2b"/>
<rect x="117.99" y="246.66" width="1.25" height="1.25" fill="#3d9e2b"/>
<rect x="118.66" y="223.13" width="1.25" height="1.25" fill="#86c777"/>
<rect x="119.76" y="240.55" width="1.25" height="1.25" fill="#3d9e2b"/>
<rect x="110.99" y="232.43" width="1.25" height="1.25" fill="#3d9e2b"/>
<rect x="127.00" y="218.28" width="1.25" height="1.25" fill="#86c777"/>
<rect x="119.73" y="235.25" width="1.25" height="1.25" fill="#86c777"/>
<rect x="123.65" y="224.13" width="1.25" height="1.25" fill="#3d9e2b"/>
<rect x="141.11" y="209.08" width="1.25" height="1.25" fill="#3d9e2b"/>
<rect x="129.53" y="238.03" width="1.25" height="1.25" fill="#86c777"/>
<rect x="114.61" y="248.96" width="1.25" height="1.25" fill="#3d9e2b"/>
<rect x="111.58" y="234.50" width="1.25" height="1.25" fill="#86c777"/>
<rect x="139.78" y="247.70" width="1.25" height="1.25" fill="#3d9e2b"/>
<rect x="120.89" y="234.30" width="1.25" height="1.25" fill="#3d9e2b"/>
<rect x="107.01" y="259.68" width="1.25" height="1.25" fill="#3d9e2b"/>
<rect x="98.73" y="213.74" width="1.25" height="1.25" fill="#3d9e2b"/>
<rect x="120.50" y="228.18" width="1.25" height="1.25" fill="#3d9e2b"/>
<rect x="117.76" y="221.25" width="1.25" height="1.25" fill="#3d9e2b"/>
<rect x="91.62" y="240.88" width="1.25" height="1.25" fill="#3d9e2b"/>
<rect x="113.99" y="228.26" width="1.25" height="1.25" fill="#3d9e2b"/>
<rect x="130.14" y="236.38" width="1.25" height="1.25" fill="#3d9e2b"/>
<rect x="110.15" y="246.31" width="1.25" height="1.25" fill="#3d9e2b"/>
<rect x="106.77" y="235.58" width="1.25" height="1.25" fill="#3d9e2b"/>
<rect x="122.29" y="210.69" width="1.25" height="1.25" fill="#86c777"/>
<rect x="114.22" y="214.02" width="1.25" height="1.25" fill="#3d9e2b"/>
<rect x="97.48" y="229.47" width="1.25" height="1.25" fill="#86c777"/>
<rect x="125.07" y="235.94" width="1.25" height="1.25" fill="#3d9e2b"/>
<rect x="113.53" y="224.19" width="1.25" height="1.25" fill="#3d9e2b"/>
<rect x="110.28" y="232.69" width="1.25" height="1.25" fill="#86c777"/>
<rect x="127.92" y="225.14" width="1.25" height="1.25" fill="#3d9e2b"/>
<rect x="110.46" y="238.98" width="1.25" height="1.25" fill="#3d9e2b"/>
<rect x="114.31" y="238.04" width="1.25" height="1.25" fill="#3d9e2b"/>
<rect x="105.13" y="233.19" width="1.25" height="1.25" fill="#3d9e2b"/>
<rect x="92.78" y="234.05" width="1.25" height="1.25" fill="#3d9e2b"/>
<rect x="116.12" y="240.19" width="1.25" height="1.25" fill="#3d9e2b"/>
<rect x="116.60" y="230.86" width="1.25" height="1.25" fill="#3d9e2b"/>
<rect x="107.63" y="221.15" width="1.25" height="1.25" fill="#3d9e2b"/>
<rect x="119.28" y="240.21" width="1.25" height="1.25" fill="#3d9e2b"/>
<rect x="121.78" y="258.30" width="1.25" height="1.25" fill="#3d9e2b"/>
<rect x="113.59" y="244.24" width="1.25" height="1.25" fill="#3d9e2b"/>
<rect x="112.79" y="242.17" width="1.25" height="1.25" fill="#3d9e2b"/>
<rect x="110.10" y="235.34" width="1.25" height="1.25" fill="#86c777"/>
<rect x="99.08" y="234.39" width="1.25" height="1.25" fill="#86c777"/>
<rect x="128.11" y="240.77" width="1.25" height="1.25" fill="#3d9e2b"/>
<rect x="118.00" y="228.04" width="1.25" height="1.25" fill="#3d9e2b"/>
<rect x="118.85" y="229.42" width="1.25" height="1.25" fill="#3d9e2b"/>
<rect x="125.14" y="222.34" width="1.25" height="1.25" fill="#3d9e2b"/>
<rect x="108.78" y="245.95" width="1.25" height="1.25" fill="#3d9e2b"/>
<rect x="105.09" y="246.96" width="1.25" height="1.25" fill="#3d9e2b"/>
<rect x="118.31" y="242.43" width="1.25" height="1.25" fill="#3d9e2b"/>
<rect x="100.49" y="252.93" width="1.25" height="1.25" fill="#3d9e2b"/>
<rect x="108.29" y="232.55" width="1.25" height="1.25" fill="#3d9e2b"/>
<rect x="124.40" y="218.60" width="1.25" height="1.25" fill="#3d9e2b"/>
<rect x="107.82" y="231.28" width="1.25" height="1.25" fill="#3d9e2b"/>
<rect x="114.56" y="215.83" width="1.25" height="1.25" fill="#3d9e2b"/>
<rect x="113.21" y="245.09" width="1.25" height="1.25" fill="#86c777"/>
<rect x="132.66" y="234.55" width="1.25" height="1.25" fill="#3d9e2b"/>
<rect x="117.41" y="231.14" width="1.25" height="1.25" fill="#86c777"/>
<rect x="121.59" y="223.78" width="1.25" height="1.25" fill="#3d9e2b"/>
<rect x="111.60" y="237.65" width="1.25" height="1.25" fill="#3d9e2b"/>
<rect x="119.49" y="235.32" width="1.25" height="1.25" fill="#3d9e2b"/>
<rect x="110.07" y="215.23" width="1.25" height="1.25" fill="#3d9e2b"/>
<rect x="110.61" y="235.44" width="1.25" height="1.25" fill="#3d9e2b"/>
<rect x="114.34" y="228.41" width="1.25" height="1.25" fill="#3d9e2b"/>
<line x1="90.30" y1="244.90" x2="144.10" y2="226.60" stroke="#161616" stroke-width="1.08"/>
<rect x="90.30" y="208.50" width="53.80" height="53.00" fill="none" stroke="#4a4a4a" stroke-width="1.0"/>
<line x1="103.20" y1="261.50" x2="103.20" y2="263.80" stroke="#444" stroke-width="0.6"/>
<text x="103.20" y="267.90" font-size="4.4" fill="#222" text-anchor="middle" stroke="#222" stroke-width="0.18" >8</text>
<line x1="116.60" y1="261.50" x2="116.60" y2="263.80" stroke="#444" stroke-width="0.6"/>
<text x="116.60" y="267.90" font-size="4.4" fill="#222" text-anchor="middle" stroke="#222" stroke-width="0.18" >10</text>
<line x1="130.00" y1="261.50" x2="130.00" y2="263.80" stroke="#444" stroke-width="0.6"/>
<text x="130.00" y="267.90" font-size="4.4" fill="#222" text-anchor="middle" stroke="#222" stroke-width="0.18" >12</text>
<line x1="143.40" y1="261.50" x2="143.40" y2="263.80" stroke="#444" stroke-width="0.6"/>
<text x="143.40" y="267.90" font-size="4.4" fill="#222" text-anchor="middle" stroke="#222" stroke-width="0.18" >14</text>
<line x1="88.00" y1="260.00" x2="90.30" y2="260.00" stroke="#555" stroke-width="0.6"/>
<text x="87.38" y="260.00" font-size="4.4" fill="#222" text-anchor="middle" stroke="#222" stroke-width="0.18" transform="rotate(-90 87.38 260.00)" >0</text>
<line x1="88.00" y1="252.80" x2="90.30" y2="252.80" stroke="#555" stroke-width="0.6"/>
<text x="87.38" y="252.80" font-size="4.4" fill="#222" text-anchor="middle" stroke="#222" stroke-width="0.18" transform="rotate(-90 87.38 252.80)" >2</text>
<line x1="88.00" y1="245.60" x2="90.30" y2="245.60" stroke="#555" stroke-width="0.6"/>
<text x="87.38" y="245.60" font-size="4.4" fill="#222" text-anchor="middle" stroke="#222" stroke-width="0.18" transform="rotate(-90 87.38 245.60)" >4</text>
<line x1="88.00" y1="238.40" x2="90.30" y2="238.40" stroke="#555" stroke-width="0.6"/>
<text x="87.38" y="238.40" font-size="4.4" fill="#222" text-anchor="middle" stroke="#222" stroke-width="0.18" transform="rotate(-90 87.38 238.40)" >6</text>
<line x1="88.00" y1="231.20" x2="90.30" y2="231.20" stroke="#555" stroke-width="0.6"/>
<text x="87.38" y="231.20" font-size="4.4" fill="#222" text-anchor="middle" stroke="#222" stroke-width="0.18" transform="rotate(-90 87.38 231.20)" >8</text>
<line x1="88.00" y1="224.00" x2="90.30" y2="224.00" stroke="#555" stroke-width="0.6"/>
<text x="87.38" y="224.00" font-size="4.4" fill="#222" text-anchor="middle" stroke="#222" stroke-width="0.18" transform="rotate(-90 87.38 224.00)" >10</text>
<line x1="88.00" y1="216.80" x2="90.30" y2="216.80" stroke="#555" stroke-width="0.6"/>
<text x="87.38" y="216.80" font-size="4.4" fill="#222" text-anchor="middle" stroke="#222" stroke-width="0.18" transform="rotate(-90 87.38 216.80)" >12</text>
<line x1="88.00" y1="209.60" x2="90.30" y2="209.60" stroke="#555" stroke-width="0.6"/>
<text x="87.38" y="209.60" font-size="4.4" fill="#222" text-anchor="middle" stroke="#222" stroke-width="0.18" transform="rotate(-90 87.38 209.60)" >14</text>
<text x="116.40" y="273.60" font-size="4.8" fill="#222" text-anchor="middle" stroke="#222" stroke-width="0.18" >GLI3</text>
<text x="83.30" y="232.80" font-size="4.6" fill="#111" text-anchor="middle" stroke="#111" stroke-width="0.18" transform="rotate(-90 83.30 232.80)" >SOX11</text>
<text x="90.90" y="207.50" font-size="4.5" fill="#2a2a2a" text-anchor="start" stroke="#2a2a2a" stroke-width="0.06" textLength="17.10" lengthAdjust="spacingAndGlyphs" >corr=0.29</text>
<text x="125.10" y="207.50" font-size="4.5" fill="#2a2a2a" text-anchor="start" stroke="#2a2a2a" stroke-width="0.06" textLength="21.70" lengthAdjust="spacingAndGlyphs" >p=0.0000889</text>
<polygon points="170.80,237.30 180.90,236.30 186.30,226.60 193.90,217.90 204.60,210.40 204.60,238.40 197.10,240.60 190.60,247.00 180.90,251.30 170.80,253.50" fill="#fdeeee" stroke="#f4a6a6" stroke-width="0.6"/>
<rect x="185.80" y="229.93" width="1.25" height="1.25" fill="#f4898b"/>
<rect x="182.50" y="236.37" width="1.25" height="1.25" fill="#f4898b"/>
<rect x="185.34" y="237.08" width="1.25" height="1.25" fill="#f4898b"/>
<rect x="175.36" y="241.33" width="1.25" height="1.25" fill="#f4898b"/>
<rect x="170.18" y="240.81" width="1.25" height="1.25" fill="#f4898b"/>
<rect x="193.32" y="227.30" width="1.25" height="1.25" fill="#f8b4b4"/>
<rect x="176.73" y="244.19" width="1.25" height="1.25" fill="#f4898b"/>
<rect x="203.57" y="209.18" width="1.25" height="1.25" fill="#f8b4b4"/>
<rect x="184.16" y="241.56" width="1.25" height="1.25" fill="#f4898b"/>
<rect x="181.28" y="235.31" width="1.25" height="1.25" fill="#f8b4b4"/>
<rect x="175.68" y="245.96" width="1.25" height="1.25" fill="#f8b4b4"/>
<rect x="192.37" y="218.16" width="1.25" height="1.25" fill="#f4898b"/>
<rect x="185.71" y="237.04" width="1.25" height="1.25" fill="#f4898b"/>
<rect x="187.04" y="243.64" width="1.25" height="1.25" fill="#f4898b"/>
<rect x="175.14" y="242.92" width="1.25" height="1.25" fill="#f4898b"/>
<rect x="195.13" y="215.12" width="1.25" height="1.25" fill="#f4898b"/>
<rect x="183.91" y="242.94" width="1.25" height="1.25" fill="#f4898b"/>
<rect x="163.09" y="252.75" width="1.25" height="1.25" fill="#f4898b"/>
<rect x="184.35" y="235.87" width="1.25" height="1.25" fill="#f4898b"/>
<rect x="187.25" y="236.19" width="1.25" height="1.25" fill="#f4898b"/>
<rect x="183.49" y="241.36" width="1.25" height="1.25" fill="#f4898b"/>
<rect x="194.94" y="230.33" width="1.25" height="1.25" fill="#f4898b"/>
<rect x="197.42" y="239.68" width="1.25" height="1.25" fill="#f8b4b4"/>
<rect x="175.28" y="238.16" width="1.25" height="1.25" fill="#f4898b"/>
<rect x="188.69" y="227.50" width="1.25" height="1.25" fill="#f4898b"/>
<rect x="196.42" y="213.65" width="1.25" height="1.25" fill="#f4898b"/>
<rect x="198.87" y="225.21" width="1.25" height="1.25" fill="#f4898b"/>
<rect x="191.22" y="237.35" width="1.25" height="1.25" fill="#f8b4b4"/>
<rect x="172.28" y="237.73" width="1.25" height="1.25" fill="#f4898b"/>
<rect x="196.27" y="224.33" width="1.25" height="1.25" fill="#f4898b"/>
<rect x="190.49" y="231.05" width="1.25" height="1.25" fill="#f4898b"/>
<rect x="176.38" y="250.19" width="1.25" height="1.25" fill="#f4898b"/>
<rect x="202.95" y="227.96" width="1.25" height="1.25" fill="#f4898b"/>
<rect x="189.35" y="243.70" width="1.25" height="1.25" fill="#f4898b"/>
<rect x="193.42" y="215.35" width="1.25" height="1.25" fill="#f4898b"/>
<rect x="180.75" y="230.26" width="1.25" height="1.25" fill="#f4898b"/>
<rect x="203.74" y="218.42" width="1.25" height="1.25" fill="#f4898b"/>
<rect x="186.32" y="241.34" width="1.25" height="1.25" fill="#f4898b"/>
<rect x="199.68" y="226.66" width="1.25" height="1.25" fill="#f4898b"/>
<rect x="186.05" y="231.54" width="1.25" height="1.25" fill="#f4898b"/>
<rect x="194.32" y="231.80" width="1.25" height="1.25" fill="#f4898b"/>
<rect x="185.18" y="229.09" width="1.25" height="1.25" fill="#f4898b"/>
<rect x="194.58" y="227.45" width="1.25" height="1.25" fill="#f4898b"/>
<rect x="195.06" y="223.63" width="1.25" height="1.25" fill="#f4898b"/>
<rect x="202.63" y="227.54" width="1.25" height="1.25" fill="#f4898b"/>
<rect x="198.31" y="216.25" width="1.25" height="1.25" fill="#f4898b"/>
<rect x="185.34" y="234.39" width="1.25" height="1.25" fill="#f8b4b4"/>
<rect x="196.33" y="230.69" width="1.25" height="1.25" fill="#f4898b"/>
<rect x="199.05" y="235.50" width="1.25" height="1.25" fill="#f4898b"/>
<rect x="199.61" y="214.36" width="1.25" height="1.25" fill="#f4898b"/>
<rect x="190.59" y="245.82" width="1.25" height="1.25" fill="#f4898b"/>
<rect x="198.74" y="228.00" width="1.25" height="1.25" fill="#f8b4b4"/>
<rect x="178.09" y="249.99" width="1.25" height="1.25" fill="#f4898b"/>
<rect x="178.69" y="244.72" width="1.25" height="1.25" fill="#f4898b"/>
<rect x="199.66" y="220.63" width="1.25" height="1.25" fill="#f4898b"/>
<rect x="187.45" y="236.58" width="1.25" height="1.25" fill="#f8b4b4"/>
<rect x="177.22" y="247.32" width="1.25" height="1.25" fill="#f4898b"/>
<rect x="182.43" y="249.00" width="1.25" height="1.25" fill="#f4898b"/>
<rect x="172.03" y="240.15" width="1.25" height="1.25" fill="#f4898b"/>
<rect x="190.90" y="235.50" width="1.25" height="1.25" fill="#f4898b"/>
<rect x="170.32" y="242.36" width="1.25" height="1.25" fill="#f4898b"/>
<rect x="175.76" y="241.37" width="1.25" height="1.25" fill="#f4898b"/>
<rect x="175.19" y="250.56" width="1.25" height="1.25" fill="#f4898b"/>
<rect x="189.26" y="256.36" width="1.25" height="1.25" fill="#f4898b"/>
<rect x="182.78" y="240.18" width="1.25" height="1.25" fill="#f4898b"/>
<rect x="193.27" y="232.67" width="1.25" height="1.25" fill="#f4898b"/>
<rect x="190.87" y="235.52" width="1.25" height="1.25" fill="#f4898b"/>
<rect x="177.40" y="237.02" width="1.25" height="1.25" fill="#f4898b"/>
<rect x="185.27" y="245.28" width="1.25" height="1.25" fill="#f4898b"/>
<rect x="202.68" y="221.34" width="1.25" height="1.25" fill="#f4898b"/>
<rect x="197.69" y="218.95" width="1.25" height="1.25" fill="#f4898b"/>
<rect x="200.59" y="214.97" width="1.25" height="1.25" fill="#f4898b"/>
<rect x="188.16" y="233.09" width="1.25" height="1.25" fill="#f4898b"/>
<rect x="182.95" y="235.15" width="1.25" height="1.25" fill="#f4898b"/>
<rect x="180.09" y="212.56" width="1.25" height="1.25" fill="#f4898b"/>
<rect x="190.31" y="236.63" width="1.25" height="1.25" fill="#f4898b"/>
<rect x="187.70" y="242.44" width="1.25" height="1.25" fill="#f8b4b4"/>
<rect x="189.95" y="224.98" width="1.25" height="1.25" fill="#f4898b"/>
<rect x="185.50" y="236.20" width="1.25" height="1.25" fill="#f4898b"/>
<rect x="180.36" y="236.79" width="1.25" height="1.25" fill="#f4898b"/>
<line x1="161.50" y1="256.70" x2="214.20" y2="216.90" stroke="#161616" stroke-width="1.08"/>
<rect x="161.50" y="208.60" width="52.70" height="52.90" fill="none" stroke="#4a4a4a" stroke-width="1.0"/>
<line x1="165.30" y1="261.50" x2="165.30" y2="263.80" stroke="#444" stroke-width="0.6"/>
<text x="165.30" y="267.90" font-size="4.4" fill="#222" text-anchor="middle" stroke="#222" stroke-width="0.18" >6</text>
<line x1="176.80" y1="261.50" x2="176.80" y2="263.80" stroke="#444" stroke-width="0.6"/>
<text x="176.80" y="267.90" font-size="4.4" fill="#222" text-anchor="middle" stroke="#222" stroke-width="0.18" >8</text>
<line x1="188.30" y1="261.50" x2="188.30" y2="263.80" stroke="#444" stroke-width="0.6"/>
<text x="188.30" y="267.90" font-size="4.4" fill="#222" text-anchor="middle" stroke="#222" stroke-width="0.18" >10</text>
<line x1="199.80" y1="261.50" x2="199.80" y2="263.80" stroke="#444" stroke-width="0.6"/>
<text x="199.80" y="267.90" font-size="4.4" fill="#222" text-anchor="middle" stroke="#222" stroke-width="0.18" >12</text>
<line x1="211.30" y1="261.50" x2="211.30" y2="263.80" stroke="#444" stroke-width="0.6"/>
<text x="211.30" y="267.90" font-size="4.4" fill="#222" text-anchor="middle" stroke="#222" stroke-width="0.18" >14</text>
<line x1="159.20" y1="258.90" x2="161.50" y2="258.90" stroke="#555" stroke-width="0.6"/>
<text x="157.68" y="258.90" font-size="4.4" fill="#222" text-anchor="middle" stroke="#222" stroke-width="0.18" transform="rotate(-90 157.68 258.90)" >0</text>
<line x1="159.20" y1="251.30" x2="161.50" y2="251.30" stroke="#555" stroke-width="0.6"/>
<text x="157.68" y="251.30" font-size="4.4" fill="#222" text-anchor="middle" stroke="#222" stroke-width="0.18" transform="rotate(-90 157.68 251.30)" >2</text>
<line x1="159.20" y1="243.70" x2="161.50" y2="243.70" stroke="#555" stroke-width="0.6"/>
<text x="157.68" y="243.70" font-size="4.4" fill="#222" text-anchor="middle" stroke="#222" stroke-width="0.18" transform="rotate(-90 157.68 243.70)" >4</text>
<line x1="159.20" y1="236.10" x2="161.50" y2="236.10" stroke="#555" stroke-width="0.6"/>
<text x="157.68" y="236.10" font-size="4.4" fill="#222" text-anchor="middle" stroke="#222" stroke-width="0.18" transform="rotate(-90 157.68 236.10)" >6</text>
<line x1="159.20" y1="228.50" x2="161.50" y2="228.50" stroke="#555" stroke-width="0.6"/>
<text x="157.68" y="228.50" font-size="4.4" fill="#222" text-anchor="middle" stroke="#222" stroke-width="0.18" transform="rotate(-90 157.68 228.50)" >8</text>
<line x1="159.20" y1="220.90" x2="161.50" y2="220.90" stroke="#555" stroke-width="0.6"/>
<text x="157.68" y="220.90" font-size="4.4" fill="#222" text-anchor="middle" stroke="#222" stroke-width="0.18" transform="rotate(-90 157.68 220.90)" >10</text>
<line x1="159.20" y1="213.30" x2="161.50" y2="213.30" stroke="#555" stroke-width="0.6"/>
<text x="157.68" y="213.30" font-size="4.4" fill="#222" text-anchor="middle" stroke="#222" stroke-width="0.18" transform="rotate(-90 157.68 213.30)" >12</text>
<text x="187.05" y="273.60" font-size="4.8" fill="#222" text-anchor="middle" stroke="#222" stroke-width="0.18" >GLI3</text>
<text x="153.45" y="232.85" font-size="4.6" fill="#111" text-anchor="middle" stroke="#111" stroke-width="0.18" transform="rotate(-90 153.45 232.85)" >SOX11</text>
<text x="163.50" y="207.60" font-size="4.5" fill="#2a2a2a" text-anchor="start" stroke="#2a2a2a" stroke-width="0.06" textLength="16.50" lengthAdjust="spacingAndGlyphs" >corr=0.49</text>
<text x="195.70" y="207.60" font-size="4.5" fill="#2a2a2a" text-anchor="start" stroke="#2a2a2a" stroke-width="0.06" textLength="25.70" lengthAdjust="spacingAndGlyphs" >p=0.000001485</text>
<polygon points="255.70,239.50 263.90,238.40 274.60,237.30 283.30,230.90 291.90,224.80 291.90,249.00 283.30,253.50 274.60,256.00 263.90,256.70 255.70,256.70" fill="#dee6f4" stroke="#8ea6d3" stroke-width="0.6"/>
<rect x="261.53" y="243.65" width="1.25" height="1.25" fill="#3b78c3"/>
<rect x="269.89" y="252.40" width="1.25" height="1.25" fill="#3b78c3"/>
<rect x="281.09" y="251.82" width="1.25" height="1.25" fill="#3b78c3"/>
<rect x="274.69" y="237.86" width="1.25" height="1.25" fill="#3b78c3"/>
<rect x="286.89" y="228.05" width="1.25" height="1.25" fill="#3b78c3"/>
<rect x="290.03" y="240.82" width="1.25" height="1.25" fill="#3b78c3"/>
<rect x="285.10" y="239.19" width="1.25" height="1.25" fill="#86a9da"/>
<rect x="267.59" y="209.38" width="1.25" height="1.25" fill="#3b78c3"/>
<rect x="269.46" y="245.64" width="1.25" height="1.25" fill="#3b78c3"/>
<rect x="262.41" y="246.40" width="1.25" height="1.25" fill="#3b78c3"/>
<rect x="276.05" y="249.64" width="1.25" height="1.25" fill="#3b78c3"/>
<rect x="284.79" y="231.98" width="1.25" height="1.25" fill="#3b78c3"/>
<rect x="283.38" y="245.82" width="1.25" height="1.25" fill="#3b78c3"/>
<rect x="263.09" y="239.77" width="1.25" height="1.25" fill="#3b78c3"/>
<rect x="274.11" y="238.32" width="1.25" height="1.25" fill="#3b78c3"/>
<rect x="273.89" y="258.42" width="1.25" height="1.25" fill="#3b78c3"/>
<rect x="271.94" y="237.23" width="1.25" height="1.25" fill="#3b78c3"/>
<rect x="268.47" y="241.64" width="1.25" height="1.25" fill="#3b78c3"/>
<rect x="285.68" y="244.81" width="1.25" height="1.25" fill="#3b78c3"/>
<rect x="282.37" y="242.47" width="1.25" height="1.25" fill="#3b78c3"/>
<rect x="281.95" y="259.11" width="1.25" height="1.25" fill="#86a9da"/>
<rect x="271.24" y="255.13" width="1.25" height="1.25" fill="#3b78c3"/>
<rect x="272.76" y="236.92" width="1.25" height="1.25" fill="#3b78c3"/>
<rect x="277.12" y="245.11" width="1.25" height="1.25" fill="#3b78c3"/>
<rect x="259.87" y="244.33" width="1.25" height="1.25" fill="#86a9da"/>
<rect x="263.20" y="236.59" width="1.25" height="1.25" fill="#3b78c3"/>
<rect x="262.79" y="251.03" width="1.25" height="1.25" fill="#3b78c3"/>
<rect x="277.47" y="239.44" width="1.25" height="1.25" fill="#3b78c3"/>
<rect x="260.53" y="249.71" width="1.25" height="1.25" fill="#3b78c3"/>
<rect x="283.56" y="240.79" width="1.25" height="1.25" fill="#3b78c3"/>
<rect x="280.99" y="244.67" width="1.25" height="1.25" fill="#3b78c3"/>
<rect x="256.12" y="254.73" width="1.25" height="1.25" fill="#3b78c3"/>
<rect x="273.23" y="248.70" width="1.25" height="1.25" fill="#3b78c3"/>
<rect x="285.31" y="238.79" width="1.25" height="1.25" fill="#86a9da"/>
<rect x="271.66" y="238.73" width="1.25" height="1.25" fill="#3b78c3"/>
<rect x="265.10" y="243.99" width="1.25" height="1.25" fill="#3b78c3"/>
<rect x="270.08" y="243.77" width="1.25" height="1.25" fill="#86a9da"/>
<rect x="268.36" y="259.65" width="1.25" height="1.25" fill="#3b78c3"/>
<rect x="256.47" y="254.39" width="1.25" height="1.25" fill="#3b78c3"/>
<rect x="262.37" y="249.49" width="1.25" height="1.25" fill="#3b78c3"/>
<rect x="267.70" y="244.22" width="1.25" height="1.25" fill="#3b78c3"/>
<rect x="290.26" y="231.78" width="1.25" height="1.25" fill="#3b78c3"/>
<rect x="274.76" y="244.58" width="1.25" height="1.25" fill="#3b78c3"/>
<rect x="276.36" y="245.55" width="1.25" height="1.25" fill="#3b78c3"/>
<rect x="271.25" y="243.82" width="1.25" height="1.25" fill="#86a9da"/>
<rect x="274.33" y="247.08" width="1.25" height="1.25" fill="#3b78c3"/>
<rect x="276.41" y="241.22" width="1.25" height="1.25" fill="#3b78c3"/>
<rect x="264.40" y="248.32" width="1.25" height="1.25" fill="#86a9da"/>
<rect x="279.65" y="240.56" width="1.25" height="1.25" fill="#86a9da"/>
<rect x="266.26" y="241.10" width="1.25" height="1.25" fill="#3b78c3"/>
<rect x="272.27" y="259.68" width="1.25" height="1.25" fill="#3b78c3"/>
<rect x="283.67" y="244.04" width="1.25" height="1.25" fill="#3b78c3"/>
<rect x="269.57" y="240.56" width="1.25" height="1.25" fill="#3b78c3"/>
<rect x="271.65" y="238.96" width="1.25" height="1.25" fill="#3b78c3"/>
<rect x="269.32" y="247.14" width="1.25" height="1.25" fill="#3b78c3"/>
<rect x="266.58" y="253.69" width="1.25" height="1.25" fill="#86a9da"/>
<rect x="278.55" y="239.24" width="1.25" height="1.25" fill="#3b78c3"/>
<rect x="277.48" y="247.61" width="1.25" height="1.25" fill="#3b78c3"/>
<rect x="253.90" y="242.84" width="1.25" height="1.25" fill="#3b78c3"/>
<rect x="280.38" y="248.64" width="1.25" height="1.25" fill="#3b78c3"/>
<rect x="256.30" y="257.56" width="1.25" height="1.25" fill="#3b78c3"/>
<rect x="266.82" y="244.27" width="1.25" height="1.25" fill="#3b78c3"/>
<rect x="267.20" y="250.62" width="1.25" height="1.25" fill="#3b78c3"/>
<rect x="284.71" y="241.45" width="1.25" height="1.25" fill="#3b78c3"/>
<rect x="263.03" y="243.55" width="1.25" height="1.25" fill="#86a9da"/>
<rect x="260.51" y="244.61" width="1.25" height="1.25" fill="#3b78c3"/>
<rect x="265.69" y="245.65" width="1.25" height="1.25" fill="#3b78c3"/>
<rect x="274.97" y="250.84" width="1.25" height="1.25" fill="#3b78c3"/>
<rect x="266.35" y="242.47" width="1.25" height="1.25" fill="#3b78c3"/>
<rect x="260.17" y="240.19" width="1.25" height="1.25" fill="#3b78c3"/>
<rect x="276.06" y="237.31" width="1.25" height="1.25" fill="#3b78c3"/>
<rect x="277.57" y="244.87" width="1.25" height="1.25" fill="#3b78c3"/>
<rect x="259.09" y="240.23" width="1.25" height="1.25" fill="#86a9da"/>
<rect x="279.13" y="250.02" width="1.25" height="1.25" fill="#3b78c3"/>
<rect x="288.11" y="243.14" width="1.25" height="1.25" fill="#86a9da"/>
<rect x="290.73" y="237.94" width="1.25" height="1.25" fill="#86a9da"/>
<rect x="257.00" y="255.30" width="1.25" height="1.25" fill="#3b78c3"/>
<rect x="257.28" y="247.99" width="1.25" height="1.25" fill="#3b78c3"/>
<rect x="281.60" y="241.77" width="1.25" height="1.25" fill="#3b78c3"/>
<rect x="277.74" y="237.50" width="1.25" height="1.25" fill="#3b78c3"/>
<line x1="245.10" y1="258.40" x2="298.10" y2="236.30" stroke="#161616" stroke-width="1.08"/>
<rect x="245.10" y="208.80" width="53.00" height="52.70" fill="none" stroke="#4a4a4a" stroke-width="1.0"/>
<line x1="249.70" y1="261.50" x2="249.70" y2="263.80" stroke="#444" stroke-width="0.6"/>
<text x="249.70" y="267.90" font-size="4.4" fill="#222" text-anchor="middle" stroke="#222" stroke-width="0.18" >5</text>
<line x1="257.70" y1="261.50" x2="257.70" y2="263.80" stroke="#444" stroke-width="0.6"/>
<text x="257.70" y="267.90" font-size="4.4" fill="#222" text-anchor="middle" stroke="#222" stroke-width="0.18" >6</text>
<line x1="265.70" y1="261.50" x2="265.70" y2="263.80" stroke="#444" stroke-width="0.6"/>
<text x="265.70" y="267.90" font-size="4.4" fill="#222" text-anchor="middle" stroke="#222" stroke-width="0.18" >7</text>
<line x1="273.70" y1="261.50" x2="273.70" y2="263.80" stroke="#444" stroke-width="0.6"/>
<text x="273.70" y="267.90" font-size="4.4" fill="#222" text-anchor="middle" stroke="#222" stroke-width="0.18" >8</text>
<line x1="281.70" y1="261.50" x2="281.70" y2="263.80" stroke="#444" stroke-width="0.6"/>
<text x="281.70" y="267.90" font-size="4.4" fill="#222" text-anchor="middle" stroke="#222" stroke-width="0.18" >9</text>
<line x1="289.70" y1="261.50" x2="289.70" y2="263.80" stroke="#444" stroke-width="0.6"/>
<text x="289.70" y="267.90" font-size="4.4" fill="#222" text-anchor="middle" stroke="#222" stroke-width="0.18" >10</text>
<line x1="297.70" y1="261.50" x2="297.70" y2="263.80" stroke="#444" stroke-width="0.6"/>
<text x="297.70" y="267.90" font-size="4.4" fill="#222" text-anchor="middle" stroke="#222" stroke-width="0.18" >11</text>
<line x1="242.80" y1="260.00" x2="245.10" y2="260.00" stroke="#555" stroke-width="0.6"/>
<text x="242.38" y="260.00" font-size="4.4" fill="#222" text-anchor="middle" stroke="#222" stroke-width="0.18" transform="rotate(-90 242.38 260.00)" >0</text>
<line x1="242.80" y1="251.00" x2="245.10" y2="251.00" stroke="#555" stroke-width="0.6"/>
<text x="242.38" y="251.00" font-size="4.4" fill="#222" text-anchor="middle" stroke="#222" stroke-width="0.18" transform="rotate(-90 242.38 251.00)" >2</text>
<line x1="242.80" y1="242.00" x2="245.10" y2="242.00" stroke="#555" stroke-width="0.6"/>
<text x="242.38" y="242.00" font-size="4.4" fill="#222" text-anchor="middle" stroke="#222" stroke-width="0.18" transform="rotate(-90 242.38 242.00)" >4</text>
<line x1="242.80" y1="233.00" x2="245.10" y2="233.00" stroke="#555" stroke-width="0.6"/>
<text x="242.38" y="233.00" font-size="4.4" fill="#222" text-anchor="middle" stroke="#222" stroke-width="0.18" transform="rotate(-90 242.38 233.00)" >6</text>
<line x1="242.80" y1="224.00" x2="245.10" y2="224.00" stroke="#555" stroke-width="0.6"/>
<text x="242.38" y="224.00" font-size="4.4" fill="#222" text-anchor="middle" stroke="#222" stroke-width="0.18" transform="rotate(-90 242.38 224.00)" >8</text>
<line x1="242.80" y1="215.00" x2="245.10" y2="215.00" stroke="#555" stroke-width="0.6"/>
<text x="242.38" y="215.00" font-size="4.4" fill="#222" text-anchor="middle" stroke="#222" stroke-width="0.18" transform="rotate(-90 242.38 215.00)" >10</text>
<text x="270.80" y="273.60" font-size="4.8" fill="#222" text-anchor="middle" stroke="#222" stroke-width="0.18" >GLI3</text>
<text x="235.65" y="232.95" font-size="4.6" fill="#111" text-anchor="middle" stroke="#111" stroke-width="0.18" transform="rotate(-90 235.65 232.95)" >SOX11</text>
<text x="245.20" y="207.80" font-size="4.5" fill="#2a2a2a" text-anchor="start" stroke="#2a2a2a" stroke-width="0.06" textLength="16.70" lengthAdjust="spacingAndGlyphs" >corr=0.39</text>
<text x="277.70" y="207.80" font-size="4.5" fill="#2a2a2a" text-anchor="start" stroke="#2a2a2a" stroke-width="0.06" textLength="23.00" lengthAdjust="spacingAndGlyphs" >p=0.0004809</text>
<polygon points="321.90,235.20 338.00,232.60 344.50,230.40 355.30,228.30 360.60,222.20 367.80,212.50 367.80,236.30 361.70,243.80 355.30,252.40 347.70,253.50 338.00,257.80 321.90,258.40" fill="#e3f1dc" stroke="#99cc88" stroke-width="0.6"/>
<rect x="363.97" y="237.52" width="1.25" height="1.25" fill="#3d9e2b"/>
<rect x="340.48" y="233.25" width="1.25" height="1.25" fill="#3d9e2b"/>
<rect x="324.42" y="245.80" width="1.25" height="1.25" fill="#3d9e2b"/>
<rect x="347.94" y="231.02" width="1.25" height="1.25" fill="#86c777"/>
<rect x="335.76" y="238.29" width="1.25" height="1.25" fill="#3d9e2b"/>
<rect x="345.73" y="232.22" width="1.25" height="1.25" fill="#3d9e2b"/>
<rect x="332.64" y="229.56" width="1.25" height="1.25" fill="#3d9e2b"/>
<rect x="355.69" y="236.20" width="1.25" height="1.25" fill="#3d9e2b"/>
<rect x="357.50" y="232.89" width="1.25" height="1.25" fill="#3d9e2b"/>
<rect x="329.21" y="258.76" width="1.25" height="1.25" fill="#3d9e2b"/>
<rect x="325.70" y="247.89" width="1.25" height="1.25" fill="#3d9e2b"/>
<rect x="322.90" y="243.69" width="1.25" height="1.25" fill="#3d9e2b"/>
<rect x="350.80" y="228.99" width="1.25" height="1.25" fill="#3d9e2b"/>
<rect x="363.87" y="223.04" width="1.25" height="1.25" fill="#3d9e2b"/>
<rect x="331.40" y="235.37" width="1.25" height="1.25" fill="#3d9e2b"/>
<rect x="338.57" y="244.66" width="1.25" height="1.25" fill="#3d9e2b"/>
<rect x="329.00" y="239.34" width="1.25" height="1.25" fill="#3d9e2b"/>
<rect x="329.55" y="244.09" width="1.25" height="1.25" fill="#3d9e2b"/>
<rect x="351.78" y="231.06" width="1.25" height="1.25" fill="#3d9e2b"/>
<rect x="319.25" y="257.73" width="1.25" height="1.25" fill="#86c777"/>
<rect x="357.05" y="240.37" width="1.25" height="1.25" fill="#3d9e2b"/>
<rect x="341.67" y="232.24" width="1.25" height="1.25" fill="#3d9e2b"/>
<rect x="335.69" y="249.82" width="1.25" height="1.25" fill="#3d9e2b"/>
<rect x="367.13" y="219.31" width="1.25" height="1.25" fill="#3d9e2b"/>
<rect x="328.58" y="259.68" width="1.25" height="1.25" fill="#3d9e2b"/>
<rect x="321.75" y="243.32" width="1.25" height="1.25" fill="#3d9e2b"/>
<rect x="347.98" y="251.52" width="1.25" height="1.25" fill="#3d9e2b"/>
<rect x="353.65" y="250.73" width="1.25" height="1.25" fill="#86c777"/>
<rect x="348.17" y="239.54" width="1.25" height="1.25" fill="#3d9e2b"/>
<rect x="345.37" y="238.63" width="1.25" height="1.25" fill="#3d9e2b"/>
<rect x="356.15" y="235.67" width="1.25" height="1.25" fill="#3d9e2b"/>
<rect x="332.09" y="253.15" width="1.25" height="1.25" fill="#3d9e2b"/>
<rect x="367.90" y="227.91" width="1.25" height="1.25" fill="#3d9e2b"/>
<rect x="333.48" y="243.89" width="1.25" height="1.25" fill="#86c777"/>
<rect x="349.92" y="244.73" width="1.25" height="1.25" fill="#3d9e2b"/>
<rect x="350.23" y="235.44" width="1.25" height="1.25" fill="#3d9e2b"/>
<rect x="354.07" y="246.06" width="1.25" height="1.25" fill="#3d9e2b"/>
<rect x="353.17" y="242.57" width="1.25" height="1.25" fill="#3d9e2b"/>
<rect x="352.90" y="239.08" width="1.25" height="1.25" fill="#86c777"/>
<rect x="334.71" y="250.97" width="1.25" height="1.25" fill="#3d9e2b"/>
<rect x="356.84" y="248.03" width="1.25" height="1.25" fill="#86c777"/>
<rect x="352.05" y="244.71" width="1.25" height="1.25" fill="#3d9e2b"/>
<rect x="361.08" y="225.17" width="1.25" height="1.25" fill="#86c777"/>
<rect x="341.55" y="242.23" width="1.25" height="1.25" fill="#3d9e2b"/>
<rect x="332.49" y="258.81" width="1.25" height="1.25" fill="#3d9e2b"/>
<rect x="345.05" y="252.74" width="1.25" height="1.25" fill="#3d9e2b"/>
<rect x="346.53" y="231.86" width="1.25" height="1.25" fill="#3d9e2b"/>
<rect x="345.83" y="236.77" width="1.25" height="1.25" fill="#3d9e2b"/>
<rect x="339.70" y="253.06" width="1.25" height="1.25" fill="#3d9e2b"/>
<rect x="347.49" y="221.74" width="1.25" height="1.25" fill="#3d9e2b"/>
<rect x="361.34" y="225.94" width="1.25" height="1.25" fill="#3d9e2b"/>
<rect x="349.10" y="250.81" width="1.25" height="1.25" fill="#3d9e2b"/>
<rect x="347.21" y="251.67" width="1.25" height="1.25" fill="#3d9e2b"/>
<rect x="322.62" y="249.55" width="1.25" height="1.25" fill="#3d9e2b"/>
<rect x="347.27" y="240.07" width="1.25" height="1.25" fill="#3d9e2b"/>
<rect x="323.16" y="247.90" width="1.25" height="1.25" fill="#3d9e2b"/>
<rect x="365.05" y="235.07" width="1.25" height="1.25" fill="#3d9e2b"/>
<rect x="351.09" y="230.70" width="1.25" height="1.25" fill="#3d9e2b"/>
<rect x="360.71" y="259.68" width="1.25" height="1.25" fill="#3d9e2b"/>
<rect x="346.81" y="232.58" width="1.25" height="1.25" fill="#86c777"/>
<rect x="332.60" y="254.76" width="1.25" height="1.25" fill="#3d9e2b"/>
<rect x="330.95" y="252.21" width="1.25" height="1.25" fill="#3d9e2b"/>
<rect x="330.49" y="243.99" width="1.25" height="1.25" fill="#86c777"/>
<rect x="363.88" y="236.18" width="1.25" height="1.25" fill="#3d9e2b"/>
<rect x="357.50" y="220.88" width="1.25" height="1.25" fill="#3d9e2b"/>
<rect x="354.64" y="241.80" width="1.25" height="1.25" fill="#3d9e2b"/>
<rect x="344.09" y="250.13" width="1.25" height="1.25" fill="#3d9e2b"/>
<rect x="366.00" y="216.42" width="1.25" height="1.25" fill="#3d9e2b"/>
<rect x="339.22" y="236.39" width="1.25" height="1.25" fill="#3d9e2b"/>
<rect x="352.25" y="233.59" width="1.25" height="1.25" fill="#3d9e2b"/>
<rect x="334.16" y="246.51" width="1.25" height="1.25" fill="#3d9e2b"/>
<rect x="330.59" y="258.71" width="1.25" height="1.25" fill="#3d9e2b"/>
<rect x="351.41" y="245.34" width="1.25" height="1.25" fill="#3d9e2b"/>
<rect x="333.86" y="246.11" width="1.25" height="1.25" fill="#3d9e2b"/>
<rect x="356.42" y="259.68" width="1.25" height="1.25" fill="#3d9e2b"/>
<rect x="331.01" y="259.68" width="1.25" height="1.25" fill="#3d9e2b"/>
<rect x="327.68" y="244.12" width="1.25" height="1.25" fill="#3d9e2b"/>
<rect x="352.68" y="245.05" width="1.25" height="1.25" fill="#3d9e2b"/>
<rect x="348.26" y="243.99" width="1.25" height="1.25" fill="#3d9e2b"/>
<rect x="354.35" y="233.13" width="1.25" height="1.25" fill="#3d9e2b"/>
<rect x="364.81" y="218.10" width="1.25" height="1.25" fill="#3d9e2b"/>
<rect x="322.56" y="240.66" width="1.25" height="1.25" fill="#3d9e2b"/>
<rect x="332.39" y="249.69" width="1.25" height="1.25" fill="#86c777"/>
<rect x="356.92" y="245.26" width="1.25" height="1.25" fill="#3d9e2b"/>
<rect x="325.88" y="241.60" width="1.25" height="1.25" fill="#3d9e2b"/>
<rect x="331.74" y="250.37" width="1.25" height="1.25" fill="#3d9e2b"/>
<rect x="321.52" y="245.44" width="1.25" height="1.25" fill="#3d9e2b"/>
<rect x="323.37" y="258.77" width="1.25" height="1.25" fill="#3d9e2b"/>
<rect x="348.76" y="236.67" width="1.25" height="1.25" fill="#3d9e2b"/>
<rect x="366.78" y="226.92" width="1.25" height="1.25" fill="#3d9e2b"/>
<line x1="316.60" y1="258.90" x2="370.70" y2="233.00" stroke="#161616" stroke-width="1.08"/>
<rect x="316.60" y="208.90" width="54.10" height="52.60" fill="none" stroke="#4a4a4a" stroke-width="1.0"/>
<line x1="320.80" y1="261.50" x2="320.80" y2="263.80" stroke="#444" stroke-width="0.6"/>
<text x="320.80" y="267.90" font-size="4.4" fill="#222" text-anchor="middle" stroke="#222" stroke-width="0.18" >5</text>
<line x1="328.40" y1="261.50" x2="328.40" y2="263.80" stroke="#444" stroke-width="0.6"/>
<text x="328.40" y="267.90" font-size="4.4" fill="#222" text-anchor="middle" stroke="#222" stroke-width="0.18" >6</text>
<line x1="336.00" y1="261.50" x2="336.00" y2="263.80" stroke="#444" stroke-width="0.6"/>
<text x="336.00" y="267.90" font-size="4.4" fill="#222" text-anchor="middle" stroke="#222" stroke-width="0.18" >7</text>
<line x1="343.60" y1="261.50" x2="343.60" y2="263.80" stroke="#444" stroke-width="0.6"/>
<text x="343.60" y="267.90" font-size="4.4" fill="#222" text-anchor="middle" stroke="#222" stroke-width="0.18" >8</text>
<line x1="351.20" y1="261.50" x2="351.20" y2="263.80" stroke="#444" stroke-width="0.6"/>
<text x="351.20" y="267.90" font-size="4.4" fill="#222" text-anchor="middle" stroke="#222" stroke-width="0.18" >9</text>
<line x1="358.80" y1="261.50" x2="358.80" y2="263.80" stroke="#444" stroke-width="0.6"/>
<text x="358.80" y="267.90" font-size="4.4" fill="#222" text-anchor="middle" stroke="#222" stroke-width="0.18" >10</text>
<line x1="314.30" y1="260.00" x2="316.60" y2="260.00" stroke="#555" stroke-width="0.6"/>
<text x="313.28" y="260.00" font-size="4.4" fill="#222" text-anchor="middle" stroke="#222" stroke-width="0.18" transform="rotate(-90 313.28 260.00)" >0</text>
<line x1="314.30" y1="250.20" x2="316.60" y2="250.20" stroke="#555" stroke-width="0.6"/>
<text x="313.28" y="250.20" font-size="4.4" fill="#222" text-anchor="middle" stroke="#222" stroke-width="0.18" transform="rotate(-90 313.28 250.20)" >2</text>
<line x1="314.30" y1="240.40" x2="316.60" y2="240.40" stroke="#555" stroke-width="0.6"/>
<text x="313.28" y="240.40" font-size="4.4" fill="#222" text-anchor="middle" stroke="#222" stroke-width="0.18" transform="rotate(-90 313.28 240.40)" >4</text>
<line x1="314.30" y1="230.60" x2="316.60" y2="230.60" stroke="#555" stroke-width="0.6"/>
<text x="313.28" y="230.60" font-size="4.4" fill="#222" text-anchor="middle" stroke="#222" stroke-width="0.18" transform="rotate(-90 313.28 230.60)" >6</text>
<line x1="314.30" y1="220.80" x2="316.60" y2="220.80" stroke="#555" stroke-width="0.6"/>
<text x="313.28" y="220.80" font-size="4.4" fill="#222" text-anchor="middle" stroke="#222" stroke-width="0.18" transform="rotate(-90 313.28 220.80)" >8</text>
<line x1="314.30" y1="211.00" x2="316.60" y2="211.00" stroke="#555" stroke-width="0.6"/>
<text x="313.28" y="211.00" font-size="4.4" fill="#222" text-anchor="middle" stroke="#222" stroke-width="0.18" transform="rotate(-90 313.28 211.00)" >10</text>
<text x="342.85" y="273.60" font-size="4.8" fill="#222" text-anchor="middle" stroke="#222" stroke-width="0.18" >GLI3</text>
<text x="307.35" y="233.00" font-size="4.6" fill="#111" text-anchor="middle" stroke="#111" stroke-width="0.18" transform="rotate(-90 307.35 233.00)" >SOX11</text>
<text x="318.50" y="207.90" font-size="4.5" fill="#2a2a2a" text-anchor="start" stroke="#2a2a2a" stroke-width="0.06" textLength="15.80" lengthAdjust="spacingAndGlyphs" >corr=0.37</text>
<text x="349.40" y="207.90" font-size="4.5" fill="#2a2a2a" text-anchor="start" stroke="#2a2a2a" stroke-width="0.06" textLength="23.00" lengthAdjust="spacingAndGlyphs" >p=0.0002463</text>
<polygon points="396.40,236.50 406.70,234.00 415.30,229.50 419.30,222.80 422.00,227.20 432.60,222.80 432.60,249.00 424.00,254.50 415.30,259.00 406.00,257.50 396.40,255.50" fill="#fdeeee" stroke="#f4a6a6" stroke-width="0.6"/>
<rect x="412.14" y="243.45" width="1.25" height="1.25" fill="#f8b4b4"/>
<rect x="424.30" y="236.69" width="1.25" height="1.25" fill="#f4898b"/>
<rect x="414.13" y="256.65" width="1.25" height="1.25" fill="#f4898b"/>
<rect x="418.13" y="232.28" width="1.25" height="1.25" fill="#f8b4b4"/>
<rect x="425.36" y="228.70" width="1.25" height="1.25" fill="#f4898b"/>
<rect x="427.02" y="239.55" width="1.25" height="1.25" fill="#f4898b"/>
<rect x="408.28" y="242.70" width="1.25" height="1.25" fill="#f4898b"/>
<rect x="425.74" y="257.93" width="1.25" height="1.25" fill="#f4898b"/>
<rect x="437.31" y="227.33" width="1.25" height="1.25" fill="#f4898b"/>
<rect x="409.15" y="225.04" width="1.25" height="1.25" fill="#f4898b"/>
<rect x="416.53" y="239.51" width="1.25" height="1.25" fill="#f4898b"/>
<rect x="420.56" y="209.38" width="1.25" height="1.25" fill="#f4898b"/>
<rect x="431.39" y="230.16" width="1.25" height="1.25" fill="#f4898b"/>
<rect x="421.91" y="247.01" width="1.25" height="1.25" fill="#f4898b"/>
<rect x="419.68" y="226.63" width="1.25" height="1.25" fill="#f4898b"/>
<rect x="424.34" y="243.16" width="1.25" height="1.25" fill="#f4898b"/>
<rect x="400.43" y="243.62" width="1.25" height="1.25" fill="#f4898b"/>
<rect x="401.63" y="243.12" width="1.25" height="1.25" fill="#f4898b"/>
<rect x="418.43" y="255.39" width="1.25" height="1.25" fill="#f4898b"/>
<rect x="416.48" y="252.97" width="1.25" height="1.25" fill="#f4898b"/>
<rect x="415.31" y="254.50" width="1.25" height="1.25" fill="#f4898b"/>
<rect x="419.40" y="238.40" width="1.25" height="1.25" fill="#f4898b"/>
<rect x="429.08" y="236.48" width="1.25" height="1.25" fill="#f4898b"/>
<rect x="415.21" y="241.45" width="1.25" height="1.25" fill="#f4898b"/>
<rect x="393.13" y="245.85" width="1.25" height="1.25" fill="#f4898b"/>
<line x1="388.10" y1="254.60" x2="442.00" y2="231.90" stroke="#161616" stroke-width="1.08"/>
<rect x="388.10" y="208.80" width="53.90" height="52.70" fill="none" stroke="#4a4a4a" stroke-width="1.0"/>
<line x1="394.00" y1="261.50" x2="394.00" y2="263.80" stroke="#444" stroke-width="0.6"/>
<text x="394.00" y="267.90" font-size="4.4" fill="#222" text-anchor="middle" stroke="#222" stroke-width="0.18" >5</text>
<line x1="401.80" y1="261.50" x2="401.80" y2="263.80" stroke="#444" stroke-width="0.6"/>
<text x="401.80" y="267.90" font-size="4.4" fill="#222" text-anchor="middle" stroke="#222" stroke-width="0.18" >6</text>
<line x1="409.60" y1="261.50" x2="409.60" y2="263.80" stroke="#444" stroke-width="0.6"/>
<text x="409.60" y="267.90" font-size="4.4" fill="#222" text-anchor="middle" stroke="#222" stroke-width="0.18" >7</text>
<line x1="417.40" y1="261.50" x2="417.40" y2="263.80" stroke="#444" stroke-width="0.6"/>
<text x="417.40" y="267.90" font-size="4.4" fill="#222" text-anchor="middle" stroke="#222" stroke-width="0.18" >8</text>
<line x1="425.20" y1="261.50" x2="425.20" y2="263.80" stroke="#444" stroke-width="0.6"/>
<text x="425.20" y="267.90" font-size="4.4" fill="#222" text-anchor="middle" stroke="#222" stroke-width="0.18" >9</text>
<line x1="433.00" y1="261.50" x2="433.00" y2="263.80" stroke="#444" stroke-width="0.6"/>
<text x="433.00" y="267.90" font-size="4.4" fill="#222" text-anchor="middle" stroke="#222" stroke-width="0.18" >10</text>
<line x1="385.80" y1="260.60" x2="388.10" y2="260.60" stroke="#555" stroke-width="0.6"/>
<text x="384.68" y="260.60" font-size="4.4" fill="#222" text-anchor="middle" stroke="#222" stroke-width="0.18" transform="rotate(-90 384.68 260.60)" >0</text>
<line x1="385.80" y1="250.70" x2="388.10" y2="250.70" stroke="#555" stroke-width="0.6"/>
<text x="384.68" y="250.70" font-size="4.4" fill="#222" text-anchor="middle" stroke="#222" stroke-width="0.18" transform="rotate(-90 384.68 250.70)" >2</text>
<line x1="385.80" y1="240.80" x2="388.10" y2="240.80" stroke="#555" stroke-width="0.6"/>
<text x="384.68" y="240.80" font-size="4.4" fill="#222" text-anchor="middle" stroke="#222" stroke-width="0.18" transform="rotate(-90 384.68 240.80)" >4</text>
<line x1="385.80" y1="230.90" x2="388.10" y2="230.90" stroke="#555" stroke-width="0.6"/>
<text x="384.68" y="230.90" font-size="4.4" fill="#222" text-anchor="middle" stroke="#222" stroke-width="0.18" transform="rotate(-90 384.68 230.90)" >6</text>
<line x1="385.80" y1="221.00" x2="388.10" y2="221.00" stroke="#555" stroke-width="0.6"/>
<text x="384.68" y="221.00" font-size="4.4" fill="#222" text-anchor="middle" stroke="#222" stroke-width="0.18" transform="rotate(-90 384.68 221.00)" >8</text>
<line x1="385.80" y1="211.10" x2="388.10" y2="211.10" stroke="#555" stroke-width="0.6"/>
<text x="384.68" y="211.10" font-size="4.4" fill="#222" text-anchor="middle" stroke="#222" stroke-width="0.18" transform="rotate(-90 384.68 211.10)" >10</text>
<text x="414.25" y="273.60" font-size="4.8" fill="#222" text-anchor="middle" stroke="#222" stroke-width="0.18" >GLI3</text>
<text x="379.65" y="232.95" font-size="4.6" fill="#111" text-anchor="middle" stroke="#111" stroke-width="0.18" transform="rotate(-90 379.65 232.95)" >SOX11</text>
<text x="389.90" y="207.80" font-size="4.5" fill="#2a2a2a" text-anchor="start" stroke="#2a2a2a" stroke-width="0.06" textLength="15.70" lengthAdjust="spacingAndGlyphs" >corr=0.40</text>
<text x="429.90" y="207.80" font-size="4.5" fill="#2a2a2a" text-anchor="start" stroke="#2a2a2a" stroke-width="0.06" textLength="19.10" lengthAdjust="spacingAndGlyphs" >p=0.03863</text>
<polygon points="481.10,240.60 496.20,235.20 504.80,231.30 519.90,229.10 519.90,253.50 509.10,252.40 498.30,255.60 481.10,256.70" fill="#dee6f4" stroke="#8ea6d3" stroke-width="0.6"/>
<rect x="485.48" y="254.95" width="1.25" height="1.25" fill="#3b78c3"/>
<rect x="490.70" y="242.98" width="1.25" height="1.25" fill="#86a9da"/>
<rect x="503.41" y="235.03" width="1.25" height="1.25" fill="#3b78c3"/>
<rect x="497.46" y="245.67" width="1.25" height="1.25" fill="#3b78c3"/>
<rect x="492.04" y="241.97" width="1.25" height="1.25" fill="#3b78c3"/>
<rect x="507.38" y="239.47" width="1.25" height="1.25" fill="#3b78c3"/>
<rect x="508.99" y="231.36" width="1.25" height="1.25" fill="#3b78c3"/>
<rect x="518.42" y="238.20" width="1.25" height="1.25" fill="#3b78c3"/>
<rect x="510.51" y="228.65" width="1.25" height="1.25" fill="#3b78c3"/>
<rect x="489.01" y="253.28" width="1.25" height="1.25" fill="#3b78c3"/>
<rect x="496.16" y="259.25" width="1.25" height="1.25" fill="#3b78c3"/>
<rect x="485.23" y="248.94" width="1.25" height="1.25" fill="#86a9da"/>
<rect x="498.06" y="242.40" width="1.25" height="1.25" fill="#3b78c3"/>
<rect x="489.40" y="258.29" width="1.25" height="1.25" fill="#3b78c3"/>
<rect x="494.90" y="245.35" width="1.25" height="1.25" fill="#3b78c3"/>
<rect x="484.08" y="252.62" width="1.25" height="1.25" fill="#3b78c3"/>
<rect x="502.21" y="244.76" width="1.25" height="1.25" fill="#86a9da"/>
<rect x="495.18" y="243.27" width="1.25" height="1.25" fill="#3b78c3"/>
<rect x="512.20" y="242.18" width="1.25" height="1.25" fill="#3b78c3"/>
<rect x="489.43" y="251.10" width="1.25" height="1.25" fill="#86a9da"/>
<rect x="487.31" y="252.22" width="1.25" height="1.25" fill="#3b78c3"/>
<rect x="498.30" y="232.34" width="1.25" height="1.25" fill="#86a9da"/>
<rect x="500.29" y="249.91" width="1.25" height="1.25" fill="#3b78c3"/>
<rect x="494.68" y="248.84" width="1.25" height="1.25" fill="#3b78c3"/>
<rect x="483.71" y="259.98" width="1.25" height="1.25" fill="#3b78c3"/>
<rect x="502.68" y="253.14" width="1.25" height="1.25" fill="#86a9da"/>
<rect x="494.21" y="239.85" width="1.25" height="1.25" fill="#3b78c3"/>
<rect x="500.92" y="243.50" width="1.25" height="1.25" fill="#86a9da"/>
<rect x="483.87" y="251.72" width="1.25" height="1.25" fill="#86a9da"/>
<rect x="491.02" y="243.24" width="1.25" height="1.25" fill="#3b78c3"/>
<rect x="485.22" y="251.23" width="1.25" height="1.25" fill="#3b78c3"/>
<rect x="488.98" y="247.30" width="1.25" height="1.25" fill="#3b78c3"/>
<rect x="496.22" y="244.86" width="1.25" height="1.25" fill="#3b78c3"/>
<rect x="494.18" y="246.51" width="1.25" height="1.25" fill="#3b78c3"/>
<rect x="497.40" y="259.98" width="1.25" height="1.25" fill="#3b78c3"/>
<rect x="482.46" y="253.46" width="1.25" height="1.25" fill="#86a9da"/>
<rect x="481.83" y="250.75" width="1.25" height="1.25" fill="#3b78c3"/>
<rect x="483.69" y="253.83" width="1.25" height="1.25" fill="#3b78c3"/>
<rect x="495.59" y="259.98" width="1.25" height="1.25" fill="#3b78c3"/>
<rect x="489.07" y="238.95" width="1.25" height="1.25" fill="#86a9da"/>
<rect x="485.05" y="259.98" width="1.25" height="1.25" fill="#3b78c3"/>
<rect x="492.24" y="241.04" width="1.25" height="1.25" fill="#3b78c3"/>
<rect x="479.46" y="259.98" width="1.25" height="1.25" fill="#3b78c3"/>
<rect x="477.52" y="259.98" width="1.25" height="1.25" fill="#3b78c3"/>
<rect x="490.49" y="245.02" width="1.25" height="1.25" fill="#3b78c3"/>
<rect x="498.79" y="245.55" width="1.25" height="1.25" fill="#3b78c3"/>
<rect x="495.39" y="251.89" width="1.25" height="1.25" fill="#3b78c3"/>
<rect x="500.09" y="246.62" width="1.25" height="1.25" fill="#3b78c3"/>
<rect x="480.77" y="259.98" width="1.25" height="1.25" fill="#3b78c3"/>
<rect x="493.66" y="259.11" width="1.25" height="1.25" fill="#3b78c3"/>
<rect x="497.06" y="248.35" width="1.25" height="1.25" fill="#86a9da"/>
<rect x="497.53" y="250.68" width="1.25" height="1.25" fill="#3b78c3"/>
<rect x="485.45" y="249.31" width="1.25" height="1.25" fill="#86a9da"/>
<rect x="491.48" y="250.86" width="1.25" height="1.25" fill="#86a9da"/>
<rect x="488.92" y="243.62" width="1.25" height="1.25" fill="#86a9da"/>
<rect x="483.23" y="252.19" width="1.25" height="1.25" fill="#86a9da"/>
<rect x="495.31" y="256.62" width="1.25" height="1.25" fill="#3b78c3"/>
<rect x="496.42" y="230.39" width="1.25" height="1.25" fill="#3b78c3"/>
<rect x="503.32" y="237.46" width="1.25" height="1.25" fill="#3b78c3"/>
<rect x="492.64" y="243.69" width="1.25" height="1.25" fill="#3b78c3"/>
<rect x="492.24" y="256.95" width="1.25" height="1.25" fill="#86a9da"/>
<rect x="504.56" y="239.77" width="1.25" height="1.25" fill="#86a9da"/>
<rect x="499.44" y="249.82" width="1.25" height="1.25" fill="#3b78c3"/>
<rect x="483.92" y="247.58" width="1.25" height="1.25" fill="#3b78c3"/>
<rect x="489.79" y="235.71" width="1.25" height="1.25" fill="#3b78c3"/>
<rect x="504.99" y="249.95" width="1.25" height="1.25" fill="#3b78c3"/>
<rect x="492.76" y="246.43" width="1.25" height="1.25" fill="#3b78c3"/>
<rect x="505.12" y="224.70" width="1.25" height="1.25" fill="#3b78c3"/>
<rect x="484.60" y="259.98" width="1.25" height="1.25" fill="#86a9da"/>
<rect x="485.88" y="252.97" width="1.25" height="1.25" fill="#3b78c3"/>
<rect x="502.02" y="248.53" width="1.25" height="1.25" fill="#86a9da"/>
<rect x="486.87" y="247.19" width="1.25" height="1.25" fill="#3b78c3"/>
<rect x="500.45" y="238.29" width="1.25" height="1.25" fill="#3b78c3"/>
<rect x="502.80" y="236.17" width="1.25" height="1.25" fill="#3b78c3"/>
<rect x="506.15" y="255.08" width="1.25" height="1.25" fill="#86a9da"/>
<rect x="493.78" y="251.93" width="1.25" height="1.25" fill="#3b78c3"/>
<rect x="501.45" y="250.87" width="1.25" height="1.25" fill="#3b78c3"/>
<rect x="483.21" y="258.29" width="1.25" height="1.25" fill="#3b78c3"/>
<rect x="492.79" y="235.09" width="1.25" height="1.25" fill="#3b78c3"/>
<rect x="475.68" y="238.71" width="1.25" height="1.25" fill="#3b78c3"/>
<rect x="494.31" y="236.47" width="1.25" height="1.25" fill="#3b78c3"/>
<rect x="507.75" y="240.46" width="1.25" height="1.25" fill="#3b78c3"/>
<rect x="505.65" y="258.05" width="1.25" height="1.25" fill="#3b78c3"/>
<rect x="481.96" y="257.00" width="1.25" height="1.25" fill="#3b78c3"/>
<rect x="495.79" y="257.69" width="1.25" height="1.25" fill="#3b78c3"/>
<rect x="495.01" y="248.76" width="1.25" height="1.25" fill="#3b78c3"/>
<rect x="489.26" y="243.22" width="1.25" height="1.25" fill="#3b78c3"/>
<rect x="511.90" y="244.20" width="1.25" height="1.25" fill="#3b78c3"/>
<rect x="492.86" y="250.99" width="1.25" height="1.25" fill="#3b78c3"/>
<rect x="489.99" y="251.18" width="1.25" height="1.25" fill="#3b78c3"/>
<rect x="500.47" y="241.39" width="1.25" height="1.25" fill="#3b78c3"/>
<rect x="524.27" y="239.30" width="1.25" height="1.25" fill="#86a9da"/>
<rect x="502.77" y="236.64" width="1.25" height="1.25" fill="#3b78c3"/>
<rect x="499.87" y="254.93" width="1.25" height="1.25" fill="#3b78c3"/>
<rect x="516.43" y="233.58" width="1.25" height="1.25" fill="#86a9da"/>
<rect x="488.81" y="243.32" width="1.25" height="1.25" fill="#3b78c3"/>
<rect x="487.93" y="241.96" width="1.25" height="1.25" fill="#3b78c3"/>
<rect x="492.32" y="246.59" width="1.25" height="1.25" fill="#3b78c3"/>
<rect x="517.29" y="245.84" width="1.25" height="1.25" fill="#3b78c3"/>
<rect x="497.96" y="236.34" width="1.25" height="1.25" fill="#86a9da"/>
<rect x="485.50" y="258.68" width="1.25" height="1.25" fill="#3b78c3"/>
<rect x="490.20" y="246.77" width="1.25" height="1.25" fill="#86a9da"/>
<rect x="490.99" y="250.67" width="1.25" height="1.25" fill="#3b78c3"/>
<rect x="499.66" y="250.00" width="1.25" height="1.25" fill="#3b78c3"/>
<rect x="508.03" y="249.23" width="1.25" height="1.25" fill="#3b78c3"/>
<rect x="489.45" y="255.29" width="1.25" height="1.25" fill="#86a9da"/>
<rect x="497.13" y="241.88" width="1.25" height="1.25" fill="#3b78c3"/>
<rect x="483.72" y="259.98" width="1.25" height="1.25" fill="#3b78c3"/>
<rect x="512.47" y="242.80" width="1.25" height="1.25" fill="#86a9da"/>
<rect x="490.18" y="244.04" width="1.25" height="1.25" fill="#86a9da"/>
<rect x="485.25" y="259.98" width="1.25" height="1.25" fill="#86a9da"/>
<rect x="490.54" y="247.65" width="1.25" height="1.25" fill="#86a9da"/>
<rect x="484.68" y="251.61" width="1.25" height="1.25" fill="#3b78c3"/>
<rect x="506.86" y="244.88" width="1.25" height="1.25" fill="#3b78c3"/>
<rect x="509.18" y="237.97" width="1.25" height="1.25" fill="#3b78c3"/>
<rect x="478.40" y="251.80" width="1.25" height="1.25" fill="#3b78c3"/>
<rect x="491.60" y="259.98" width="1.25" height="1.25" fill="#3b78c3"/>
<rect x="491.72" y="247.14" width="1.25" height="1.25" fill="#3b78c3"/>
<rect x="481.52" y="239.99" width="1.25" height="1.25" fill="#3b78c3"/>
<rect x="497.67" y="244.18" width="1.25" height="1.25" fill="#3b78c3"/>
<rect x="501.33" y="233.52" width="1.25" height="1.25" fill="#3b78c3"/>
<rect x="480.78" y="259.98" width="1.25" height="1.25" fill="#3b78c3"/>
<rect x="493.64" y="246.56" width="1.25" height="1.25" fill="#86a9da"/>
<rect x="498.14" y="245.14" width="1.25" height="1.25" fill="#3b78c3"/>
<rect x="496.98" y="255.43" width="1.25" height="1.25" fill="#3b78c3"/>
<rect x="490.38" y="253.05" width="1.25" height="1.25" fill="#86a9da"/>
<rect x="479.04" y="246.69" width="1.25" height="1.25" fill="#3b78c3"/>
<rect x="508.83" y="247.79" width="1.25" height="1.25" fill="#3b78c3"/>
<rect x="485.86" y="252.70" width="1.25" height="1.25" fill="#3b78c3"/>
<rect x="487.87" y="251.18" width="1.25" height="1.25" fill="#3b78c3"/>
<rect x="509.04" y="259.46" width="1.25" height="1.25" fill="#3b78c3"/>
<rect x="493.65" y="248.84" width="1.25" height="1.25" fill="#86a9da"/>
<rect x="502.08" y="239.50" width="1.25" height="1.25" fill="#3b78c3"/>
<rect x="477.60" y="248.65" width="1.25" height="1.25" fill="#86a9da"/>
<rect x="482.37" y="255.86" width="1.25" height="1.25" fill="#3b78c3"/>
<rect x="496.20" y="259.61" width="1.25" height="1.25" fill="#3b78c3"/>
<rect x="488.17" y="249.47" width="1.25" height="1.25" fill="#86a9da"/>
<rect x="490.58" y="253.98" width="1.25" height="1.25" fill="#86a9da"/>
<rect x="493.39" y="248.43" width="1.25" height="1.25" fill="#3b78c3"/>
<rect x="503.09" y="235.95" width="1.25" height="1.25" fill="#3b78c3"/>
<rect x="488.49" y="254.70" width="1.25" height="1.25" fill="#3b78c3"/>
<rect x="480.53" y="249.87" width="1.25" height="1.25" fill="#3b78c3"/>
<rect x="501.33" y="246.26" width="1.25" height="1.25" fill="#3b78c3"/>
<rect x="497.50" y="252.69" width="1.25" height="1.25" fill="#3b78c3"/>
<rect x="498.16" y="244.69" width="1.25" height="1.25" fill="#3b78c3"/>
<rect x="519.18" y="246.56" width="1.25" height="1.25" fill="#3b78c3"/>
<rect x="497.67" y="243.40" width="1.25" height="1.25" fill="#3b78c3"/>
<rect x="501.65" y="241.01" width="1.25" height="1.25" fill="#3b78c3"/>
<rect x="491.11" y="246.60" width="1.25" height="1.25" fill="#3b78c3"/>
<rect x="507.13" y="249.80" width="1.25" height="1.25" fill="#3b78c3"/>
<line x1="475.10" y1="254.60" x2="529.40" y2="230.40" stroke="#161616" stroke-width="1.08"/>
<rect x="475.10" y="209.00" width="54.30" height="52.80" fill="none" stroke="#4a4a4a" stroke-width="1.0"/>
<line x1="476.60" y1="261.80" x2="476.60" y2="264.10" stroke="#444" stroke-width="0.6"/>
<text x="476.60" y="268.20" font-size="4.4" fill="#222" text-anchor="middle" stroke="#222" stroke-width="0.18" >4</text>
<line x1="487.25" y1="261.80" x2="487.25" y2="264.10" stroke="#444" stroke-width="0.6"/>
<text x="487.25" y="268.20" font-size="4.4" fill="#222" text-anchor="middle" stroke="#222" stroke-width="0.18" >6</text>
<line x1="497.90" y1="261.80" x2="497.90" y2="264.10" stroke="#444" stroke-width="0.6"/>
<text x="497.90" y="268.20" font-size="4.4" fill="#222" text-anchor="middle" stroke="#222" stroke-width="0.18" >8</text>
<line x1="508.55" y1="261.80" x2="508.55" y2="264.10" stroke="#444" stroke-width="0.6"/>
<text x="508.55" y="268.20" font-size="4.4" fill="#222" text-anchor="middle" stroke="#222" stroke-width="0.18" >10</text>
<line x1="519.20" y1="261.80" x2="519.20" y2="264.10" stroke="#444" stroke-width="0.6"/>
<text x="519.20" y="268.20" font-size="4.4" fill="#222" text-anchor="middle" stroke="#222" stroke-width="0.18" >12</text>
<line x1="472.80" y1="260.60" x2="475.10" y2="260.60" stroke="#555" stroke-width="0.6"/>
<text x="471.08" y="260.60" font-size="4.4" fill="#222" text-anchor="middle" stroke="#222" stroke-width="0.18" transform="rotate(-90 471.08 260.60)" >0</text>
<line x1="472.80" y1="252.90" x2="475.10" y2="252.90" stroke="#555" stroke-width="0.6"/>
<text x="471.08" y="252.90" font-size="4.4" fill="#222" text-anchor="middle" stroke="#222" stroke-width="0.18" transform="rotate(-90 471.08 252.90)" >2</text>
<line x1="472.80" y1="245.20" x2="475.10" y2="245.20" stroke="#555" stroke-width="0.6"/>
<text x="471.08" y="245.20" font-size="4.4" fill="#222" text-anchor="middle" stroke="#222" stroke-width="0.18" transform="rotate(-90 471.08 245.20)" >4</text>
<line x1="472.80" y1="237.50" x2="475.10" y2="237.50" stroke="#555" stroke-width="0.6"/>
<text x="471.08" y="237.50" font-size="4.4" fill="#222" text-anchor="middle" stroke="#222" stroke-width="0.18" transform="rotate(-90 471.08 237.50)" >6</text>
<line x1="472.80" y1="229.80" x2="475.10" y2="229.80" stroke="#555" stroke-width="0.6"/>
<text x="471.08" y="229.80" font-size="4.4" fill="#222" text-anchor="middle" stroke="#222" stroke-width="0.18" transform="rotate(-90 471.08 229.80)" >8</text>
<line x1="472.80" y1="222.10" x2="475.10" y2="222.10" stroke="#555" stroke-width="0.6"/>
<text x="471.08" y="222.10" font-size="4.4" fill="#222" text-anchor="middle" stroke="#222" stroke-width="0.18" transform="rotate(-90 471.08 222.10)" >10</text>
<line x1="472.80" y1="214.40" x2="475.10" y2="214.40" stroke="#555" stroke-width="0.6"/>
<text x="471.08" y="214.40" font-size="4.4" fill="#222" text-anchor="middle" stroke="#222" stroke-width="0.18" transform="rotate(-90 471.08 214.40)" >12</text>
<text x="501.45" y="273.90" font-size="4.8" fill="#222" text-anchor="middle" stroke="#222" stroke-width="0.18" >GLI3</text>
<text x="465.25" y="233.20" font-size="4.6" fill="#111" text-anchor="middle" stroke="#111" stroke-width="0.18" transform="rotate(-90 465.25 233.20)" >SOX11</text>
<text x="475.20" y="208.00" font-size="4.5" fill="#2a2a2a" text-anchor="start" stroke="#2a2a2a" stroke-width="0.06" textLength="15.40" lengthAdjust="spacingAndGlyphs" >corr=0.33</text>
<text x="509.00" y="208.00" font-size="4.5" fill="#2a2a2a" text-anchor="start" stroke="#2a2a2a" stroke-width="0.06" textLength="21.70" lengthAdjust="spacingAndGlyphs" >p=0.0009174</text>
<polygon points="554.70,239.50 561.60,236.30 572.30,231.30 583.10,229.10 596.50,226.10 596.50,247.00 583.10,254.10 572.30,256.30 554.70,257.80" fill="#e3f1dc" stroke="#99cc88" stroke-width="0.6"/>
<rect x="581.34" y="244.60" width="1.25" height="1.25" fill="#3d9e2b"/>
<rect x="577.30" y="239.39" width="1.25" height="1.25" fill="#3d9e2b"/>
<rect x="576.49" y="256.75" width="1.25" height="1.25" fill="#3d9e2b"/>
<rect x="580.51" y="233.07" width="1.25" height="1.25" fill="#3d9e2b"/>
<rect x="584.87" y="224.96" width="1.25" height="1.25" fill="#3d9e2b"/>
<rect x="568.12" y="250.17" width="1.25" height="1.25" fill="#3d9e2b"/>
<rect x="585.06" y="254.26" width="1.25" height="1.25" fill="#3d9e2b"/>
<rect x="575.47" y="241.07" width="1.25" height="1.25" fill="#3d9e2b"/>
<rect x="572.50" y="248.66" width="1.25" height="1.25" fill="#3d9e2b"/>
<rect x="573.85" y="231.19" width="1.25" height="1.25" fill="#86c777"/>
<rect x="575.15" y="249.26" width="1.25" height="1.25" fill="#86c777"/>
<rect x="589.08" y="254.76" width="1.25" height="1.25" fill="#3d9e2b"/>
<rect x="582.42" y="249.89" width="1.25" height="1.25" fill="#3d9e2b"/>
<rect x="558.00" y="254.27" width="1.25" height="1.25" fill="#3d9e2b"/>
<rect x="575.83" y="256.40" width="1.25" height="1.25" fill="#86c777"/>
<rect x="562.33" y="231.57" width="1.25" height="1.25" fill="#3d9e2b"/>
<rect x="588.39" y="229.31" width="1.25" height="1.25" fill="#3d9e2b"/>
<rect x="569.06" y="241.87" width="1.25" height="1.25" fill="#3d9e2b"/>
<rect x="581.72" y="236.44" width="1.25" height="1.25" fill="#3d9e2b"/>
<rect x="575.05" y="248.05" width="1.25" height="1.25" fill="#3d9e2b"/>
<rect x="549.84" y="248.22" width="1.25" height="1.25" fill="#3d9e2b"/>
<rect x="565.64" y="235.71" width="1.25" height="1.25" fill="#3d9e2b"/>
<rect x="575.16" y="244.45" width="1.25" height="1.25" fill="#3d9e2b"/>
<rect x="576.48" y="256.42" width="1.25" height="1.25" fill="#86c777"/>
<rect x="560.29" y="256.83" width="1.25" height="1.25" fill="#3d9e2b"/>
<rect x="571.33" y="232.43" width="1.25" height="1.25" fill="#3d9e2b"/>
<rect x="576.27" y="239.06" width="1.25" height="1.25" fill="#86c777"/>
<rect x="566.06" y="236.55" width="1.25" height="1.25" fill="#3d9e2b"/>
<rect x="580.52" y="233.38" width="1.25" height="1.25" fill="#3d9e2b"/>
<rect x="585.41" y="251.19" width="1.25" height="1.25" fill="#3d9e2b"/>
<rect x="595.72" y="232.62" width="1.25" height="1.25" fill="#86c777"/>
<rect x="575.98" y="248.37" width="1.25" height="1.25" fill="#3d9e2b"/>
<rect x="571.76" y="229.75" width="1.25" height="1.25" fill="#3d9e2b"/>
<rect x="578.19" y="235.71" width="1.25" height="1.25" fill="#3d9e2b"/>
<rect x="567.08" y="251.42" width="1.25" height="1.25" fill="#3d9e2b"/>
<rect x="575.06" y="251.36" width="1.25" height="1.25" fill="#3d9e2b"/>
<rect x="564.15" y="245.81" width="1.25" height="1.25" fill="#3d9e2b"/>
<rect x="585.06" y="238.96" width="1.25" height="1.25" fill="#3d9e2b"/>
<rect x="572.52" y="233.96" width="1.25" height="1.25" fill="#3d9e2b"/>
<rect x="570.96" y="249.88" width="1.25" height="1.25" fill="#3d9e2b"/>
<rect x="573.05" y="235.84" width="1.25" height="1.25" fill="#3d9e2b"/>
<rect x="592.94" y="240.69" width="1.25" height="1.25" fill="#3d9e2b"/>
<rect x="569.08" y="236.49" width="1.25" height="1.25" fill="#3d9e2b"/>
<rect x="582.39" y="239.21" width="1.25" height="1.25" fill="#86c777"/>
<rect x="586.90" y="241.20" width="1.25" height="1.25" fill="#3d9e2b"/>
<rect x="565.14" y="247.36" width="1.25" height="1.25" fill="#3d9e2b"/>
<rect x="571.80" y="246.48" width="1.25" height="1.25" fill="#3d9e2b"/>
<rect x="592.49" y="223.54" width="1.25" height="1.25" fill="#3d9e2b"/>
<rect x="571.90" y="240.11" width="1.25" height="1.25" fill="#3d9e2b"/>
<rect x="557.73" y="246.92" width="1.25" height="1.25" fill="#3d9e2b"/>
<rect x="576.62" y="243.99" width="1.25" height="1.25" fill="#3d9e2b"/>
<rect x="569.27" y="257.55" width="1.25" height="1.25" fill="#3d9e2b"/>
<rect x="589.86" y="231.69" width="1.25" height="1.25" fill="#3d9e2b"/>
<rect x="586.65" y="249.73" width="1.25" height="1.25" fill="#3d9e2b"/>
<rect x="551.57" y="259.68" width="1.25" height="1.25" fill="#3d9e2b"/>
<rect x="576.23" y="228.72" width="1.25" height="1.25" fill="#3d9e2b"/>
<rect x="562.34" y="233.58" width="1.25" height="1.25" fill="#3d9e2b"/>
<rect x="574.31" y="253.83" width="1.25" height="1.25" fill="#3d9e2b"/>
<rect x="595.76" y="250.23" width="1.25" height="1.25" fill="#3d9e2b"/>
<rect x="586.40" y="241.28" width="1.25" height="1.25" fill="#3d9e2b"/>
<rect x="565.68" y="244.70" width="1.25" height="1.25" fill="#3d9e2b"/>
<rect x="558.76" y="252.68" width="1.25" height="1.25" fill="#86c777"/>
<rect x="555.10" y="237.01" width="1.25" height="1.25" fill="#3d9e2b"/>
<rect x="577.01" y="248.79" width="1.25" height="1.25" fill="#3d9e2b"/>
<rect x="559.01" y="259.29" width="1.25" height="1.25" fill="#3d9e2b"/>
<rect x="573.67" y="255.93" width="1.25" height="1.25" fill="#3d9e2b"/>
<rect x="569.51" y="217.05" width="1.25" height="1.25" fill="#3d9e2b"/>
<rect x="587.03" y="217.41" width="1.25" height="1.25" fill="#86c777"/>
<rect x="559.86" y="242.24" width="1.25" height="1.25" fill="#3d9e2b"/>
<rect x="565.47" y="242.85" width="1.25" height="1.25" fill="#3d9e2b"/>
<rect x="574.40" y="222.16" width="1.25" height="1.25" fill="#3d9e2b"/>
<rect x="579.65" y="235.70" width="1.25" height="1.25" fill="#3d9e2b"/>
<rect x="577.45" y="243.58" width="1.25" height="1.25" fill="#3d9e2b"/>
<rect x="573.62" y="255.61" width="1.25" height="1.25" fill="#3d9e2b"/>
<rect x="574.03" y="258.02" width="1.25" height="1.25" fill="#3d9e2b"/>
<rect x="576.47" y="242.69" width="1.25" height="1.25" fill="#3d9e2b"/>
<rect x="572.16" y="243.29" width="1.25" height="1.25" fill="#3d9e2b"/>
<rect x="575.05" y="255.66" width="1.25" height="1.25" fill="#3d9e2b"/>
<rect x="591.53" y="246.72" width="1.25" height="1.25" fill="#3d9e2b"/>
<rect x="570.66" y="239.26" width="1.25" height="1.25" fill="#3d9e2b"/>
<rect x="576.63" y="247.49" width="1.25" height="1.25" fill="#3d9e2b"/>
<rect x="577.54" y="250.62" width="1.25" height="1.25" fill="#3d9e2b"/>
<rect x="583.50" y="251.76" width="1.25" height="1.25" fill="#86c777"/>
<rect x="584.39" y="236.00" width="1.25" height="1.25" fill="#3d9e2b"/>
<rect x="575.24" y="240.18" width="1.25" height="1.25" fill="#3d9e2b"/>
<rect x="594.02" y="243.74" width="1.25" height="1.25" fill="#3d9e2b"/>
<rect x="560.37" y="259.68" width="1.25" height="1.25" fill="#3d9e2b"/>
<rect x="584.67" y="242.64" width="1.25" height="1.25" fill="#3d9e2b"/>
<rect x="567.44" y="259.68" width="1.25" height="1.25" fill="#3d9e2b"/>
<rect x="565.73" y="238.28" width="1.25" height="1.25" fill="#3d9e2b"/>
<rect x="573.64" y="239.26" width="1.25" height="1.25" fill="#3d9e2b"/>
<rect x="579.42" y="246.55" width="1.25" height="1.25" fill="#86c777"/>
<rect x="580.41" y="227.44" width="1.25" height="1.25" fill="#3d9e2b"/>
<rect x="586.35" y="239.26" width="1.25" height="1.25" fill="#86c777"/>
<rect x="574.19" y="243.51" width="1.25" height="1.25" fill="#3d9e2b"/>
<rect x="574.28" y="240.75" width="1.25" height="1.25" fill="#3d9e2b"/>
<rect x="574.01" y="250.08" width="1.25" height="1.25" fill="#3d9e2b"/>
<rect x="593.57" y="232.29" width="1.25" height="1.25" fill="#86c777"/>
<rect x="568.73" y="249.81" width="1.25" height="1.25" fill="#3d9e2b"/>
<rect x="585.64" y="246.87" width="1.25" height="1.25" fill="#3d9e2b"/>
<rect x="569.52" y="238.69" width="1.25" height="1.25" fill="#3d9e2b"/>
<rect x="578.09" y="233.29" width="1.25" height="1.25" fill="#86c777"/>
<rect x="572.83" y="250.29" width="1.25" height="1.25" fill="#3d9e2b"/>
<rect x="560.85" y="239.81" width="1.25" height="1.25" fill="#3d9e2b"/>
<rect x="571.23" y="254.45" width="1.25" height="1.25" fill="#3d9e2b"/>
<rect x="567.64" y="257.74" width="1.25" height="1.25" fill="#3d9e2b"/>
<rect x="585.34" y="239.26" width="1.25" height="1.25" fill="#3d9e2b"/>
<rect x="578.21" y="245.61" width="1.25" height="1.25" fill="#3d9e2b"/>
<rect x="570.33" y="256.47" width="1.25" height="1.25" fill="#3d9e2b"/>
<rect x="573.01" y="249.81" width="1.25" height="1.25" fill="#3d9e2b"/>
<rect x="581.96" y="228.92" width="1.25" height="1.25" fill="#3d9e2b"/>
<rect x="574.41" y="252.73" width="1.25" height="1.25" fill="#3d9e2b"/>
<rect x="566.05" y="259.68" width="1.25" height="1.25" fill="#3d9e2b"/>
<rect x="586.94" y="234.24" width="1.25" height="1.25" fill="#3d9e2b"/>
<rect x="556.43" y="245.57" width="1.25" height="1.25" fill="#3d9e2b"/>
<rect x="583.62" y="252.81" width="1.25" height="1.25" fill="#3d9e2b"/>
<rect x="572.47" y="232.36" width="1.25" height="1.25" fill="#3d9e2b"/>
<rect x="567.45" y="255.74" width="1.25" height="1.25" fill="#3d9e2b"/>
<rect x="567.32" y="222.91" width="1.25" height="1.25" fill="#86c777"/>
<rect x="580.62" y="259.68" width="1.25" height="1.25" fill="#3d9e2b"/>
<rect x="555.83" y="250.13" width="1.25" height="1.25" fill="#86c777"/>
<rect x="570.70" y="259.68" width="1.25" height="1.25" fill="#3d9e2b"/>
<rect x="575.95" y="252.71" width="1.25" height="1.25" fill="#3d9e2b"/>
<rect x="579.08" y="225.89" width="1.25" height="1.25" fill="#86c777"/>
<rect x="566.55" y="254.55" width="1.25" height="1.25" fill="#3d9e2b"/>
<rect x="573.95" y="236.53" width="1.25" height="1.25" fill="#3d9e2b"/>
<rect x="590.63" y="223.53" width="1.25" height="1.25" fill="#3d9e2b"/>
<rect x="578.74" y="232.16" width="1.25" height="1.25" fill="#3d9e2b"/>
<rect x="575.48" y="259.68" width="1.25" height="1.25" fill="#86c777"/>
<rect x="566.03" y="242.95" width="1.25" height="1.25" fill="#3d9e2b"/>
<rect x="595.49" y="234.78" width="1.25" height="1.25" fill="#86c777"/>
<rect x="588.23" y="225.51" width="1.25" height="1.25" fill="#3d9e2b"/>
<rect x="566.57" y="238.24" width="1.25" height="1.25" fill="#3d9e2b"/>
<rect x="587.18" y="246.57" width="1.25" height="1.25" fill="#3d9e2b"/>
<rect x="564.29" y="224.14" width="1.25" height="1.25" fill="#86c777"/>
<rect x="582.02" y="259.68" width="1.25" height="1.25" fill="#3d9e2b"/>
<rect x="557.86" y="229.97" width="1.25" height="1.25" fill="#3d9e2b"/>
<rect x="589.31" y="254.43" width="1.25" height="1.25" fill="#3d9e2b"/>
<rect x="582.00" y="255.89" width="1.25" height="1.25" fill="#3d9e2b"/>
<rect x="562.94" y="245.04" width="1.25" height="1.25" fill="#3d9e2b"/>
<rect x="579.57" y="247.65" width="1.25" height="1.25" fill="#3d9e2b"/>
<rect x="575.91" y="237.91" width="1.25" height="1.25" fill="#3d9e2b"/>
<rect x="580.75" y="245.90" width="1.25" height="1.25" fill="#3d9e2b"/>
<rect x="567.49" y="256.91" width="1.25" height="1.25" fill="#3d9e2b"/>
<rect x="592.71" y="248.33" width="1.25" height="1.25" fill="#3d9e2b"/>
<rect x="585.73" y="238.08" width="1.25" height="1.25" fill="#3d9e2b"/>
<rect x="574.08" y="249.63" width="1.25" height="1.25" fill="#3d9e2b"/>
<rect x="560.62" y="248.00" width="1.25" height="1.25" fill="#3d9e2b"/>
<rect x="572.24" y="251.49" width="1.25" height="1.25" fill="#3d9e2b"/>
<rect x="585.53" y="230.50" width="1.25" height="1.25" fill="#3d9e2b"/>
<rect x="578.14" y="239.19" width="1.25" height="1.25" fill="#86c777"/>
<rect x="582.78" y="243.79" width="1.25" height="1.25" fill="#86c777"/>
<rect x="569.86" y="251.83" width="1.25" height="1.25" fill="#3d9e2b"/>
<rect x="573.99" y="244.31" width="1.25" height="1.25" fill="#86c777"/>
<rect x="578.16" y="238.25" width="1.25" height="1.25" fill="#3d9e2b"/>
<rect x="569.52" y="220.20" width="1.25" height="1.25" fill="#3d9e2b"/>
<rect x="571.47" y="242.35" width="1.25" height="1.25" fill="#3d9e2b"/>
<rect x="547.68" y="254.17" width="1.25" height="1.25" fill="#3d9e2b"/>
<rect x="567.90" y="245.83" width="1.25" height="1.25" fill="#3d9e2b"/>
<rect x="562.98" y="234.36" width="1.25" height="1.25" fill="#3d9e2b"/>
<rect x="577.26" y="255.29" width="1.25" height="1.25" fill="#3d9e2b"/>
<rect x="584.01" y="245.67" width="1.25" height="1.25" fill="#3d9e2b"/>
<rect x="573.60" y="259.68" width="1.25" height="1.25" fill="#3d9e2b"/>
<rect x="589.06" y="234.83" width="1.25" height="1.25" fill="#3d9e2b"/>
<rect x="580.75" y="251.68" width="1.25" height="1.25" fill="#3d9e2b"/>
<rect x="572.88" y="245.16" width="1.25" height="1.25" fill="#86c777"/>
<rect x="554.07" y="259.68" width="1.25" height="1.25" fill="#3d9e2b"/>
<rect x="585.19" y="247.97" width="1.25" height="1.25" fill="#3d9e2b"/>
<rect x="586.13" y="236.46" width="1.25" height="1.25" fill="#3d9e2b"/>
<rect x="567.73" y="253.31" width="1.25" height="1.25" fill="#3d9e2b"/>
<rect x="566.02" y="259.68" width="1.25" height="1.25" fill="#86c777"/>
<rect x="588.46" y="250.58" width="1.25" height="1.25" fill="#3d9e2b"/>
<rect x="570.97" y="216.25" width="1.25" height="1.25" fill="#3d9e2b"/>
<rect x="576.52" y="243.53" width="1.25" height="1.25" fill="#3d9e2b"/>
<rect x="593.29" y="232.09" width="1.25" height="1.25" fill="#3d9e2b"/>
<rect x="581.39" y="259.68" width="1.25" height="1.25" fill="#3d9e2b"/>
<rect x="585.20" y="232.52" width="1.25" height="1.25" fill="#3d9e2b"/>
<rect x="579.82" y="245.42" width="1.25" height="1.25" fill="#3d9e2b"/>
<rect x="584.24" y="224.67" width="1.25" height="1.25" fill="#3d9e2b"/>
<rect x="575.15" y="250.43" width="1.25" height="1.25" fill="#3d9e2b"/>
<rect x="560.54" y="253.68" width="1.25" height="1.25" fill="#86c777"/>
<rect x="587.38" y="254.62" width="1.25" height="1.25" fill="#3d9e2b"/>
<rect x="562.39" y="259.68" width="1.25" height="1.25" fill="#3d9e2b"/>
<rect x="579.60" y="229.07" width="1.25" height="1.25" fill="#3d9e2b"/>
<rect x="576.97" y="238.82" width="1.25" height="1.25" fill="#3d9e2b"/>
<rect x="562.00" y="233.91" width="1.25" height="1.25" fill="#3d9e2b"/>
<rect x="582.48" y="238.23" width="1.25" height="1.25" fill="#3d9e2b"/>
<rect x="590.71" y="225.04" width="1.25" height="1.25" fill="#3d9e2b"/>
<rect x="557.66" y="226.39" width="1.25" height="1.25" fill="#86c777"/>
<rect x="569.53" y="226.66" width="1.25" height="1.25" fill="#86c777"/>
<rect x="571.15" y="236.57" width="1.25" height="1.25" fill="#3d9e2b"/>
<rect x="564.35" y="245.27" width="1.25" height="1.25" fill="#3d9e2b"/>
<rect x="576.81" y="235.87" width="1.25" height="1.25" fill="#86c777"/>
<rect x="586.67" y="244.46" width="1.25" height="1.25" fill="#3d9e2b"/>
<rect x="569.14" y="257.48" width="1.25" height="1.25" fill="#86c777"/>
<rect x="560.92" y="245.49" width="1.25" height="1.25" fill="#3d9e2b"/>
<rect x="575.96" y="242.09" width="1.25" height="1.25" fill="#3d9e2b"/>
<rect x="586.65" y="228.29" width="1.25" height="1.25" fill="#3d9e2b"/>
<rect x="580.95" y="252.65" width="1.25" height="1.25" fill="#3d9e2b"/>
<rect x="580.69" y="258.96" width="1.25" height="1.25" fill="#86c777"/>
<rect x="574.51" y="253.90" width="1.25" height="1.25" fill="#3d9e2b"/>
<rect x="560.69" y="228.18" width="1.25" height="1.25" fill="#3d9e2b"/>
<rect x="579.45" y="237.69" width="1.25" height="1.25" fill="#86c777"/>
<rect x="585.71" y="238.97" width="1.25" height="1.25" fill="#86c777"/>
<rect x="581.62" y="235.56" width="1.25" height="1.25" fill="#3d9e2b"/>
<rect x="575.18" y="227.12" width="1.25" height="1.25" fill="#86c777"/>
<rect x="565.68" y="252.50" width="1.25" height="1.25" fill="#86c777"/>
<rect x="575.29" y="239.98" width="1.25" height="1.25" fill="#3d9e2b"/>
<rect x="585.52" y="244.70" width="1.25" height="1.25" fill="#3d9e2b"/>
<rect x="583.29" y="249.50" width="1.25" height="1.25" fill="#3d9e2b"/>
<rect x="564.80" y="238.55" width="1.25" height="1.25" fill="#3d9e2b"/>
<rect x="563.80" y="245.06" width="1.25" height="1.25" fill="#3d9e2b"/>
<rect x="583.29" y="259.68" width="1.25" height="1.25" fill="#3d9e2b"/>
<rect x="584.69" y="238.05" width="1.25" height="1.25" fill="#3d9e2b"/>
<rect x="571.94" y="223.60" width="1.25" height="1.25" fill="#3d9e2b"/>
<rect x="569.06" y="249.85" width="1.25" height="1.25" fill="#3d9e2b"/>
<rect x="556.47" y="248.69" width="1.25" height="1.25" fill="#3d9e2b"/>
<rect x="560.03" y="253.13" width="1.25" height="1.25" fill="#3d9e2b"/>
<rect x="571.58" y="236.70" width="1.25" height="1.25" fill="#3d9e2b"/>
<rect x="585.70" y="232.93" width="1.25" height="1.25" fill="#86c777"/>
<rect x="563.46" y="232.22" width="1.25" height="1.25" fill="#3d9e2b"/>
<rect x="589.19" y="233.47" width="1.25" height="1.25" fill="#3d9e2b"/>
<rect x="570.99" y="259.68" width="1.25" height="1.25" fill="#3d9e2b"/>
<rect x="563.20" y="259.68" width="1.25" height="1.25" fill="#3d9e2b"/>
<rect x="566.52" y="250.71" width="1.25" height="1.25" fill="#3d9e2b"/>
<rect x="582.76" y="236.74" width="1.25" height="1.25" fill="#3d9e2b"/>
<rect x="578.56" y="243.22" width="1.25" height="1.25" fill="#86c777"/>
<rect x="576.83" y="215.64" width="1.25" height="1.25" fill="#3d9e2b"/>
<rect x="561.38" y="236.37" width="1.25" height="1.25" fill="#3d9e2b"/>
<rect x="585.44" y="253.53" width="1.25" height="1.25" fill="#3d9e2b"/>
<rect x="571.57" y="244.23" width="1.25" height="1.25" fill="#3d9e2b"/>
<rect x="566.28" y="236.32" width="1.25" height="1.25" fill="#3d9e2b"/>
<rect x="573.03" y="259.68" width="1.25" height="1.25" fill="#3d9e2b"/>
<rect x="560.16" y="239.36" width="1.25" height="1.25" fill="#3d9e2b"/>
<rect x="571.11" y="259.68" width="1.25" height="1.25" fill="#86c777"/>
<rect x="580.89" y="250.57" width="1.25" height="1.25" fill="#3d9e2b"/>
<rect x="584.97" y="255.96" width="1.25" height="1.25" fill="#3d9e2b"/>
<rect x="575.54" y="250.12" width="1.25" height="1.25" fill="#3d9e2b"/>
<rect x="573.92" y="251.06" width="1.25" height="1.25" fill="#3d9e2b"/>
<rect x="569.63" y="245.30" width="1.25" height="1.25" fill="#3d9e2b"/>
<rect x="556.81" y="238.45" width="1.25" height="1.25" fill="#3d9e2b"/>
<rect x="571.30" y="244.83" width="1.25" height="1.25" fill="#3d9e2b"/>
<rect x="594.80" y="233.09" width="1.25" height="1.25" fill="#3d9e2b"/>
<rect x="582.02" y="246.91" width="1.25" height="1.25" fill="#3d9e2b"/>
<rect x="586.73" y="226.60" width="1.25" height="1.25" fill="#3d9e2b"/>
<rect x="568.15" y="252.05" width="1.25" height="1.25" fill="#3d9e2b"/>
<rect x="578.79" y="248.64" width="1.25" height="1.25" fill="#3d9e2b"/>
<rect x="556.35" y="242.18" width="1.25" height="1.25" fill="#3d9e2b"/>
<rect x="583.35" y="244.18" width="1.25" height="1.25" fill="#3d9e2b"/>
<rect x="581.18" y="250.10" width="1.25" height="1.25" fill="#3d9e2b"/>
<rect x="569.17" y="259.68" width="1.25" height="1.25" fill="#3d9e2b"/>
<rect x="561.16" y="252.94" width="1.25" height="1.25" fill="#3d9e2b"/>
<rect x="566.80" y="259.68" width="1.25" height="1.25" fill="#3d9e2b"/>
<rect x="578.55" y="240.05" width="1.25" height="1.25" fill="#3d9e2b"/>
<rect x="571.29" y="238.96" width="1.25" height="1.25" fill="#3d9e2b"/>
<rect x="572.19" y="250.26" width="1.25" height="1.25" fill="#3d9e2b"/>
<rect x="570.93" y="242.96" width="1.25" height="1.25" fill="#3d9e2b"/>
<rect x="578.68" y="245.38" width="1.25" height="1.25" fill="#3d9e2b"/>
<rect x="587.15" y="240.49" width="1.25" height="1.25" fill="#86c777"/>
<rect x="583.23" y="233.93" width="1.25" height="1.25" fill="#3d9e2b"/>
<rect x="585.96" y="226.58" width="1.25" height="1.25" fill="#3d9e2b"/>
<rect x="583.45" y="222.74" width="1.25" height="1.25" fill="#3d9e2b"/>
<rect x="586.75" y="219.67" width="1.25" height="1.25" fill="#3d9e2b"/>
<rect x="576.88" y="239.11" width="1.25" height="1.25" fill="#3d9e2b"/>
<rect x="589.18" y="239.81" width="1.25" height="1.25" fill="#3d9e2b"/>
<rect x="561.86" y="245.83" width="1.25" height="1.25" fill="#3d9e2b"/>
<rect x="579.65" y="245.61" width="1.25" height="1.25" fill="#3d9e2b"/>
<rect x="597.71" y="248.50" width="1.25" height="1.25" fill="#3d9e2b"/>
<rect x="588.38" y="249.68" width="1.25" height="1.25" fill="#3d9e2b"/>
<rect x="576.53" y="242.51" width="1.25" height="1.25" fill="#3d9e2b"/>
<rect x="559.59" y="249.17" width="1.25" height="1.25" fill="#3d9e2b"/>
<rect x="585.26" y="245.65" width="1.25" height="1.25" fill="#3d9e2b"/>
<rect x="575.42" y="245.89" width="1.25" height="1.25" fill="#3d9e2b"/>
<rect x="561.44" y="246.37" width="1.25" height="1.25" fill="#3d9e2b"/>
<rect x="560.77" y="252.88" width="1.25" height="1.25" fill="#3d9e2b"/>
<rect x="573.73" y="259.68" width="1.25" height="1.25" fill="#3d9e2b"/>
<rect x="578.28" y="238.84" width="1.25" height="1.25" fill="#3d9e2b"/>
<rect x="576.21" y="231.42" width="1.25" height="1.25" fill="#3d9e2b"/>
<rect x="578.35" y="259.68" width="1.25" height="1.25" fill="#3d9e2b"/>
<rect x="580.64" y="233.94" width="1.25" height="1.25" fill="#3d9e2b"/>
<rect x="594.59" y="250.50" width="1.25" height="1.25" fill="#86c777"/>
<rect x="577.74" y="250.06" width="1.25" height="1.25" fill="#86c777"/>
<rect x="580.95" y="230.56" width="1.25" height="1.25" fill="#3d9e2b"/>
<rect x="581.99" y="219.78" width="1.25" height="1.25" fill="#3d9e2b"/>
<rect x="568.85" y="211.47" width="1.25" height="1.25" fill="#3d9e2b"/>
<rect x="569.45" y="243.48" width="1.25" height="1.25" fill="#3d9e2b"/>
<rect x="564.74" y="253.43" width="1.25" height="1.25" fill="#3d9e2b"/>
<rect x="569.51" y="237.07" width="1.25" height="1.25" fill="#86c777"/>
<rect x="566.09" y="237.34" width="1.25" height="1.25" fill="#3d9e2b"/>
<rect x="576.08" y="259.68" width="1.25" height="1.25" fill="#3d9e2b"/>
<line x1="547.10" y1="251.30" x2="600.70" y2="236.90" stroke="#161616" stroke-width="1.08"/>
<rect x="547.10" y="209.00" width="53.60" height="52.50" fill="none" stroke="#4a4a4a" stroke-width="1.0"/>
<line x1="549.30" y1="261.50" x2="549.30" y2="263.80" stroke="#444" stroke-width="0.6"/>
<text x="549.30" y="267.90" font-size="4.4" fill="#222" text-anchor="middle" stroke="#222" stroke-width="0.18" >4</text>
<line x1="556.70" y1="261.50" x2="556.70" y2="263.80" stroke="#444" stroke-width="0.6"/>
<text x="556.70" y="267.90" font-size="4.4" fill="#222" text-anchor="middle" stroke="#222" stroke-width="0.18" >5</text>
<line x1="564.10" y1="261.50" x2="564.10" y2="263.80" stroke="#444" stroke-width="0.6"/>
<text x="564.10" y="267.90" font-size="4.4" fill="#222" text-anchor="middle" stroke="#222" stroke-width="0.18" >6</text>
<line x1="571.50" y1="261.50" x2="571.50" y2="263.80" stroke="#444" stroke-width="0.6"/>
<text x="571.50" y="267.90" font-size="4.4" fill="#222" text-anchor="middle" stroke="#222" stroke-width="0.18" >7</text>
<line x1="578.90" y1="261.50" x2="578.90" y2="263.80" stroke="#444" stroke-width="0.6"/>
<text x="578.90" y="267.90" font-size="4.4" fill="#222" text-anchor="middle" stroke="#222" stroke-width="0.18" >8</text>
<line x1="586.30" y1="261.50" x2="586.30" y2="263.80" stroke="#444" stroke-width="0.6"/>
<text x="586.30" y="267.90" font-size="4.4" fill="#222" text-anchor="middle" stroke="#222" stroke-width="0.18" >9</text>
<line x1="593.70" y1="261.50" x2="593.70" y2="263.80" stroke="#444" stroke-width="0.6"/>
<text x="593.70" y="267.90" font-size="4.4" fill="#222" text-anchor="middle" stroke="#222" stroke-width="0.18" >10</text>
<line x1="544.80" y1="260.00" x2="547.10" y2="260.00" stroke="#555" stroke-width="0.6"/>
<text x="543.38" y="260.00" font-size="4.4" fill="#222" text-anchor="middle" stroke="#222" stroke-width="0.18" transform="rotate(-90 543.38 260.00)" >0</text>
<line x1="544.80" y1="250.90" x2="547.10" y2="250.90" stroke="#555" stroke-width="0.6"/>
<text x="543.38" y="250.90" font-size="4.4" fill="#222" text-anchor="middle" stroke="#222" stroke-width="0.18" transform="rotate(-90 543.38 250.90)" >2</text>
<line x1="544.80" y1="241.80" x2="547.10" y2="241.80" stroke="#555" stroke-width="0.6"/>
<text x="543.38" y="241.80" font-size="4.4" fill="#222" text-anchor="middle" stroke="#222" stroke-width="0.18" transform="rotate(-90 543.38 241.80)" >4</text>
<line x1="544.80" y1="232.70" x2="547.10" y2="232.70" stroke="#555" stroke-width="0.6"/>
<text x="543.38" y="232.70" font-size="4.4" fill="#222" text-anchor="middle" stroke="#222" stroke-width="0.18" transform="rotate(-90 543.38 232.70)" >6</text>
<line x1="544.80" y1="223.60" x2="547.10" y2="223.60" stroke="#555" stroke-width="0.6"/>
<text x="543.38" y="223.60" font-size="4.4" fill="#222" text-anchor="middle" stroke="#222" stroke-width="0.18" transform="rotate(-90 543.38 223.60)" >8</text>
<line x1="544.80" y1="214.50" x2="547.10" y2="214.50" stroke="#555" stroke-width="0.6"/>
<text x="543.38" y="214.50" font-size="4.4" fill="#222" text-anchor="middle" stroke="#222" stroke-width="0.18" transform="rotate(-90 543.38 214.50)" >10</text>
<text x="573.10" y="273.60" font-size="4.8" fill="#222" text-anchor="middle" stroke="#222" stroke-width="0.18" >GLI3</text>
<text x="537.65" y="233.05" font-size="4.6" fill="#111" text-anchor="middle" stroke="#111" stroke-width="0.18" transform="rotate(-90 537.65 233.05)" >SOX11</text>
<text x="548.10" y="208.00" font-size="4.5" fill="#2a2a2a" text-anchor="start" stroke="#2a2a2a" stroke-width="0.06" textLength="16.90" lengthAdjust="spacingAndGlyphs" >corr=0.23</text>
<text x="578.80" y="208.00" font-size="4.5" fill="#2a2a2a" text-anchor="start" stroke="#2a2a2a" stroke-width="0.06" textLength="23.60" lengthAdjust="spacingAndGlyphs" >p=0.0002640</text>
<polygon points="624.60,239.50 633.20,237.30 641.90,231.90 648.30,226.60 652.60,225.50 658.00,228.70 661.70,234.10 661.70,257.80 659.10,254.60 654.80,250.30 648.30,247.00 637.60,250.30 624.60,257.80" fill="#fdeeee" stroke="#f4a6a6" stroke-width="0.6"/>
<rect x="644.90" y="234.68" width="1.25" height="1.25" fill="#f4898b"/>
<rect x="636.56" y="255.86" width="1.25" height="1.25" fill="#f4898b"/>
<rect x="646.99" y="225.96" width="1.25" height="1.25" fill="#f4898b"/>
<rect x="654.78" y="244.38" width="1.25" height="1.25" fill="#f4898b"/>
<rect x="644.44" y="250.57" width="1.25" height="1.25" fill="#f4898b"/>
<rect x="639.02" y="253.62" width="1.25" height="1.25" fill="#f4898b"/>
<rect x="639.91" y="237.35" width="1.25" height="1.25" fill="#f4898b"/>
<rect x="650.65" y="246.46" width="1.25" height="1.25" fill="#f4898b"/>
<rect x="647.58" y="231.34" width="1.25" height="1.25" fill="#f4898b"/>
<rect x="642.42" y="243.05" width="1.25" height="1.25" fill="#f4898b"/>
<rect x="650.05" y="240.68" width="1.25" height="1.25" fill="#f4898b"/>
<rect x="652.90" y="236.57" width="1.25" height="1.25" fill="#f4898b"/>
<rect x="640.58" y="255.32" width="1.25" height="1.25" fill="#f4898b"/>
<rect x="656.26" y="227.10" width="1.25" height="1.25" fill="#f4898b"/>
<rect x="649.25" y="233.72" width="1.25" height="1.25" fill="#f8b4b4"/>
<rect x="648.99" y="232.70" width="1.25" height="1.25" fill="#f4898b"/>
<rect x="640.56" y="245.58" width="1.25" height="1.25" fill="#f8b4b4"/>
<rect x="656.76" y="230.40" width="1.25" height="1.25" fill="#f4898b"/>
<rect x="644.94" y="251.45" width="1.25" height="1.25" fill="#f4898b"/>
<rect x="652.93" y="237.18" width="1.25" height="1.25" fill="#f4898b"/>
<rect x="646.69" y="259.98" width="1.25" height="1.25" fill="#f4898b"/>
<rect x="645.07" y="255.45" width="1.25" height="1.25" fill="#f4898b"/>
<rect x="640.79" y="244.42" width="1.25" height="1.25" fill="#f4898b"/>
<rect x="652.82" y="248.68" width="1.25" height="1.25" fill="#f4898b"/>
<rect x="641.35" y="244.98" width="1.25" height="1.25" fill="#f4898b"/>
<rect x="647.83" y="219.41" width="1.25" height="1.25" fill="#f8b4b4"/>
<rect x="651.76" y="238.11" width="1.25" height="1.25" fill="#f4898b"/>
<rect x="642.37" y="249.34" width="1.25" height="1.25" fill="#f4898b"/>
<rect x="638.89" y="249.46" width="1.25" height="1.25" fill="#f4898b"/>
<rect x="629.84" y="248.71" width="1.25" height="1.25" fill="#f4898b"/>
<rect x="643.87" y="233.24" width="1.25" height="1.25" fill="#f4898b"/>
<rect x="640.75" y="259.98" width="1.25" height="1.25" fill="#f4898b"/>
<rect x="630.43" y="247.63" width="1.25" height="1.25" fill="#f4898b"/>
<rect x="634.23" y="259.98" width="1.25" height="1.25" fill="#f4898b"/>
<rect x="645.42" y="242.31" width="1.25" height="1.25" fill="#f4898b"/>
<rect x="636.52" y="251.14" width="1.25" height="1.25" fill="#f4898b"/>
<rect x="647.03" y="240.81" width="1.25" height="1.25" fill="#f4898b"/>
<rect x="622.77" y="255.85" width="1.25" height="1.25" fill="#f4898b"/>
<rect x="633.52" y="254.58" width="1.25" height="1.25" fill="#f4898b"/>
<rect x="650.76" y="243.57" width="1.25" height="1.25" fill="#f4898b"/>
<rect x="654.60" y="237.24" width="1.25" height="1.25" fill="#f4898b"/>
<rect x="629.86" y="258.97" width="1.25" height="1.25" fill="#f4898b"/>
<rect x="643.47" y="238.83" width="1.25" height="1.25" fill="#f8b4b4"/>
<rect x="639.98" y="234.17" width="1.25" height="1.25" fill="#f4898b"/>
<rect x="635.48" y="229.68" width="1.25" height="1.25" fill="#f4898b"/>
<rect x="646.49" y="252.69" width="1.25" height="1.25" fill="#f4898b"/>
<rect x="648.82" y="239.88" width="1.25" height="1.25" fill="#f4898b"/>
<rect x="623.77" y="251.38" width="1.25" height="1.25" fill="#f4898b"/>
<rect x="653.36" y="246.26" width="1.25" height="1.25" fill="#f4898b"/>
<rect x="646.11" y="247.12" width="1.25" height="1.25" fill="#f4898b"/>
<rect x="621.22" y="252.23" width="1.25" height="1.25" fill="#f4898b"/>
<rect x="640.72" y="246.42" width="1.25" height="1.25" fill="#f4898b"/>
<rect x="638.57" y="222.83" width="1.25" height="1.25" fill="#f4898b"/>
<rect x="653.73" y="242.47" width="1.25" height="1.25" fill="#f8b4b4"/>
<rect x="637.53" y="239.97" width="1.25" height="1.25" fill="#f4898b"/>
<rect x="622.30" y="234.79" width="1.25" height="1.25" fill="#f4898b"/>
<rect x="646.33" y="247.55" width="1.25" height="1.25" fill="#f4898b"/>
<rect x="642.58" y="247.72" width="1.25" height="1.25" fill="#f4898b"/>
<rect x="640.69" y="253.68" width="1.25" height="1.25" fill="#f4898b"/>
<rect x="639.21" y="238.32" width="1.25" height="1.25" fill="#f4898b"/>
<rect x="632.34" y="250.12" width="1.25" height="1.25" fill="#f4898b"/>
<rect x="636.56" y="244.62" width="1.25" height="1.25" fill="#f8b4b4"/>
<rect x="638.43" y="241.53" width="1.25" height="1.25" fill="#f8b4b4"/>
<rect x="644.76" y="259.98" width="1.25" height="1.25" fill="#f4898b"/>
<rect x="640.03" y="251.92" width="1.25" height="1.25" fill="#f4898b"/>
<rect x="653.89" y="237.54" width="1.25" height="1.25" fill="#f4898b"/>
<rect x="625.24" y="247.99" width="1.25" height="1.25" fill="#f4898b"/>
<rect x="645.48" y="239.39" width="1.25" height="1.25" fill="#f4898b"/>
<rect x="625.88" y="259.98" width="1.25" height="1.25" fill="#f4898b"/>
<rect x="647.70" y="229.79" width="1.25" height="1.25" fill="#f4898b"/>
<rect x="624.91" y="250.74" width="1.25" height="1.25" fill="#f4898b"/>
<rect x="646.06" y="247.64" width="1.25" height="1.25" fill="#f4898b"/>
<rect x="660.42" y="239.78" width="1.25" height="1.25" fill="#f8b4b4"/>
<rect x="629.55" y="247.76" width="1.25" height="1.25" fill="#f8b4b4"/>
<rect x="634.21" y="257.30" width="1.25" height="1.25" fill="#f4898b"/>
<rect x="645.22" y="246.28" width="1.25" height="1.25" fill="#f4898b"/>
<rect x="643.15" y="248.10" width="1.25" height="1.25" fill="#f4898b"/>
<rect x="632.74" y="249.74" width="1.25" height="1.25" fill="#f8b4b4"/>
<rect x="652.07" y="237.27" width="1.25" height="1.25" fill="#f4898b"/>
<rect x="634.44" y="253.32" width="1.25" height="1.25" fill="#f4898b"/>
<rect x="628.80" y="249.02" width="1.25" height="1.25" fill="#f4898b"/>
<rect x="648.25" y="248.54" width="1.25" height="1.25" fill="#f4898b"/>
<rect x="662.58" y="248.51" width="1.25" height="1.25" fill="#f4898b"/>
<rect x="634.98" y="254.68" width="1.25" height="1.25" fill="#f4898b"/>
<rect x="635.12" y="238.57" width="1.25" height="1.25" fill="#f4898b"/>
<rect x="642.42" y="242.25" width="1.25" height="1.25" fill="#f8b4b4"/>
<rect x="642.22" y="243.14" width="1.25" height="1.25" fill="#f4898b"/>
<rect x="632.53" y="249.50" width="1.25" height="1.25" fill="#f8b4b4"/>
<rect x="639.50" y="239.25" width="1.25" height="1.25" fill="#f8b4b4"/>
<rect x="637.64" y="246.09" width="1.25" height="1.25" fill="#f8b4b4"/>
<rect x="626.41" y="231.65" width="1.25" height="1.25" fill="#f4898b"/>
<rect x="641.48" y="248.85" width="1.25" height="1.25" fill="#f4898b"/>
<rect x="630.37" y="233.93" width="1.25" height="1.25" fill="#f4898b"/>
<rect x="638.51" y="248.04" width="1.25" height="1.25" fill="#f8b4b4"/>
<rect x="642.65" y="232.51" width="1.25" height="1.25" fill="#f4898b"/>
<rect x="644.51" y="241.92" width="1.25" height="1.25" fill="#f8b4b4"/>
<rect x="631.36" y="249.16" width="1.25" height="1.25" fill="#f4898b"/>
<rect x="642.33" y="257.05" width="1.25" height="1.25" fill="#f4898b"/>
<rect x="625.50" y="242.53" width="1.25" height="1.25" fill="#f4898b"/>
<rect x="654.62" y="237.89" width="1.25" height="1.25" fill="#f4898b"/>
<line x1="619.90" y1="250.30" x2="673.80" y2="233.00" stroke="#161616" stroke-width="1.08"/>
<rect x="619.90" y="209.00" width="53.90" height="52.80" fill="none" stroke="#4a4a4a" stroke-width="1.0"/>
<line x1="629.40" y1="261.80" x2="629.40" y2="264.10" stroke="#444" stroke-width="0.6"/>
<text x="629.40" y="268.20" font-size="4.4" fill="#222" text-anchor="middle" stroke="#222" stroke-width="0.18" >6</text>
<line x1="640.90" y1="261.80" x2="640.90" y2="264.10" stroke="#444" stroke-width="0.6"/>
<text x="640.90" y="268.20" font-size="4.4" fill="#222" text-anchor="middle" stroke="#222" stroke-width="0.18" >8</text>
<line x1="652.40" y1="261.80" x2="652.40" y2="264.10" stroke="#444" stroke-width="0.6"/>
<text x="652.40" y="268.20" font-size="4.4" fill="#222" text-anchor="middle" stroke="#222" stroke-width="0.18" >10</text>
<line x1="663.90" y1="261.80" x2="663.90" y2="264.10" stroke="#444" stroke-width="0.6"/>
<text x="663.90" y="268.20" font-size="4.4" fill="#222" text-anchor="middle" stroke="#222" stroke-width="0.18" >12</text>
<line x1="617.60" y1="260.00" x2="619.90" y2="260.00" stroke="#555" stroke-width="0.6"/>
<text x="616.18" y="260.00" font-size="4.4" fill="#222" text-anchor="middle" stroke="#222" stroke-width="0.18" transform="rotate(-90 616.18 260.00)" >0</text>
<line x1="617.60" y1="251.80" x2="619.90" y2="251.80" stroke="#555" stroke-width="0.6"/>
<text x="616.18" y="251.80" font-size="4.4" fill="#222" text-anchor="middle" stroke="#222" stroke-width="0.18" transform="rotate(-90 616.18 251.80)" >2</text>
<line x1="617.60" y1="243.60" x2="619.90" y2="243.60" stroke="#555" stroke-width="0.6"/>
<text x="616.18" y="243.60" font-size="4.4" fill="#222" text-anchor="middle" stroke="#222" stroke-width="0.18" transform="rotate(-90 616.18 243.60)" >4</text>
<line x1="617.60" y1="235.40" x2="619.90" y2="235.40" stroke="#555" stroke-width="0.6"/>
<text x="616.18" y="235.40" font-size="4.4" fill="#222" text-anchor="middle" stroke="#222" stroke-width="0.18" transform="rotate(-90 616.18 235.40)" >6</text>
<line x1="617.60" y1="227.20" x2="619.90" y2="227.20" stroke="#555" stroke-width="0.6"/>
<text x="616.18" y="227.20" font-size="4.4" fill="#222" text-anchor="middle" stroke="#222" stroke-width="0.18" transform="rotate(-90 616.18 227.20)" >8</text>
<line x1="617.60" y1="219.00" x2="619.90" y2="219.00" stroke="#555" stroke-width="0.6"/>
<text x="616.18" y="219.00" font-size="4.4" fill="#222" text-anchor="middle" stroke="#222" stroke-width="0.18" transform="rotate(-90 616.18 219.00)" >10</text>
<line x1="617.60" y1="210.80" x2="619.90" y2="210.80" stroke="#555" stroke-width="0.6"/>
<text x="616.18" y="210.80" font-size="4.4" fill="#222" text-anchor="middle" stroke="#222" stroke-width="0.18" transform="rotate(-90 616.18 210.80)" >12</text>
<text x="646.05" y="273.90" font-size="4.8" fill="#222" text-anchor="middle" stroke="#222" stroke-width="0.18" >GLI3</text>
<text x="610.35" y="233.20" font-size="4.6" fill="#111" text-anchor="middle" stroke="#111" stroke-width="0.18" transform="rotate(-90 610.35 233.20)" >SOX11</text>
<text x="621.10" y="208.00" font-size="4.5" fill="#2a2a2a" text-anchor="start" stroke="#2a2a2a" stroke-width="0.06" textLength="16.10" lengthAdjust="spacingAndGlyphs" >corr=0.23</text>
<text x="660.80" y="208.00" font-size="4.5" fill="#2a2a2a" text-anchor="start" stroke="#2a2a2a" stroke-width="0.06" textLength="19.80" lengthAdjust="spacingAndGlyphs" >p=0.02040</text>
<rect x="0" y="0" width="685" height="1.7" fill="#3c3c3c"/>
<rect x="0.9" y="0" width="2.1" height="277" fill="#141414"/>
<rect x="682.8" y="0" width="2.2" height="278" fill="#353535"/>
<rect x="0" y="274.8" width="683" height="2.0" fill="#141414"/>
<rect x="222.2" y="0" width="7.6" height="277" fill="#141414"/>
<rect x="450.2" y="0" width="7.9" height="277" fill="#141414"/>
</svg>
</body></html>
